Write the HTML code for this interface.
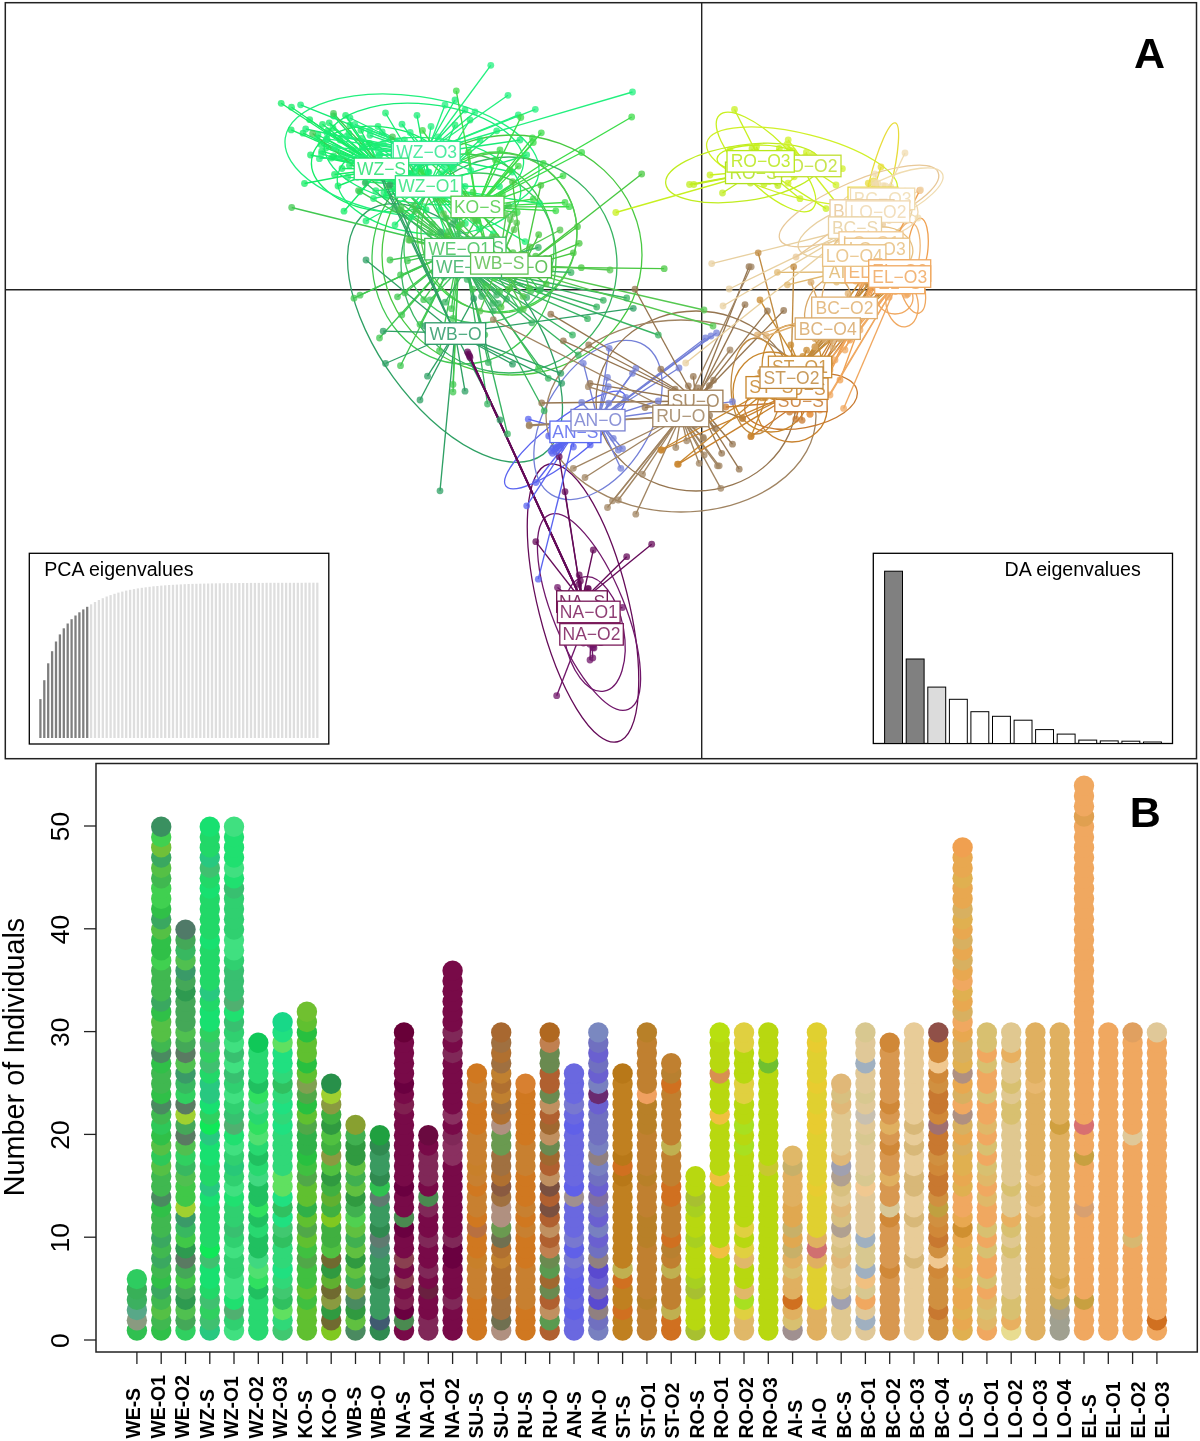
<!DOCTYPE html><html><head><meta charset="utf-8"><style>html,body{margin:0;padding:0;background:#fff;}svg{display:block;will-change:transform}</style></head><body>
<svg width="1200" height="1441" viewBox="0 0 1200 1441" font-family='"Liberation Sans", sans-serif'>
<rect width="1200" height="1441" fill="#fff"/>
<g id="A">
<line x1="5" y1="289.8" x2="1197" y2="289.8" stroke="#222" stroke-width="1.4"/>
<line x1="701.7" y1="3" x2="701.7" y2="759" stroke="#222" stroke-width="1.4"/>
<g fill="none" stroke-width="1.3"><ellipse cx="381.0" cy="169.0" rx="70" ry="42" transform="rotate(8 381.0 169.0)" stroke="#14ec66"/><ellipse cx="429.0" cy="186.0" rx="92" ry="48" transform="rotate(5 429.0 186.0)" stroke="#1cee72"/><ellipse cx="424.0" cy="154.0" rx="100" ry="50" transform="rotate(6 424.0 154.0)" stroke="#18ec76"/><ellipse cx="412.0" cy="156.0" rx="128" ry="60" transform="rotate(8 412.0 156.0)" stroke="#22f07e"/><ellipse cx="497.0" cy="232.0" rx="80" ry="80" transform="rotate(0 497.0 232.0)" stroke="#3cdc48"/><ellipse cx="512.0" cy="255.0" rx="130" ry="120" transform="rotate(0 512.0 255.0)" stroke="#48c840"/><ellipse cx="479.0" cy="248.0" rx="75" ry="75" transform="rotate(0 479.0 248.0)" stroke="#40c860"/><ellipse cx="464.0" cy="259.0" rx="92" ry="105" transform="rotate(0 464.0 259.0)" stroke="#40c850"/><ellipse cx="509.0" cy="265.0" rx="108" ry="108" transform="rotate(0 509.0 265.0)" stroke="#38b462"/><ellipse cx="499.0" cy="233.0" rx="78" ry="80" transform="rotate(0 499.0 233.0)" stroke="#55c850"/><ellipse cx="455.0" cy="333.0" rx="150" ry="76" transform="rotate(54 455.0 333.0)" stroke="#2ea064"/><ellipse cx="583.0" cy="603.0" rx="143" ry="45" transform="rotate(76 583.0 603.0)" stroke="#640a58"/><ellipse cx="589.0" cy="612.0" rx="105" ry="36" transform="rotate(68 589.0 612.0)" stroke="#70166a"/><ellipse cx="594.0" cy="634.0" rx="58" ry="30" transform="rotate(80 594.0 634.0)" stroke="#70166a"/><ellipse cx="565.0" cy="440.0" rx="75" ry="20" transform="rotate(-38 565.0 440.0)" stroke="#5a64f0"/><ellipse cx="598.0" cy="420.0" rx="88" ry="52" transform="rotate(-58 598.0 420.0)" stroke="#7480d8"/><ellipse cx="696.0" cy="401.0" rx="100" ry="90" transform="rotate(0 696.0 401.0)" stroke="#957550"/><ellipse cx="681.0" cy="416.0" rx="135" ry="96" transform="rotate(0 681.0 416.0)" stroke="#a08462"/><ellipse cx="801.0" cy="401.0" rx="57" ry="27" transform="rotate(-10 801.0 401.0)" stroke="#c87a30"/><ellipse cx="792.0" cy="409.0" rx="35" ry="33" transform="rotate(0 792.0 409.0)" stroke="#c8822e"/><ellipse cx="771.0" cy="392.0" rx="38" ry="40" transform="rotate(0 771.0 392.0)" stroke="#c8862c"/><ellipse cx="792.0" cy="367.0" rx="30" ry="42" transform="rotate(0 792.0 367.0)" stroke="#c88a30"/><ellipse cx="756.0" cy="386.0" rx="25" ry="48" transform="rotate(0 756.0 386.0)" stroke="#c08a40"/><ellipse cx="743.0" cy="173.0" rx="78" ry="28" transform="rotate(-8 743.0 173.0)" stroke="#c0ec20"/><ellipse cx="766.0" cy="162.0" rx="66" ry="24" transform="rotate(45 766.0 162.0)" stroke="#c8f020"/><ellipse cx="802.0" cy="166.0" rx="98" ry="32" transform="rotate(14 802.0 166.0)" stroke="#d0f028"/><ellipse cx="759.0" cy="159.0" rx="42" ry="14" transform="rotate(0 759.0 159.0)" stroke="#c4f018"/><ellipse cx="880.0" cy="184.0" rx="11" ry="63" transform="rotate(14 880.0 184.0)" stroke="#e8dc3c"/><ellipse cx="855.0" cy="228.0" rx="60" ry="22" transform="rotate(-20 855.0 228.0)" stroke="#e8d0a0"/><ellipse cx="859.0" cy="206.0" rx="86" ry="25" transform="rotate(-23 859.0 206.0)" stroke="#e8c898"/><ellipse cx="845.0" cy="293.0" rx="22" ry="36" transform="rotate(15 845.0 293.0)" stroke="#e0b070"/><ellipse cx="888.0" cy="199.0" rx="60" ry="20" transform="rotate(-25 888.0 199.0)" stroke="#f0dcb0"/><ellipse cx="828.0" cy="309.0" rx="22" ry="32" transform="rotate(20 828.0 309.0)" stroke="#d8a868"/><ellipse cx="918.0" cy="248.0" rx="10" ry="30" transform="rotate(5 918.0 248.0)" stroke="#f0a050"/><ellipse cx="905.0" cy="258.0" rx="14" ry="36" transform="rotate(10 905.0 258.0)" stroke="#f0b878"/><ellipse cx="878.0" cy="212.0" rx="40" ry="24" transform="rotate(0 878.0 212.0)" stroke="#f0d8b0"/><ellipse cx="885.0" cy="249.0" rx="28" ry="22" transform="rotate(10 885.0 249.0)" stroke="#e8c080"/><ellipse cx="862.0" cy="256.0" rx="30" ry="20" transform="rotate(20 862.0 256.0)" stroke="#e8c080"/><ellipse cx="902.0" cy="303.0" rx="16" ry="24" transform="rotate(-10 902.0 303.0)" stroke="#f0a860"/><ellipse cx="895.0" cy="298.0" rx="18" ry="16" transform="rotate(0 895.0 298.0)" stroke="#f0a860"/><ellipse cx="912.0" cy="286.0" rx="12" ry="28" transform="rotate(-15 912.0 286.0)" stroke="#f0a860"/></g>
<g stroke-width="1.35"><line x1="381.0" y1="169.0" x2="281.2" y2="103.3" stroke="#14ec66"/><line x1="381.0" y1="169.0" x2="309.7" y2="119.7" stroke="#14ec66"/><line x1="381.0" y1="169.0" x2="333.7" y2="116.0" stroke="#14ec66"/><line x1="381.0" y1="169.0" x2="322.5" y2="124.3" stroke="#14ec66"/><line x1="381.0" y1="169.0" x2="329.2" y2="122.8" stroke="#14ec66"/><line x1="381.0" y1="169.0" x2="333.0" y2="128.0" stroke="#14ec66"/><line x1="381.0" y1="169.0" x2="327.8" y2="131.0" stroke="#14ec66"/><line x1="381.0" y1="169.0" x2="327.0" y2="139.2" stroke="#14ec66"/><line x1="381.0" y1="169.0" x2="321.0" y2="144.5" stroke="#14ec66"/><line x1="381.0" y1="169.0" x2="321.7" y2="151.2" stroke="#14ec66"/><line x1="381.0" y1="169.0" x2="310.5" y2="155.0" stroke="#14ec66"/><line x1="381.0" y1="169.0" x2="331.5" y2="158.0" stroke="#14ec66"/><line x1="381.0" y1="169.0" x2="342.0" y2="168.5" stroke="#14ec66"/><line x1="381.0" y1="169.0" x2="334.5" y2="174.5" stroke="#14ec66"/><line x1="381.0" y1="169.0" x2="304.5" y2="183.5" stroke="#14ec66"/><line x1="381.0" y1="169.0" x2="344.0" y2="211.2" stroke="#14ec66"/><line x1="381.0" y1="169.0" x2="318.0" y2="135.0" stroke="#14ec66"/><line x1="381.0" y1="169.0" x2="326.0" y2="148.0" stroke="#14ec66"/><line x1="381.0" y1="169.0" x2="340.0" y2="140.0" stroke="#14ec66"/><line x1="381.0" y1="169.0" x2="350.0" y2="125.0" stroke="#14ec66"/><line x1="381.0" y1="169.0" x2="352.0" y2="150.0" stroke="#14ec66"/><line x1="381.0" y1="169.0" x2="338.0" y2="186.0" stroke="#14ec66"/><line x1="381.0" y1="169.0" x2="359.9" y2="191.8" stroke="#14ec66"/><line x1="381.0" y1="169.0" x2="431.2" y2="179.7" stroke="#14ec66"/><line x1="381.0" y1="169.0" x2="362.4" y2="147.2" stroke="#14ec66"/><line x1="381.0" y1="169.0" x2="397.3" y2="174.9" stroke="#14ec66"/><line x1="381.0" y1="169.0" x2="422.0" y2="142.9" stroke="#14ec66"/><line x1="381.0" y1="169.0" x2="442.9" y2="195.2" stroke="#14ec66"/><line x1="381.0" y1="169.0" x2="403.1" y2="175.7" stroke="#14ec66"/><line x1="381.0" y1="169.0" x2="349.5" y2="165.2" stroke="#14ec66"/><line x1="381.0" y1="169.0" x2="410.2" y2="177.4" stroke="#14ec66"/><line x1="381.0" y1="169.0" x2="357.7" y2="174.4" stroke="#14ec66"/><line x1="381.0" y1="169.0" x2="345.6" y2="115.4" stroke="#14ec66"/><line x1="381.0" y1="169.0" x2="395.1" y2="159.0" stroke="#14ec66"/><line x1="381.0" y1="169.0" x2="291.5" y2="107.2" stroke="#14ec66"/><line x1="381.0" y1="169.0" x2="360.9" y2="130.3" stroke="#14ec66"/><line x1="381.0" y1="169.0" x2="303.0" y2="133.2" stroke="#14ec66"/><line x1="381.0" y1="169.0" x2="413.8" y2="178.3" stroke="#14ec66"/><line x1="381.0" y1="169.0" x2="333.7" y2="156.0" stroke="#14ec66"/><line x1="381.0" y1="169.0" x2="406.3" y2="173.2" stroke="#14ec66"/><line x1="381.0" y1="169.0" x2="386.0" y2="196.3" stroke="#14ec66"/><line x1="381.0" y1="169.0" x2="369.2" y2="143.4" stroke="#14ec66"/><line x1="381.0" y1="169.0" x2="384.5" y2="176.3" stroke="#14ec66"/><line x1="381.0" y1="169.0" x2="432.7" y2="161.6" stroke="#14ec66"/><line x1="381.0" y1="169.0" x2="348.8" y2="133.3" stroke="#14ec66"/><line x1="381.0" y1="169.0" x2="291.2" y2="129.9" stroke="#14ec66"/><line x1="381.0" y1="169.0" x2="401.8" y2="160.4" stroke="#14ec66"/><line x1="381.0" y1="169.0" x2="426.1" y2="209.7" stroke="#14ec66"/><line x1="381.0" y1="169.0" x2="395.7" y2="185.3" stroke="#14ec66"/><line x1="381.0" y1="169.0" x2="426.7" y2="157.6" stroke="#14ec66"/><line x1="429.0" y1="186.0" x2="366.0" y2="221.0" stroke="#1cee72"/><line x1="429.0" y1="186.0" x2="385.5" y2="113.0" stroke="#1cee72"/><line x1="429.0" y1="186.0" x2="378.0" y2="126.5" stroke="#1cee72"/><line x1="429.0" y1="186.0" x2="361.5" y2="138.5" stroke="#1cee72"/><line x1="429.0" y1="186.0" x2="366.0" y2="182.0" stroke="#1cee72"/><line x1="429.0" y1="186.0" x2="373.5" y2="198.5" stroke="#1cee72"/><line x1="429.0" y1="186.0" x2="384.0" y2="192.5" stroke="#1cee72"/><line x1="429.0" y1="186.0" x2="496.7" y2="130.8" stroke="#1cee72"/><line x1="429.0" y1="186.0" x2="526.7" y2="155.0" stroke="#1cee72"/><line x1="429.0" y1="186.0" x2="470.0" y2="120.0" stroke="#1cee72"/><line x1="429.0" y1="186.0" x2="480.0" y2="140.0" stroke="#1cee72"/><line x1="429.0" y1="186.0" x2="455.0" y2="125.0" stroke="#1cee72"/><line x1="429.0" y1="186.0" x2="360.0" y2="160.0" stroke="#1cee72"/><line x1="429.0" y1="186.0" x2="395.0" y2="225.0" stroke="#1cee72"/><line x1="429.0" y1="186.0" x2="460.0" y2="225.0" stroke="#1cee72"/><line x1="429.0" y1="186.0" x2="500.0" y2="200.0" stroke="#1cee72"/><line x1="429.0" y1="186.0" x2="440.3" y2="210.0" stroke="#1cee72"/><line x1="429.0" y1="186.0" x2="316.8" y2="137.9" stroke="#1cee72"/><line x1="429.0" y1="186.0" x2="392.7" y2="189.1" stroke="#1cee72"/><line x1="429.0" y1="186.0" x2="390.9" y2="168.3" stroke="#1cee72"/><line x1="429.0" y1="186.0" x2="441.2" y2="173.6" stroke="#1cee72"/><line x1="429.0" y1="186.0" x2="446.8" y2="195.8" stroke="#1cee72"/><line x1="429.0" y1="186.0" x2="445.5" y2="184.7" stroke="#1cee72"/><line x1="429.0" y1="186.0" x2="465.3" y2="223.4" stroke="#1cee72"/><line x1="429.0" y1="186.0" x2="398.0" y2="188.3" stroke="#1cee72"/><line x1="429.0" y1="186.0" x2="462.2" y2="251.3" stroke="#1cee72"/><line x1="429.0" y1="186.0" x2="321.5" y2="153.8" stroke="#1cee72"/><line x1="429.0" y1="186.0" x2="439.6" y2="192.3" stroke="#1cee72"/><line x1="429.0" y1="186.0" x2="347.7" y2="177.1" stroke="#1cee72"/><line x1="429.0" y1="186.0" x2="341.3" y2="156.5" stroke="#1cee72"/><line x1="429.0" y1="186.0" x2="499.5" y2="186.6" stroke="#1cee72"/><line x1="429.0" y1="186.0" x2="411.5" y2="147.0" stroke="#1cee72"/><line x1="429.0" y1="186.0" x2="411.3" y2="217.3" stroke="#1cee72"/><line x1="429.0" y1="186.0" x2="539.6" y2="203.5" stroke="#1cee72"/><line x1="429.0" y1="186.0" x2="376.3" y2="178.5" stroke="#1cee72"/><line x1="429.0" y1="186.0" x2="493.3" y2="233.7" stroke="#1cee72"/><line x1="429.0" y1="186.0" x2="371.4" y2="165.8" stroke="#1cee72"/><line x1="429.0" y1="186.0" x2="415.2" y2="176.6" stroke="#1cee72"/><line x1="429.0" y1="186.0" x2="371.1" y2="167.8" stroke="#1cee72"/><line x1="429.0" y1="186.0" x2="431.3" y2="187.9" stroke="#1cee72"/><line x1="429.0" y1="186.0" x2="415.5" y2="149.8" stroke="#1cee72"/><line x1="429.0" y1="186.0" x2="375.8" y2="190.7" stroke="#1cee72"/><line x1="429.0" y1="186.0" x2="418.8" y2="147.7" stroke="#1cee72"/><line x1="429.0" y1="186.0" x2="479.2" y2="228.9" stroke="#1cee72"/><line x1="429.0" y1="186.0" x2="525.0" y2="241.6" stroke="#1cee72"/><line x1="429.0" y1="186.0" x2="404.5" y2="139.9" stroke="#1cee72"/><line x1="429.0" y1="186.0" x2="457.6" y2="268.2" stroke="#1cee72"/><line x1="429.0" y1="186.0" x2="377.2" y2="145.3" stroke="#1cee72"/><line x1="429.0" y1="186.0" x2="454.2" y2="181.7" stroke="#1cee72"/><line x1="429.0" y1="186.0" x2="403.3" y2="166.6" stroke="#1cee72"/><line x1="424.0" y1="154.0" x2="417.0" y2="115.3" stroke="#18ec76"/><line x1="424.0" y1="154.0" x2="402.0" y2="124.2" stroke="#18ec76"/><line x1="424.0" y1="154.0" x2="465.0" y2="110.0" stroke="#18ec76"/><line x1="424.0" y1="154.0" x2="455.0" y2="100.0" stroke="#18ec76"/><line x1="424.0" y1="154.0" x2="520.0" y2="140.0" stroke="#18ec76"/><line x1="424.0" y1="154.0" x2="350.0" y2="118.0" stroke="#18ec76"/><line x1="424.0" y1="154.0" x2="407.1" y2="175.5" stroke="#18ec76"/><line x1="424.0" y1="154.0" x2="399.3" y2="170.5" stroke="#18ec76"/><line x1="424.0" y1="154.0" x2="379.6" y2="155.4" stroke="#18ec76"/><line x1="424.0" y1="154.0" x2="300.6" y2="104.8" stroke="#18ec76"/><line x1="424.0" y1="154.0" x2="444.4" y2="157.6" stroke="#18ec76"/><line x1="424.0" y1="154.0" x2="428.9" y2="172.2" stroke="#18ec76"/><line x1="424.0" y1="154.0" x2="465.1" y2="186.3" stroke="#18ec76"/><line x1="424.0" y1="154.0" x2="453.5" y2="168.0" stroke="#18ec76"/><line x1="424.0" y1="154.0" x2="370.0" y2="135.3" stroke="#18ec76"/><line x1="424.0" y1="154.0" x2="382.2" y2="132.0" stroke="#18ec76"/><line x1="424.0" y1="154.0" x2="374.9" y2="147.2" stroke="#18ec76"/><line x1="424.0" y1="154.0" x2="416.0" y2="154.1" stroke="#18ec76"/><line x1="424.0" y1="154.0" x2="305.7" y2="129.0" stroke="#18ec76"/><line x1="424.0" y1="154.0" x2="408.8" y2="175.8" stroke="#18ec76"/><line x1="424.0" y1="154.0" x2="433.7" y2="153.8" stroke="#18ec76"/><line x1="424.0" y1="154.0" x2="357.3" y2="177.3" stroke="#18ec76"/><line x1="424.0" y1="154.0" x2="432.4" y2="194.5" stroke="#18ec76"/><line x1="424.0" y1="154.0" x2="512.3" y2="172.0" stroke="#18ec76"/><line x1="424.0" y1="154.0" x2="419.5" y2="168.3" stroke="#18ec76"/><line x1="424.0" y1="154.0" x2="427.9" y2="171.9" stroke="#18ec76"/><line x1="424.0" y1="154.0" x2="411.4" y2="161.4" stroke="#18ec76"/><line x1="424.0" y1="154.0" x2="327.2" y2="133.2" stroke="#18ec76"/><line x1="424.0" y1="154.0" x2="363.9" y2="147.9" stroke="#18ec76"/><line x1="427.0" y1="152.0" x2="410.2" y2="132.5" stroke="#22f07e"/><line x1="427.0" y1="152.0" x2="431.0" y2="126.5" stroke="#22f07e"/><line x1="427.0" y1="152.0" x2="490.8" y2="65.3" stroke="#22f07e"/><line x1="427.0" y1="152.0" x2="508.0" y2="95.3" stroke="#22f07e"/><line x1="427.0" y1="152.0" x2="535.3" y2="109.3" stroke="#22f07e"/><line x1="427.0" y1="152.0" x2="518.3" y2="115.0" stroke="#22f07e"/><line x1="427.0" y1="152.0" x2="632.5" y2="92.0" stroke="#22f07e"/><line x1="427.0" y1="152.0" x2="445.0" y2="105.0" stroke="#22f07e"/><line x1="427.0" y1="152.0" x2="475.0" y2="112.0" stroke="#22f07e"/><line x1="427.0" y1="152.0" x2="379.0" y2="155.3" stroke="#22f07e"/><line x1="427.0" y1="152.0" x2="444.9" y2="167.8" stroke="#22f07e"/><line x1="427.0" y1="152.0" x2="420.5" y2="157.7" stroke="#22f07e"/><line x1="427.0" y1="152.0" x2="383.2" y2="143.4" stroke="#22f07e"/><line x1="427.0" y1="152.0" x2="378.5" y2="151.3" stroke="#22f07e"/><line x1="427.0" y1="152.0" x2="403.3" y2="161.2" stroke="#22f07e"/><line x1="427.0" y1="152.0" x2="334.6" y2="147.8" stroke="#22f07e"/><line x1="427.0" y1="152.0" x2="369.7" y2="130.4" stroke="#22f07e"/><line x1="427.0" y1="152.0" x2="397.4" y2="140.6" stroke="#22f07e"/><line x1="427.0" y1="152.0" x2="422.0" y2="147.0" stroke="#22f07e"/><line x1="427.0" y1="152.0" x2="354.8" y2="124.5" stroke="#22f07e"/><line x1="427.0" y1="152.0" x2="470.7" y2="170.3" stroke="#22f07e"/><line x1="427.0" y1="152.0" x2="346.3" y2="136.4" stroke="#22f07e"/><line x1="427.0" y1="152.0" x2="319.4" y2="158.7" stroke="#22f07e"/><line x1="427.0" y1="152.0" x2="326.4" y2="138.9" stroke="#22f07e"/><line x1="427.0" y1="152.0" x2="438.3" y2="136.9" stroke="#22f07e"/><line x1="427.0" y1="152.0" x2="416.0" y2="171.5" stroke="#22f07e"/><line x1="427.0" y1="152.0" x2="427.4" y2="162.3" stroke="#22f07e"/><line x1="427.0" y1="152.0" x2="452.0" y2="167.3" stroke="#22f07e"/><line x1="427.0" y1="152.0" x2="422.4" y2="154.6" stroke="#22f07e"/><line x1="427.0" y1="152.0" x2="440.6" y2="146.0" stroke="#22f07e"/><line x1="427.0" y1="152.0" x2="446.9" y2="154.8" stroke="#22f07e"/><line x1="477.0" y1="207.0" x2="456.3" y2="90.8" stroke="#3cdc48"/><line x1="477.0" y1="207.0" x2="631.7" y2="117.0" stroke="#3cdc48"/><line x1="477.0" y1="207.0" x2="541.3" y2="132.8" stroke="#3cdc48"/><line x1="477.0" y1="207.0" x2="532.5" y2="138.0" stroke="#3cdc48"/><line x1="477.0" y1="207.0" x2="533.3" y2="142.5" stroke="#3cdc48"/><line x1="477.0" y1="207.0" x2="581.7" y2="152.5" stroke="#3cdc48"/><line x1="477.0" y1="207.0" x2="543.3" y2="163.3" stroke="#3cdc48"/><line x1="477.0" y1="207.0" x2="563.0" y2="175.8" stroke="#3cdc48"/><line x1="477.0" y1="207.0" x2="533.3" y2="199.0" stroke="#3cdc48"/><line x1="477.0" y1="207.0" x2="565.0" y2="202.5" stroke="#3cdc48"/><line x1="477.0" y1="207.0" x2="569.2" y2="206.7" stroke="#3cdc48"/><line x1="477.0" y1="207.0" x2="555.8" y2="210.8" stroke="#3cdc48"/><line x1="477.0" y1="207.0" x2="520.8" y2="117.5" stroke="#3cdc48"/><line x1="477.0" y1="207.0" x2="500.0" y2="150.0" stroke="#3cdc48"/><line x1="477.0" y1="207.0" x2="510.0" y2="170.0" stroke="#3cdc48"/><line x1="477.0" y1="207.0" x2="421.0" y2="171.9" stroke="#3cdc48"/><line x1="477.0" y1="207.0" x2="539.4" y2="290.7" stroke="#3cdc48"/><line x1="477.0" y1="207.0" x2="442.1" y2="200.5" stroke="#3cdc48"/><line x1="477.0" y1="207.0" x2="458.1" y2="187.1" stroke="#3cdc48"/><line x1="477.0" y1="207.0" x2="518.4" y2="166.1" stroke="#3cdc48"/><line x1="477.0" y1="207.0" x2="502.4" y2="194.7" stroke="#3cdc48"/><line x1="477.0" y1="207.0" x2="468.6" y2="151.9" stroke="#3cdc48"/><line x1="477.0" y1="207.0" x2="422.5" y2="130.4" stroke="#3cdc48"/><line x1="477.0" y1="207.0" x2="488.2" y2="270.7" stroke="#3cdc48"/><line x1="477.0" y1="207.0" x2="458.3" y2="226.9" stroke="#3cdc48"/><line x1="477.0" y1="207.0" x2="495.6" y2="160.2" stroke="#3cdc48"/><line x1="477.0" y1="207.0" x2="476.7" y2="221.3" stroke="#3cdc48"/><line x1="477.0" y1="207.0" x2="452.4" y2="196.3" stroke="#3cdc48"/><line x1="477.0" y1="207.0" x2="517.2" y2="212.5" stroke="#3cdc48"/><line x1="477.0" y1="207.0" x2="412.7" y2="145.8" stroke="#3cdc48"/><line x1="477.0" y1="207.0" x2="473.0" y2="192.1" stroke="#3cdc48"/><line x1="477.0" y1="207.0" x2="494.6" y2="278.1" stroke="#3cdc48"/><line x1="523.0" y1="267.0" x2="641.7" y2="174.0" stroke="#48c840"/><line x1="523.0" y1="267.0" x2="664.2" y2="268.7" stroke="#48c840"/><line x1="523.0" y1="267.0" x2="579.2" y2="243.3" stroke="#48c840"/><line x1="523.0" y1="267.0" x2="573.3" y2="253.0" stroke="#48c840"/><line x1="523.0" y1="267.0" x2="577.5" y2="226.7" stroke="#48c840"/><line x1="523.0" y1="267.0" x2="512.5" y2="181.7" stroke="#48c840"/><line x1="523.0" y1="267.0" x2="540.8" y2="185.3" stroke="#48c840"/><line x1="523.0" y1="267.0" x2="482.4" y2="248.3" stroke="#48c840"/><line x1="523.0" y1="267.0" x2="529.0" y2="287.9" stroke="#48c840"/><line x1="523.0" y1="267.0" x2="550.4" y2="269.8" stroke="#48c840"/><line x1="523.0" y1="267.0" x2="501.0" y2="307.2" stroke="#48c840"/><line x1="523.0" y1="267.0" x2="545.7" y2="258.4" stroke="#48c840"/><line x1="523.0" y1="267.0" x2="508.7" y2="288.8" stroke="#48c840"/><line x1="523.0" y1="267.0" x2="529.8" y2="246.9" stroke="#48c840"/><line x1="523.0" y1="267.0" x2="581.3" y2="267.7" stroke="#48c840"/><line x1="523.0" y1="267.0" x2="525.6" y2="261.3" stroke="#48c840"/><line x1="523.0" y1="267.0" x2="447.3" y2="235.8" stroke="#48c840"/><line x1="523.0" y1="267.0" x2="538.7" y2="234.7" stroke="#48c840"/><line x1="523.0" y1="267.0" x2="535.7" y2="256.1" stroke="#48c840"/><line x1="523.0" y1="267.0" x2="453.5" y2="178.8" stroke="#48c840"/><line x1="523.0" y1="267.0" x2="506.9" y2="266.8" stroke="#48c840"/><line x1="523.0" y1="267.0" x2="513.0" y2="252.7" stroke="#48c840"/><line x1="523.0" y1="267.0" x2="527.6" y2="256.6" stroke="#48c840"/><line x1="523.0" y1="267.0" x2="546.2" y2="283.9" stroke="#48c840"/><line x1="523.0" y1="267.0" x2="509.4" y2="265.9" stroke="#48c840"/><line x1="479.0" y1="248.0" x2="430.0" y2="300.0" stroke="#40c860"/><line x1="479.0" y1="248.0" x2="520.0" y2="310.0" stroke="#40c860"/><line x1="479.0" y1="248.0" x2="457.9" y2="233.8" stroke="#40c860"/><line x1="479.0" y1="248.0" x2="509.6" y2="254.7" stroke="#40c860"/><line x1="479.0" y1="248.0" x2="473.3" y2="254.8" stroke="#40c860"/><line x1="479.0" y1="248.0" x2="469.4" y2="253.6" stroke="#40c860"/><line x1="459.0" y1="249.0" x2="291.7" y2="207.5" stroke="#40c850"/><line x1="459.0" y1="249.0" x2="400.5" y2="275.0" stroke="#40c850"/><line x1="459.0" y1="249.0" x2="354.0" y2="298.2" stroke="#40c850"/><line x1="459.0" y1="249.0" x2="360.0" y2="295.2" stroke="#40c850"/><line x1="459.0" y1="249.0" x2="397.5" y2="296.8" stroke="#40c850"/><line x1="459.0" y1="249.0" x2="423.7" y2="299.7" stroke="#40c850"/><line x1="459.0" y1="249.0" x2="420.0" y2="324.5" stroke="#40c850"/><line x1="459.0" y1="249.0" x2="379.5" y2="338.0" stroke="#40c850"/><line x1="459.0" y1="249.0" x2="400.5" y2="365.7" stroke="#40c850"/><line x1="459.0" y1="249.0" x2="439.5" y2="350.7" stroke="#40c850"/><line x1="459.0" y1="249.0" x2="453.0" y2="384.5" stroke="#40c850"/><line x1="459.0" y1="249.0" x2="453.0" y2="392.0" stroke="#40c850"/><line x1="459.0" y1="249.0" x2="451.5" y2="308.7" stroke="#40c850"/><line x1="459.0" y1="249.0" x2="453.0" y2="318.5" stroke="#40c850"/><line x1="459.0" y1="249.0" x2="410.0" y2="240.0" stroke="#40c850"/><line x1="459.0" y1="249.0" x2="400.0" y2="210.0" stroke="#40c850"/><line x1="459.0" y1="249.0" x2="390.0" y2="260.0" stroke="#40c850"/><line x1="459.0" y1="249.0" x2="415.9" y2="210.6" stroke="#40c850"/><line x1="459.0" y1="249.0" x2="358.5" y2="190.6" stroke="#40c850"/><line x1="459.0" y1="249.0" x2="455.2" y2="184.3" stroke="#40c850"/><line x1="459.0" y1="249.0" x2="446.1" y2="217.9" stroke="#40c850"/><line x1="459.0" y1="249.0" x2="475.7" y2="220.2" stroke="#40c850"/><line x1="459.0" y1="249.0" x2="401.8" y2="314.9" stroke="#40c850"/><line x1="459.0" y1="249.0" x2="388.8" y2="185.7" stroke="#40c850"/><line x1="459.0" y1="249.0" x2="432.4" y2="224.2" stroke="#40c850"/><line x1="459.0" y1="249.0" x2="392.5" y2="136.8" stroke="#40c850"/><line x1="459.0" y1="249.0" x2="469.2" y2="252.8" stroke="#40c850"/><line x1="459.0" y1="249.0" x2="530.8" y2="290.9" stroke="#40c850"/><line x1="459.0" y1="249.0" x2="404.9" y2="292.9" stroke="#40c850"/><line x1="459.0" y1="249.0" x2="432.5" y2="185.5" stroke="#40c850"/><line x1="459.0" y1="249.0" x2="448.3" y2="231.7" stroke="#40c850"/><line x1="459.0" y1="249.0" x2="482.5" y2="272.1" stroke="#40c850"/><line x1="459.0" y1="249.0" x2="413.2" y2="205.6" stroke="#40c850"/><line x1="459.0" y1="249.0" x2="538.5" y2="368.4" stroke="#40c850"/><line x1="459.0" y1="249.0" x2="333.5" y2="113.5" stroke="#40c850"/><line x1="459.0" y1="249.0" x2="400.9" y2="207.9" stroke="#40c850"/><line x1="459.0" y1="249.0" x2="407.5" y2="260.8" stroke="#40c850"/><line x1="459.0" y1="249.0" x2="472.8" y2="289.2" stroke="#40c850"/><line x1="459.0" y1="249.0" x2="457.6" y2="241.2" stroke="#40c850"/><line x1="459.0" y1="249.0" x2="440.5" y2="271.3" stroke="#40c850"/><line x1="459.0" y1="249.0" x2="477.9" y2="250.5" stroke="#40c850"/><line x1="459.0" y1="249.0" x2="499.7" y2="291.5" stroke="#40c850"/><line x1="459.0" y1="249.0" x2="459.7" y2="216.7" stroke="#40c850"/><line x1="459.0" y1="249.0" x2="436.2" y2="198.7" stroke="#40c850"/><line x1="459.0" y1="249.0" x2="312.6" y2="133.5" stroke="#40c850"/><line x1="459.0" y1="249.0" x2="476.8" y2="254.2" stroke="#40c850"/><line x1="459.0" y1="249.0" x2="485.6" y2="286.1" stroke="#40c850"/><line x1="459.0" y1="249.0" x2="508.5" y2="206.0" stroke="#40c850"/><line x1="459.0" y1="249.0" x2="429.7" y2="233.5" stroke="#40c850"/><line x1="459.0" y1="249.0" x2="484.8" y2="334.8" stroke="#40c850"/><line x1="467.0" y1="267.0" x2="626.7" y2="298.0" stroke="#38b462"/><line x1="467.0" y1="267.0" x2="603.3" y2="300.3" stroke="#38b462"/><line x1="467.0" y1="267.0" x2="596.7" y2="307.0" stroke="#38b462"/><line x1="467.0" y1="267.0" x2="587.5" y2="318.7" stroke="#38b462"/><line x1="467.0" y1="267.0" x2="658.3" y2="335.0" stroke="#38b462"/><line x1="467.0" y1="267.0" x2="572.5" y2="335.0" stroke="#38b462"/><line x1="467.0" y1="267.0" x2="578.3" y2="355.0" stroke="#38b462"/><line x1="467.0" y1="267.0" x2="548.3" y2="378.3" stroke="#38b462"/><line x1="467.0" y1="267.0" x2="488.3" y2="362.5" stroke="#38b462"/><line x1="467.0" y1="267.0" x2="487.5" y2="404.0" stroke="#38b462"/><line x1="467.0" y1="267.0" x2="544.2" y2="410.8" stroke="#38b462"/><line x1="467.0" y1="267.0" x2="507.5" y2="434.0" stroke="#38b462"/><line x1="467.0" y1="267.0" x2="526.7" y2="297.5" stroke="#38b462"/><line x1="467.0" y1="267.0" x2="506.7" y2="299.0" stroke="#38b462"/><line x1="467.0" y1="267.0" x2="498.3" y2="303.3" stroke="#38b462"/><line x1="467.0" y1="267.0" x2="493.3" y2="310.8" stroke="#38b462"/><line x1="467.0" y1="267.0" x2="496.7" y2="295.0" stroke="#38b462"/><line x1="467.0" y1="267.0" x2="538.3" y2="247.5" stroke="#38b462"/><line x1="467.0" y1="267.0" x2="540.5" y2="289.5" stroke="#38b462"/><line x1="467.0" y1="267.0" x2="365.2" y2="182.8" stroke="#38b462"/><line x1="467.0" y1="267.0" x2="444.0" y2="277.1" stroke="#38b462"/><line x1="467.0" y1="267.0" x2="452.8" y2="256.5" stroke="#38b462"/><line x1="467.0" y1="267.0" x2="394.8" y2="207.5" stroke="#38b462"/><line x1="467.0" y1="267.0" x2="437.8" y2="246.6" stroke="#38b462"/><line x1="467.0" y1="267.0" x2="482.2" y2="272.5" stroke="#38b462"/><line x1="467.0" y1="267.0" x2="474.6" y2="269.1" stroke="#38b462"/><line x1="467.0" y1="267.0" x2="481.6" y2="296.5" stroke="#38b462"/><line x1="467.0" y1="267.0" x2="452.4" y2="224.1" stroke="#38b462"/><line x1="467.0" y1="267.0" x2="531.8" y2="322.8" stroke="#38b462"/><line x1="467.0" y1="267.0" x2="492.8" y2="303.4" stroke="#38b462"/><line x1="467.0" y1="267.0" x2="454.9" y2="220.2" stroke="#38b462"/><line x1="467.0" y1="267.0" x2="461.6" y2="266.8" stroke="#38b462"/><line x1="467.0" y1="267.0" x2="511.0" y2="255.8" stroke="#38b462"/><line x1="467.0" y1="267.0" x2="440.8" y2="232.0" stroke="#38b462"/><line x1="467.0" y1="267.0" x2="571.0" y2="272.5" stroke="#38b462"/><line x1="467.0" y1="267.0" x2="489.8" y2="263.4" stroke="#38b462"/><line x1="467.0" y1="267.0" x2="488.5" y2="264.0" stroke="#38b462"/><line x1="467.0" y1="267.0" x2="445.2" y2="302.2" stroke="#38b462"/><line x1="467.0" y1="267.0" x2="467.2" y2="279.4" stroke="#38b462"/><line x1="467.0" y1="267.0" x2="491.4" y2="256.6" stroke="#38b462"/><line x1="499.0" y1="263.0" x2="713.0" y2="326.0" stroke="#55c850"/><line x1="499.0" y1="263.0" x2="704.0" y2="310.0" stroke="#55c850"/><line x1="499.0" y1="263.0" x2="610.0" y2="270.0" stroke="#55c850"/><line x1="499.0" y1="263.0" x2="560.0" y2="230.0" stroke="#55c850"/><line x1="499.0" y1="263.0" x2="511.1" y2="259.7" stroke="#55c850"/><line x1="499.0" y1="263.0" x2="461.6" y2="223.8" stroke="#55c850"/><line x1="499.0" y1="263.0" x2="469.1" y2="255.9" stroke="#55c850"/><line x1="499.0" y1="263.0" x2="496.0" y2="236.6" stroke="#55c850"/><line x1="499.0" y1="263.0" x2="523.3" y2="309.0" stroke="#55c850"/><line x1="499.0" y1="263.0" x2="523.0" y2="296.4" stroke="#55c850"/><line x1="499.0" y1="263.0" x2="492.0" y2="236.8" stroke="#55c850"/><line x1="499.0" y1="263.0" x2="464.1" y2="258.1" stroke="#55c850"/><line x1="499.0" y1="263.0" x2="516.7" y2="222.8" stroke="#55c850"/><line x1="499.0" y1="263.0" x2="510.4" y2="219.7" stroke="#55c850"/><line x1="499.0" y1="263.0" x2="514.1" y2="229.7" stroke="#55c850"/><line x1="499.0" y1="263.0" x2="443.5" y2="213.7" stroke="#55c850"/><line x1="499.0" y1="263.0" x2="513.0" y2="213.9" stroke="#55c850"/><line x1="499.0" y1="263.0" x2="480.0" y2="311.1" stroke="#55c850"/><line x1="499.0" y1="263.0" x2="408.7" y2="240.0" stroke="#55c850"/><line x1="499.0" y1="263.0" x2="473.2" y2="218.6" stroke="#55c850"/><line x1="499.0" y1="263.0" x2="506.1" y2="215.1" stroke="#55c850"/><line x1="455.0" y1="333.0" x2="383.0" y2="178.0" stroke="#2ea064"/><line x1="455.0" y1="333.0" x2="390.0" y2="185.0" stroke="#2ea064"/><line x1="455.0" y1="333.0" x2="378.0" y2="172.0" stroke="#2ea064"/><line x1="455.0" y1="333.0" x2="366.0" y2="260.0" stroke="#2ea064"/><line x1="455.0" y1="333.0" x2="383.2" y2="331.2" stroke="#2ea064"/><line x1="455.0" y1="333.0" x2="385.5" y2="363.5" stroke="#2ea064"/><line x1="455.0" y1="333.0" x2="427.5" y2="376.2" stroke="#2ea064"/><line x1="455.0" y1="333.0" x2="465.0" y2="391.2" stroke="#2ea064"/><line x1="455.0" y1="333.0" x2="633.3" y2="308.3" stroke="#2ea064"/><line x1="455.0" y1="333.0" x2="560.8" y2="373.3" stroke="#2ea064"/><line x1="455.0" y1="333.0" x2="561.7" y2="383.3" stroke="#2ea064"/><line x1="455.0" y1="333.0" x2="512.5" y2="364.2" stroke="#2ea064"/><line x1="455.0" y1="333.0" x2="440.0" y2="490.8" stroke="#2ea064"/><line x1="455.0" y1="333.0" x2="420.0" y2="400.0" stroke="#2ea064"/><line x1="455.0" y1="333.0" x2="500.0" y2="420.0" stroke="#2ea064"/><line x1="455.0" y1="333.0" x2="481.0" y2="342.9" stroke="#2ea064"/><line x1="455.0" y1="333.0" x2="440.0" y2="327.5" stroke="#2ea064"/><line x1="455.0" y1="333.0" x2="424.7" y2="326.0" stroke="#2ea064"/><line x1="455.0" y1="333.0" x2="473.7" y2="298.7" stroke="#2ea064"/><line x1="455.0" y1="333.0" x2="446.3" y2="335.9" stroke="#2ea064"/><line x1="582.0" y1="601.0" x2="469.5" y2="356.0" stroke="#640a58" stroke-width="1.8"/><line x1="582.0" y1="601.0" x2="467.5" y2="352.0" stroke="#640a58" stroke-width="1.8"/><line x1="582.0" y1="601.0" x2="468.5" y2="354.0" stroke="#640a58" stroke-width="1.8"/><line x1="582.0" y1="601.0" x2="470.0" y2="357.5" stroke="#640a58" stroke-width="1.8"/><line x1="582.0" y1="601.0" x2="559.2" y2="456.7" stroke="#640a58"/><line x1="582.0" y1="601.0" x2="565.0" y2="491.7" stroke="#640a58"/><line x1="582.0" y1="601.0" x2="535.8" y2="541.7" stroke="#640a58"/><line x1="582.0" y1="601.0" x2="593.3" y2="550.0" stroke="#640a58"/><line x1="582.0" y1="601.0" x2="626.7" y2="556.7" stroke="#640a58"/><line x1="582.0" y1="601.0" x2="651.7" y2="544.2" stroke="#640a58"/><line x1="582.0" y1="601.0" x2="579.2" y2="575.0" stroke="#640a58"/><line x1="582.0" y1="601.0" x2="590.4" y2="611.8" stroke="#640a58"/><line x1="582.0" y1="601.0" x2="578.3" y2="595.1" stroke="#640a58"/><line x1="582.0" y1="601.0" x2="585.6" y2="598.1" stroke="#640a58"/><line x1="582.0" y1="601.0" x2="579.5" y2="609.6" stroke="#640a58"/><line x1="582.0" y1="601.0" x2="595.5" y2="603.1" stroke="#640a58"/><line x1="582.0" y1="601.0" x2="580.5" y2="605.6" stroke="#640a58"/><line x1="582.0" y1="601.0" x2="566.9" y2="600.9" stroke="#640a58"/><line x1="582.0" y1="601.0" x2="573.5" y2="620.1" stroke="#640a58"/><line x1="582.0" y1="601.0" x2="587.8" y2="602.1" stroke="#640a58"/><line x1="582.0" y1="601.0" x2="580.4" y2="580.9" stroke="#640a58"/><line x1="582.0" y1="601.0" x2="587.7" y2="614.0" stroke="#640a58"/><line x1="582.0" y1="601.0" x2="576.2" y2="606.5" stroke="#640a58"/><line x1="582.0" y1="601.0" x2="587.8" y2="588.6" stroke="#640a58"/><line x1="582.0" y1="601.0" x2="589.5" y2="611.8" stroke="#640a58"/><line x1="582.0" y1="601.0" x2="583.8" y2="600.5" stroke="#640a58"/><line x1="582.0" y1="601.0" x2="588.3" y2="588.7" stroke="#640a58"/><line x1="582.0" y1="601.0" x2="582.7" y2="609.4" stroke="#640a58"/><line x1="582.0" y1="601.0" x2="572.1" y2="608.9" stroke="#640a58"/><line x1="582.0" y1="601.0" x2="578.7" y2="584.4" stroke="#640a58"/><line x1="589.0" y1="612.0" x2="557.5" y2="587.5" stroke="#70166a"/><line x1="589.0" y1="612.0" x2="622.5" y2="607.5" stroke="#70166a"/><line x1="589.0" y1="612.0" x2="556.7" y2="695.7" stroke="#70166a"/><line x1="589.0" y1="612.0" x2="588.2" y2="604.2" stroke="#70166a"/><line x1="589.0" y1="612.0" x2="591.6" y2="602.6" stroke="#70166a"/><line x1="589.0" y1="612.0" x2="597.4" y2="606.1" stroke="#70166a"/><line x1="589.0" y1="612.0" x2="591.9" y2="607.2" stroke="#70166a"/><line x1="589.0" y1="612.0" x2="586.4" y2="621.5" stroke="#70166a"/><line x1="589.0" y1="612.0" x2="590.7" y2="608.8" stroke="#70166a"/><line x1="589.0" y1="612.0" x2="579.0" y2="621.3" stroke="#70166a"/><line x1="589.0" y1="612.0" x2="594.9" y2="609.4" stroke="#70166a"/><line x1="589.0" y1="612.0" x2="590.9" y2="603.8" stroke="#70166a"/><line x1="589.0" y1="612.0" x2="580.9" y2="605.4" stroke="#70166a"/><line x1="589.0" y1="612.0" x2="591.8" y2="614.4" stroke="#70166a"/><line x1="589.0" y1="612.0" x2="583.0" y2="617.9" stroke="#70166a"/><line x1="589.0" y1="612.0" x2="595.3" y2="613.4" stroke="#70166a"/><line x1="589.0" y1="612.0" x2="597.3" y2="609.7" stroke="#70166a"/><line x1="589.0" y1="612.0" x2="588.1" y2="615.8" stroke="#70166a"/><line x1="589.0" y1="612.0" x2="588.7" y2="618.4" stroke="#70166a"/><line x1="589.0" y1="612.0" x2="579.0" y2="623.4" stroke="#70166a"/><line x1="591.0" y1="634.0" x2="592.8" y2="657.9" stroke="#70166a"/><line x1="591.0" y1="634.0" x2="594.0" y2="648.0" stroke="#70166a"/><line x1="591.0" y1="634.0" x2="590.0" y2="660.0" stroke="#70166a"/><line x1="591.0" y1="634.0" x2="584.7" y2="632.7" stroke="#70166a"/><line x1="591.0" y1="634.0" x2="580.0" y2="638.8" stroke="#70166a"/><line x1="591.0" y1="634.0" x2="601.2" y2="642.6" stroke="#70166a"/><line x1="591.0" y1="634.0" x2="597.7" y2="621.5" stroke="#70166a"/><line x1="591.0" y1="634.0" x2="584.7" y2="630.3" stroke="#70166a"/><line x1="591.0" y1="634.0" x2="583.5" y2="643.0" stroke="#70166a"/><line x1="591.0" y1="634.0" x2="592.5" y2="633.8" stroke="#70166a"/><line x1="591.0" y1="634.0" x2="594.9" y2="626.4" stroke="#70166a"/><line x1="591.0" y1="634.0" x2="583.7" y2="626.9" stroke="#70166a"/><line x1="591.0" y1="634.0" x2="595.0" y2="636.7" stroke="#70166a"/><line x1="591.0" y1="634.0" x2="595.6" y2="642.6" stroke="#70166a"/><line x1="591.0" y1="634.0" x2="580.1" y2="629.5" stroke="#70166a"/><line x1="591.0" y1="634.0" x2="592.2" y2="623.2" stroke="#70166a"/><line x1="591.0" y1="634.0" x2="586.7" y2="642.1" stroke="#70166a"/><line x1="591.0" y1="634.0" x2="599.8" y2="642.6" stroke="#70166a"/><line x1="591.0" y1="634.0" x2="591.3" y2="632.3" stroke="#70166a"/><line x1="591.0" y1="634.0" x2="599.6" y2="631.0" stroke="#70166a"/><line x1="591.0" y1="634.0" x2="593.7" y2="644.6" stroke="#70166a"/><line x1="591.0" y1="634.0" x2="588.1" y2="629.1" stroke="#70166a"/><line x1="591.0" y1="634.0" x2="590.9" y2="638.8" stroke="#70166a"/><line x1="591.0" y1="634.0" x2="594.9" y2="635.2" stroke="#70166a"/><line x1="591.0" y1="634.0" x2="595.5" y2="621.2" stroke="#70166a"/><line x1="591.0" y1="634.0" x2="584.1" y2="635.3" stroke="#70166a"/><line x1="591.0" y1="634.0" x2="583.6" y2="623.3" stroke="#70166a"/><line x1="591.0" y1="634.0" x2="581.3" y2="626.7" stroke="#70166a"/><line x1="591.0" y1="634.0" x2="589.6" y2="625.8" stroke="#70166a"/><line x1="591.0" y1="634.0" x2="592.9" y2="647.6" stroke="#70166a"/><line x1="591.0" y1="634.0" x2="589.8" y2="644.2" stroke="#70166a"/><line x1="591.0" y1="634.0" x2="593.3" y2="625.0" stroke="#70166a"/><line x1="591.0" y1="634.0" x2="588.9" y2="626.1" stroke="#70166a"/><line x1="591.0" y1="634.0" x2="597.1" y2="624.8" stroke="#70166a"/><line x1="591.0" y1="634.0" x2="601.6" y2="638.6" stroke="#70166a"/><line x1="591.0" y1="634.0" x2="574.8" y2="640.3" stroke="#70166a"/><line x1="575.0" y1="432.0" x2="528.3" y2="419.2" stroke="#5a64f0"/><line x1="575.0" y1="432.0" x2="552.5" y2="453.3" stroke="#5a64f0"/><line x1="575.0" y1="432.0" x2="555.8" y2="447.5" stroke="#5a64f0"/><line x1="575.0" y1="432.0" x2="558.3" y2="445.8" stroke="#5a64f0"/><line x1="575.0" y1="432.0" x2="535.8" y2="482.5" stroke="#5a64f0"/><line x1="575.0" y1="432.0" x2="526.7" y2="505.8" stroke="#5a64f0"/><line x1="575.0" y1="432.0" x2="538.3" y2="579.2" stroke="#5a64f0"/><line x1="575.0" y1="432.0" x2="553.0" y2="448.0" stroke="#5a64f0"/><line x1="575.0" y1="432.0" x2="551.0" y2="451.0" stroke="#5a64f0"/><line x1="575.0" y1="432.0" x2="556.0" y2="452.0" stroke="#5a64f0"/><line x1="575.0" y1="432.0" x2="590.5" y2="424.1" stroke="#5a64f0"/><line x1="575.0" y1="432.0" x2="584.9" y2="414.0" stroke="#5a64f0"/><line x1="575.0" y1="432.0" x2="577.5" y2="415.4" stroke="#5a64f0"/><line x1="575.0" y1="432.0" x2="579.8" y2="414.1" stroke="#5a64f0"/><line x1="575.0" y1="432.0" x2="548.7" y2="436.0" stroke="#5a64f0"/><line x1="575.0" y1="432.0" x2="597.9" y2="426.0" stroke="#5a64f0"/><line x1="575.0" y1="432.0" x2="583.3" y2="433.1" stroke="#5a64f0"/><line x1="575.0" y1="432.0" x2="571.8" y2="438.2" stroke="#5a64f0"/><line x1="575.0" y1="432.0" x2="591.4" y2="419.6" stroke="#5a64f0"/><line x1="575.0" y1="432.0" x2="580.6" y2="435.5" stroke="#5a64f0"/><line x1="575.0" y1="432.0" x2="560.8" y2="448.1" stroke="#5a64f0"/><line x1="575.0" y1="432.0" x2="594.5" y2="422.5" stroke="#5a64f0"/><line x1="575.0" y1="432.0" x2="592.4" y2="432.6" stroke="#5a64f0"/><line x1="575.0" y1="432.0" x2="573.4" y2="447.0" stroke="#5a64f0"/><line x1="575.0" y1="432.0" x2="577.3" y2="435.2" stroke="#5a64f0"/><line x1="575.0" y1="432.0" x2="590.2" y2="444.9" stroke="#5a64f0"/><line x1="598.0" y1="420.0" x2="609.2" y2="348.3" stroke="#7480d8"/><line x1="598.0" y1="420.0" x2="583.3" y2="363.3" stroke="#7480d8"/><line x1="598.0" y1="420.0" x2="635.8" y2="368.3" stroke="#7480d8"/><line x1="598.0" y1="420.0" x2="632.5" y2="373.3" stroke="#7480d8"/><line x1="598.0" y1="420.0" x2="607.5" y2="377.5" stroke="#7480d8"/><line x1="598.0" y1="420.0" x2="608.3" y2="386.7" stroke="#7480d8"/><line x1="598.0" y1="420.0" x2="625.8" y2="397.5" stroke="#7480d8"/><line x1="598.0" y1="420.0" x2="581.7" y2="402.5" stroke="#7480d8"/><line x1="598.0" y1="420.0" x2="658.3" y2="400.8" stroke="#7480d8"/><line x1="598.0" y1="420.0" x2="613.3" y2="438.3" stroke="#7480d8"/><line x1="598.0" y1="420.0" x2="618.3" y2="450.0" stroke="#7480d8"/><line x1="598.0" y1="420.0" x2="622.5" y2="448.7" stroke="#7480d8"/><line x1="598.0" y1="420.0" x2="620.8" y2="468.3" stroke="#7480d8"/><line x1="598.0" y1="420.0" x2="716.5" y2="333.0" stroke="#7480d8"/><line x1="598.0" y1="420.0" x2="705.5" y2="338.0" stroke="#7480d8"/><line x1="598.0" y1="420.0" x2="679.0" y2="368.0" stroke="#7480d8"/><line x1="598.0" y1="420.0" x2="732.5" y2="401.7" stroke="#7480d8"/><line x1="598.0" y1="420.0" x2="711.0" y2="336.0" stroke="#7480d8"/><line x1="598.0" y1="420.0" x2="608.7" y2="403.2" stroke="#7480d8"/><line x1="598.0" y1="420.0" x2="579.1" y2="433.5" stroke="#7480d8"/><line x1="598.0" y1="420.0" x2="586.9" y2="421.8" stroke="#7480d8"/><line x1="598.0" y1="420.0" x2="585.1" y2="417.8" stroke="#7480d8"/><line x1="598.0" y1="420.0" x2="582.7" y2="439.6" stroke="#7480d8"/><line x1="598.0" y1="420.0" x2="585.8" y2="418.5" stroke="#7480d8"/><line x1="598.0" y1="420.0" x2="595.7" y2="434.5" stroke="#7480d8"/><line x1="598.0" y1="420.0" x2="581.0" y2="419.6" stroke="#7480d8"/><line x1="598.0" y1="420.0" x2="595.5" y2="426.4" stroke="#7480d8"/><line x1="598.0" y1="420.0" x2="603.7" y2="414.4" stroke="#7480d8"/><line x1="598.0" y1="420.0" x2="600.9" y2="415.5" stroke="#7480d8"/><line x1="598.0" y1="420.0" x2="603.6" y2="418.8" stroke="#7480d8"/><line x1="696.0" y1="401.0" x2="635.0" y2="289.2" stroke="#957550"/><line x1="696.0" y1="401.0" x2="550.8" y2="314.2" stroke="#957550"/><line x1="696.0" y1="401.0" x2="563.3" y2="340.8" stroke="#957550"/><line x1="696.0" y1="401.0" x2="588.7" y2="345.0" stroke="#957550"/><line x1="696.0" y1="401.0" x2="590.0" y2="383.3" stroke="#957550"/><line x1="696.0" y1="401.0" x2="541.7" y2="403.0" stroke="#957550"/><line x1="696.0" y1="401.0" x2="645.0" y2="407.5" stroke="#957550"/><line x1="696.0" y1="401.0" x2="660.8" y2="369.2" stroke="#957550"/><line x1="696.0" y1="401.0" x2="688.3" y2="385.8" stroke="#957550"/><line x1="696.0" y1="401.0" x2="742.5" y2="418.3" stroke="#957550"/><line x1="696.0" y1="401.0" x2="715.0" y2="428.3" stroke="#957550"/><line x1="696.0" y1="401.0" x2="732.5" y2="444.2" stroke="#957550"/><line x1="696.0" y1="401.0" x2="721.7" y2="453.3" stroke="#957550"/><line x1="696.0" y1="401.0" x2="739.2" y2="469.2" stroke="#957550"/><line x1="696.0" y1="401.0" x2="749.0" y2="266.7" stroke="#957550"/><line x1="696.0" y1="401.0" x2="745.0" y2="304.6" stroke="#957550"/><line x1="696.0" y1="401.0" x2="783.7" y2="310.5" stroke="#957550"/><line x1="696.0" y1="401.0" x2="767.4" y2="311.0" stroke="#957550"/><line x1="696.0" y1="401.0" x2="688.1" y2="400.7" stroke="#957550"/><line x1="696.0" y1="401.0" x2="700.4" y2="423.7" stroke="#957550"/><line x1="696.0" y1="401.0" x2="690.1" y2="404.1" stroke="#957550"/><line x1="696.0" y1="401.0" x2="713.6" y2="380.2" stroke="#957550"/><line x1="696.0" y1="401.0" x2="675.1" y2="389.1" stroke="#957550"/><line x1="696.0" y1="401.0" x2="694.6" y2="425.4" stroke="#957550"/><line x1="696.0" y1="401.0" x2="700.7" y2="413.1" stroke="#957550"/><line x1="696.0" y1="401.0" x2="693.3" y2="376.4" stroke="#957550"/><line x1="696.0" y1="401.0" x2="668.2" y2="411.2" stroke="#957550"/><line x1="696.0" y1="401.0" x2="698.2" y2="388.0" stroke="#957550"/><line x1="696.0" y1="401.0" x2="709.4" y2="385.6" stroke="#957550"/><line x1="696.0" y1="401.0" x2="709.6" y2="415.5" stroke="#957550"/><line x1="681.0" y1="416.0" x2="493.3" y2="319.7" stroke="#a08462"/><line x1="681.0" y1="416.0" x2="588.3" y2="386.7" stroke="#a08462"/><line x1="681.0" y1="416.0" x2="529.2" y2="425.0" stroke="#a08462"/><line x1="681.0" y1="416.0" x2="529.2" y2="425.8" stroke="#a08462"/><line x1="681.0" y1="416.0" x2="573.3" y2="468.3" stroke="#a08462"/><line x1="681.0" y1="416.0" x2="585.0" y2="477.5" stroke="#a08462"/><line x1="681.0" y1="416.0" x2="642.5" y2="474.2" stroke="#a08462"/><line x1="681.0" y1="416.0" x2="675.8" y2="447.5" stroke="#a08462"/><line x1="681.0" y1="416.0" x2="686.7" y2="440.8" stroke="#a08462"/><line x1="681.0" y1="416.0" x2="704.2" y2="455.0" stroke="#a08462"/><line x1="681.0" y1="416.0" x2="699.2" y2="463.3" stroke="#a08462"/><line x1="681.0" y1="416.0" x2="717.5" y2="465.8" stroke="#a08462"/><line x1="681.0" y1="416.0" x2="612.5" y2="500.8" stroke="#a08462"/><line x1="681.0" y1="416.0" x2="618.3" y2="500.0" stroke="#a08462"/><line x1="681.0" y1="416.0" x2="607.5" y2="507.5" stroke="#a08462"/><line x1="681.0" y1="416.0" x2="635.8" y2="514.2" stroke="#a08462"/><line x1="681.0" y1="416.0" x2="703.3" y2="438.3" stroke="#a08462"/><line x1="681.0" y1="416.0" x2="703.3" y2="437.5" stroke="#a08462"/><line x1="681.0" y1="416.0" x2="719.2" y2="465.8" stroke="#a08462"/><line x1="681.0" y1="416.0" x2="720.8" y2="488.3" stroke="#a08462"/><line x1="681.0" y1="416.0" x2="751.2" y2="266.8" stroke="#a08462"/><line x1="681.0" y1="416.0" x2="730.0" y2="350.0" stroke="#a08462"/><line x1="681.0" y1="416.0" x2="671.8" y2="404.9" stroke="#a08462"/><line x1="681.0" y1="416.0" x2="691.1" y2="405.0" stroke="#a08462"/><line x1="681.0" y1="416.0" x2="691.3" y2="404.0" stroke="#a08462"/><line x1="681.0" y1="416.0" x2="690.7" y2="416.9" stroke="#a08462"/><line x1="681.0" y1="416.0" x2="675.8" y2="407.0" stroke="#a08462"/><line x1="681.0" y1="416.0" x2="683.9" y2="397.1" stroke="#a08462"/><line x1="681.0" y1="416.0" x2="677.7" y2="412.0" stroke="#a08462"/><line x1="681.0" y1="416.0" x2="689.1" y2="403.5" stroke="#a08462"/><line x1="801.0" y1="401.0" x2="725.8" y2="407.0" stroke="#c87a30"/><line x1="801.0" y1="401.0" x2="750.8" y2="436.7" stroke="#c87a30"/><line x1="801.0" y1="401.0" x2="795.8" y2="419.2" stroke="#c87a30"/><line x1="801.0" y1="401.0" x2="810.0" y2="414.2" stroke="#c87a30"/><line x1="801.0" y1="401.0" x2="872.0" y2="282.0" stroke="#c87a30"/><line x1="801.0" y1="401.0" x2="884.0" y2="284.0" stroke="#c87a30"/><line x1="801.0" y1="401.0" x2="864.0" y2="280.0" stroke="#c87a30"/><line x1="801.0" y1="401.0" x2="818.1" y2="398.5" stroke="#c87a30"/><line x1="801.0" y1="401.0" x2="789.6" y2="412.1" stroke="#c87a30"/><line x1="801.0" y1="401.0" x2="817.6" y2="399.5" stroke="#c87a30"/><line x1="801.0" y1="401.0" x2="792.1" y2="401.1" stroke="#c87a30"/><line x1="801.0" y1="401.0" x2="794.1" y2="398.5" stroke="#c87a30"/><line x1="801.0" y1="401.0" x2="816.6" y2="404.1" stroke="#c87a30"/><line x1="801.0" y1="401.0" x2="802.5" y2="403.8" stroke="#c87a30"/><line x1="801.0" y1="401.0" x2="800.4" y2="407.7" stroke="#c87a30"/><line x1="801.0" y1="401.0" x2="809.8" y2="398.0" stroke="#c87a30"/><line x1="801.0" y1="401.0" x2="802.1" y2="420.3" stroke="#c87a30"/><line x1="801.0" y1="401.0" x2="805.2" y2="399.5" stroke="#c87a30"/><line x1="801.0" y1="401.0" x2="821.5" y2="401.1" stroke="#c87a30"/><line x1="801.0" y1="401.0" x2="790.0" y2="406.4" stroke="#c87a30"/><line x1="801.0" y1="401.0" x2="792.0" y2="397.0" stroke="#c87a30"/><line x1="801.0" y1="401.0" x2="804.3" y2="400.0" stroke="#c87a30"/><line x1="801.0" y1="401.0" x2="793.4" y2="396.6" stroke="#c87a30"/><line x1="801.0" y1="401.0" x2="795.1" y2="410.3" stroke="#c87a30"/><line x1="801.0" y1="401.0" x2="793.8" y2="396.4" stroke="#c87a30"/><line x1="801.0" y1="401.0" x2="821.4" y2="396.6" stroke="#c87a30"/><line x1="802.0" y1="389.0" x2="678.3" y2="464.2" stroke="#c8822e"/><line x1="802.0" y1="389.0" x2="661.7" y2="450.0" stroke="#c8822e"/><line x1="802.0" y1="389.0" x2="742.5" y2="418.4" stroke="#c8822e"/><line x1="802.0" y1="389.0" x2="866.0" y2="281.0" stroke="#c8822e"/><line x1="802.0" y1="389.0" x2="888.0" y2="283.0" stroke="#c8822e"/><line x1="802.0" y1="389.0" x2="816.9" y2="399.5" stroke="#c8822e"/><line x1="802.0" y1="389.0" x2="800.5" y2="377.6" stroke="#c8822e"/><line x1="802.0" y1="389.0" x2="806.5" y2="394.4" stroke="#c8822e"/><line x1="802.0" y1="389.0" x2="811.7" y2="389.6" stroke="#c8822e"/><line x1="802.0" y1="389.0" x2="814.0" y2="400.1" stroke="#c8822e"/><line x1="802.0" y1="389.0" x2="791.5" y2="400.4" stroke="#c8822e"/><line x1="802.0" y1="389.0" x2="803.7" y2="384.5" stroke="#c8822e"/><line x1="802.0" y1="389.0" x2="798.8" y2="404.0" stroke="#c8822e"/><line x1="802.0" y1="389.0" x2="811.8" y2="374.7" stroke="#c8822e"/><line x1="802.0" y1="389.0" x2="802.8" y2="387.9" stroke="#c8822e"/><line x1="802.0" y1="389.0" x2="800.2" y2="384.9" stroke="#c8822e"/><line x1="802.0" y1="389.0" x2="787.4" y2="395.9" stroke="#c8822e"/><line x1="802.0" y1="389.0" x2="792.6" y2="386.0" stroke="#c8822e"/><line x1="802.0" y1="389.0" x2="796.0" y2="383.2" stroke="#c8822e"/><line x1="802.0" y1="389.0" x2="809.4" y2="392.1" stroke="#c8822e"/><line x1="802.0" y1="389.0" x2="795.3" y2="381.4" stroke="#c8822e"/><line x1="802.0" y1="389.0" x2="797.3" y2="396.7" stroke="#c8822e"/><line x1="802.0" y1="389.0" x2="803.3" y2="390.9" stroke="#c8822e"/><line x1="802.0" y1="389.0" x2="798.7" y2="386.9" stroke="#c8822e"/><line x1="802.0" y1="389.0" x2="804.2" y2="374.3" stroke="#c8822e"/><line x1="771.0" y1="387.0" x2="751.2" y2="436.0" stroke="#c8862c"/><line x1="771.0" y1="387.0" x2="660.8" y2="450.0" stroke="#c8862c"/><line x1="771.0" y1="387.0" x2="677.5" y2="464.2" stroke="#c8862c"/><line x1="771.0" y1="387.0" x2="787.1" y2="380.7" stroke="#c8862c"/><line x1="771.0" y1="387.0" x2="765.3" y2="397.7" stroke="#c8862c"/><line x1="771.0" y1="387.0" x2="773.2" y2="387.3" stroke="#c8862c"/><line x1="771.0" y1="387.0" x2="765.2" y2="374.5" stroke="#c8862c"/><line x1="771.0" y1="387.0" x2="772.8" y2="396.6" stroke="#c8862c"/><line x1="771.0" y1="387.0" x2="762.0" y2="397.9" stroke="#c8862c"/><line x1="771.0" y1="387.0" x2="759.7" y2="381.1" stroke="#c8862c"/><line x1="771.0" y1="387.0" x2="776.1" y2="387.0" stroke="#c8862c"/><line x1="771.0" y1="387.0" x2="777.9" y2="381.1" stroke="#c8862c"/><line x1="771.0" y1="387.0" x2="760.7" y2="372.1" stroke="#c8862c"/><line x1="771.0" y1="387.0" x2="759.0" y2="378.4" stroke="#c8862c"/><line x1="771.0" y1="387.0" x2="756.7" y2="389.5" stroke="#c8862c"/><line x1="771.0" y1="387.0" x2="764.4" y2="371.1" stroke="#c8862c"/><line x1="771.0" y1="387.0" x2="795.8" y2="380.3" stroke="#c8862c"/><line x1="771.0" y1="387.0" x2="758.4" y2="396.9" stroke="#c8862c"/><line x1="771.0" y1="387.0" x2="782.7" y2="377.8" stroke="#c8862c"/><line x1="771.0" y1="387.0" x2="756.3" y2="379.0" stroke="#c8862c"/><line x1="771.0" y1="387.0" x2="782.3" y2="384.5" stroke="#c8862c"/><line x1="771.0" y1="387.0" x2="762.9" y2="386.8" stroke="#c8862c"/><line x1="771.0" y1="387.0" x2="783.0" y2="375.9" stroke="#c8862c"/><line x1="771.0" y1="387.0" x2="767.2" y2="375.9" stroke="#c8862c"/><line x1="771.0" y1="387.0" x2="792.7" y2="401.5" stroke="#c8862c"/><line x1="771.0" y1="387.0" x2="780.5" y2="385.9" stroke="#c8862c"/><line x1="800.0" y1="367.0" x2="760.0" y2="300.0" stroke="#c88a30"/><line x1="800.0" y1="367.0" x2="830.0" y2="362.0" stroke="#c88a30"/><line x1="800.0" y1="367.0" x2="815.0" y2="347.0" stroke="#c88a30"/><line x1="800.0" y1="367.0" x2="880.0" y2="280.0" stroke="#c88a30"/><line x1="800.0" y1="367.0" x2="870.0" y2="283.0" stroke="#c88a30"/><line x1="800.0" y1="367.0" x2="892.0" y2="284.0" stroke="#c88a30"/><line x1="800.0" y1="367.0" x2="862.0" y2="279.0" stroke="#c88a30"/><line x1="800.0" y1="367.0" x2="898.0" y2="281.0" stroke="#c88a30"/><line x1="800.0" y1="367.0" x2="806.6" y2="350.2" stroke="#c88a30"/><line x1="800.0" y1="367.0" x2="802.8" y2="356.3" stroke="#c88a30"/><line x1="800.0" y1="367.0" x2="786.8" y2="361.4" stroke="#c88a30"/><line x1="800.0" y1="367.0" x2="796.5" y2="371.6" stroke="#c88a30"/><line x1="800.0" y1="367.0" x2="807.0" y2="369.1" stroke="#c88a30"/><line x1="800.0" y1="367.0" x2="790.6" y2="372.4" stroke="#c88a30"/><line x1="800.0" y1="367.0" x2="798.8" y2="376.4" stroke="#c88a30"/><line x1="800.0" y1="367.0" x2="790.8" y2="344.9" stroke="#c88a30"/><line x1="800.0" y1="367.0" x2="795.2" y2="384.2" stroke="#c88a30"/><line x1="800.0" y1="367.0" x2="804.7" y2="365.4" stroke="#c88a30"/><line x1="800.0" y1="367.0" x2="808.8" y2="371.0" stroke="#c88a30"/><line x1="800.0" y1="367.0" x2="804.6" y2="362.9" stroke="#c88a30"/><line x1="800.0" y1="367.0" x2="800.8" y2="368.6" stroke="#c88a30"/><line x1="800.0" y1="367.0" x2="793.6" y2="358.1" stroke="#c88a30"/><line x1="800.0" y1="367.0" x2="801.4" y2="374.7" stroke="#c88a30"/><line x1="800.0" y1="367.0" x2="806.5" y2="371.0" stroke="#c88a30"/><line x1="800.0" y1="367.0" x2="805.0" y2="387.7" stroke="#c88a30"/><line x1="800.0" y1="367.0" x2="802.6" y2="375.3" stroke="#c88a30"/><line x1="800.0" y1="367.0" x2="819.6" y2="367.4" stroke="#c88a30"/><line x1="800.0" y1="367.0" x2="802.6" y2="375.4" stroke="#c88a30"/><line x1="800.0" y1="367.0" x2="816.9" y2="369.5" stroke="#c88a30"/><line x1="800.0" y1="367.0" x2="803.6" y2="367.7" stroke="#c88a30"/><line x1="791.0" y1="378.0" x2="758.2" y2="252.8" stroke="#c08a40"/><line x1="791.0" y1="378.0" x2="793.7" y2="266.8" stroke="#c08a40"/><line x1="791.0" y1="378.0" x2="876.0" y2="283.0" stroke="#c08a40"/><line x1="791.0" y1="378.0" x2="886.0" y2="281.0" stroke="#c08a40"/><line x1="791.0" y1="378.0" x2="868.0" y2="284.0" stroke="#c08a40"/><line x1="791.0" y1="378.0" x2="778.9" y2="386.9" stroke="#c08a40"/><line x1="791.0" y1="378.0" x2="788.5" y2="364.2" stroke="#c08a40"/><line x1="791.0" y1="378.0" x2="789.6" y2="364.2" stroke="#c08a40"/><line x1="791.0" y1="378.0" x2="781.0" y2="378.2" stroke="#c08a40"/><line x1="791.0" y1="378.0" x2="781.8" y2="386.6" stroke="#c08a40"/><line x1="791.0" y1="378.0" x2="776.4" y2="380.2" stroke="#c08a40"/><line x1="791.0" y1="378.0" x2="796.6" y2="389.7" stroke="#c08a40"/><line x1="791.0" y1="378.0" x2="800.3" y2="379.9" stroke="#c08a40"/><line x1="791.0" y1="378.0" x2="791.9" y2="377.6" stroke="#c08a40"/><line x1="791.0" y1="378.0" x2="802.5" y2="372.8" stroke="#c08a40"/><line x1="791.0" y1="378.0" x2="796.3" y2="377.3" stroke="#c08a40"/><line x1="791.0" y1="378.0" x2="793.5" y2="376.0" stroke="#c08a40"/><line x1="791.0" y1="378.0" x2="812.5" y2="372.8" stroke="#c08a40"/><line x1="791.0" y1="378.0" x2="793.6" y2="380.3" stroke="#c08a40"/><line x1="791.0" y1="378.0" x2="797.2" y2="381.7" stroke="#c08a40"/><line x1="791.0" y1="378.0" x2="795.4" y2="385.9" stroke="#c08a40"/><line x1="791.0" y1="378.0" x2="776.1" y2="378.2" stroke="#c08a40"/><line x1="791.0" y1="378.0" x2="778.8" y2="380.0" stroke="#c08a40"/><line x1="791.0" y1="378.0" x2="779.3" y2="370.4" stroke="#c08a40"/><line x1="791.0" y1="378.0" x2="790.5" y2="389.3" stroke="#c08a40"/><line x1="791.0" y1="378.0" x2="796.9" y2="380.5" stroke="#c08a40"/><line x1="791.0" y1="378.0" x2="805.2" y2="370.5" stroke="#c08a40"/><line x1="753.0" y1="173.0" x2="722.5" y2="193.0" stroke="#c0ec20"/><line x1="753.0" y1="173.0" x2="752.0" y2="148.7" stroke="#c0ec20"/><line x1="753.0" y1="173.0" x2="689.5" y2="184.5" stroke="#c0ec20"/><line x1="753.0" y1="173.0" x2="693.8" y2="184.5" stroke="#c0ec20"/><line x1="753.0" y1="173.0" x2="732.2" y2="169.7" stroke="#c0ec20"/><line x1="753.0" y1="173.0" x2="750.4" y2="183.0" stroke="#c0ec20"/><line x1="753.0" y1="173.0" x2="774.5" y2="162.5" stroke="#c0ec20"/><line x1="753.0" y1="173.0" x2="777.9" y2="185.6" stroke="#c0ec20"/><line x1="753.0" y1="173.0" x2="761.5" y2="176.1" stroke="#c0ec20"/><line x1="753.0" y1="173.0" x2="777.4" y2="173.8" stroke="#c0ec20"/><line x1="753.0" y1="173.0" x2="748.4" y2="174.2" stroke="#c0ec20"/><line x1="753.0" y1="173.0" x2="739.4" y2="176.9" stroke="#c0ec20"/><line x1="753.0" y1="173.0" x2="752.0" y2="175.8" stroke="#c0ec20"/><line x1="753.0" y1="173.0" x2="756.7" y2="164.6" stroke="#c0ec20"/><line x1="753.0" y1="173.0" x2="766.3" y2="165.0" stroke="#c0ec20"/><line x1="753.0" y1="173.0" x2="762.0" y2="160.4" stroke="#c0ec20"/><line x1="765.0" y1="170.0" x2="734.5" y2="109.5" stroke="#c8f020"/><line x1="765.0" y1="170.0" x2="800.0" y2="198.7" stroke="#c8f020"/><line x1="765.0" y1="170.0" x2="826.0" y2="208.6" stroke="#c8f020"/><line x1="765.0" y1="170.0" x2="615.8" y2="212.5" stroke="#c8f020"/><line x1="765.0" y1="170.0" x2="710.0" y2="175.0" stroke="#c8f020"/><line x1="765.0" y1="170.0" x2="768.9" y2="163.6" stroke="#c8f020"/><line x1="765.0" y1="170.0" x2="765.6" y2="164.9" stroke="#c8f020"/><line x1="765.0" y1="170.0" x2="743.3" y2="161.2" stroke="#c8f020"/><line x1="765.0" y1="170.0" x2="765.8" y2="175.1" stroke="#c8f020"/><line x1="765.0" y1="170.0" x2="750.5" y2="153.1" stroke="#c8f020"/><line x1="765.0" y1="170.0" x2="756.4" y2="168.4" stroke="#c8f020"/><line x1="765.0" y1="170.0" x2="758.8" y2="163.6" stroke="#c8f020"/><line x1="765.0" y1="170.0" x2="773.7" y2="177.9" stroke="#c8f020"/><line x1="765.0" y1="170.0" x2="772.6" y2="162.6" stroke="#c8f020"/><line x1="765.0" y1="170.0" x2="765.9" y2="168.6" stroke="#c8f020"/><line x1="765.0" y1="170.0" x2="750.9" y2="177.2" stroke="#c8f020"/><line x1="765.0" y1="170.0" x2="766.0" y2="166.2" stroke="#c8f020"/><line x1="765.0" y1="170.0" x2="779.3" y2="176.2" stroke="#c8f020"/><line x1="765.0" y1="170.0" x2="773.7" y2="179.7" stroke="#c8f020"/><line x1="765.0" y1="170.0" x2="772.3" y2="160.0" stroke="#c8f020"/><line x1="765.0" y1="170.0" x2="761.3" y2="178.1" stroke="#c8f020"/><line x1="765.0" y1="170.0" x2="757.5" y2="170.4" stroke="#c8f020"/><line x1="765.0" y1="170.0" x2="769.1" y2="181.6" stroke="#c8f020"/><line x1="765.0" y1="170.0" x2="778.1" y2="177.3" stroke="#c8f020"/><line x1="765.0" y1="170.0" x2="763.3" y2="177.4" stroke="#c8f020"/><line x1="765.0" y1="170.0" x2="770.4" y2="168.8" stroke="#c8f020"/><line x1="765.0" y1="170.0" x2="778.7" y2="174.1" stroke="#c8f020"/><line x1="765.0" y1="170.0" x2="757.6" y2="180.2" stroke="#c8f020"/><line x1="765.0" y1="170.0" x2="762.6" y2="174.9" stroke="#c8f020"/><line x1="765.0" y1="170.0" x2="749.9" y2="169.9" stroke="#c8f020"/><line x1="807.0" y1="166.0" x2="836.0" y2="185.0" stroke="#d0f028"/><line x1="807.0" y1="166.0" x2="842.4" y2="168.7" stroke="#d0f028"/><line x1="807.0" y1="166.0" x2="850.0" y2="220.0" stroke="#d0f028"/><line x1="807.0" y1="166.0" x2="797.7" y2="158.3" stroke="#d0f028"/><line x1="807.0" y1="166.0" x2="788.0" y2="183.2" stroke="#d0f028"/><line x1="807.0" y1="166.0" x2="805.6" y2="168.0" stroke="#d0f028"/><line x1="807.0" y1="166.0" x2="818.2" y2="165.1" stroke="#d0f028"/><line x1="807.0" y1="166.0" x2="812.2" y2="155.2" stroke="#d0f028"/><line x1="807.0" y1="166.0" x2="809.1" y2="162.8" stroke="#d0f028"/><line x1="807.0" y1="166.0" x2="812.1" y2="167.5" stroke="#d0f028"/><line x1="807.0" y1="166.0" x2="793.2" y2="151.3" stroke="#d0f028"/><line x1="807.0" y1="166.0" x2="796.9" y2="172.0" stroke="#d0f028"/><line x1="807.0" y1="166.0" x2="811.3" y2="169.3" stroke="#d0f028"/><line x1="807.0" y1="166.0" x2="786.9" y2="144.5" stroke="#d0f028"/><line x1="807.0" y1="166.0" x2="800.8" y2="163.4" stroke="#d0f028"/><line x1="807.0" y1="166.0" x2="801.0" y2="168.9" stroke="#d0f028"/><line x1="807.0" y1="166.0" x2="805.3" y2="156.6" stroke="#d0f028"/><line x1="807.0" y1="166.0" x2="798.3" y2="167.2" stroke="#d0f028"/><line x1="807.0" y1="166.0" x2="807.8" y2="165.4" stroke="#d0f028"/><line x1="807.0" y1="166.0" x2="829.7" y2="163.9" stroke="#d0f028"/><line x1="807.0" y1="166.0" x2="808.2" y2="158.1" stroke="#d0f028"/><line x1="807.0" y1="166.0" x2="803.4" y2="170.2" stroke="#d0f028"/><line x1="807.0" y1="166.0" x2="812.7" y2="164.8" stroke="#d0f028"/><line x1="807.0" y1="166.0" x2="811.0" y2="166.5" stroke="#d0f028"/><line x1="807.0" y1="166.0" x2="788.2" y2="139.8" stroke="#d0f028"/><line x1="807.0" y1="166.0" x2="830.1" y2="172.6" stroke="#d0f028"/><line x1="807.0" y1="166.0" x2="806.4" y2="152.1" stroke="#d0f028"/><line x1="807.0" y1="166.0" x2="794.2" y2="176.8" stroke="#d0f028"/><line x1="807.0" y1="166.0" x2="779.1" y2="163.4" stroke="#d0f028"/><line x1="807.0" y1="166.0" x2="815.7" y2="167.1" stroke="#d0f028"/><line x1="761.0" y1="161.0" x2="730.0" y2="150.0" stroke="#c4f018"/><line x1="761.0" y1="161.0" x2="790.0" y2="150.0" stroke="#c4f018"/><line x1="761.0" y1="161.0" x2="768.5" y2="160.0" stroke="#c4f018"/><line x1="761.0" y1="161.0" x2="784.9" y2="152.8" stroke="#c4f018"/><line x1="761.0" y1="161.0" x2="747.4" y2="163.2" stroke="#c4f018"/><line x1="761.0" y1="161.0" x2="775.3" y2="160.6" stroke="#c4f018"/><line x1="761.0" y1="161.0" x2="771.5" y2="156.8" stroke="#c4f018"/><line x1="761.0" y1="161.0" x2="749.1" y2="172.2" stroke="#c4f018"/><line x1="761.0" y1="161.0" x2="776.7" y2="173.3" stroke="#c4f018"/><line x1="761.0" y1="161.0" x2="756.6" y2="151.8" stroke="#c4f018"/><line x1="761.0" y1="161.0" x2="749.3" y2="159.2" stroke="#c4f018"/><line x1="761.0" y1="161.0" x2="766.8" y2="165.1" stroke="#c4f018"/><line x1="761.0" y1="161.0" x2="746.7" y2="162.6" stroke="#c4f018"/><line x1="761.0" y1="161.0" x2="761.2" y2="161.7" stroke="#c4f018"/><line x1="761.0" y1="161.0" x2="760.8" y2="159.4" stroke="#c4f018"/><line x1="761.0" y1="161.0" x2="766.9" y2="162.0" stroke="#c4f018"/><line x1="761.0" y1="161.0" x2="763.3" y2="155.5" stroke="#c4f018"/><line x1="761.0" y1="161.0" x2="765.0" y2="160.0" stroke="#c4f018"/><line x1="761.0" y1="161.0" x2="739.8" y2="164.9" stroke="#c4f018"/><line x1="761.0" y1="161.0" x2="758.4" y2="168.4" stroke="#c4f018"/><line x1="761.0" y1="161.0" x2="759.4" y2="160.2" stroke="#c4f018"/><line x1="761.0" y1="161.0" x2="763.1" y2="160.9" stroke="#c4f018"/><line x1="761.0" y1="161.0" x2="756.5" y2="146.7" stroke="#c4f018"/><line x1="761.0" y1="161.0" x2="779.4" y2="148.4" stroke="#c4f018"/><line x1="761.0" y1="161.0" x2="757.6" y2="166.2" stroke="#c4f018"/><line x1="761.0" y1="161.0" x2="764.8" y2="165.5" stroke="#c4f018"/><line x1="761.0" y1="161.0" x2="768.7" y2="171.1" stroke="#c4f018"/><line x1="761.0" y1="161.0" x2="764.0" y2="184.3" stroke="#c4f018"/><line x1="761.0" y1="161.0" x2="750.9" y2="162.8" stroke="#c4f018"/><line x1="761.0" y1="161.0" x2="757.4" y2="156.6" stroke="#c4f018"/><line x1="840.0" y1="272.0" x2="787.4" y2="284.8" stroke="#e0b870"/><line x1="840.0" y1="272.0" x2="777.4" y2="272.3" stroke="#e0b870"/><line x1="840.0" y1="272.0" x2="842.3" y2="280.7" stroke="#e0b870"/><line x1="840.0" y1="272.0" x2="834.3" y2="267.7" stroke="#e0b870"/><line x1="840.0" y1="272.0" x2="845.8" y2="275.3" stroke="#e0b870"/><line x1="840.0" y1="272.0" x2="855.7" y2="278.2" stroke="#e0b870"/><line x1="840.0" y1="272.0" x2="841.8" y2="270.0" stroke="#e0b870"/><line x1="840.0" y1="272.0" x2="841.7" y2="270.9" stroke="#e0b870"/><line x1="840.0" y1="272.0" x2="829.1" y2="272.0" stroke="#e0b870"/><line x1="840.0" y1="272.0" x2="838.6" y2="270.6" stroke="#e0b870"/><line x1="840.0" y1="272.0" x2="836.6" y2="282.1" stroke="#e0b870"/><line x1="840.0" y1="272.0" x2="845.6" y2="277.6" stroke="#e0b870"/><line x1="840.0" y1="272.0" x2="835.1" y2="265.9" stroke="#e0b870"/><line x1="840.0" y1="272.0" x2="837.7" y2="273.5" stroke="#e0b870"/><line x1="840.0" y1="272.0" x2="837.2" y2="270.9" stroke="#e0b870"/><line x1="840.0" y1="272.0" x2="847.7" y2="273.8" stroke="#e0b870"/><line x1="840.0" y1="272.0" x2="832.1" y2="269.4" stroke="#e0b870"/><line x1="840.0" y1="272.0" x2="834.7" y2="273.1" stroke="#e0b870"/><line x1="870.0" y1="200.0" x2="881.0" y2="167.0" stroke="#e8dc3c"/><line x1="870.0" y1="200.0" x2="875.0" y2="183.7" stroke="#e8dc3c"/><line x1="870.0" y1="200.0" x2="863.0" y2="198.2" stroke="#e8dc3c"/><line x1="870.0" y1="200.0" x2="874.2" y2="200.3" stroke="#e8dc3c"/><line x1="870.0" y1="200.0" x2="864.5" y2="193.8" stroke="#e8dc3c"/><line x1="870.0" y1="200.0" x2="870.7" y2="204.8" stroke="#e8dc3c"/><line x1="870.0" y1="200.0" x2="875.0" y2="198.5" stroke="#e8dc3c"/><line x1="870.0" y1="200.0" x2="862.1" y2="214.2" stroke="#e8dc3c"/><line x1="870.0" y1="200.0" x2="871.8" y2="204.1" stroke="#e8dc3c"/><line x1="870.0" y1="200.0" x2="871.8" y2="189.6" stroke="#e8dc3c"/><line x1="870.0" y1="200.0" x2="868.1" y2="202.6" stroke="#e8dc3c"/><line x1="870.0" y1="200.0" x2="876.2" y2="200.6" stroke="#e8dc3c"/><line x1="870.0" y1="200.0" x2="851.3" y2="197.6" stroke="#e8dc3c"/><line x1="870.0" y1="200.0" x2="872.1" y2="212.9" stroke="#e8dc3c"/><line x1="870.0" y1="200.0" x2="874.3" y2="224.9" stroke="#e8dc3c"/><line x1="870.0" y1="200.0" x2="878.5" y2="213.5" stroke="#e8dc3c"/><line x1="870.0" y1="200.0" x2="875.7" y2="186.2" stroke="#e8dc3c"/><line x1="870.0" y1="200.0" x2="875.1" y2="206.0" stroke="#e8dc3c"/><line x1="870.0" y1="200.0" x2="866.8" y2="205.9" stroke="#e8dc3c"/><line x1="870.0" y1="200.0" x2="872.5" y2="195.3" stroke="#e8dc3c"/><line x1="870.0" y1="200.0" x2="869.3" y2="197.4" stroke="#e8dc3c"/><line x1="870.0" y1="200.0" x2="871.4" y2="195.8" stroke="#e8dc3c"/><line x1="870.0" y1="200.0" x2="873.3" y2="180.8" stroke="#e8dc3c"/><line x1="870.0" y1="200.0" x2="868.3" y2="183.2" stroke="#e8dc3c"/><line x1="870.0" y1="200.0" x2="867.1" y2="205.2" stroke="#e8dc3c"/><line x1="870.0" y1="200.0" x2="870.1" y2="198.9" stroke="#e8dc3c"/><line x1="870.0" y1="200.0" x2="870.4" y2="215.7" stroke="#e8dc3c"/><line x1="870.0" y1="200.0" x2="863.4" y2="208.9" stroke="#e8dc3c"/><line x1="870.0" y1="200.0" x2="860.9" y2="195.3" stroke="#e8dc3c"/><line x1="870.0" y1="200.0" x2="871.0" y2="191.5" stroke="#e8dc3c"/><line x1="855.0" y1="228.0" x2="711.7" y2="263.6" stroke="#e8d0a0"/><line x1="855.0" y1="228.0" x2="729.2" y2="289.0" stroke="#e8d0a0"/><line x1="855.0" y1="228.0" x2="723.0" y2="306.0" stroke="#e8d0a0"/><line x1="855.0" y1="228.0" x2="685.7" y2="363.0" stroke="#e8d0a0"/><line x1="855.0" y1="228.0" x2="857.1" y2="233.8" stroke="#e8d0a0"/><line x1="855.0" y1="228.0" x2="843.1" y2="227.4" stroke="#e8d0a0"/><line x1="855.0" y1="228.0" x2="851.2" y2="212.5" stroke="#e8d0a0"/><line x1="855.0" y1="228.0" x2="853.1" y2="221.6" stroke="#e8d0a0"/><line x1="855.0" y1="228.0" x2="868.4" y2="221.0" stroke="#e8d0a0"/><line x1="855.0" y1="228.0" x2="872.0" y2="223.7" stroke="#e8d0a0"/><line x1="855.0" y1="228.0" x2="874.4" y2="232.3" stroke="#e8d0a0"/><line x1="855.0" y1="228.0" x2="859.5" y2="234.4" stroke="#e8d0a0"/><line x1="855.0" y1="228.0" x2="864.0" y2="239.2" stroke="#e8d0a0"/><line x1="855.0" y1="228.0" x2="872.3" y2="225.2" stroke="#e8d0a0"/><line x1="855.0" y1="228.0" x2="842.5" y2="206.6" stroke="#e8d0a0"/><line x1="855.0" y1="228.0" x2="851.1" y2="234.1" stroke="#e8d0a0"/><line x1="855.0" y1="228.0" x2="858.8" y2="228.9" stroke="#e8d0a0"/><line x1="855.0" y1="228.0" x2="851.5" y2="222.9" stroke="#e8d0a0"/><line x1="855.0" y1="228.0" x2="852.2" y2="231.1" stroke="#e8d0a0"/><line x1="855.0" y1="228.0" x2="837.4" y2="233.8" stroke="#e8d0a0"/><line x1="855.0" y1="228.0" x2="840.4" y2="226.7" stroke="#e8d0a0"/><line x1="855.0" y1="228.0" x2="848.7" y2="225.0" stroke="#e8d0a0"/><line x1="855.0" y1="228.0" x2="844.5" y2="218.8" stroke="#e8d0a0"/><line x1="855.0" y1="228.0" x2="852.7" y2="219.3" stroke="#e8d0a0"/><line x1="855.0" y1="228.0" x2="879.6" y2="224.6" stroke="#e8d0a0"/><line x1="862.0" y1="210.0" x2="796.0" y2="257.0" stroke="#e8c898"/><line x1="862.0" y1="210.0" x2="855.4" y2="205.6" stroke="#e8c898"/><line x1="862.0" y1="210.0" x2="851.2" y2="190.3" stroke="#e8c898"/><line x1="862.0" y1="210.0" x2="859.4" y2="212.4" stroke="#e8c898"/><line x1="862.0" y1="210.0" x2="846.9" y2="210.0" stroke="#e8c898"/><line x1="862.0" y1="210.0" x2="849.8" y2="209.7" stroke="#e8c898"/><line x1="862.0" y1="210.0" x2="865.5" y2="213.8" stroke="#e8c898"/><line x1="862.0" y1="210.0" x2="866.3" y2="204.3" stroke="#e8c898"/><line x1="862.0" y1="210.0" x2="870.7" y2="206.4" stroke="#e8c898"/><line x1="862.0" y1="210.0" x2="865.4" y2="215.6" stroke="#e8c898"/><line x1="862.0" y1="210.0" x2="858.9" y2="199.7" stroke="#e8c898"/><line x1="862.0" y1="210.0" x2="868.1" y2="201.0" stroke="#e8c898"/><line x1="862.0" y1="210.0" x2="853.0" y2="201.1" stroke="#e8c898"/><line x1="862.0" y1="210.0" x2="870.3" y2="208.6" stroke="#e8c898"/><line x1="862.0" y1="210.0" x2="839.4" y2="215.8" stroke="#e8c898"/><line x1="862.0" y1="210.0" x2="882.6" y2="224.3" stroke="#e8c898"/><line x1="862.0" y1="210.0" x2="856.2" y2="210.5" stroke="#e8c898"/><line x1="862.0" y1="210.0" x2="867.0" y2="217.1" stroke="#e8c898"/><line x1="862.0" y1="210.0" x2="862.3" y2="201.2" stroke="#e8c898"/><line x1="862.0" y1="210.0" x2="869.4" y2="214.8" stroke="#e8c898"/><line x1="862.0" y1="210.0" x2="848.6" y2="207.0" stroke="#e8c898"/><line x1="862.0" y1="210.0" x2="864.6" y2="209.9" stroke="#e8c898"/><line x1="862.0" y1="210.0" x2="867.1" y2="216.3" stroke="#e8c898"/><line x1="862.0" y1="210.0" x2="867.3" y2="209.0" stroke="#e8c898"/><line x1="862.0" y1="210.0" x2="848.4" y2="214.8" stroke="#e8c898"/><line x1="862.0" y1="210.0" x2="875.9" y2="225.7" stroke="#e8c898"/><line x1="862.0" y1="210.0" x2="861.5" y2="209.6" stroke="#e8c898"/><line x1="862.0" y1="210.0" x2="876.3" y2="221.4" stroke="#e8c898"/><line x1="862.0" y1="210.0" x2="865.3" y2="215.6" stroke="#e8c898"/><line x1="862.0" y1="210.0" x2="854.3" y2="214.6" stroke="#e8c898"/><line x1="845.0" y1="308.0" x2="757.4" y2="334.8" stroke="#e0b070"/><line x1="845.0" y1="308.0" x2="766.2" y2="336.0" stroke="#e0b070"/><line x1="845.0" y1="308.0" x2="838.3" y2="306.7" stroke="#e0b070"/><line x1="845.0" y1="308.0" x2="843.9" y2="304.1" stroke="#e0b070"/><line x1="845.0" y1="308.0" x2="828.0" y2="301.3" stroke="#e0b070"/><line x1="845.0" y1="308.0" x2="847.6" y2="307.4" stroke="#e0b070"/><line x1="845.0" y1="308.0" x2="841.7" y2="311.3" stroke="#e0b070"/><line x1="845.0" y1="308.0" x2="850.4" y2="314.7" stroke="#e0b070"/><line x1="845.0" y1="308.0" x2="838.4" y2="308.0" stroke="#e0b070"/><line x1="845.0" y1="308.0" x2="842.2" y2="300.8" stroke="#e0b070"/><line x1="845.0" y1="308.0" x2="832.9" y2="307.1" stroke="#e0b070"/><line x1="845.0" y1="308.0" x2="837.9" y2="325.1" stroke="#e0b070"/><line x1="845.0" y1="308.0" x2="844.1" y2="306.1" stroke="#e0b070"/><line x1="845.0" y1="308.0" x2="841.7" y2="322.9" stroke="#e0b070"/><line x1="845.0" y1="308.0" x2="837.3" y2="306.6" stroke="#e0b070"/><line x1="845.0" y1="308.0" x2="838.7" y2="306.9" stroke="#e0b070"/><line x1="845.0" y1="308.0" x2="844.6" y2="316.7" stroke="#e0b070"/><line x1="845.0" y1="308.0" x2="833.5" y2="307.7" stroke="#e0b070"/><line x1="845.0" y1="308.0" x2="857.8" y2="303.8" stroke="#e0b070"/><line x1="845.0" y1="308.0" x2="843.4" y2="300.8" stroke="#e0b070"/><line x1="845.0" y1="308.0" x2="823.9" y2="307.0" stroke="#e0b070"/><line x1="845.0" y1="308.0" x2="854.3" y2="304.1" stroke="#e0b070"/><line x1="845.0" y1="308.0" x2="830.1" y2="310.0" stroke="#e0b070"/><line x1="845.0" y1="308.0" x2="845.5" y2="315.9" stroke="#e0b070"/><line x1="845.0" y1="308.0" x2="852.1" y2="305.7" stroke="#e0b070"/><line x1="845.0" y1="308.0" x2="848.1" y2="293.5" stroke="#e0b070"/><line x1="845.0" y1="308.0" x2="853.8" y2="309.4" stroke="#e0b070"/><line x1="845.0" y1="308.0" x2="853.5" y2="316.4" stroke="#e0b070"/><line x1="845.0" y1="308.0" x2="842.6" y2="306.7" stroke="#e0b070"/><line x1="883.0" y1="199.0" x2="905.0" y2="153.0" stroke="#f0dcb0"/><line x1="883.0" y1="199.0" x2="918.0" y2="218.0" stroke="#f0dcb0"/><line x1="883.0" y1="199.0" x2="874.1" y2="182.3" stroke="#f0dcb0"/><line x1="883.0" y1="199.0" x2="881.5" y2="200.1" stroke="#f0dcb0"/><line x1="883.0" y1="199.0" x2="872.0" y2="204.6" stroke="#f0dcb0"/><line x1="883.0" y1="199.0" x2="883.8" y2="202.5" stroke="#f0dcb0"/><line x1="883.0" y1="199.0" x2="875.1" y2="184.7" stroke="#f0dcb0"/><line x1="883.0" y1="199.0" x2="890.6" y2="203.8" stroke="#f0dcb0"/><line x1="883.0" y1="199.0" x2="881.7" y2="195.5" stroke="#f0dcb0"/><line x1="883.0" y1="199.0" x2="880.1" y2="197.8" stroke="#f0dcb0"/><line x1="883.0" y1="199.0" x2="877.7" y2="182.8" stroke="#f0dcb0"/><line x1="883.0" y1="199.0" x2="890.7" y2="186.9" stroke="#f0dcb0"/><line x1="883.0" y1="199.0" x2="879.5" y2="196.4" stroke="#f0dcb0"/><line x1="883.0" y1="199.0" x2="885.4" y2="186.0" stroke="#f0dcb0"/><line x1="883.0" y1="199.0" x2="894.9" y2="204.1" stroke="#f0dcb0"/><line x1="883.0" y1="199.0" x2="890.5" y2="209.0" stroke="#f0dcb0"/><line x1="883.0" y1="199.0" x2="874.9" y2="173.8" stroke="#f0dcb0"/><line x1="883.0" y1="199.0" x2="886.2" y2="209.4" stroke="#f0dcb0"/><line x1="883.0" y1="199.0" x2="894.5" y2="194.6" stroke="#f0dcb0"/><line x1="883.0" y1="199.0" x2="882.0" y2="201.2" stroke="#f0dcb0"/><line x1="883.0" y1="199.0" x2="864.8" y2="193.6" stroke="#f0dcb0"/><line x1="883.0" y1="199.0" x2="876.6" y2="211.6" stroke="#f0dcb0"/><line x1="883.0" y1="199.0" x2="876.4" y2="211.5" stroke="#f0dcb0"/><line x1="883.0" y1="199.0" x2="883.1" y2="185.6" stroke="#f0dcb0"/><line x1="883.0" y1="199.0" x2="905.1" y2="191.2" stroke="#f0dcb0"/><line x1="883.0" y1="199.0" x2="889.2" y2="212.6" stroke="#f0dcb0"/><line x1="883.0" y1="199.0" x2="877.6" y2="189.2" stroke="#f0dcb0"/><line x1="883.0" y1="199.0" x2="893.4" y2="199.5" stroke="#f0dcb0"/><line x1="883.0" y1="199.0" x2="870.7" y2="190.4" stroke="#f0dcb0"/><line x1="883.0" y1="199.0" x2="879.1" y2="206.7" stroke="#f0dcb0"/><line x1="828.0" y1="329.0" x2="811.0" y2="282.3" stroke="#d8a868"/><line x1="828.0" y1="329.0" x2="815.0" y2="347.0" stroke="#d8a868"/><line x1="828.0" y1="329.0" x2="825.7" y2="334.2" stroke="#d8a868"/><line x1="828.0" y1="329.0" x2="841.2" y2="339.2" stroke="#d8a868"/><line x1="828.0" y1="329.0" x2="839.5" y2="338.9" stroke="#d8a868"/><line x1="828.0" y1="329.0" x2="815.1" y2="338.8" stroke="#d8a868"/><line x1="828.0" y1="329.0" x2="830.6" y2="328.0" stroke="#d8a868"/><line x1="828.0" y1="329.0" x2="819.3" y2="316.3" stroke="#d8a868"/><line x1="828.0" y1="329.0" x2="819.1" y2="328.8" stroke="#d8a868"/><line x1="828.0" y1="329.0" x2="818.6" y2="322.5" stroke="#d8a868"/><line x1="828.0" y1="329.0" x2="823.1" y2="334.3" stroke="#d8a868"/><line x1="828.0" y1="329.0" x2="825.6" y2="327.8" stroke="#d8a868"/><line x1="828.0" y1="329.0" x2="838.6" y2="326.4" stroke="#d8a868"/><line x1="828.0" y1="329.0" x2="832.8" y2="320.5" stroke="#d8a868"/><line x1="828.0" y1="329.0" x2="830.6" y2="330.0" stroke="#d8a868"/><line x1="828.0" y1="329.0" x2="829.4" y2="325.3" stroke="#d8a868"/><line x1="828.0" y1="329.0" x2="819.8" y2="326.6" stroke="#d8a868"/><line x1="828.0" y1="329.0" x2="824.3" y2="337.3" stroke="#d8a868"/><line x1="828.0" y1="329.0" x2="835.3" y2="319.4" stroke="#d8a868"/><line x1="828.0" y1="329.0" x2="833.0" y2="325.2" stroke="#d8a868"/><line x1="828.0" y1="329.0" x2="831.7" y2="325.1" stroke="#d8a868"/><line x1="828.0" y1="329.0" x2="816.2" y2="337.1" stroke="#d8a868"/><line x1="828.0" y1="329.0" x2="831.6" y2="319.2" stroke="#d8a868"/><line x1="828.0" y1="329.0" x2="812.9" y2="324.7" stroke="#d8a868"/><line x1="828.0" y1="329.0" x2="818.5" y2="326.1" stroke="#d8a868"/><line x1="828.0" y1="329.0" x2="833.0" y2="340.8" stroke="#d8a868"/><line x1="828.0" y1="329.0" x2="825.1" y2="340.0" stroke="#d8a868"/><line x1="828.0" y1="329.0" x2="837.3" y2="325.5" stroke="#d8a868"/><line x1="828.0" y1="329.0" x2="814.7" y2="335.8" stroke="#d8a868"/><line x1="828.0" y1="329.0" x2="832.9" y2="347.8" stroke="#d8a868"/><line x1="880.0" y1="270.0" x2="919.8" y2="190.4" stroke="#f0a050"/><line x1="880.0" y1="270.0" x2="810.0" y2="414.0" stroke="#f0a050"/><line x1="880.0" y1="270.0" x2="830.0" y2="370.0" stroke="#f0a050"/><line x1="880.0" y1="270.0" x2="850.0" y2="340.0" stroke="#f0a050"/><line x1="880.0" y1="270.0" x2="840.0" y2="380.0" stroke="#f0a050"/><line x1="880.0" y1="270.0" x2="891.5" y2="276.3" stroke="#f0a050"/><line x1="880.0" y1="270.0" x2="893.5" y2="261.6" stroke="#f0a050"/><line x1="880.0" y1="270.0" x2="881.6" y2="267.8" stroke="#f0a050"/><line x1="880.0" y1="270.0" x2="894.0" y2="274.6" stroke="#f0a050"/><line x1="880.0" y1="270.0" x2="855.6" y2="281.0" stroke="#f0a050"/><line x1="880.0" y1="270.0" x2="872.8" y2="276.3" stroke="#f0a050"/><line x1="880.0" y1="270.0" x2="876.2" y2="272.0" stroke="#f0a050"/><line x1="880.0" y1="270.0" x2="885.2" y2="271.6" stroke="#f0a050"/><line x1="880.0" y1="270.0" x2="872.5" y2="281.3" stroke="#f0a050"/><line x1="880.0" y1="270.0" x2="883.3" y2="270.0" stroke="#f0a050"/><line x1="880.0" y1="270.0" x2="885.8" y2="265.8" stroke="#f0a050"/><line x1="880.0" y1="270.0" x2="895.2" y2="271.9" stroke="#f0a050"/><line x1="880.0" y1="270.0" x2="883.1" y2="272.9" stroke="#f0a050"/><line x1="880.0" y1="270.0" x2="872.8" y2="260.7" stroke="#f0a050"/><line x1="880.0" y1="270.0" x2="881.9" y2="273.0" stroke="#f0a050"/><line x1="880.0" y1="270.0" x2="890.9" y2="273.8" stroke="#f0a050"/><line x1="880.0" y1="270.0" x2="871.4" y2="274.4" stroke="#f0a050"/><line x1="880.0" y1="270.0" x2="886.8" y2="278.2" stroke="#f0a050"/><line x1="880.0" y1="270.0" x2="882.8" y2="260.4" stroke="#f0a050"/><line x1="880.0" y1="270.0" x2="889.4" y2="264.3" stroke="#f0a050"/><line x1="880.0" y1="270.0" x2="884.7" y2="257.6" stroke="#f0a050"/><line x1="880.0" y1="270.0" x2="886.3" y2="263.9" stroke="#f0a050"/><line x1="880.0" y1="270.0" x2="888.8" y2="284.3" stroke="#f0a050"/><line x1="880.0" y1="270.0" x2="889.5" y2="260.8" stroke="#f0a050"/><line x1="880.0" y1="270.0" x2="872.6" y2="263.2" stroke="#f0a050"/><line x1="880.0" y1="270.0" x2="885.4" y2="272.9" stroke="#f0a050"/><line x1="880.0" y1="270.0" x2="881.4" y2="272.6" stroke="#f0a050"/><line x1="880.0" y1="270.0" x2="884.8" y2="275.3" stroke="#f0a050"/><line x1="880.0" y1="270.0" x2="893.6" y2="269.7" stroke="#f0a050"/><line x1="880.0" y1="270.0" x2="881.8" y2="255.3" stroke="#f0a050"/><line x1="880.0" y1="270.0" x2="869.5" y2="264.6" stroke="#f0a050"/><line x1="880.0" y1="270.0" x2="870.6" y2="271.9" stroke="#f0a050"/><line x1="880.0" y1="270.0" x2="888.4" y2="266.6" stroke="#f0a050"/><line x1="880.0" y1="270.0" x2="876.2" y2="266.0" stroke="#f0a050"/><line x1="880.0" y1="270.0" x2="881.1" y2="265.7" stroke="#f0a050"/><line x1="880.0" y1="270.0" x2="883.5" y2="272.5" stroke="#f0a050"/><line x1="880.0" y1="270.0" x2="882.8" y2="276.2" stroke="#f0a050"/><line x1="880.0" y1="270.0" x2="880.3" y2="271.2" stroke="#f0a050"/><line x1="880.0" y1="270.0" x2="894.1" y2="269.7" stroke="#f0a050"/><line x1="880.0" y1="270.0" x2="886.4" y2="270.4" stroke="#f0a050"/><line x1="880.0" y1="270.0" x2="876.3" y2="266.3" stroke="#f0a050"/><line x1="880.0" y1="270.0" x2="873.4" y2="270.1" stroke="#f0a050"/><line x1="880.0" y1="270.0" x2="875.2" y2="266.6" stroke="#f0a050"/><line x1="871.0" y1="240.0" x2="880.7" y2="238.9" stroke="#f0b878"/><line x1="871.0" y1="240.0" x2="880.1" y2="242.1" stroke="#f0b878"/><line x1="871.0" y1="240.0" x2="877.9" y2="235.1" stroke="#f0b878"/><line x1="871.0" y1="240.0" x2="872.2" y2="261.1" stroke="#f0b878"/><line x1="871.0" y1="240.0" x2="877.6" y2="248.0" stroke="#f0b878"/><line x1="871.0" y1="240.0" x2="872.8" y2="246.8" stroke="#f0b878"/><line x1="871.0" y1="240.0" x2="861.7" y2="233.2" stroke="#f0b878"/><line x1="871.0" y1="240.0" x2="874.4" y2="246.5" stroke="#f0b878"/><line x1="871.0" y1="240.0" x2="867.7" y2="238.5" stroke="#f0b878"/><line x1="871.0" y1="240.0" x2="868.1" y2="238.4" stroke="#f0b878"/><line x1="871.0" y1="240.0" x2="861.3" y2="228.5" stroke="#f0b878"/><line x1="871.0" y1="240.0" x2="870.3" y2="226.0" stroke="#f0b878"/><line x1="871.0" y1="240.0" x2="863.1" y2="234.6" stroke="#f0b878"/><line x1="871.0" y1="240.0" x2="862.5" y2="241.8" stroke="#f0b878"/><line x1="871.0" y1="240.0" x2="867.3" y2="239.2" stroke="#f0b878"/><line x1="871.0" y1="240.0" x2="862.8" y2="233.9" stroke="#f0b878"/><line x1="871.0" y1="240.0" x2="874.9" y2="242.7" stroke="#f0b878"/><line x1="871.0" y1="240.0" x2="867.1" y2="242.7" stroke="#f0b878"/><line x1="871.0" y1="240.0" x2="872.3" y2="241.1" stroke="#f0b878"/><line x1="871.0" y1="240.0" x2="883.6" y2="236.6" stroke="#f0b878"/><line x1="871.0" y1="240.0" x2="874.1" y2="243.1" stroke="#f0b878"/><line x1="871.0" y1="240.0" x2="868.9" y2="230.4" stroke="#f0b878"/><line x1="871.0" y1="240.0" x2="876.3" y2="241.8" stroke="#f0b878"/><line x1="871.0" y1="240.0" x2="871.1" y2="239.9" stroke="#f0b878"/><line x1="871.0" y1="240.0" x2="870.9" y2="232.6" stroke="#f0b878"/><line x1="871.0" y1="240.0" x2="873.0" y2="225.3" stroke="#f0b878"/><line x1="871.0" y1="240.0" x2="870.5" y2="227.7" stroke="#f0b878"/><line x1="871.0" y1="240.0" x2="867.8" y2="245.4" stroke="#f0b878"/><line x1="871.0" y1="240.0" x2="868.6" y2="235.8" stroke="#f0b878"/><line x1="871.0" y1="240.0" x2="874.7" y2="237.5" stroke="#f0b878"/><line x1="878.0" y1="212.0" x2="920.6" y2="190.0" stroke="#f0d8b0"/><line x1="878.0" y1="212.0" x2="874.3" y2="208.5" stroke="#f0d8b0"/><line x1="878.0" y1="212.0" x2="889.7" y2="216.9" stroke="#f0d8b0"/><line x1="878.0" y1="212.0" x2="881.4" y2="202.1" stroke="#f0d8b0"/><line x1="878.0" y1="212.0" x2="882.5" y2="201.2" stroke="#f0d8b0"/><line x1="878.0" y1="212.0" x2="881.4" y2="202.6" stroke="#f0d8b0"/><line x1="878.0" y1="212.0" x2="893.2" y2="198.1" stroke="#f0d8b0"/><line x1="878.0" y1="212.0" x2="887.3" y2="217.9" stroke="#f0d8b0"/><line x1="878.0" y1="212.0" x2="863.3" y2="209.6" stroke="#f0d8b0"/><line x1="878.0" y1="212.0" x2="889.1" y2="220.6" stroke="#f0d8b0"/><line x1="878.0" y1="212.0" x2="864.2" y2="207.4" stroke="#f0d8b0"/><line x1="878.0" y1="212.0" x2="868.1" y2="203.3" stroke="#f0d8b0"/><line x1="878.0" y1="212.0" x2="872.4" y2="226.2" stroke="#f0d8b0"/><line x1="878.0" y1="212.0" x2="878.6" y2="209.7" stroke="#f0d8b0"/><line x1="878.0" y1="212.0" x2="874.8" y2="216.8" stroke="#f0d8b0"/><line x1="878.0" y1="212.0" x2="883.0" y2="204.1" stroke="#f0d8b0"/><line x1="878.0" y1="212.0" x2="889.2" y2="202.8" stroke="#f0d8b0"/><line x1="878.0" y1="212.0" x2="875.3" y2="215.1" stroke="#f0d8b0"/><line x1="878.0" y1="212.0" x2="891.2" y2="208.7" stroke="#f0d8b0"/><line x1="878.0" y1="212.0" x2="879.8" y2="221.9" stroke="#f0d8b0"/><line x1="878.0" y1="212.0" x2="882.5" y2="220.5" stroke="#f0d8b0"/><line x1="878.0" y1="212.0" x2="885.8" y2="213.6" stroke="#f0d8b0"/><line x1="878.0" y1="212.0" x2="882.5" y2="218.8" stroke="#f0d8b0"/><line x1="878.0" y1="212.0" x2="877.3" y2="224.3" stroke="#f0d8b0"/><line x1="878.0" y1="212.0" x2="861.6" y2="204.1" stroke="#f0d8b0"/><line x1="878.0" y1="212.0" x2="889.0" y2="214.9" stroke="#f0d8b0"/><line x1="878.0" y1="212.0" x2="872.3" y2="214.5" stroke="#f0d8b0"/><line x1="878.0" y1="212.0" x2="886.2" y2="207.0" stroke="#f0d8b0"/><line x1="878.0" y1="212.0" x2="883.6" y2="210.5" stroke="#f0d8b0"/><line x1="878.0" y1="212.0" x2="876.6" y2="210.9" stroke="#f0d8b0"/><line x1="877.0" y1="249.0" x2="885.4" y2="239.5" stroke="#e8c080"/><line x1="877.0" y1="249.0" x2="873.5" y2="253.8" stroke="#e8c080"/><line x1="877.0" y1="249.0" x2="866.7" y2="235.8" stroke="#e8c080"/><line x1="877.0" y1="249.0" x2="881.0" y2="248.5" stroke="#e8c080"/><line x1="877.0" y1="249.0" x2="875.3" y2="249.6" stroke="#e8c080"/><line x1="877.0" y1="249.0" x2="868.7" y2="271.8" stroke="#e8c080"/><line x1="877.0" y1="249.0" x2="868.6" y2="245.0" stroke="#e8c080"/><line x1="877.0" y1="249.0" x2="865.1" y2="245.2" stroke="#e8c080"/><line x1="877.0" y1="249.0" x2="888.7" y2="248.6" stroke="#e8c080"/><line x1="877.0" y1="249.0" x2="881.3" y2="244.6" stroke="#e8c080"/><line x1="877.0" y1="249.0" x2="891.0" y2="249.8" stroke="#e8c080"/><line x1="877.0" y1="249.0" x2="866.5" y2="254.7" stroke="#e8c080"/><line x1="877.0" y1="249.0" x2="873.5" y2="253.3" stroke="#e8c080"/><line x1="877.0" y1="249.0" x2="877.6" y2="250.6" stroke="#e8c080"/><line x1="877.0" y1="249.0" x2="877.6" y2="241.2" stroke="#e8c080"/><line x1="877.0" y1="249.0" x2="864.5" y2="256.3" stroke="#e8c080"/><line x1="877.0" y1="249.0" x2="875.4" y2="250.8" stroke="#e8c080"/><line x1="877.0" y1="249.0" x2="872.8" y2="232.3" stroke="#e8c080"/><line x1="877.0" y1="249.0" x2="866.3" y2="259.7" stroke="#e8c080"/><line x1="877.0" y1="249.0" x2="870.2" y2="245.4" stroke="#e8c080"/><line x1="877.0" y1="249.0" x2="864.7" y2="244.3" stroke="#e8c080"/><line x1="877.0" y1="249.0" x2="873.5" y2="246.7" stroke="#e8c080"/><line x1="877.0" y1="249.0" x2="875.9" y2="243.4" stroke="#e8c080"/><line x1="877.0" y1="249.0" x2="871.9" y2="248.4" stroke="#e8c080"/><line x1="877.0" y1="249.0" x2="879.0" y2="247.3" stroke="#e8c080"/><line x1="877.0" y1="249.0" x2="890.4" y2="250.1" stroke="#e8c080"/><line x1="877.0" y1="249.0" x2="877.7" y2="243.2" stroke="#e8c080"/><line x1="877.0" y1="249.0" x2="884.7" y2="240.3" stroke="#e8c080"/><line x1="877.0" y1="249.0" x2="863.5" y2="240.6" stroke="#e8c080"/><line x1="877.0" y1="249.0" x2="881.4" y2="239.3" stroke="#e8c080"/><line x1="854.0" y1="256.0" x2="863.8" y2="255.3" stroke="#e8c080"/><line x1="854.0" y1="256.0" x2="841.3" y2="253.6" stroke="#e8c080"/><line x1="854.0" y1="256.0" x2="867.7" y2="248.6" stroke="#e8c080"/><line x1="854.0" y1="256.0" x2="843.0" y2="259.5" stroke="#e8c080"/><line x1="854.0" y1="256.0" x2="863.9" y2="263.6" stroke="#e8c080"/><line x1="854.0" y1="256.0" x2="850.8" y2="256.9" stroke="#e8c080"/><line x1="854.0" y1="256.0" x2="856.0" y2="264.8" stroke="#e8c080"/><line x1="854.0" y1="256.0" x2="870.6" y2="254.6" stroke="#e8c080"/><line x1="854.0" y1="256.0" x2="863.8" y2="252.7" stroke="#e8c080"/><line x1="854.0" y1="256.0" x2="858.1" y2="248.0" stroke="#e8c080"/><line x1="854.0" y1="256.0" x2="847.3" y2="258.7" stroke="#e8c080"/><line x1="854.0" y1="256.0" x2="846.3" y2="262.5" stroke="#e8c080"/><line x1="854.0" y1="256.0" x2="849.0" y2="256.0" stroke="#e8c080"/><line x1="854.0" y1="256.0" x2="852.8" y2="252.8" stroke="#e8c080"/><line x1="854.0" y1="256.0" x2="854.5" y2="264.1" stroke="#e8c080"/><line x1="854.0" y1="256.0" x2="878.3" y2="245.9" stroke="#e8c080"/><line x1="854.0" y1="256.0" x2="855.8" y2="254.0" stroke="#e8c080"/><line x1="854.0" y1="256.0" x2="846.1" y2="257.7" stroke="#e8c080"/><line x1="854.0" y1="256.0" x2="846.4" y2="254.8" stroke="#e8c080"/><line x1="854.0" y1="256.0" x2="863.3" y2="239.3" stroke="#e8c080"/><line x1="854.0" y1="256.0" x2="855.4" y2="259.0" stroke="#e8c080"/><line x1="854.0" y1="256.0" x2="845.8" y2="259.6" stroke="#e8c080"/><line x1="854.0" y1="256.0" x2="856.2" y2="252.6" stroke="#e8c080"/><line x1="854.0" y1="256.0" x2="863.1" y2="245.0" stroke="#e8c080"/><line x1="854.0" y1="256.0" x2="858.6" y2="253.6" stroke="#e8c080"/><line x1="854.0" y1="256.0" x2="845.0" y2="254.0" stroke="#e8c080"/><line x1="854.0" y1="256.0" x2="850.6" y2="262.0" stroke="#e8c080"/><line x1="854.0" y1="256.0" x2="841.5" y2="253.9" stroke="#e8c080"/><line x1="854.0" y1="256.0" x2="849.8" y2="268.0" stroke="#e8c080"/><line x1="854.0" y1="256.0" x2="844.5" y2="263.9" stroke="#e8c080"/><line x1="899.0" y1="279.0" x2="843.6" y2="408.4" stroke="#f0a860"/><line x1="899.0" y1="279.0" x2="830.0" y2="395.0" stroke="#f0a860"/><line x1="899.0" y1="279.0" x2="820.0" y2="410.0" stroke="#f0a860"/><line x1="899.0" y1="279.0" x2="812.0" y2="380.0" stroke="#f0a860"/><line x1="899.0" y1="279.0" x2="835.0" y2="360.0" stroke="#f0a860"/><line x1="899.0" y1="279.0" x2="884.4" y2="281.2" stroke="#f0a860"/><line x1="899.0" y1="279.0" x2="897.3" y2="281.4" stroke="#f0a860"/><line x1="899.0" y1="279.0" x2="892.8" y2="262.8" stroke="#f0a860"/><line x1="899.0" y1="279.0" x2="886.0" y2="288.9" stroke="#f0a860"/><line x1="899.0" y1="279.0" x2="900.1" y2="271.4" stroke="#f0a860"/><line x1="899.0" y1="279.0" x2="905.6" y2="272.4" stroke="#f0a860"/><line x1="899.0" y1="279.0" x2="892.4" y2="268.6" stroke="#f0a860"/><line x1="899.0" y1="279.0" x2="907.7" y2="294.0" stroke="#f0a860"/><line x1="899.0" y1="279.0" x2="890.6" y2="280.6" stroke="#f0a860"/><line x1="899.0" y1="279.0" x2="906.1" y2="295.2" stroke="#f0a860"/><line x1="899.0" y1="279.0" x2="879.1" y2="279.4" stroke="#f0a860"/><line x1="899.0" y1="279.0" x2="903.4" y2="266.4" stroke="#f0a860"/><line x1="899.0" y1="279.0" x2="901.5" y2="279.8" stroke="#f0a860"/><line x1="899.0" y1="279.0" x2="904.0" y2="273.6" stroke="#f0a860"/><line x1="899.0" y1="279.0" x2="901.6" y2="273.4" stroke="#f0a860"/><line x1="899.0" y1="279.0" x2="903.1" y2="279.5" stroke="#f0a860"/><line x1="899.0" y1="279.0" x2="895.2" y2="266.9" stroke="#f0a860"/><line x1="899.0" y1="279.0" x2="911.4" y2="287.1" stroke="#f0a860"/><line x1="899.0" y1="279.0" x2="905.3" y2="272.9" stroke="#f0a860"/><line x1="899.0" y1="279.0" x2="895.4" y2="291.6" stroke="#f0a860"/><line x1="899.0" y1="279.0" x2="904.2" y2="271.4" stroke="#f0a860"/><line x1="899.0" y1="279.0" x2="898.6" y2="279.4" stroke="#f0a860"/><line x1="899.0" y1="279.0" x2="896.7" y2="270.7" stroke="#f0a860"/><line x1="899.0" y1="279.0" x2="908.3" y2="283.0" stroke="#f0a860"/><line x1="899.0" y1="279.0" x2="896.7" y2="265.7" stroke="#f0a860"/><line x1="899.0" y1="279.0" x2="893.6" y2="278.2" stroke="#f0a860"/><line x1="899.0" y1="279.0" x2="905.2" y2="275.3" stroke="#f0a860"/><line x1="899.0" y1="279.0" x2="907.2" y2="279.4" stroke="#f0a860"/><line x1="899.0" y1="279.0" x2="892.4" y2="256.0" stroke="#f0a860"/><line x1="899.0" y1="279.0" x2="888.9" y2="266.4" stroke="#f0a860"/><line x1="899.0" y1="279.0" x2="897.1" y2="281.0" stroke="#f0a860"/><line x1="899.0" y1="279.0" x2="909.5" y2="278.3" stroke="#f0a860"/><line x1="899.0" y1="279.0" x2="889.1" y2="297.2" stroke="#f0a860"/><line x1="899.0" y1="279.0" x2="900.9" y2="276.3" stroke="#f0a860"/><line x1="899.0" y1="279.0" x2="896.3" y2="267.6" stroke="#f0a860"/><line x1="899.0" y1="279.0" x2="903.5" y2="281.4" stroke="#f0a860"/><line x1="899.0" y1="279.0" x2="911.1" y2="287.2" stroke="#f0a860"/><line x1="899.0" y1="279.0" x2="905.4" y2="288.5" stroke="#f0a860"/><line x1="899.0" y1="279.0" x2="896.2" y2="274.9" stroke="#f0a860"/><line x1="899.0" y1="279.0" x2="898.1" y2="268.5" stroke="#f0a860"/><line x1="899.0" y1="279.0" x2="897.3" y2="275.8" stroke="#f0a860"/><line x1="899.0" y1="279.0" x2="903.8" y2="278.4" stroke="#f0a860"/><line x1="899.0" y1="279.0" x2="883.2" y2="278.8" stroke="#f0a860"/><line x1="899.0" y1="279.0" x2="909.8" y2="263.8" stroke="#f0a860"/><line x1="899.0" y1="279.0" x2="892.5" y2="278.7" stroke="#f0a860"/><line x1="899.0" y1="279.0" x2="887.9" y2="274.2" stroke="#f0a860"/><line x1="899.0" y1="279.0" x2="899.0" y2="268.0" stroke="#f0a860"/><line x1="899.0" y1="279.0" x2="900.9" y2="281.9" stroke="#f0a860"/><line x1="899.0" y1="279.0" x2="888.4" y2="278.8" stroke="#f0a860"/><line x1="876.0" y1="272.0" x2="845.0" y2="350.0" stroke="#f0a860"/><line x1="876.0" y1="272.0" x2="884.2" y2="270.2" stroke="#f0a860"/><line x1="876.0" y1="272.0" x2="879.1" y2="276.8" stroke="#f0a860"/><line x1="876.0" y1="272.0" x2="873.8" y2="279.5" stroke="#f0a860"/><line x1="876.0" y1="272.0" x2="878.7" y2="263.7" stroke="#f0a860"/><line x1="876.0" y1="272.0" x2="879.8" y2="278.6" stroke="#f0a860"/><line x1="876.0" y1="272.0" x2="882.1" y2="266.5" stroke="#f0a860"/><line x1="876.0" y1="272.0" x2="879.4" y2="282.7" stroke="#f0a860"/><line x1="876.0" y1="272.0" x2="877.6" y2="281.2" stroke="#f0a860"/><line x1="876.0" y1="272.0" x2="886.1" y2="271.4" stroke="#f0a860"/><line x1="876.0" y1="272.0" x2="881.0" y2="269.4" stroke="#f0a860"/><line x1="876.0" y1="272.0" x2="884.3" y2="271.0" stroke="#f0a860"/><line x1="876.0" y1="272.0" x2="871.4" y2="271.6" stroke="#f0a860"/><line x1="876.0" y1="272.0" x2="875.2" y2="274.8" stroke="#f0a860"/><line x1="876.0" y1="272.0" x2="879.5" y2="262.5" stroke="#f0a860"/><line x1="876.0" y1="272.0" x2="870.6" y2="274.7" stroke="#f0a860"/><line x1="876.0" y1="272.0" x2="879.7" y2="272.5" stroke="#f0a860"/><line x1="876.0" y1="272.0" x2="896.9" y2="280.8" stroke="#f0a860"/><line x1="876.0" y1="272.0" x2="875.2" y2="277.7" stroke="#f0a860"/><line x1="876.0" y1="272.0" x2="886.6" y2="274.8" stroke="#f0a860"/><line x1="876.0" y1="272.0" x2="861.9" y2="272.7" stroke="#f0a860"/><line x1="876.0" y1="272.0" x2="876.3" y2="289.0" stroke="#f0a860"/><line x1="876.0" y1="272.0" x2="861.2" y2="284.3" stroke="#f0a860"/><line x1="876.0" y1="272.0" x2="874.7" y2="279.4" stroke="#f0a860"/><line x1="876.0" y1="272.0" x2="873.7" y2="273.4" stroke="#f0a860"/><line x1="876.0" y1="272.0" x2="885.1" y2="272.7" stroke="#f0a860"/><line x1="876.0" y1="272.0" x2="884.5" y2="271.4" stroke="#f0a860"/><line x1="876.0" y1="272.0" x2="872.8" y2="270.3" stroke="#f0a860"/><line x1="876.0" y1="272.0" x2="872.0" y2="271.1" stroke="#f0a860"/><line x1="876.0" y1="272.0" x2="887.0" y2="262.7" stroke="#f0a860"/><line x1="900.0" y1="270.0" x2="886.8" y2="269.9" stroke="#f0a860"/><line x1="900.0" y1="270.0" x2="913.6" y2="278.5" stroke="#f0a860"/><line x1="900.0" y1="270.0" x2="910.7" y2="280.1" stroke="#f0a860"/><line x1="900.0" y1="270.0" x2="894.3" y2="271.1" stroke="#f0a860"/><line x1="900.0" y1="270.0" x2="878.9" y2="265.3" stroke="#f0a860"/><line x1="900.0" y1="270.0" x2="905.0" y2="257.7" stroke="#f0a860"/><line x1="900.0" y1="270.0" x2="883.7" y2="259.8" stroke="#f0a860"/><line x1="900.0" y1="270.0" x2="901.9" y2="279.5" stroke="#f0a860"/><line x1="900.0" y1="270.0" x2="920.9" y2="281.7" stroke="#f0a860"/><line x1="900.0" y1="270.0" x2="888.1" y2="251.7" stroke="#f0a860"/><line x1="900.0" y1="270.0" x2="901.5" y2="278.7" stroke="#f0a860"/><line x1="900.0" y1="270.0" x2="887.3" y2="266.1" stroke="#f0a860"/><line x1="900.0" y1="270.0" x2="896.7" y2="270.6" stroke="#f0a860"/><line x1="900.0" y1="270.0" x2="898.9" y2="274.5" stroke="#f0a860"/><line x1="900.0" y1="270.0" x2="908.9" y2="271.0" stroke="#f0a860"/><line x1="900.0" y1="270.0" x2="906.4" y2="286.4" stroke="#f0a860"/><line x1="900.0" y1="270.0" x2="892.3" y2="262.1" stroke="#f0a860"/><line x1="900.0" y1="270.0" x2="904.6" y2="285.3" stroke="#f0a860"/><line x1="900.0" y1="270.0" x2="901.8" y2="279.3" stroke="#f0a860"/><line x1="900.0" y1="270.0" x2="898.1" y2="277.9" stroke="#f0a860"/><line x1="900.0" y1="270.0" x2="895.5" y2="276.0" stroke="#f0a860"/><line x1="900.0" y1="270.0" x2="903.8" y2="273.8" stroke="#f0a860"/><line x1="900.0" y1="270.0" x2="911.6" y2="279.2" stroke="#f0a860"/><line x1="900.0" y1="270.0" x2="895.9" y2="277.8" stroke="#f0a860"/><line x1="900.0" y1="270.0" x2="887.1" y2="278.6" stroke="#f0a860"/><line x1="900.0" y1="270.0" x2="922.7" y2="275.0" stroke="#f0a860"/><line x1="900.0" y1="270.0" x2="904.8" y2="271.3" stroke="#f0a860"/><line x1="900.0" y1="270.0" x2="907.5" y2="267.2" stroke="#f0a860"/><line x1="900.0" y1="270.0" x2="906.2" y2="268.7" stroke="#f0a860"/><line x1="900.0" y1="270.0" x2="897.5" y2="271.9" stroke="#f0a860"/><line x1="900.0" y1="276.0" x2="860.0" y2="330.0" stroke="#f0a860"/><line x1="900.0" y1="276.0" x2="900.5" y2="263.1" stroke="#f0a860"/><line x1="900.0" y1="276.0" x2="917.6" y2="278.1" stroke="#f0a860"/><line x1="900.0" y1="276.0" x2="887.4" y2="285.6" stroke="#f0a860"/><line x1="900.0" y1="276.0" x2="900.8" y2="278.6" stroke="#f0a860"/><line x1="900.0" y1="276.0" x2="906.7" y2="269.8" stroke="#f0a860"/><line x1="900.0" y1="276.0" x2="877.4" y2="276.2" stroke="#f0a860"/><line x1="900.0" y1="276.0" x2="902.9" y2="285.0" stroke="#f0a860"/><line x1="900.0" y1="276.0" x2="894.9" y2="274.9" stroke="#f0a860"/><line x1="900.0" y1="276.0" x2="904.2" y2="274.5" stroke="#f0a860"/><line x1="900.0" y1="276.0" x2="899.0" y2="279.0" stroke="#f0a860"/><line x1="900.0" y1="276.0" x2="893.0" y2="289.7" stroke="#f0a860"/><line x1="900.0" y1="276.0" x2="893.6" y2="277.3" stroke="#f0a860"/><line x1="900.0" y1="276.0" x2="898.4" y2="271.3" stroke="#f0a860"/><line x1="900.0" y1="276.0" x2="905.3" y2="285.1" stroke="#f0a860"/><line x1="900.0" y1="276.0" x2="912.6" y2="281.6" stroke="#f0a860"/><line x1="900.0" y1="276.0" x2="897.4" y2="283.9" stroke="#f0a860"/><line x1="900.0" y1="276.0" x2="889.4" y2="277.4" stroke="#f0a860"/><line x1="900.0" y1="276.0" x2="905.1" y2="281.5" stroke="#f0a860"/><line x1="900.0" y1="276.0" x2="891.7" y2="265.0" stroke="#f0a860"/><line x1="900.0" y1="276.0" x2="914.2" y2="272.8" stroke="#f0a860"/><line x1="900.0" y1="276.0" x2="887.7" y2="267.0" stroke="#f0a860"/><line x1="900.0" y1="276.0" x2="901.0" y2="286.3" stroke="#f0a860"/><line x1="900.0" y1="276.0" x2="900.8" y2="286.4" stroke="#f0a860"/><line x1="900.0" y1="276.0" x2="902.6" y2="280.6" stroke="#f0a860"/><line x1="900.0" y1="276.0" x2="908.7" y2="273.8" stroke="#f0a860"/><line x1="900.0" y1="276.0" x2="903.1" y2="273.6" stroke="#f0a860"/><line x1="900.0" y1="276.0" x2="895.6" y2="282.0" stroke="#f0a860"/><line x1="900.0" y1="276.0" x2="894.1" y2="277.3" stroke="#f0a860"/><line x1="900.0" y1="276.0" x2="894.4" y2="276.0" stroke="#f0a860"/></g>
<g><circle cx="281.2" cy="103.3" r="3.4" fill="#14ec66" fill-opacity="0.75"/><circle cx="309.7" cy="119.7" r="3.4" fill="#14ec66" fill-opacity="0.75"/><circle cx="333.7" cy="116.0" r="3.4" fill="#14ec66" fill-opacity="0.75"/><circle cx="322.5" cy="124.3" r="3.4" fill="#14ec66" fill-opacity="0.75"/><circle cx="329.2" cy="122.8" r="3.4" fill="#14ec66" fill-opacity="0.75"/><circle cx="333.0" cy="128.0" r="3.4" fill="#14ec66" fill-opacity="0.75"/><circle cx="327.8" cy="131.0" r="3.4" fill="#14ec66" fill-opacity="0.75"/><circle cx="327.0" cy="139.2" r="3.4" fill="#14ec66" fill-opacity="0.75"/><circle cx="321.0" cy="144.5" r="3.4" fill="#14ec66" fill-opacity="0.75"/><circle cx="321.7" cy="151.2" r="3.4" fill="#14ec66" fill-opacity="0.75"/><circle cx="310.5" cy="155.0" r="3.4" fill="#14ec66" fill-opacity="0.75"/><circle cx="331.5" cy="158.0" r="3.4" fill="#14ec66" fill-opacity="0.75"/><circle cx="342.0" cy="168.5" r="3.4" fill="#14ec66" fill-opacity="0.75"/><circle cx="334.5" cy="174.5" r="3.4" fill="#14ec66" fill-opacity="0.75"/><circle cx="304.5" cy="183.5" r="3.4" fill="#14ec66" fill-opacity="0.75"/><circle cx="344.0" cy="211.2" r="3.4" fill="#14ec66" fill-opacity="0.75"/><circle cx="318.0" cy="135.0" r="3.4" fill="#14ec66" fill-opacity="0.75"/><circle cx="326.0" cy="148.0" r="3.4" fill="#14ec66" fill-opacity="0.75"/><circle cx="340.0" cy="140.0" r="3.4" fill="#14ec66" fill-opacity="0.75"/><circle cx="350.0" cy="125.0" r="3.4" fill="#14ec66" fill-opacity="0.75"/><circle cx="352.0" cy="150.0" r="3.4" fill="#14ec66" fill-opacity="0.75"/><circle cx="338.0" cy="186.0" r="3.4" fill="#14ec66" fill-opacity="0.75"/><circle cx="359.9" cy="191.8" r="3.4" fill="#14ec66" fill-opacity="0.75"/><circle cx="431.2" cy="179.7" r="3.4" fill="#14ec66" fill-opacity="0.75"/><circle cx="362.4" cy="147.2" r="3.4" fill="#14ec66" fill-opacity="0.75"/><circle cx="397.3" cy="174.9" r="3.4" fill="#14ec66" fill-opacity="0.75"/><circle cx="422.0" cy="142.9" r="3.4" fill="#14ec66" fill-opacity="0.75"/><circle cx="442.9" cy="195.2" r="3.4" fill="#14ec66" fill-opacity="0.75"/><circle cx="403.1" cy="175.7" r="3.4" fill="#14ec66" fill-opacity="0.75"/><circle cx="349.5" cy="165.2" r="3.4" fill="#14ec66" fill-opacity="0.75"/><circle cx="410.2" cy="177.4" r="3.4" fill="#14ec66" fill-opacity="0.75"/><circle cx="357.7" cy="174.4" r="3.4" fill="#14ec66" fill-opacity="0.75"/><circle cx="345.6" cy="115.4" r="3.4" fill="#14ec66" fill-opacity="0.75"/><circle cx="395.1" cy="159.0" r="3.4" fill="#14ec66" fill-opacity="0.75"/><circle cx="291.5" cy="107.2" r="3.4" fill="#14ec66" fill-opacity="0.75"/><circle cx="360.9" cy="130.3" r="3.4" fill="#14ec66" fill-opacity="0.75"/><circle cx="303.0" cy="133.2" r="3.4" fill="#14ec66" fill-opacity="0.75"/><circle cx="413.8" cy="178.3" r="3.4" fill="#14ec66" fill-opacity="0.75"/><circle cx="333.7" cy="156.0" r="3.4" fill="#14ec66" fill-opacity="0.75"/><circle cx="406.3" cy="173.2" r="3.4" fill="#14ec66" fill-opacity="0.75"/><circle cx="386.0" cy="196.3" r="3.4" fill="#14ec66" fill-opacity="0.75"/><circle cx="369.2" cy="143.4" r="3.4" fill="#14ec66" fill-opacity="0.75"/><circle cx="384.5" cy="176.3" r="3.4" fill="#14ec66" fill-opacity="0.75"/><circle cx="432.7" cy="161.6" r="3.4" fill="#14ec66" fill-opacity="0.75"/><circle cx="348.8" cy="133.3" r="3.4" fill="#14ec66" fill-opacity="0.75"/><circle cx="291.2" cy="129.9" r="3.4" fill="#14ec66" fill-opacity="0.75"/><circle cx="401.8" cy="160.4" r="3.4" fill="#14ec66" fill-opacity="0.75"/><circle cx="426.1" cy="209.7" r="3.4" fill="#14ec66" fill-opacity="0.75"/><circle cx="395.7" cy="185.3" r="3.4" fill="#14ec66" fill-opacity="0.75"/><circle cx="426.7" cy="157.6" r="3.4" fill="#14ec66" fill-opacity="0.75"/><circle cx="366.0" cy="221.0" r="3.4" fill="#1cee72" fill-opacity="0.75"/><circle cx="385.5" cy="113.0" r="3.4" fill="#1cee72" fill-opacity="0.75"/><circle cx="378.0" cy="126.5" r="3.4" fill="#1cee72" fill-opacity="0.75"/><circle cx="361.5" cy="138.5" r="3.4" fill="#1cee72" fill-opacity="0.75"/><circle cx="366.0" cy="182.0" r="3.4" fill="#1cee72" fill-opacity="0.75"/><circle cx="373.5" cy="198.5" r="3.4" fill="#1cee72" fill-opacity="0.75"/><circle cx="384.0" cy="192.5" r="3.4" fill="#1cee72" fill-opacity="0.75"/><circle cx="496.7" cy="130.8" r="3.4" fill="#1cee72" fill-opacity="0.75"/><circle cx="526.7" cy="155.0" r="3.4" fill="#1cee72" fill-opacity="0.75"/><circle cx="470.0" cy="120.0" r="3.4" fill="#1cee72" fill-opacity="0.75"/><circle cx="480.0" cy="140.0" r="3.4" fill="#1cee72" fill-opacity="0.75"/><circle cx="455.0" cy="125.0" r="3.4" fill="#1cee72" fill-opacity="0.75"/><circle cx="360.0" cy="160.0" r="3.4" fill="#1cee72" fill-opacity="0.75"/><circle cx="395.0" cy="225.0" r="3.4" fill="#1cee72" fill-opacity="0.75"/><circle cx="460.0" cy="225.0" r="3.4" fill="#1cee72" fill-opacity="0.75"/><circle cx="500.0" cy="200.0" r="3.4" fill="#1cee72" fill-opacity="0.75"/><circle cx="440.3" cy="210.0" r="3.4" fill="#1cee72" fill-opacity="0.75"/><circle cx="316.8" cy="137.9" r="3.4" fill="#1cee72" fill-opacity="0.75"/><circle cx="392.7" cy="189.1" r="3.4" fill="#1cee72" fill-opacity="0.75"/><circle cx="390.9" cy="168.3" r="3.4" fill="#1cee72" fill-opacity="0.75"/><circle cx="441.2" cy="173.6" r="3.4" fill="#1cee72" fill-opacity="0.75"/><circle cx="446.8" cy="195.8" r="3.4" fill="#1cee72" fill-opacity="0.75"/><circle cx="445.5" cy="184.7" r="3.4" fill="#1cee72" fill-opacity="0.75"/><circle cx="465.3" cy="223.4" r="3.4" fill="#1cee72" fill-opacity="0.75"/><circle cx="398.0" cy="188.3" r="3.4" fill="#1cee72" fill-opacity="0.75"/><circle cx="462.2" cy="251.3" r="3.4" fill="#1cee72" fill-opacity="0.75"/><circle cx="321.5" cy="153.8" r="3.4" fill="#1cee72" fill-opacity="0.75"/><circle cx="439.6" cy="192.3" r="3.4" fill="#1cee72" fill-opacity="0.75"/><circle cx="347.7" cy="177.1" r="3.4" fill="#1cee72" fill-opacity="0.75"/><circle cx="341.3" cy="156.5" r="3.4" fill="#1cee72" fill-opacity="0.75"/><circle cx="499.5" cy="186.6" r="3.4" fill="#1cee72" fill-opacity="0.75"/><circle cx="411.5" cy="147.0" r="3.4" fill="#1cee72" fill-opacity="0.75"/><circle cx="411.3" cy="217.3" r="3.4" fill="#1cee72" fill-opacity="0.75"/><circle cx="539.6" cy="203.5" r="3.4" fill="#1cee72" fill-opacity="0.75"/><circle cx="376.3" cy="178.5" r="3.4" fill="#1cee72" fill-opacity="0.75"/><circle cx="493.3" cy="233.7" r="3.4" fill="#1cee72" fill-opacity="0.75"/><circle cx="371.4" cy="165.8" r="3.4" fill="#1cee72" fill-opacity="0.75"/><circle cx="415.2" cy="176.6" r="3.4" fill="#1cee72" fill-opacity="0.75"/><circle cx="371.1" cy="167.8" r="3.4" fill="#1cee72" fill-opacity="0.75"/><circle cx="431.3" cy="187.9" r="3.4" fill="#1cee72" fill-opacity="0.75"/><circle cx="415.5" cy="149.8" r="3.4" fill="#1cee72" fill-opacity="0.75"/><circle cx="375.8" cy="190.7" r="3.4" fill="#1cee72" fill-opacity="0.75"/><circle cx="418.8" cy="147.7" r="3.4" fill="#1cee72" fill-opacity="0.75"/><circle cx="479.2" cy="228.9" r="3.4" fill="#1cee72" fill-opacity="0.75"/><circle cx="525.0" cy="241.6" r="3.4" fill="#1cee72" fill-opacity="0.75"/><circle cx="404.5" cy="139.9" r="3.4" fill="#1cee72" fill-opacity="0.75"/><circle cx="457.6" cy="268.2" r="3.4" fill="#1cee72" fill-opacity="0.75"/><circle cx="377.2" cy="145.3" r="3.4" fill="#1cee72" fill-opacity="0.75"/><circle cx="454.2" cy="181.7" r="3.4" fill="#1cee72" fill-opacity="0.75"/><circle cx="403.3" cy="166.6" r="3.4" fill="#1cee72" fill-opacity="0.75"/><circle cx="417.0" cy="115.3" r="3.4" fill="#18ec76" fill-opacity="0.75"/><circle cx="402.0" cy="124.2" r="3.4" fill="#18ec76" fill-opacity="0.75"/><circle cx="465.0" cy="110.0" r="3.4" fill="#18ec76" fill-opacity="0.75"/><circle cx="455.0" cy="100.0" r="3.4" fill="#18ec76" fill-opacity="0.75"/><circle cx="520.0" cy="140.0" r="3.4" fill="#18ec76" fill-opacity="0.75"/><circle cx="350.0" cy="118.0" r="3.4" fill="#18ec76" fill-opacity="0.75"/><circle cx="407.1" cy="175.5" r="3.4" fill="#18ec76" fill-opacity="0.75"/><circle cx="399.3" cy="170.5" r="3.4" fill="#18ec76" fill-opacity="0.75"/><circle cx="379.6" cy="155.4" r="3.4" fill="#18ec76" fill-opacity="0.75"/><circle cx="300.6" cy="104.8" r="3.4" fill="#18ec76" fill-opacity="0.75"/><circle cx="444.4" cy="157.6" r="3.4" fill="#18ec76" fill-opacity="0.75"/><circle cx="428.9" cy="172.2" r="3.4" fill="#18ec76" fill-opacity="0.75"/><circle cx="465.1" cy="186.3" r="3.4" fill="#18ec76" fill-opacity="0.75"/><circle cx="453.5" cy="168.0" r="3.4" fill="#18ec76" fill-opacity="0.75"/><circle cx="370.0" cy="135.3" r="3.4" fill="#18ec76" fill-opacity="0.75"/><circle cx="382.2" cy="132.0" r="3.4" fill="#18ec76" fill-opacity="0.75"/><circle cx="374.9" cy="147.2" r="3.4" fill="#18ec76" fill-opacity="0.75"/><circle cx="416.0" cy="154.1" r="3.4" fill="#18ec76" fill-opacity="0.75"/><circle cx="305.7" cy="129.0" r="3.4" fill="#18ec76" fill-opacity="0.75"/><circle cx="408.8" cy="175.8" r="3.4" fill="#18ec76" fill-opacity="0.75"/><circle cx="433.7" cy="153.8" r="3.4" fill="#18ec76" fill-opacity="0.75"/><circle cx="357.3" cy="177.3" r="3.4" fill="#18ec76" fill-opacity="0.75"/><circle cx="432.4" cy="194.5" r="3.4" fill="#18ec76" fill-opacity="0.75"/><circle cx="512.3" cy="172.0" r="3.4" fill="#18ec76" fill-opacity="0.75"/><circle cx="419.5" cy="168.3" r="3.4" fill="#18ec76" fill-opacity="0.75"/><circle cx="427.9" cy="171.9" r="3.4" fill="#18ec76" fill-opacity="0.75"/><circle cx="411.4" cy="161.4" r="3.4" fill="#18ec76" fill-opacity="0.75"/><circle cx="327.2" cy="133.2" r="3.4" fill="#18ec76" fill-opacity="0.75"/><circle cx="363.9" cy="147.9" r="3.4" fill="#18ec76" fill-opacity="0.75"/><circle cx="410.2" cy="132.5" r="3.4" fill="#22f07e" fill-opacity="0.75"/><circle cx="431.0" cy="126.5" r="3.4" fill="#22f07e" fill-opacity="0.75"/><circle cx="490.8" cy="65.3" r="3.4" fill="#22f07e" fill-opacity="0.75"/><circle cx="508.0" cy="95.3" r="3.4" fill="#22f07e" fill-opacity="0.75"/><circle cx="535.3" cy="109.3" r="3.4" fill="#22f07e" fill-opacity="0.75"/><circle cx="518.3" cy="115.0" r="3.4" fill="#22f07e" fill-opacity="0.75"/><circle cx="632.5" cy="92.0" r="3.4" fill="#22f07e" fill-opacity="0.75"/><circle cx="445.0" cy="105.0" r="3.4" fill="#22f07e" fill-opacity="0.75"/><circle cx="475.0" cy="112.0" r="3.4" fill="#22f07e" fill-opacity="0.75"/><circle cx="379.0" cy="155.3" r="3.4" fill="#22f07e" fill-opacity="0.75"/><circle cx="444.9" cy="167.8" r="3.4" fill="#22f07e" fill-opacity="0.75"/><circle cx="420.5" cy="157.7" r="3.4" fill="#22f07e" fill-opacity="0.75"/><circle cx="383.2" cy="143.4" r="3.4" fill="#22f07e" fill-opacity="0.75"/><circle cx="378.5" cy="151.3" r="3.4" fill="#22f07e" fill-opacity="0.75"/><circle cx="403.3" cy="161.2" r="3.4" fill="#22f07e" fill-opacity="0.75"/><circle cx="334.6" cy="147.8" r="3.4" fill="#22f07e" fill-opacity="0.75"/><circle cx="369.7" cy="130.4" r="3.4" fill="#22f07e" fill-opacity="0.75"/><circle cx="397.4" cy="140.6" r="3.4" fill="#22f07e" fill-opacity="0.75"/><circle cx="422.0" cy="147.0" r="3.4" fill="#22f07e" fill-opacity="0.75"/><circle cx="354.8" cy="124.5" r="3.4" fill="#22f07e" fill-opacity="0.75"/><circle cx="470.7" cy="170.3" r="3.4" fill="#22f07e" fill-opacity="0.75"/><circle cx="346.3" cy="136.4" r="3.4" fill="#22f07e" fill-opacity="0.75"/><circle cx="319.4" cy="158.7" r="3.4" fill="#22f07e" fill-opacity="0.75"/><circle cx="326.4" cy="138.9" r="3.4" fill="#22f07e" fill-opacity="0.75"/><circle cx="438.3" cy="136.9" r="3.4" fill="#22f07e" fill-opacity="0.75"/><circle cx="416.0" cy="171.5" r="3.4" fill="#22f07e" fill-opacity="0.75"/><circle cx="427.4" cy="162.3" r="3.4" fill="#22f07e" fill-opacity="0.75"/><circle cx="452.0" cy="167.3" r="3.4" fill="#22f07e" fill-opacity="0.75"/><circle cx="422.4" cy="154.6" r="3.4" fill="#22f07e" fill-opacity="0.75"/><circle cx="440.6" cy="146.0" r="3.4" fill="#22f07e" fill-opacity="0.75"/><circle cx="446.9" cy="154.8" r="3.4" fill="#22f07e" fill-opacity="0.75"/><circle cx="456.3" cy="90.8" r="3.4" fill="#3cdc48" fill-opacity="0.75"/><circle cx="631.7" cy="117.0" r="3.4" fill="#3cdc48" fill-opacity="0.75"/><circle cx="541.3" cy="132.8" r="3.4" fill="#3cdc48" fill-opacity="0.75"/><circle cx="532.5" cy="138.0" r="3.4" fill="#3cdc48" fill-opacity="0.75"/><circle cx="533.3" cy="142.5" r="3.4" fill="#3cdc48" fill-opacity="0.75"/><circle cx="581.7" cy="152.5" r="3.4" fill="#3cdc48" fill-opacity="0.75"/><circle cx="543.3" cy="163.3" r="3.4" fill="#3cdc48" fill-opacity="0.75"/><circle cx="563.0" cy="175.8" r="3.4" fill="#3cdc48" fill-opacity="0.75"/><circle cx="533.3" cy="199.0" r="3.4" fill="#3cdc48" fill-opacity="0.75"/><circle cx="565.0" cy="202.5" r="3.4" fill="#3cdc48" fill-opacity="0.75"/><circle cx="569.2" cy="206.7" r="3.4" fill="#3cdc48" fill-opacity="0.75"/><circle cx="555.8" cy="210.8" r="3.4" fill="#3cdc48" fill-opacity="0.75"/><circle cx="520.8" cy="117.5" r="3.4" fill="#3cdc48" fill-opacity="0.75"/><circle cx="500.0" cy="150.0" r="3.4" fill="#3cdc48" fill-opacity="0.75"/><circle cx="510.0" cy="170.0" r="3.4" fill="#3cdc48" fill-opacity="0.75"/><circle cx="421.0" cy="171.9" r="3.4" fill="#3cdc48" fill-opacity="0.75"/><circle cx="539.4" cy="290.7" r="3.4" fill="#3cdc48" fill-opacity="0.75"/><circle cx="442.1" cy="200.5" r="3.4" fill="#3cdc48" fill-opacity="0.75"/><circle cx="458.1" cy="187.1" r="3.4" fill="#3cdc48" fill-opacity="0.75"/><circle cx="518.4" cy="166.1" r="3.4" fill="#3cdc48" fill-opacity="0.75"/><circle cx="502.4" cy="194.7" r="3.4" fill="#3cdc48" fill-opacity="0.75"/><circle cx="468.6" cy="151.9" r="3.4" fill="#3cdc48" fill-opacity="0.75"/><circle cx="422.5" cy="130.4" r="3.4" fill="#3cdc48" fill-opacity="0.75"/><circle cx="488.2" cy="270.7" r="3.4" fill="#3cdc48" fill-opacity="0.75"/><circle cx="458.3" cy="226.9" r="3.4" fill="#3cdc48" fill-opacity="0.75"/><circle cx="495.6" cy="160.2" r="3.4" fill="#3cdc48" fill-opacity="0.75"/><circle cx="476.7" cy="221.3" r="3.4" fill="#3cdc48" fill-opacity="0.75"/><circle cx="452.4" cy="196.3" r="3.4" fill="#3cdc48" fill-opacity="0.75"/><circle cx="517.2" cy="212.5" r="3.4" fill="#3cdc48" fill-opacity="0.75"/><circle cx="412.7" cy="145.8" r="3.4" fill="#3cdc48" fill-opacity="0.75"/><circle cx="473.0" cy="192.1" r="3.4" fill="#3cdc48" fill-opacity="0.75"/><circle cx="494.6" cy="278.1" r="3.4" fill="#3cdc48" fill-opacity="0.75"/><circle cx="641.7" cy="174.0" r="3.4" fill="#48c840" fill-opacity="0.75"/><circle cx="664.2" cy="268.7" r="3.4" fill="#48c840" fill-opacity="0.75"/><circle cx="579.2" cy="243.3" r="3.4" fill="#48c840" fill-opacity="0.75"/><circle cx="573.3" cy="253.0" r="3.4" fill="#48c840" fill-opacity="0.75"/><circle cx="577.5" cy="226.7" r="3.4" fill="#48c840" fill-opacity="0.75"/><circle cx="512.5" cy="181.7" r="3.4" fill="#48c840" fill-opacity="0.75"/><circle cx="540.8" cy="185.3" r="3.4" fill="#48c840" fill-opacity="0.75"/><circle cx="482.4" cy="248.3" r="3.4" fill="#48c840" fill-opacity="0.75"/><circle cx="529.0" cy="287.9" r="3.4" fill="#48c840" fill-opacity="0.75"/><circle cx="550.4" cy="269.8" r="3.4" fill="#48c840" fill-opacity="0.75"/><circle cx="501.0" cy="307.2" r="3.4" fill="#48c840" fill-opacity="0.75"/><circle cx="545.7" cy="258.4" r="3.4" fill="#48c840" fill-opacity="0.75"/><circle cx="508.7" cy="288.8" r="3.4" fill="#48c840" fill-opacity="0.75"/><circle cx="529.8" cy="246.9" r="3.4" fill="#48c840" fill-opacity="0.75"/><circle cx="581.3" cy="267.7" r="3.4" fill="#48c840" fill-opacity="0.75"/><circle cx="525.6" cy="261.3" r="3.4" fill="#48c840" fill-opacity="0.75"/><circle cx="447.3" cy="235.8" r="3.4" fill="#48c840" fill-opacity="0.75"/><circle cx="538.7" cy="234.7" r="3.4" fill="#48c840" fill-opacity="0.75"/><circle cx="535.7" cy="256.1" r="3.4" fill="#48c840" fill-opacity="0.75"/><circle cx="453.5" cy="178.8" r="3.4" fill="#48c840" fill-opacity="0.75"/><circle cx="506.9" cy="266.8" r="3.4" fill="#48c840" fill-opacity="0.75"/><circle cx="513.0" cy="252.7" r="3.4" fill="#48c840" fill-opacity="0.75"/><circle cx="527.6" cy="256.6" r="3.4" fill="#48c840" fill-opacity="0.75"/><circle cx="546.2" cy="283.9" r="3.4" fill="#48c840" fill-opacity="0.75"/><circle cx="509.4" cy="265.9" r="3.4" fill="#48c840" fill-opacity="0.75"/><circle cx="430.0" cy="300.0" r="3.4" fill="#40c860" fill-opacity="0.75"/><circle cx="520.0" cy="310.0" r="3.4" fill="#40c860" fill-opacity="0.75"/><circle cx="457.9" cy="233.8" r="3.4" fill="#40c860" fill-opacity="0.75"/><circle cx="509.6" cy="254.7" r="3.4" fill="#40c860" fill-opacity="0.75"/><circle cx="473.3" cy="254.8" r="3.4" fill="#40c860" fill-opacity="0.75"/><circle cx="469.4" cy="253.6" r="3.4" fill="#40c860" fill-opacity="0.75"/><circle cx="291.7" cy="207.5" r="3.4" fill="#40c850" fill-opacity="0.75"/><circle cx="400.5" cy="275.0" r="3.4" fill="#40c850" fill-opacity="0.75"/><circle cx="354.0" cy="298.2" r="3.4" fill="#40c850" fill-opacity="0.75"/><circle cx="360.0" cy="295.2" r="3.4" fill="#40c850" fill-opacity="0.75"/><circle cx="397.5" cy="296.8" r="3.4" fill="#40c850" fill-opacity="0.75"/><circle cx="423.7" cy="299.7" r="3.4" fill="#40c850" fill-opacity="0.75"/><circle cx="420.0" cy="324.5" r="3.4" fill="#40c850" fill-opacity="0.75"/><circle cx="379.5" cy="338.0" r="3.4" fill="#40c850" fill-opacity="0.75"/><circle cx="400.5" cy="365.7" r="3.4" fill="#40c850" fill-opacity="0.75"/><circle cx="439.5" cy="350.7" r="3.4" fill="#40c850" fill-opacity="0.75"/><circle cx="453.0" cy="384.5" r="3.4" fill="#40c850" fill-opacity="0.75"/><circle cx="453.0" cy="392.0" r="3.4" fill="#40c850" fill-opacity="0.75"/><circle cx="451.5" cy="308.7" r="3.4" fill="#40c850" fill-opacity="0.75"/><circle cx="453.0" cy="318.5" r="3.4" fill="#40c850" fill-opacity="0.75"/><circle cx="410.0" cy="240.0" r="3.4" fill="#40c850" fill-opacity="0.75"/><circle cx="400.0" cy="210.0" r="3.4" fill="#40c850" fill-opacity="0.75"/><circle cx="390.0" cy="260.0" r="3.4" fill="#40c850" fill-opacity="0.75"/><circle cx="415.9" cy="210.6" r="3.4" fill="#40c850" fill-opacity="0.75"/><circle cx="358.5" cy="190.6" r="3.4" fill="#40c850" fill-opacity="0.75"/><circle cx="455.2" cy="184.3" r="3.4" fill="#40c850" fill-opacity="0.75"/><circle cx="446.1" cy="217.9" r="3.4" fill="#40c850" fill-opacity="0.75"/><circle cx="475.7" cy="220.2" r="3.4" fill="#40c850" fill-opacity="0.75"/><circle cx="401.8" cy="314.9" r="3.4" fill="#40c850" fill-opacity="0.75"/><circle cx="388.8" cy="185.7" r="3.4" fill="#40c850" fill-opacity="0.75"/><circle cx="432.4" cy="224.2" r="3.4" fill="#40c850" fill-opacity="0.75"/><circle cx="392.5" cy="136.8" r="3.4" fill="#40c850" fill-opacity="0.75"/><circle cx="469.2" cy="252.8" r="3.4" fill="#40c850" fill-opacity="0.75"/><circle cx="530.8" cy="290.9" r="3.4" fill="#40c850" fill-opacity="0.75"/><circle cx="404.9" cy="292.9" r="3.4" fill="#40c850" fill-opacity="0.75"/><circle cx="432.5" cy="185.5" r="3.4" fill="#40c850" fill-opacity="0.75"/><circle cx="448.3" cy="231.7" r="3.4" fill="#40c850" fill-opacity="0.75"/><circle cx="482.5" cy="272.1" r="3.4" fill="#40c850" fill-opacity="0.75"/><circle cx="413.2" cy="205.6" r="3.4" fill="#40c850" fill-opacity="0.75"/><circle cx="538.5" cy="368.4" r="3.4" fill="#40c850" fill-opacity="0.75"/><circle cx="333.5" cy="113.5" r="3.4" fill="#40c850" fill-opacity="0.75"/><circle cx="400.9" cy="207.9" r="3.4" fill="#40c850" fill-opacity="0.75"/><circle cx="407.5" cy="260.8" r="3.4" fill="#40c850" fill-opacity="0.75"/><circle cx="472.8" cy="289.2" r="3.4" fill="#40c850" fill-opacity="0.75"/><circle cx="457.6" cy="241.2" r="3.4" fill="#40c850" fill-opacity="0.75"/><circle cx="440.5" cy="271.3" r="3.4" fill="#40c850" fill-opacity="0.75"/><circle cx="477.9" cy="250.5" r="3.4" fill="#40c850" fill-opacity="0.75"/><circle cx="499.7" cy="291.5" r="3.4" fill="#40c850" fill-opacity="0.75"/><circle cx="459.7" cy="216.7" r="3.4" fill="#40c850" fill-opacity="0.75"/><circle cx="436.2" cy="198.7" r="3.4" fill="#40c850" fill-opacity="0.75"/><circle cx="312.6" cy="133.5" r="3.4" fill="#40c850" fill-opacity="0.75"/><circle cx="476.8" cy="254.2" r="3.4" fill="#40c850" fill-opacity="0.75"/><circle cx="485.6" cy="286.1" r="3.4" fill="#40c850" fill-opacity="0.75"/><circle cx="508.5" cy="206.0" r="3.4" fill="#40c850" fill-opacity="0.75"/><circle cx="429.7" cy="233.5" r="3.4" fill="#40c850" fill-opacity="0.75"/><circle cx="484.8" cy="334.8" r="3.4" fill="#40c850" fill-opacity="0.75"/><circle cx="626.7" cy="298.0" r="3.4" fill="#38b462" fill-opacity="0.75"/><circle cx="603.3" cy="300.3" r="3.4" fill="#38b462" fill-opacity="0.75"/><circle cx="596.7" cy="307.0" r="3.4" fill="#38b462" fill-opacity="0.75"/><circle cx="587.5" cy="318.7" r="3.4" fill="#38b462" fill-opacity="0.75"/><circle cx="658.3" cy="335.0" r="3.4" fill="#38b462" fill-opacity="0.75"/><circle cx="572.5" cy="335.0" r="3.4" fill="#38b462" fill-opacity="0.75"/><circle cx="578.3" cy="355.0" r="3.4" fill="#38b462" fill-opacity="0.75"/><circle cx="548.3" cy="378.3" r="3.4" fill="#38b462" fill-opacity="0.75"/><circle cx="488.3" cy="362.5" r="3.4" fill="#38b462" fill-opacity="0.75"/><circle cx="487.5" cy="404.0" r="3.4" fill="#38b462" fill-opacity="0.75"/><circle cx="544.2" cy="410.8" r="3.4" fill="#38b462" fill-opacity="0.75"/><circle cx="507.5" cy="434.0" r="3.4" fill="#38b462" fill-opacity="0.75"/><circle cx="526.7" cy="297.5" r="3.4" fill="#38b462" fill-opacity="0.75"/><circle cx="506.7" cy="299.0" r="3.4" fill="#38b462" fill-opacity="0.75"/><circle cx="498.3" cy="303.3" r="3.4" fill="#38b462" fill-opacity="0.75"/><circle cx="493.3" cy="310.8" r="3.4" fill="#38b462" fill-opacity="0.75"/><circle cx="496.7" cy="295.0" r="3.4" fill="#38b462" fill-opacity="0.75"/><circle cx="538.3" cy="247.5" r="3.4" fill="#38b462" fill-opacity="0.75"/><circle cx="540.5" cy="289.5" r="3.4" fill="#38b462" fill-opacity="0.75"/><circle cx="365.2" cy="182.8" r="3.4" fill="#38b462" fill-opacity="0.75"/><circle cx="444.0" cy="277.1" r="3.4" fill="#38b462" fill-opacity="0.75"/><circle cx="452.8" cy="256.5" r="3.4" fill="#38b462" fill-opacity="0.75"/><circle cx="394.8" cy="207.5" r="3.4" fill="#38b462" fill-opacity="0.75"/><circle cx="437.8" cy="246.6" r="3.4" fill="#38b462" fill-opacity="0.75"/><circle cx="482.2" cy="272.5" r="3.4" fill="#38b462" fill-opacity="0.75"/><circle cx="474.6" cy="269.1" r="3.4" fill="#38b462" fill-opacity="0.75"/><circle cx="481.6" cy="296.5" r="3.4" fill="#38b462" fill-opacity="0.75"/><circle cx="452.4" cy="224.1" r="3.4" fill="#38b462" fill-opacity="0.75"/><circle cx="531.8" cy="322.8" r="3.4" fill="#38b462" fill-opacity="0.75"/><circle cx="492.8" cy="303.4" r="3.4" fill="#38b462" fill-opacity="0.75"/><circle cx="454.9" cy="220.2" r="3.4" fill="#38b462" fill-opacity="0.75"/><circle cx="461.6" cy="266.8" r="3.4" fill="#38b462" fill-opacity="0.75"/><circle cx="511.0" cy="255.8" r="3.4" fill="#38b462" fill-opacity="0.75"/><circle cx="440.8" cy="232.0" r="3.4" fill="#38b462" fill-opacity="0.75"/><circle cx="571.0" cy="272.5" r="3.4" fill="#38b462" fill-opacity="0.75"/><circle cx="489.8" cy="263.4" r="3.4" fill="#38b462" fill-opacity="0.75"/><circle cx="488.5" cy="264.0" r="3.4" fill="#38b462" fill-opacity="0.75"/><circle cx="445.2" cy="302.2" r="3.4" fill="#38b462" fill-opacity="0.75"/><circle cx="467.2" cy="279.4" r="3.4" fill="#38b462" fill-opacity="0.75"/><circle cx="491.4" cy="256.6" r="3.4" fill="#38b462" fill-opacity="0.75"/><circle cx="713.0" cy="326.0" r="3.4" fill="#55c850" fill-opacity="0.75"/><circle cx="704.0" cy="310.0" r="3.4" fill="#55c850" fill-opacity="0.75"/><circle cx="610.0" cy="270.0" r="3.4" fill="#55c850" fill-opacity="0.75"/><circle cx="560.0" cy="230.0" r="3.4" fill="#55c850" fill-opacity="0.75"/><circle cx="511.1" cy="259.7" r="3.4" fill="#55c850" fill-opacity="0.75"/><circle cx="461.6" cy="223.8" r="3.4" fill="#55c850" fill-opacity="0.75"/><circle cx="469.1" cy="255.9" r="3.4" fill="#55c850" fill-opacity="0.75"/><circle cx="496.0" cy="236.6" r="3.4" fill="#55c850" fill-opacity="0.75"/><circle cx="523.3" cy="309.0" r="3.4" fill="#55c850" fill-opacity="0.75"/><circle cx="523.0" cy="296.4" r="3.4" fill="#55c850" fill-opacity="0.75"/><circle cx="492.0" cy="236.8" r="3.4" fill="#55c850" fill-opacity="0.75"/><circle cx="464.1" cy="258.1" r="3.4" fill="#55c850" fill-opacity="0.75"/><circle cx="516.7" cy="222.8" r="3.4" fill="#55c850" fill-opacity="0.75"/><circle cx="510.4" cy="219.7" r="3.4" fill="#55c850" fill-opacity="0.75"/><circle cx="514.1" cy="229.7" r="3.4" fill="#55c850" fill-opacity="0.75"/><circle cx="443.5" cy="213.7" r="3.4" fill="#55c850" fill-opacity="0.75"/><circle cx="513.0" cy="213.9" r="3.4" fill="#55c850" fill-opacity="0.75"/><circle cx="480.0" cy="311.1" r="3.4" fill="#55c850" fill-opacity="0.75"/><circle cx="408.7" cy="240.0" r="3.4" fill="#55c850" fill-opacity="0.75"/><circle cx="473.2" cy="218.6" r="3.4" fill="#55c850" fill-opacity="0.75"/><circle cx="506.1" cy="215.1" r="3.4" fill="#55c850" fill-opacity="0.75"/><circle cx="383.0" cy="178.0" r="3.4" fill="#2ea064" fill-opacity="0.75"/><circle cx="390.0" cy="185.0" r="3.4" fill="#2ea064" fill-opacity="0.75"/><circle cx="378.0" cy="172.0" r="3.4" fill="#2ea064" fill-opacity="0.75"/><circle cx="366.0" cy="260.0" r="3.4" fill="#2ea064" fill-opacity="0.75"/><circle cx="383.2" cy="331.2" r="3.4" fill="#2ea064" fill-opacity="0.75"/><circle cx="385.5" cy="363.5" r="3.4" fill="#2ea064" fill-opacity="0.75"/><circle cx="427.5" cy="376.2" r="3.4" fill="#2ea064" fill-opacity="0.75"/><circle cx="465.0" cy="391.2" r="3.4" fill="#2ea064" fill-opacity="0.75"/><circle cx="633.3" cy="308.3" r="3.4" fill="#2ea064" fill-opacity="0.75"/><circle cx="560.8" cy="373.3" r="3.4" fill="#2ea064" fill-opacity="0.75"/><circle cx="561.7" cy="383.3" r="3.4" fill="#2ea064" fill-opacity="0.75"/><circle cx="512.5" cy="364.2" r="3.4" fill="#2ea064" fill-opacity="0.75"/><circle cx="440.0" cy="490.8" r="3.4" fill="#2ea064" fill-opacity="0.75"/><circle cx="420.0" cy="400.0" r="3.4" fill="#2ea064" fill-opacity="0.75"/><circle cx="500.0" cy="420.0" r="3.4" fill="#2ea064" fill-opacity="0.75"/><circle cx="481.0" cy="342.9" r="3.4" fill="#2ea064" fill-opacity="0.75"/><circle cx="440.0" cy="327.5" r="3.4" fill="#2ea064" fill-opacity="0.75"/><circle cx="424.7" cy="326.0" r="3.4" fill="#2ea064" fill-opacity="0.75"/><circle cx="473.7" cy="298.7" r="3.4" fill="#2ea064" fill-opacity="0.75"/><circle cx="446.3" cy="335.9" r="3.4" fill="#2ea064" fill-opacity="0.75"/><circle cx="469.5" cy="356.0" r="3.4" fill="#640a58" fill-opacity="0.75"/><circle cx="467.5" cy="352.0" r="3.4" fill="#640a58" fill-opacity="0.75"/><circle cx="468.5" cy="354.0" r="3.4" fill="#640a58" fill-opacity="0.75"/><circle cx="470.0" cy="357.5" r="3.4" fill="#640a58" fill-opacity="0.75"/><circle cx="559.2" cy="456.7" r="3.4" fill="#640a58" fill-opacity="0.75"/><circle cx="565.0" cy="491.7" r="3.4" fill="#640a58" fill-opacity="0.75"/><circle cx="535.8" cy="541.7" r="3.4" fill="#640a58" fill-opacity="0.75"/><circle cx="593.3" cy="550.0" r="3.4" fill="#640a58" fill-opacity="0.75"/><circle cx="626.7" cy="556.7" r="3.4" fill="#640a58" fill-opacity="0.75"/><circle cx="651.7" cy="544.2" r="3.4" fill="#640a58" fill-opacity="0.75"/><circle cx="579.2" cy="575.0" r="3.4" fill="#640a58" fill-opacity="0.75"/><circle cx="590.4" cy="611.8" r="3.4" fill="#640a58" fill-opacity="0.75"/><circle cx="578.3" cy="595.1" r="3.4" fill="#640a58" fill-opacity="0.75"/><circle cx="585.6" cy="598.1" r="3.4" fill="#640a58" fill-opacity="0.75"/><circle cx="579.5" cy="609.6" r="3.4" fill="#640a58" fill-opacity="0.75"/><circle cx="595.5" cy="603.1" r="3.4" fill="#640a58" fill-opacity="0.75"/><circle cx="580.5" cy="605.6" r="3.4" fill="#640a58" fill-opacity="0.75"/><circle cx="566.9" cy="600.9" r="3.4" fill="#640a58" fill-opacity="0.75"/><circle cx="573.5" cy="620.1" r="3.4" fill="#640a58" fill-opacity="0.75"/><circle cx="587.8" cy="602.1" r="3.4" fill="#640a58" fill-opacity="0.75"/><circle cx="580.4" cy="580.9" r="3.4" fill="#640a58" fill-opacity="0.75"/><circle cx="587.7" cy="614.0" r="3.4" fill="#640a58" fill-opacity="0.75"/><circle cx="576.2" cy="606.5" r="3.4" fill="#640a58" fill-opacity="0.75"/><circle cx="587.8" cy="588.6" r="3.4" fill="#640a58" fill-opacity="0.75"/><circle cx="589.5" cy="611.8" r="3.4" fill="#640a58" fill-opacity="0.75"/><circle cx="583.8" cy="600.5" r="3.4" fill="#640a58" fill-opacity="0.75"/><circle cx="588.3" cy="588.7" r="3.4" fill="#640a58" fill-opacity="0.75"/><circle cx="582.7" cy="609.4" r="3.4" fill="#640a58" fill-opacity="0.75"/><circle cx="572.1" cy="608.9" r="3.4" fill="#640a58" fill-opacity="0.75"/><circle cx="578.7" cy="584.4" r="3.4" fill="#640a58" fill-opacity="0.75"/><circle cx="557.5" cy="587.5" r="3.4" fill="#70166a" fill-opacity="0.75"/><circle cx="622.5" cy="607.5" r="3.4" fill="#70166a" fill-opacity="0.75"/><circle cx="556.7" cy="695.7" r="3.4" fill="#70166a" fill-opacity="0.75"/><circle cx="588.2" cy="604.2" r="3.4" fill="#70166a" fill-opacity="0.75"/><circle cx="591.6" cy="602.6" r="3.4" fill="#70166a" fill-opacity="0.75"/><circle cx="597.4" cy="606.1" r="3.4" fill="#70166a" fill-opacity="0.75"/><circle cx="591.9" cy="607.2" r="3.4" fill="#70166a" fill-opacity="0.75"/><circle cx="586.4" cy="621.5" r="3.4" fill="#70166a" fill-opacity="0.75"/><circle cx="590.7" cy="608.8" r="3.4" fill="#70166a" fill-opacity="0.75"/><circle cx="579.0" cy="621.3" r="3.4" fill="#70166a" fill-opacity="0.75"/><circle cx="594.9" cy="609.4" r="3.4" fill="#70166a" fill-opacity="0.75"/><circle cx="590.9" cy="603.8" r="3.4" fill="#70166a" fill-opacity="0.75"/><circle cx="580.9" cy="605.4" r="3.4" fill="#70166a" fill-opacity="0.75"/><circle cx="591.8" cy="614.4" r="3.4" fill="#70166a" fill-opacity="0.75"/><circle cx="583.0" cy="617.9" r="3.4" fill="#70166a" fill-opacity="0.75"/><circle cx="595.3" cy="613.4" r="3.4" fill="#70166a" fill-opacity="0.75"/><circle cx="597.3" cy="609.7" r="3.4" fill="#70166a" fill-opacity="0.75"/><circle cx="588.1" cy="615.8" r="3.4" fill="#70166a" fill-opacity="0.75"/><circle cx="588.7" cy="618.4" r="3.4" fill="#70166a" fill-opacity="0.75"/><circle cx="579.0" cy="623.4" r="3.4" fill="#70166a" fill-opacity="0.75"/><circle cx="592.8" cy="657.9" r="3.4" fill="#70166a" fill-opacity="0.75"/><circle cx="594.0" cy="648.0" r="3.4" fill="#70166a" fill-opacity="0.75"/><circle cx="590.0" cy="660.0" r="3.4" fill="#70166a" fill-opacity="0.75"/><circle cx="584.7" cy="632.7" r="3.4" fill="#70166a" fill-opacity="0.75"/><circle cx="580.0" cy="638.8" r="3.4" fill="#70166a" fill-opacity="0.75"/><circle cx="601.2" cy="642.6" r="3.4" fill="#70166a" fill-opacity="0.75"/><circle cx="597.7" cy="621.5" r="3.4" fill="#70166a" fill-opacity="0.75"/><circle cx="584.7" cy="630.3" r="3.4" fill="#70166a" fill-opacity="0.75"/><circle cx="583.5" cy="643.0" r="3.4" fill="#70166a" fill-opacity="0.75"/><circle cx="592.5" cy="633.8" r="3.4" fill="#70166a" fill-opacity="0.75"/><circle cx="594.9" cy="626.4" r="3.4" fill="#70166a" fill-opacity="0.75"/><circle cx="583.7" cy="626.9" r="3.4" fill="#70166a" fill-opacity="0.75"/><circle cx="595.0" cy="636.7" r="3.4" fill="#70166a" fill-opacity="0.75"/><circle cx="595.6" cy="642.6" r="3.4" fill="#70166a" fill-opacity="0.75"/><circle cx="580.1" cy="629.5" r="3.4" fill="#70166a" fill-opacity="0.75"/><circle cx="592.2" cy="623.2" r="3.4" fill="#70166a" fill-opacity="0.75"/><circle cx="586.7" cy="642.1" r="3.4" fill="#70166a" fill-opacity="0.75"/><circle cx="599.8" cy="642.6" r="3.4" fill="#70166a" fill-opacity="0.75"/><circle cx="591.3" cy="632.3" r="3.4" fill="#70166a" fill-opacity="0.75"/><circle cx="599.6" cy="631.0" r="3.4" fill="#70166a" fill-opacity="0.75"/><circle cx="593.7" cy="644.6" r="3.4" fill="#70166a" fill-opacity="0.75"/><circle cx="588.1" cy="629.1" r="3.4" fill="#70166a" fill-opacity="0.75"/><circle cx="590.9" cy="638.8" r="3.4" fill="#70166a" fill-opacity="0.75"/><circle cx="594.9" cy="635.2" r="3.4" fill="#70166a" fill-opacity="0.75"/><circle cx="595.5" cy="621.2" r="3.4" fill="#70166a" fill-opacity="0.75"/><circle cx="584.1" cy="635.3" r="3.4" fill="#70166a" fill-opacity="0.75"/><circle cx="583.6" cy="623.3" r="3.4" fill="#70166a" fill-opacity="0.75"/><circle cx="581.3" cy="626.7" r="3.4" fill="#70166a" fill-opacity="0.75"/><circle cx="589.6" cy="625.8" r="3.4" fill="#70166a" fill-opacity="0.75"/><circle cx="592.9" cy="647.6" r="3.4" fill="#70166a" fill-opacity="0.75"/><circle cx="589.8" cy="644.2" r="3.4" fill="#70166a" fill-opacity="0.75"/><circle cx="593.3" cy="625.0" r="3.4" fill="#70166a" fill-opacity="0.75"/><circle cx="588.9" cy="626.1" r="3.4" fill="#70166a" fill-opacity="0.75"/><circle cx="597.1" cy="624.8" r="3.4" fill="#70166a" fill-opacity="0.75"/><circle cx="601.6" cy="638.6" r="3.4" fill="#70166a" fill-opacity="0.75"/><circle cx="574.8" cy="640.3" r="3.4" fill="#70166a" fill-opacity="0.75"/><circle cx="528.3" cy="419.2" r="3.4" fill="#5a64f0" fill-opacity="0.75"/><circle cx="552.5" cy="453.3" r="3.4" fill="#5a64f0" fill-opacity="0.75"/><circle cx="555.8" cy="447.5" r="3.4" fill="#5a64f0" fill-opacity="0.75"/><circle cx="558.3" cy="445.8" r="3.4" fill="#5a64f0" fill-opacity="0.75"/><circle cx="535.8" cy="482.5" r="3.4" fill="#5a64f0" fill-opacity="0.75"/><circle cx="526.7" cy="505.8" r="3.4" fill="#5a64f0" fill-opacity="0.75"/><circle cx="538.3" cy="579.2" r="3.4" fill="#5a64f0" fill-opacity="0.75"/><circle cx="553.0" cy="448.0" r="3.4" fill="#5a64f0" fill-opacity="0.75"/><circle cx="551.0" cy="451.0" r="3.4" fill="#5a64f0" fill-opacity="0.75"/><circle cx="556.0" cy="452.0" r="3.4" fill="#5a64f0" fill-opacity="0.75"/><circle cx="590.5" cy="424.1" r="3.4" fill="#5a64f0" fill-opacity="0.75"/><circle cx="584.9" cy="414.0" r="3.4" fill="#5a64f0" fill-opacity="0.75"/><circle cx="577.5" cy="415.4" r="3.4" fill="#5a64f0" fill-opacity="0.75"/><circle cx="579.8" cy="414.1" r="3.4" fill="#5a64f0" fill-opacity="0.75"/><circle cx="548.7" cy="436.0" r="3.4" fill="#5a64f0" fill-opacity="0.75"/><circle cx="597.9" cy="426.0" r="3.4" fill="#5a64f0" fill-opacity="0.75"/><circle cx="583.3" cy="433.1" r="3.4" fill="#5a64f0" fill-opacity="0.75"/><circle cx="571.8" cy="438.2" r="3.4" fill="#5a64f0" fill-opacity="0.75"/><circle cx="591.4" cy="419.6" r="3.4" fill="#5a64f0" fill-opacity="0.75"/><circle cx="580.6" cy="435.5" r="3.4" fill="#5a64f0" fill-opacity="0.75"/><circle cx="560.8" cy="448.1" r="3.4" fill="#5a64f0" fill-opacity="0.75"/><circle cx="594.5" cy="422.5" r="3.4" fill="#5a64f0" fill-opacity="0.75"/><circle cx="592.4" cy="432.6" r="3.4" fill="#5a64f0" fill-opacity="0.75"/><circle cx="573.4" cy="447.0" r="3.4" fill="#5a64f0" fill-opacity="0.75"/><circle cx="577.3" cy="435.2" r="3.4" fill="#5a64f0" fill-opacity="0.75"/><circle cx="590.2" cy="444.9" r="3.4" fill="#5a64f0" fill-opacity="0.75"/><circle cx="609.2" cy="348.3" r="3.4" fill="#7480d8" fill-opacity="0.75"/><circle cx="583.3" cy="363.3" r="3.4" fill="#7480d8" fill-opacity="0.75"/><circle cx="635.8" cy="368.3" r="3.4" fill="#7480d8" fill-opacity="0.75"/><circle cx="632.5" cy="373.3" r="3.4" fill="#7480d8" fill-opacity="0.75"/><circle cx="607.5" cy="377.5" r="3.4" fill="#7480d8" fill-opacity="0.75"/><circle cx="608.3" cy="386.7" r="3.4" fill="#7480d8" fill-opacity="0.75"/><circle cx="625.8" cy="397.5" r="3.4" fill="#7480d8" fill-opacity="0.75"/><circle cx="581.7" cy="402.5" r="3.4" fill="#7480d8" fill-opacity="0.75"/><circle cx="658.3" cy="400.8" r="3.4" fill="#7480d8" fill-opacity="0.75"/><circle cx="613.3" cy="438.3" r="3.4" fill="#7480d8" fill-opacity="0.75"/><circle cx="618.3" cy="450.0" r="3.4" fill="#7480d8" fill-opacity="0.75"/><circle cx="622.5" cy="448.7" r="3.4" fill="#7480d8" fill-opacity="0.75"/><circle cx="620.8" cy="468.3" r="3.4" fill="#7480d8" fill-opacity="0.75"/><circle cx="716.5" cy="333.0" r="3.4" fill="#7480d8" fill-opacity="0.75"/><circle cx="705.5" cy="338.0" r="3.4" fill="#7480d8" fill-opacity="0.75"/><circle cx="679.0" cy="368.0" r="3.4" fill="#7480d8" fill-opacity="0.75"/><circle cx="732.5" cy="401.7" r="3.4" fill="#7480d8" fill-opacity="0.75"/><circle cx="711.0" cy="336.0" r="3.4" fill="#7480d8" fill-opacity="0.75"/><circle cx="608.7" cy="403.2" r="3.4" fill="#7480d8" fill-opacity="0.75"/><circle cx="579.1" cy="433.5" r="3.4" fill="#7480d8" fill-opacity="0.75"/><circle cx="586.9" cy="421.8" r="3.4" fill="#7480d8" fill-opacity="0.75"/><circle cx="585.1" cy="417.8" r="3.4" fill="#7480d8" fill-opacity="0.75"/><circle cx="582.7" cy="439.6" r="3.4" fill="#7480d8" fill-opacity="0.75"/><circle cx="585.8" cy="418.5" r="3.4" fill="#7480d8" fill-opacity="0.75"/><circle cx="595.7" cy="434.5" r="3.4" fill="#7480d8" fill-opacity="0.75"/><circle cx="581.0" cy="419.6" r="3.4" fill="#7480d8" fill-opacity="0.75"/><circle cx="595.5" cy="426.4" r="3.4" fill="#7480d8" fill-opacity="0.75"/><circle cx="603.7" cy="414.4" r="3.4" fill="#7480d8" fill-opacity="0.75"/><circle cx="600.9" cy="415.5" r="3.4" fill="#7480d8" fill-opacity="0.75"/><circle cx="603.6" cy="418.8" r="3.4" fill="#7480d8" fill-opacity="0.75"/><circle cx="635.0" cy="289.2" r="3.4" fill="#957550" fill-opacity="0.75"/><circle cx="550.8" cy="314.2" r="3.4" fill="#957550" fill-opacity="0.75"/><circle cx="563.3" cy="340.8" r="3.4" fill="#957550" fill-opacity="0.75"/><circle cx="588.7" cy="345.0" r="3.4" fill="#957550" fill-opacity="0.75"/><circle cx="590.0" cy="383.3" r="3.4" fill="#957550" fill-opacity="0.75"/><circle cx="541.7" cy="403.0" r="3.4" fill="#957550" fill-opacity="0.75"/><circle cx="645.0" cy="407.5" r="3.4" fill="#957550" fill-opacity="0.75"/><circle cx="660.8" cy="369.2" r="3.4" fill="#957550" fill-opacity="0.75"/><circle cx="688.3" cy="385.8" r="3.4" fill="#957550" fill-opacity="0.75"/><circle cx="742.5" cy="418.3" r="3.4" fill="#957550" fill-opacity="0.75"/><circle cx="715.0" cy="428.3" r="3.4" fill="#957550" fill-opacity="0.75"/><circle cx="732.5" cy="444.2" r="3.4" fill="#957550" fill-opacity="0.75"/><circle cx="721.7" cy="453.3" r="3.4" fill="#957550" fill-opacity="0.75"/><circle cx="739.2" cy="469.2" r="3.4" fill="#957550" fill-opacity="0.75"/><circle cx="749.0" cy="266.7" r="3.4" fill="#957550" fill-opacity="0.75"/><circle cx="745.0" cy="304.6" r="3.4" fill="#957550" fill-opacity="0.75"/><circle cx="783.7" cy="310.5" r="3.4" fill="#957550" fill-opacity="0.75"/><circle cx="767.4" cy="311.0" r="3.4" fill="#957550" fill-opacity="0.75"/><circle cx="688.1" cy="400.7" r="3.4" fill="#957550" fill-opacity="0.75"/><circle cx="700.4" cy="423.7" r="3.4" fill="#957550" fill-opacity="0.75"/><circle cx="690.1" cy="404.1" r="3.4" fill="#957550" fill-opacity="0.75"/><circle cx="713.6" cy="380.2" r="3.4" fill="#957550" fill-opacity="0.75"/><circle cx="675.1" cy="389.1" r="3.4" fill="#957550" fill-opacity="0.75"/><circle cx="694.6" cy="425.4" r="3.4" fill="#957550" fill-opacity="0.75"/><circle cx="700.7" cy="413.1" r="3.4" fill="#957550" fill-opacity="0.75"/><circle cx="693.3" cy="376.4" r="3.4" fill="#957550" fill-opacity="0.75"/><circle cx="668.2" cy="411.2" r="3.4" fill="#957550" fill-opacity="0.75"/><circle cx="698.2" cy="388.0" r="3.4" fill="#957550" fill-opacity="0.75"/><circle cx="709.4" cy="385.6" r="3.4" fill="#957550" fill-opacity="0.75"/><circle cx="709.6" cy="415.5" r="3.4" fill="#957550" fill-opacity="0.75"/><circle cx="493.3" cy="319.7" r="3.4" fill="#a08462" fill-opacity="0.75"/><circle cx="588.3" cy="386.7" r="3.4" fill="#a08462" fill-opacity="0.75"/><circle cx="529.2" cy="425.0" r="3.4" fill="#a08462" fill-opacity="0.75"/><circle cx="529.2" cy="425.8" r="3.4" fill="#a08462" fill-opacity="0.75"/><circle cx="573.3" cy="468.3" r="3.4" fill="#a08462" fill-opacity="0.75"/><circle cx="585.0" cy="477.5" r="3.4" fill="#a08462" fill-opacity="0.75"/><circle cx="642.5" cy="474.2" r="3.4" fill="#a08462" fill-opacity="0.75"/><circle cx="675.8" cy="447.5" r="3.4" fill="#a08462" fill-opacity="0.75"/><circle cx="686.7" cy="440.8" r="3.4" fill="#a08462" fill-opacity="0.75"/><circle cx="704.2" cy="455.0" r="3.4" fill="#a08462" fill-opacity="0.75"/><circle cx="699.2" cy="463.3" r="3.4" fill="#a08462" fill-opacity="0.75"/><circle cx="717.5" cy="465.8" r="3.4" fill="#a08462" fill-opacity="0.75"/><circle cx="612.5" cy="500.8" r="3.4" fill="#a08462" fill-opacity="0.75"/><circle cx="618.3" cy="500.0" r="3.4" fill="#a08462" fill-opacity="0.75"/><circle cx="607.5" cy="507.5" r="3.4" fill="#a08462" fill-opacity="0.75"/><circle cx="635.8" cy="514.2" r="3.4" fill="#a08462" fill-opacity="0.75"/><circle cx="703.3" cy="438.3" r="3.4" fill="#a08462" fill-opacity="0.75"/><circle cx="703.3" cy="437.5" r="3.4" fill="#a08462" fill-opacity="0.75"/><circle cx="719.2" cy="465.8" r="3.4" fill="#a08462" fill-opacity="0.75"/><circle cx="720.8" cy="488.3" r="3.4" fill="#a08462" fill-opacity="0.75"/><circle cx="751.2" cy="266.8" r="3.4" fill="#a08462" fill-opacity="0.75"/><circle cx="730.0" cy="350.0" r="3.4" fill="#a08462" fill-opacity="0.75"/><circle cx="671.8" cy="404.9" r="3.4" fill="#a08462" fill-opacity="0.75"/><circle cx="691.1" cy="405.0" r="3.4" fill="#a08462" fill-opacity="0.75"/><circle cx="691.3" cy="404.0" r="3.4" fill="#a08462" fill-opacity="0.75"/><circle cx="690.7" cy="416.9" r="3.4" fill="#a08462" fill-opacity="0.75"/><circle cx="675.8" cy="407.0" r="3.4" fill="#a08462" fill-opacity="0.75"/><circle cx="683.9" cy="397.1" r="3.4" fill="#a08462" fill-opacity="0.75"/><circle cx="677.7" cy="412.0" r="3.4" fill="#a08462" fill-opacity="0.75"/><circle cx="689.1" cy="403.5" r="3.4" fill="#a08462" fill-opacity="0.75"/><circle cx="725.8" cy="407.0" r="3.4" fill="#c87a30" fill-opacity="0.75"/><circle cx="750.8" cy="436.7" r="3.4" fill="#c87a30" fill-opacity="0.75"/><circle cx="795.8" cy="419.2" r="3.4" fill="#c87a30" fill-opacity="0.75"/><circle cx="810.0" cy="414.2" r="3.4" fill="#c87a30" fill-opacity="0.75"/><circle cx="872.0" cy="282.0" r="3.4" fill="#c87a30" fill-opacity="0.75"/><circle cx="884.0" cy="284.0" r="3.4" fill="#c87a30" fill-opacity="0.75"/><circle cx="864.0" cy="280.0" r="3.4" fill="#c87a30" fill-opacity="0.75"/><circle cx="818.1" cy="398.5" r="3.4" fill="#c87a30" fill-opacity="0.75"/><circle cx="789.6" cy="412.1" r="3.4" fill="#c87a30" fill-opacity="0.75"/><circle cx="817.6" cy="399.5" r="3.4" fill="#c87a30" fill-opacity="0.75"/><circle cx="792.1" cy="401.1" r="3.4" fill="#c87a30" fill-opacity="0.75"/><circle cx="794.1" cy="398.5" r="3.4" fill="#c87a30" fill-opacity="0.75"/><circle cx="816.6" cy="404.1" r="3.4" fill="#c87a30" fill-opacity="0.75"/><circle cx="802.5" cy="403.8" r="3.4" fill="#c87a30" fill-opacity="0.75"/><circle cx="800.4" cy="407.7" r="3.4" fill="#c87a30" fill-opacity="0.75"/><circle cx="809.8" cy="398.0" r="3.4" fill="#c87a30" fill-opacity="0.75"/><circle cx="802.1" cy="420.3" r="3.4" fill="#c87a30" fill-opacity="0.75"/><circle cx="805.2" cy="399.5" r="3.4" fill="#c87a30" fill-opacity="0.75"/><circle cx="821.5" cy="401.1" r="3.4" fill="#c87a30" fill-opacity="0.75"/><circle cx="790.0" cy="406.4" r="3.4" fill="#c87a30" fill-opacity="0.75"/><circle cx="792.0" cy="397.0" r="3.4" fill="#c87a30" fill-opacity="0.75"/><circle cx="804.3" cy="400.0" r="3.4" fill="#c87a30" fill-opacity="0.75"/><circle cx="793.4" cy="396.6" r="3.4" fill="#c87a30" fill-opacity="0.75"/><circle cx="795.1" cy="410.3" r="3.4" fill="#c87a30" fill-opacity="0.75"/><circle cx="793.8" cy="396.4" r="3.4" fill="#c87a30" fill-opacity="0.75"/><circle cx="821.4" cy="396.6" r="3.4" fill="#c87a30" fill-opacity="0.75"/><circle cx="678.3" cy="464.2" r="3.4" fill="#c8822e" fill-opacity="0.75"/><circle cx="661.7" cy="450.0" r="3.4" fill="#c8822e" fill-opacity="0.75"/><circle cx="742.5" cy="418.4" r="3.4" fill="#c8822e" fill-opacity="0.75"/><circle cx="866.0" cy="281.0" r="3.4" fill="#c8822e" fill-opacity="0.75"/><circle cx="888.0" cy="283.0" r="3.4" fill="#c8822e" fill-opacity="0.75"/><circle cx="816.9" cy="399.5" r="3.4" fill="#c8822e" fill-opacity="0.75"/><circle cx="800.5" cy="377.6" r="3.4" fill="#c8822e" fill-opacity="0.75"/><circle cx="806.5" cy="394.4" r="3.4" fill="#c8822e" fill-opacity="0.75"/><circle cx="811.7" cy="389.6" r="3.4" fill="#c8822e" fill-opacity="0.75"/><circle cx="814.0" cy="400.1" r="3.4" fill="#c8822e" fill-opacity="0.75"/><circle cx="791.5" cy="400.4" r="3.4" fill="#c8822e" fill-opacity="0.75"/><circle cx="803.7" cy="384.5" r="3.4" fill="#c8822e" fill-opacity="0.75"/><circle cx="798.8" cy="404.0" r="3.4" fill="#c8822e" fill-opacity="0.75"/><circle cx="811.8" cy="374.7" r="3.4" fill="#c8822e" fill-opacity="0.75"/><circle cx="802.8" cy="387.9" r="3.4" fill="#c8822e" fill-opacity="0.75"/><circle cx="800.2" cy="384.9" r="3.4" fill="#c8822e" fill-opacity="0.75"/><circle cx="787.4" cy="395.9" r="3.4" fill="#c8822e" fill-opacity="0.75"/><circle cx="792.6" cy="386.0" r="3.4" fill="#c8822e" fill-opacity="0.75"/><circle cx="796.0" cy="383.2" r="3.4" fill="#c8822e" fill-opacity="0.75"/><circle cx="809.4" cy="392.1" r="3.4" fill="#c8822e" fill-opacity="0.75"/><circle cx="795.3" cy="381.4" r="3.4" fill="#c8822e" fill-opacity="0.75"/><circle cx="797.3" cy="396.7" r="3.4" fill="#c8822e" fill-opacity="0.75"/><circle cx="803.3" cy="390.9" r="3.4" fill="#c8822e" fill-opacity="0.75"/><circle cx="798.7" cy="386.9" r="3.4" fill="#c8822e" fill-opacity="0.75"/><circle cx="804.2" cy="374.3" r="3.4" fill="#c8822e" fill-opacity="0.75"/><circle cx="751.2" cy="436.0" r="3.4" fill="#c8862c" fill-opacity="0.75"/><circle cx="660.8" cy="450.0" r="3.4" fill="#c8862c" fill-opacity="0.75"/><circle cx="677.5" cy="464.2" r="3.4" fill="#c8862c" fill-opacity="0.75"/><circle cx="787.1" cy="380.7" r="3.4" fill="#c8862c" fill-opacity="0.75"/><circle cx="765.3" cy="397.7" r="3.4" fill="#c8862c" fill-opacity="0.75"/><circle cx="773.2" cy="387.3" r="3.4" fill="#c8862c" fill-opacity="0.75"/><circle cx="765.2" cy="374.5" r="3.4" fill="#c8862c" fill-opacity="0.75"/><circle cx="772.8" cy="396.6" r="3.4" fill="#c8862c" fill-opacity="0.75"/><circle cx="762.0" cy="397.9" r="3.4" fill="#c8862c" fill-opacity="0.75"/><circle cx="759.7" cy="381.1" r="3.4" fill="#c8862c" fill-opacity="0.75"/><circle cx="776.1" cy="387.0" r="3.4" fill="#c8862c" fill-opacity="0.75"/><circle cx="777.9" cy="381.1" r="3.4" fill="#c8862c" fill-opacity="0.75"/><circle cx="760.7" cy="372.1" r="3.4" fill="#c8862c" fill-opacity="0.75"/><circle cx="759.0" cy="378.4" r="3.4" fill="#c8862c" fill-opacity="0.75"/><circle cx="756.7" cy="389.5" r="3.4" fill="#c8862c" fill-opacity="0.75"/><circle cx="764.4" cy="371.1" r="3.4" fill="#c8862c" fill-opacity="0.75"/><circle cx="795.8" cy="380.3" r="3.4" fill="#c8862c" fill-opacity="0.75"/><circle cx="758.4" cy="396.9" r="3.4" fill="#c8862c" fill-opacity="0.75"/><circle cx="782.7" cy="377.8" r="3.4" fill="#c8862c" fill-opacity="0.75"/><circle cx="756.3" cy="379.0" r="3.4" fill="#c8862c" fill-opacity="0.75"/><circle cx="782.3" cy="384.5" r="3.4" fill="#c8862c" fill-opacity="0.75"/><circle cx="762.9" cy="386.8" r="3.4" fill="#c8862c" fill-opacity="0.75"/><circle cx="783.0" cy="375.9" r="3.4" fill="#c8862c" fill-opacity="0.75"/><circle cx="767.2" cy="375.9" r="3.4" fill="#c8862c" fill-opacity="0.75"/><circle cx="792.7" cy="401.5" r="3.4" fill="#c8862c" fill-opacity="0.75"/><circle cx="780.5" cy="385.9" r="3.4" fill="#c8862c" fill-opacity="0.75"/><circle cx="760.0" cy="300.0" r="3.4" fill="#c88a30" fill-opacity="0.75"/><circle cx="830.0" cy="362.0" r="3.4" fill="#c88a30" fill-opacity="0.75"/><circle cx="815.0" cy="347.0" r="3.4" fill="#c88a30" fill-opacity="0.75"/><circle cx="880.0" cy="280.0" r="3.4" fill="#c88a30" fill-opacity="0.75"/><circle cx="870.0" cy="283.0" r="3.4" fill="#c88a30" fill-opacity="0.75"/><circle cx="892.0" cy="284.0" r="3.4" fill="#c88a30" fill-opacity="0.75"/><circle cx="862.0" cy="279.0" r="3.4" fill="#c88a30" fill-opacity="0.75"/><circle cx="898.0" cy="281.0" r="3.4" fill="#c88a30" fill-opacity="0.75"/><circle cx="806.6" cy="350.2" r="3.4" fill="#c88a30" fill-opacity="0.75"/><circle cx="802.8" cy="356.3" r="3.4" fill="#c88a30" fill-opacity="0.75"/><circle cx="786.8" cy="361.4" r="3.4" fill="#c88a30" fill-opacity="0.75"/><circle cx="796.5" cy="371.6" r="3.4" fill="#c88a30" fill-opacity="0.75"/><circle cx="807.0" cy="369.1" r="3.4" fill="#c88a30" fill-opacity="0.75"/><circle cx="790.6" cy="372.4" r="3.4" fill="#c88a30" fill-opacity="0.75"/><circle cx="798.8" cy="376.4" r="3.4" fill="#c88a30" fill-opacity="0.75"/><circle cx="790.8" cy="344.9" r="3.4" fill="#c88a30" fill-opacity="0.75"/><circle cx="795.2" cy="384.2" r="3.4" fill="#c88a30" fill-opacity="0.75"/><circle cx="804.7" cy="365.4" r="3.4" fill="#c88a30" fill-opacity="0.75"/><circle cx="808.8" cy="371.0" r="3.4" fill="#c88a30" fill-opacity="0.75"/><circle cx="804.6" cy="362.9" r="3.4" fill="#c88a30" fill-opacity="0.75"/><circle cx="800.8" cy="368.6" r="3.4" fill="#c88a30" fill-opacity="0.75"/><circle cx="793.6" cy="358.1" r="3.4" fill="#c88a30" fill-opacity="0.75"/><circle cx="801.4" cy="374.7" r="3.4" fill="#c88a30" fill-opacity="0.75"/><circle cx="806.5" cy="371.0" r="3.4" fill="#c88a30" fill-opacity="0.75"/><circle cx="805.0" cy="387.7" r="3.4" fill="#c88a30" fill-opacity="0.75"/><circle cx="802.6" cy="375.3" r="3.4" fill="#c88a30" fill-opacity="0.75"/><circle cx="819.6" cy="367.4" r="3.4" fill="#c88a30" fill-opacity="0.75"/><circle cx="802.6" cy="375.4" r="3.4" fill="#c88a30" fill-opacity="0.75"/><circle cx="816.9" cy="369.5" r="3.4" fill="#c88a30" fill-opacity="0.75"/><circle cx="803.6" cy="367.7" r="3.4" fill="#c88a30" fill-opacity="0.75"/><circle cx="758.2" cy="252.8" r="3.4" fill="#c08a40" fill-opacity="0.75"/><circle cx="793.7" cy="266.8" r="3.4" fill="#c08a40" fill-opacity="0.75"/><circle cx="876.0" cy="283.0" r="3.4" fill="#c08a40" fill-opacity="0.75"/><circle cx="886.0" cy="281.0" r="3.4" fill="#c08a40" fill-opacity="0.75"/><circle cx="868.0" cy="284.0" r="3.4" fill="#c08a40" fill-opacity="0.75"/><circle cx="778.9" cy="386.9" r="3.4" fill="#c08a40" fill-opacity="0.75"/><circle cx="788.5" cy="364.2" r="3.4" fill="#c08a40" fill-opacity="0.75"/><circle cx="789.6" cy="364.2" r="3.4" fill="#c08a40" fill-opacity="0.75"/><circle cx="781.0" cy="378.2" r="3.4" fill="#c08a40" fill-opacity="0.75"/><circle cx="781.8" cy="386.6" r="3.4" fill="#c08a40" fill-opacity="0.75"/><circle cx="776.4" cy="380.2" r="3.4" fill="#c08a40" fill-opacity="0.75"/><circle cx="796.6" cy="389.7" r="3.4" fill="#c08a40" fill-opacity="0.75"/><circle cx="800.3" cy="379.9" r="3.4" fill="#c08a40" fill-opacity="0.75"/><circle cx="791.9" cy="377.6" r="3.4" fill="#c08a40" fill-opacity="0.75"/><circle cx="802.5" cy="372.8" r="3.4" fill="#c08a40" fill-opacity="0.75"/><circle cx="796.3" cy="377.3" r="3.4" fill="#c08a40" fill-opacity="0.75"/><circle cx="793.5" cy="376.0" r="3.4" fill="#c08a40" fill-opacity="0.75"/><circle cx="812.5" cy="372.8" r="3.4" fill="#c08a40" fill-opacity="0.75"/><circle cx="793.6" cy="380.3" r="3.4" fill="#c08a40" fill-opacity="0.75"/><circle cx="797.2" cy="381.7" r="3.4" fill="#c08a40" fill-opacity="0.75"/><circle cx="795.4" cy="385.9" r="3.4" fill="#c08a40" fill-opacity="0.75"/><circle cx="776.1" cy="378.2" r="3.4" fill="#c08a40" fill-opacity="0.75"/><circle cx="778.8" cy="380.0" r="3.4" fill="#c08a40" fill-opacity="0.75"/><circle cx="779.3" cy="370.4" r="3.4" fill="#c08a40" fill-opacity="0.75"/><circle cx="790.5" cy="389.3" r="3.4" fill="#c08a40" fill-opacity="0.75"/><circle cx="796.9" cy="380.5" r="3.4" fill="#c08a40" fill-opacity="0.75"/><circle cx="805.2" cy="370.5" r="3.4" fill="#c08a40" fill-opacity="0.75"/><circle cx="722.5" cy="193.0" r="3.4" fill="#c0ec20" fill-opacity="0.75"/><circle cx="752.0" cy="148.7" r="3.4" fill="#c0ec20" fill-opacity="0.75"/><circle cx="689.5" cy="184.5" r="3.4" fill="#c0ec20" fill-opacity="0.75"/><circle cx="693.8" cy="184.5" r="3.4" fill="#c0ec20" fill-opacity="0.75"/><circle cx="732.2" cy="169.7" r="3.4" fill="#c0ec20" fill-opacity="0.75"/><circle cx="750.4" cy="183.0" r="3.4" fill="#c0ec20" fill-opacity="0.75"/><circle cx="774.5" cy="162.5" r="3.4" fill="#c0ec20" fill-opacity="0.75"/><circle cx="777.9" cy="185.6" r="3.4" fill="#c0ec20" fill-opacity="0.75"/><circle cx="761.5" cy="176.1" r="3.4" fill="#c0ec20" fill-opacity="0.75"/><circle cx="777.4" cy="173.8" r="3.4" fill="#c0ec20" fill-opacity="0.75"/><circle cx="748.4" cy="174.2" r="3.4" fill="#c0ec20" fill-opacity="0.75"/><circle cx="739.4" cy="176.9" r="3.4" fill="#c0ec20" fill-opacity="0.75"/><circle cx="752.0" cy="175.8" r="3.4" fill="#c0ec20" fill-opacity="0.75"/><circle cx="756.7" cy="164.6" r="3.4" fill="#c0ec20" fill-opacity="0.75"/><circle cx="766.3" cy="165.0" r="3.4" fill="#c0ec20" fill-opacity="0.75"/><circle cx="762.0" cy="160.4" r="3.4" fill="#c0ec20" fill-opacity="0.75"/><circle cx="734.5" cy="109.5" r="3.4" fill="#c8f020" fill-opacity="0.75"/><circle cx="800.0" cy="198.7" r="3.4" fill="#c8f020" fill-opacity="0.75"/><circle cx="826.0" cy="208.6" r="3.4" fill="#c8f020" fill-opacity="0.75"/><circle cx="615.8" cy="212.5" r="3.4" fill="#c8f020" fill-opacity="0.75"/><circle cx="710.0" cy="175.0" r="3.4" fill="#c8f020" fill-opacity="0.75"/><circle cx="768.9" cy="163.6" r="3.4" fill="#c8f020" fill-opacity="0.75"/><circle cx="765.6" cy="164.9" r="3.4" fill="#c8f020" fill-opacity="0.75"/><circle cx="743.3" cy="161.2" r="3.4" fill="#c8f020" fill-opacity="0.75"/><circle cx="765.8" cy="175.1" r="3.4" fill="#c8f020" fill-opacity="0.75"/><circle cx="750.5" cy="153.1" r="3.4" fill="#c8f020" fill-opacity="0.75"/><circle cx="756.4" cy="168.4" r="3.4" fill="#c8f020" fill-opacity="0.75"/><circle cx="758.8" cy="163.6" r="3.4" fill="#c8f020" fill-opacity="0.75"/><circle cx="773.7" cy="177.9" r="3.4" fill="#c8f020" fill-opacity="0.75"/><circle cx="772.6" cy="162.6" r="3.4" fill="#c8f020" fill-opacity="0.75"/><circle cx="765.9" cy="168.6" r="3.4" fill="#c8f020" fill-opacity="0.75"/><circle cx="750.9" cy="177.2" r="3.4" fill="#c8f020" fill-opacity="0.75"/><circle cx="766.0" cy="166.2" r="3.4" fill="#c8f020" fill-opacity="0.75"/><circle cx="779.3" cy="176.2" r="3.4" fill="#c8f020" fill-opacity="0.75"/><circle cx="773.7" cy="179.7" r="3.4" fill="#c8f020" fill-opacity="0.75"/><circle cx="772.3" cy="160.0" r="3.4" fill="#c8f020" fill-opacity="0.75"/><circle cx="761.3" cy="178.1" r="3.4" fill="#c8f020" fill-opacity="0.75"/><circle cx="757.5" cy="170.4" r="3.4" fill="#c8f020" fill-opacity="0.75"/><circle cx="769.1" cy="181.6" r="3.4" fill="#c8f020" fill-opacity="0.75"/><circle cx="778.1" cy="177.3" r="3.4" fill="#c8f020" fill-opacity="0.75"/><circle cx="763.3" cy="177.4" r="3.4" fill="#c8f020" fill-opacity="0.75"/><circle cx="770.4" cy="168.8" r="3.4" fill="#c8f020" fill-opacity="0.75"/><circle cx="778.7" cy="174.1" r="3.4" fill="#c8f020" fill-opacity="0.75"/><circle cx="757.6" cy="180.2" r="3.4" fill="#c8f020" fill-opacity="0.75"/><circle cx="762.6" cy="174.9" r="3.4" fill="#c8f020" fill-opacity="0.75"/><circle cx="749.9" cy="169.9" r="3.4" fill="#c8f020" fill-opacity="0.75"/><circle cx="836.0" cy="185.0" r="3.4" fill="#d0f028" fill-opacity="0.75"/><circle cx="842.4" cy="168.7" r="3.4" fill="#d0f028" fill-opacity="0.75"/><circle cx="850.0" cy="220.0" r="3.4" fill="#d0f028" fill-opacity="0.75"/><circle cx="797.7" cy="158.3" r="3.4" fill="#d0f028" fill-opacity="0.75"/><circle cx="788.0" cy="183.2" r="3.4" fill="#d0f028" fill-opacity="0.75"/><circle cx="805.6" cy="168.0" r="3.4" fill="#d0f028" fill-opacity="0.75"/><circle cx="818.2" cy="165.1" r="3.4" fill="#d0f028" fill-opacity="0.75"/><circle cx="812.2" cy="155.2" r="3.4" fill="#d0f028" fill-opacity="0.75"/><circle cx="809.1" cy="162.8" r="3.4" fill="#d0f028" fill-opacity="0.75"/><circle cx="812.1" cy="167.5" r="3.4" fill="#d0f028" fill-opacity="0.75"/><circle cx="793.2" cy="151.3" r="3.4" fill="#d0f028" fill-opacity="0.75"/><circle cx="796.9" cy="172.0" r="3.4" fill="#d0f028" fill-opacity="0.75"/><circle cx="811.3" cy="169.3" r="3.4" fill="#d0f028" fill-opacity="0.75"/><circle cx="786.9" cy="144.5" r="3.4" fill="#d0f028" fill-opacity="0.75"/><circle cx="800.8" cy="163.4" r="3.4" fill="#d0f028" fill-opacity="0.75"/><circle cx="801.0" cy="168.9" r="3.4" fill="#d0f028" fill-opacity="0.75"/><circle cx="805.3" cy="156.6" r="3.4" fill="#d0f028" fill-opacity="0.75"/><circle cx="798.3" cy="167.2" r="3.4" fill="#d0f028" fill-opacity="0.75"/><circle cx="807.8" cy="165.4" r="3.4" fill="#d0f028" fill-opacity="0.75"/><circle cx="829.7" cy="163.9" r="3.4" fill="#d0f028" fill-opacity="0.75"/><circle cx="808.2" cy="158.1" r="3.4" fill="#d0f028" fill-opacity="0.75"/><circle cx="803.4" cy="170.2" r="3.4" fill="#d0f028" fill-opacity="0.75"/><circle cx="812.7" cy="164.8" r="3.4" fill="#d0f028" fill-opacity="0.75"/><circle cx="811.0" cy="166.5" r="3.4" fill="#d0f028" fill-opacity="0.75"/><circle cx="788.2" cy="139.8" r="3.4" fill="#d0f028" fill-opacity="0.75"/><circle cx="830.1" cy="172.6" r="3.4" fill="#d0f028" fill-opacity="0.75"/><circle cx="806.4" cy="152.1" r="3.4" fill="#d0f028" fill-opacity="0.75"/><circle cx="794.2" cy="176.8" r="3.4" fill="#d0f028" fill-opacity="0.75"/><circle cx="779.1" cy="163.4" r="3.4" fill="#d0f028" fill-opacity="0.75"/><circle cx="815.7" cy="167.1" r="3.4" fill="#d0f028" fill-opacity="0.75"/><circle cx="730.0" cy="150.0" r="3.4" fill="#c4f018" fill-opacity="0.75"/><circle cx="790.0" cy="150.0" r="3.4" fill="#c4f018" fill-opacity="0.75"/><circle cx="768.5" cy="160.0" r="3.4" fill="#c4f018" fill-opacity="0.75"/><circle cx="784.9" cy="152.8" r="3.4" fill="#c4f018" fill-opacity="0.75"/><circle cx="747.4" cy="163.2" r="3.4" fill="#c4f018" fill-opacity="0.75"/><circle cx="775.3" cy="160.6" r="3.4" fill="#c4f018" fill-opacity="0.75"/><circle cx="771.5" cy="156.8" r="3.4" fill="#c4f018" fill-opacity="0.75"/><circle cx="749.1" cy="172.2" r="3.4" fill="#c4f018" fill-opacity="0.75"/><circle cx="776.7" cy="173.3" r="3.4" fill="#c4f018" fill-opacity="0.75"/><circle cx="756.6" cy="151.8" r="3.4" fill="#c4f018" fill-opacity="0.75"/><circle cx="749.3" cy="159.2" r="3.4" fill="#c4f018" fill-opacity="0.75"/><circle cx="766.8" cy="165.1" r="3.4" fill="#c4f018" fill-opacity="0.75"/><circle cx="746.7" cy="162.6" r="3.4" fill="#c4f018" fill-opacity="0.75"/><circle cx="761.2" cy="161.7" r="3.4" fill="#c4f018" fill-opacity="0.75"/><circle cx="760.8" cy="159.4" r="3.4" fill="#c4f018" fill-opacity="0.75"/><circle cx="766.9" cy="162.0" r="3.4" fill="#c4f018" fill-opacity="0.75"/><circle cx="763.3" cy="155.5" r="3.4" fill="#c4f018" fill-opacity="0.75"/><circle cx="765.0" cy="160.0" r="3.4" fill="#c4f018" fill-opacity="0.75"/><circle cx="739.8" cy="164.9" r="3.4" fill="#c4f018" fill-opacity="0.75"/><circle cx="758.4" cy="168.4" r="3.4" fill="#c4f018" fill-opacity="0.75"/><circle cx="759.4" cy="160.2" r="3.4" fill="#c4f018" fill-opacity="0.75"/><circle cx="763.1" cy="160.9" r="3.4" fill="#c4f018" fill-opacity="0.75"/><circle cx="756.5" cy="146.7" r="3.4" fill="#c4f018" fill-opacity="0.75"/><circle cx="779.4" cy="148.4" r="3.4" fill="#c4f018" fill-opacity="0.75"/><circle cx="757.6" cy="166.2" r="3.4" fill="#c4f018" fill-opacity="0.75"/><circle cx="764.8" cy="165.5" r="3.4" fill="#c4f018" fill-opacity="0.75"/><circle cx="768.7" cy="171.1" r="3.4" fill="#c4f018" fill-opacity="0.75"/><circle cx="764.0" cy="184.3" r="3.4" fill="#c4f018" fill-opacity="0.75"/><circle cx="750.9" cy="162.8" r="3.4" fill="#c4f018" fill-opacity="0.75"/><circle cx="757.4" cy="156.6" r="3.4" fill="#c4f018" fill-opacity="0.75"/><circle cx="787.4" cy="284.8" r="3.4" fill="#e0b870" fill-opacity="0.75"/><circle cx="777.4" cy="272.3" r="3.4" fill="#e0b870" fill-opacity="0.75"/><circle cx="842.3" cy="280.7" r="3.4" fill="#e0b870" fill-opacity="0.75"/><circle cx="834.3" cy="267.7" r="3.4" fill="#e0b870" fill-opacity="0.75"/><circle cx="845.8" cy="275.3" r="3.4" fill="#e0b870" fill-opacity="0.75"/><circle cx="855.7" cy="278.2" r="3.4" fill="#e0b870" fill-opacity="0.75"/><circle cx="841.8" cy="270.0" r="3.4" fill="#e0b870" fill-opacity="0.75"/><circle cx="841.7" cy="270.9" r="3.4" fill="#e0b870" fill-opacity="0.75"/><circle cx="829.1" cy="272.0" r="3.4" fill="#e0b870" fill-opacity="0.75"/><circle cx="838.6" cy="270.6" r="3.4" fill="#e0b870" fill-opacity="0.75"/><circle cx="836.6" cy="282.1" r="3.4" fill="#e0b870" fill-opacity="0.75"/><circle cx="845.6" cy="277.6" r="3.4" fill="#e0b870" fill-opacity="0.75"/><circle cx="835.1" cy="265.9" r="3.4" fill="#e0b870" fill-opacity="0.75"/><circle cx="837.7" cy="273.5" r="3.4" fill="#e0b870" fill-opacity="0.75"/><circle cx="837.2" cy="270.9" r="3.4" fill="#e0b870" fill-opacity="0.75"/><circle cx="847.7" cy="273.8" r="3.4" fill="#e0b870" fill-opacity="0.75"/><circle cx="832.1" cy="269.4" r="3.4" fill="#e0b870" fill-opacity="0.75"/><circle cx="834.7" cy="273.1" r="3.4" fill="#e0b870" fill-opacity="0.75"/><circle cx="881.0" cy="167.0" r="3.4" fill="#e8dc3c" fill-opacity="0.75"/><circle cx="875.0" cy="183.7" r="3.4" fill="#e8dc3c" fill-opacity="0.75"/><circle cx="863.0" cy="198.2" r="3.4" fill="#e8dc3c" fill-opacity="0.75"/><circle cx="874.2" cy="200.3" r="3.4" fill="#e8dc3c" fill-opacity="0.75"/><circle cx="864.5" cy="193.8" r="3.4" fill="#e8dc3c" fill-opacity="0.75"/><circle cx="870.7" cy="204.8" r="3.4" fill="#e8dc3c" fill-opacity="0.75"/><circle cx="875.0" cy="198.5" r="3.4" fill="#e8dc3c" fill-opacity="0.75"/><circle cx="862.1" cy="214.2" r="3.4" fill="#e8dc3c" fill-opacity="0.75"/><circle cx="871.8" cy="204.1" r="3.4" fill="#e8dc3c" fill-opacity="0.75"/><circle cx="871.8" cy="189.6" r="3.4" fill="#e8dc3c" fill-opacity="0.75"/><circle cx="868.1" cy="202.6" r="3.4" fill="#e8dc3c" fill-opacity="0.75"/><circle cx="876.2" cy="200.6" r="3.4" fill="#e8dc3c" fill-opacity="0.75"/><circle cx="851.3" cy="197.6" r="3.4" fill="#e8dc3c" fill-opacity="0.75"/><circle cx="872.1" cy="212.9" r="3.4" fill="#e8dc3c" fill-opacity="0.75"/><circle cx="874.3" cy="224.9" r="3.4" fill="#e8dc3c" fill-opacity="0.75"/><circle cx="878.5" cy="213.5" r="3.4" fill="#e8dc3c" fill-opacity="0.75"/><circle cx="875.7" cy="186.2" r="3.4" fill="#e8dc3c" fill-opacity="0.75"/><circle cx="875.1" cy="206.0" r="3.4" fill="#e8dc3c" fill-opacity="0.75"/><circle cx="866.8" cy="205.9" r="3.4" fill="#e8dc3c" fill-opacity="0.75"/><circle cx="872.5" cy="195.3" r="3.4" fill="#e8dc3c" fill-opacity="0.75"/><circle cx="869.3" cy="197.4" r="3.4" fill="#e8dc3c" fill-opacity="0.75"/><circle cx="871.4" cy="195.8" r="3.4" fill="#e8dc3c" fill-opacity="0.75"/><circle cx="873.3" cy="180.8" r="3.4" fill="#e8dc3c" fill-opacity="0.75"/><circle cx="868.3" cy="183.2" r="3.4" fill="#e8dc3c" fill-opacity="0.75"/><circle cx="867.1" cy="205.2" r="3.4" fill="#e8dc3c" fill-opacity="0.75"/><circle cx="870.1" cy="198.9" r="3.4" fill="#e8dc3c" fill-opacity="0.75"/><circle cx="870.4" cy="215.7" r="3.4" fill="#e8dc3c" fill-opacity="0.75"/><circle cx="863.4" cy="208.9" r="3.4" fill="#e8dc3c" fill-opacity="0.75"/><circle cx="860.9" cy="195.3" r="3.4" fill="#e8dc3c" fill-opacity="0.75"/><circle cx="871.0" cy="191.5" r="3.4" fill="#e8dc3c" fill-opacity="0.75"/><circle cx="711.7" cy="263.6" r="3.4" fill="#e8d0a0" fill-opacity="0.75"/><circle cx="729.2" cy="289.0" r="3.4" fill="#e8d0a0" fill-opacity="0.75"/><circle cx="723.0" cy="306.0" r="3.4" fill="#e8d0a0" fill-opacity="0.75"/><circle cx="685.7" cy="363.0" r="3.4" fill="#e8d0a0" fill-opacity="0.75"/><circle cx="857.1" cy="233.8" r="3.4" fill="#e8d0a0" fill-opacity="0.75"/><circle cx="843.1" cy="227.4" r="3.4" fill="#e8d0a0" fill-opacity="0.75"/><circle cx="851.2" cy="212.5" r="3.4" fill="#e8d0a0" fill-opacity="0.75"/><circle cx="853.1" cy="221.6" r="3.4" fill="#e8d0a0" fill-opacity="0.75"/><circle cx="868.4" cy="221.0" r="3.4" fill="#e8d0a0" fill-opacity="0.75"/><circle cx="872.0" cy="223.7" r="3.4" fill="#e8d0a0" fill-opacity="0.75"/><circle cx="874.4" cy="232.3" r="3.4" fill="#e8d0a0" fill-opacity="0.75"/><circle cx="859.5" cy="234.4" r="3.4" fill="#e8d0a0" fill-opacity="0.75"/><circle cx="864.0" cy="239.2" r="3.4" fill="#e8d0a0" fill-opacity="0.75"/><circle cx="872.3" cy="225.2" r="3.4" fill="#e8d0a0" fill-opacity="0.75"/><circle cx="842.5" cy="206.6" r="3.4" fill="#e8d0a0" fill-opacity="0.75"/><circle cx="851.1" cy="234.1" r="3.4" fill="#e8d0a0" fill-opacity="0.75"/><circle cx="858.8" cy="228.9" r="3.4" fill="#e8d0a0" fill-opacity="0.75"/><circle cx="851.5" cy="222.9" r="3.4" fill="#e8d0a0" fill-opacity="0.75"/><circle cx="852.2" cy="231.1" r="3.4" fill="#e8d0a0" fill-opacity="0.75"/><circle cx="837.4" cy="233.8" r="3.4" fill="#e8d0a0" fill-opacity="0.75"/><circle cx="840.4" cy="226.7" r="3.4" fill="#e8d0a0" fill-opacity="0.75"/><circle cx="848.7" cy="225.0" r="3.4" fill="#e8d0a0" fill-opacity="0.75"/><circle cx="844.5" cy="218.8" r="3.4" fill="#e8d0a0" fill-opacity="0.75"/><circle cx="852.7" cy="219.3" r="3.4" fill="#e8d0a0" fill-opacity="0.75"/><circle cx="879.6" cy="224.6" r="3.4" fill="#e8d0a0" fill-opacity="0.75"/><circle cx="796.0" cy="257.0" r="3.4" fill="#e8c898" fill-opacity="0.75"/><circle cx="855.4" cy="205.6" r="3.4" fill="#e8c898" fill-opacity="0.75"/><circle cx="851.2" cy="190.3" r="3.4" fill="#e8c898" fill-opacity="0.75"/><circle cx="859.4" cy="212.4" r="3.4" fill="#e8c898" fill-opacity="0.75"/><circle cx="846.9" cy="210.0" r="3.4" fill="#e8c898" fill-opacity="0.75"/><circle cx="849.8" cy="209.7" r="3.4" fill="#e8c898" fill-opacity="0.75"/><circle cx="865.5" cy="213.8" r="3.4" fill="#e8c898" fill-opacity="0.75"/><circle cx="866.3" cy="204.3" r="3.4" fill="#e8c898" fill-opacity="0.75"/><circle cx="870.7" cy="206.4" r="3.4" fill="#e8c898" fill-opacity="0.75"/><circle cx="865.4" cy="215.6" r="3.4" fill="#e8c898" fill-opacity="0.75"/><circle cx="858.9" cy="199.7" r="3.4" fill="#e8c898" fill-opacity="0.75"/><circle cx="868.1" cy="201.0" r="3.4" fill="#e8c898" fill-opacity="0.75"/><circle cx="853.0" cy="201.1" r="3.4" fill="#e8c898" fill-opacity="0.75"/><circle cx="870.3" cy="208.6" r="3.4" fill="#e8c898" fill-opacity="0.75"/><circle cx="839.4" cy="215.8" r="3.4" fill="#e8c898" fill-opacity="0.75"/><circle cx="882.6" cy="224.3" r="3.4" fill="#e8c898" fill-opacity="0.75"/><circle cx="856.2" cy="210.5" r="3.4" fill="#e8c898" fill-opacity="0.75"/><circle cx="867.0" cy="217.1" r="3.4" fill="#e8c898" fill-opacity="0.75"/><circle cx="862.3" cy="201.2" r="3.4" fill="#e8c898" fill-opacity="0.75"/><circle cx="869.4" cy="214.8" r="3.4" fill="#e8c898" fill-opacity="0.75"/><circle cx="848.6" cy="207.0" r="3.4" fill="#e8c898" fill-opacity="0.75"/><circle cx="864.6" cy="209.9" r="3.4" fill="#e8c898" fill-opacity="0.75"/><circle cx="867.1" cy="216.3" r="3.4" fill="#e8c898" fill-opacity="0.75"/><circle cx="867.3" cy="209.0" r="3.4" fill="#e8c898" fill-opacity="0.75"/><circle cx="848.4" cy="214.8" r="3.4" fill="#e8c898" fill-opacity="0.75"/><circle cx="875.9" cy="225.7" r="3.4" fill="#e8c898" fill-opacity="0.75"/><circle cx="861.5" cy="209.6" r="3.4" fill="#e8c898" fill-opacity="0.75"/><circle cx="876.3" cy="221.4" r="3.4" fill="#e8c898" fill-opacity="0.75"/><circle cx="865.3" cy="215.6" r="3.4" fill="#e8c898" fill-opacity="0.75"/><circle cx="854.3" cy="214.6" r="3.4" fill="#e8c898" fill-opacity="0.75"/><circle cx="757.4" cy="334.8" r="3.4" fill="#e0b070" fill-opacity="0.75"/><circle cx="766.2" cy="336.0" r="3.4" fill="#e0b070" fill-opacity="0.75"/><circle cx="838.3" cy="306.7" r="3.4" fill="#e0b070" fill-opacity="0.75"/><circle cx="843.9" cy="304.1" r="3.4" fill="#e0b070" fill-opacity="0.75"/><circle cx="828.0" cy="301.3" r="3.4" fill="#e0b070" fill-opacity="0.75"/><circle cx="847.6" cy="307.4" r="3.4" fill="#e0b070" fill-opacity="0.75"/><circle cx="841.7" cy="311.3" r="3.4" fill="#e0b070" fill-opacity="0.75"/><circle cx="850.4" cy="314.7" r="3.4" fill="#e0b070" fill-opacity="0.75"/><circle cx="838.4" cy="308.0" r="3.4" fill="#e0b070" fill-opacity="0.75"/><circle cx="842.2" cy="300.8" r="3.4" fill="#e0b070" fill-opacity="0.75"/><circle cx="832.9" cy="307.1" r="3.4" fill="#e0b070" fill-opacity="0.75"/><circle cx="837.9" cy="325.1" r="3.4" fill="#e0b070" fill-opacity="0.75"/><circle cx="844.1" cy="306.1" r="3.4" fill="#e0b070" fill-opacity="0.75"/><circle cx="841.7" cy="322.9" r="3.4" fill="#e0b070" fill-opacity="0.75"/><circle cx="837.3" cy="306.6" r="3.4" fill="#e0b070" fill-opacity="0.75"/><circle cx="838.7" cy="306.9" r="3.4" fill="#e0b070" fill-opacity="0.75"/><circle cx="844.6" cy="316.7" r="3.4" fill="#e0b070" fill-opacity="0.75"/><circle cx="833.5" cy="307.7" r="3.4" fill="#e0b070" fill-opacity="0.75"/><circle cx="857.8" cy="303.8" r="3.4" fill="#e0b070" fill-opacity="0.75"/><circle cx="843.4" cy="300.8" r="3.4" fill="#e0b070" fill-opacity="0.75"/><circle cx="823.9" cy="307.0" r="3.4" fill="#e0b070" fill-opacity="0.75"/><circle cx="854.3" cy="304.1" r="3.4" fill="#e0b070" fill-opacity="0.75"/><circle cx="830.1" cy="310.0" r="3.4" fill="#e0b070" fill-opacity="0.75"/><circle cx="845.5" cy="315.9" r="3.4" fill="#e0b070" fill-opacity="0.75"/><circle cx="852.1" cy="305.7" r="3.4" fill="#e0b070" fill-opacity="0.75"/><circle cx="848.1" cy="293.5" r="3.4" fill="#e0b070" fill-opacity="0.75"/><circle cx="853.8" cy="309.4" r="3.4" fill="#e0b070" fill-opacity="0.75"/><circle cx="853.5" cy="316.4" r="3.4" fill="#e0b070" fill-opacity="0.75"/><circle cx="842.6" cy="306.7" r="3.4" fill="#e0b070" fill-opacity="0.75"/><circle cx="905.0" cy="153.0" r="3.4" fill="#f0dcb0" fill-opacity="0.75"/><circle cx="918.0" cy="218.0" r="3.4" fill="#f0dcb0" fill-opacity="0.75"/><circle cx="874.1" cy="182.3" r="3.4" fill="#f0dcb0" fill-opacity="0.75"/><circle cx="881.5" cy="200.1" r="3.4" fill="#f0dcb0" fill-opacity="0.75"/><circle cx="872.0" cy="204.6" r="3.4" fill="#f0dcb0" fill-opacity="0.75"/><circle cx="883.8" cy="202.5" r="3.4" fill="#f0dcb0" fill-opacity="0.75"/><circle cx="875.1" cy="184.7" r="3.4" fill="#f0dcb0" fill-opacity="0.75"/><circle cx="890.6" cy="203.8" r="3.4" fill="#f0dcb0" fill-opacity="0.75"/><circle cx="881.7" cy="195.5" r="3.4" fill="#f0dcb0" fill-opacity="0.75"/><circle cx="880.1" cy="197.8" r="3.4" fill="#f0dcb0" fill-opacity="0.75"/><circle cx="877.7" cy="182.8" r="3.4" fill="#f0dcb0" fill-opacity="0.75"/><circle cx="890.7" cy="186.9" r="3.4" fill="#f0dcb0" fill-opacity="0.75"/><circle cx="879.5" cy="196.4" r="3.4" fill="#f0dcb0" fill-opacity="0.75"/><circle cx="885.4" cy="186.0" r="3.4" fill="#f0dcb0" fill-opacity="0.75"/><circle cx="894.9" cy="204.1" r="3.4" fill="#f0dcb0" fill-opacity="0.75"/><circle cx="890.5" cy="209.0" r="3.4" fill="#f0dcb0" fill-opacity="0.75"/><circle cx="874.9" cy="173.8" r="3.4" fill="#f0dcb0" fill-opacity="0.75"/><circle cx="886.2" cy="209.4" r="3.4" fill="#f0dcb0" fill-opacity="0.75"/><circle cx="894.5" cy="194.6" r="3.4" fill="#f0dcb0" fill-opacity="0.75"/><circle cx="882.0" cy="201.2" r="3.4" fill="#f0dcb0" fill-opacity="0.75"/><circle cx="864.8" cy="193.6" r="3.4" fill="#f0dcb0" fill-opacity="0.75"/><circle cx="876.6" cy="211.6" r="3.4" fill="#f0dcb0" fill-opacity="0.75"/><circle cx="876.4" cy="211.5" r="3.4" fill="#f0dcb0" fill-opacity="0.75"/><circle cx="883.1" cy="185.6" r="3.4" fill="#f0dcb0" fill-opacity="0.75"/><circle cx="905.1" cy="191.2" r="3.4" fill="#f0dcb0" fill-opacity="0.75"/><circle cx="889.2" cy="212.6" r="3.4" fill="#f0dcb0" fill-opacity="0.75"/><circle cx="877.6" cy="189.2" r="3.4" fill="#f0dcb0" fill-opacity="0.75"/><circle cx="893.4" cy="199.5" r="3.4" fill="#f0dcb0" fill-opacity="0.75"/><circle cx="870.7" cy="190.4" r="3.4" fill="#f0dcb0" fill-opacity="0.75"/><circle cx="879.1" cy="206.7" r="3.4" fill="#f0dcb0" fill-opacity="0.75"/><circle cx="811.0" cy="282.3" r="3.4" fill="#d8a868" fill-opacity="0.75"/><circle cx="815.0" cy="347.0" r="3.4" fill="#d8a868" fill-opacity="0.75"/><circle cx="825.7" cy="334.2" r="3.4" fill="#d8a868" fill-opacity="0.75"/><circle cx="841.2" cy="339.2" r="3.4" fill="#d8a868" fill-opacity="0.75"/><circle cx="839.5" cy="338.9" r="3.4" fill="#d8a868" fill-opacity="0.75"/><circle cx="815.1" cy="338.8" r="3.4" fill="#d8a868" fill-opacity="0.75"/><circle cx="830.6" cy="328.0" r="3.4" fill="#d8a868" fill-opacity="0.75"/><circle cx="819.3" cy="316.3" r="3.4" fill="#d8a868" fill-opacity="0.75"/><circle cx="819.1" cy="328.8" r="3.4" fill="#d8a868" fill-opacity="0.75"/><circle cx="818.6" cy="322.5" r="3.4" fill="#d8a868" fill-opacity="0.75"/><circle cx="823.1" cy="334.3" r="3.4" fill="#d8a868" fill-opacity="0.75"/><circle cx="825.6" cy="327.8" r="3.4" fill="#d8a868" fill-opacity="0.75"/><circle cx="838.6" cy="326.4" r="3.4" fill="#d8a868" fill-opacity="0.75"/><circle cx="832.8" cy="320.5" r="3.4" fill="#d8a868" fill-opacity="0.75"/><circle cx="830.6" cy="330.0" r="3.4" fill="#d8a868" fill-opacity="0.75"/><circle cx="829.4" cy="325.3" r="3.4" fill="#d8a868" fill-opacity="0.75"/><circle cx="819.8" cy="326.6" r="3.4" fill="#d8a868" fill-opacity="0.75"/><circle cx="824.3" cy="337.3" r="3.4" fill="#d8a868" fill-opacity="0.75"/><circle cx="835.3" cy="319.4" r="3.4" fill="#d8a868" fill-opacity="0.75"/><circle cx="833.0" cy="325.2" r="3.4" fill="#d8a868" fill-opacity="0.75"/><circle cx="831.7" cy="325.1" r="3.4" fill="#d8a868" fill-opacity="0.75"/><circle cx="816.2" cy="337.1" r="3.4" fill="#d8a868" fill-opacity="0.75"/><circle cx="831.6" cy="319.2" r="3.4" fill="#d8a868" fill-opacity="0.75"/><circle cx="812.9" cy="324.7" r="3.4" fill="#d8a868" fill-opacity="0.75"/><circle cx="818.5" cy="326.1" r="3.4" fill="#d8a868" fill-opacity="0.75"/><circle cx="833.0" cy="340.8" r="3.4" fill="#d8a868" fill-opacity="0.75"/><circle cx="825.1" cy="340.0" r="3.4" fill="#d8a868" fill-opacity="0.75"/><circle cx="837.3" cy="325.5" r="3.4" fill="#d8a868" fill-opacity="0.75"/><circle cx="814.7" cy="335.8" r="3.4" fill="#d8a868" fill-opacity="0.75"/><circle cx="832.9" cy="347.8" r="3.4" fill="#d8a868" fill-opacity="0.75"/><circle cx="919.8" cy="190.4" r="3.4" fill="#f0a050" fill-opacity="0.75"/><circle cx="810.0" cy="414.0" r="3.4" fill="#f0a050" fill-opacity="0.75"/><circle cx="830.0" cy="370.0" r="3.4" fill="#f0a050" fill-opacity="0.75"/><circle cx="850.0" cy="340.0" r="3.4" fill="#f0a050" fill-opacity="0.75"/><circle cx="840.0" cy="380.0" r="3.4" fill="#f0a050" fill-opacity="0.75"/><circle cx="891.5" cy="276.3" r="3.4" fill="#f0a050" fill-opacity="0.75"/><circle cx="893.5" cy="261.6" r="3.4" fill="#f0a050" fill-opacity="0.75"/><circle cx="881.6" cy="267.8" r="3.4" fill="#f0a050" fill-opacity="0.75"/><circle cx="894.0" cy="274.6" r="3.4" fill="#f0a050" fill-opacity="0.75"/><circle cx="855.6" cy="281.0" r="3.4" fill="#f0a050" fill-opacity="0.75"/><circle cx="872.8" cy="276.3" r="3.4" fill="#f0a050" fill-opacity="0.75"/><circle cx="876.2" cy="272.0" r="3.4" fill="#f0a050" fill-opacity="0.75"/><circle cx="885.2" cy="271.6" r="3.4" fill="#f0a050" fill-opacity="0.75"/><circle cx="872.5" cy="281.3" r="3.4" fill="#f0a050" fill-opacity="0.75"/><circle cx="883.3" cy="270.0" r="3.4" fill="#f0a050" fill-opacity="0.75"/><circle cx="885.8" cy="265.8" r="3.4" fill="#f0a050" fill-opacity="0.75"/><circle cx="895.2" cy="271.9" r="3.4" fill="#f0a050" fill-opacity="0.75"/><circle cx="883.1" cy="272.9" r="3.4" fill="#f0a050" fill-opacity="0.75"/><circle cx="872.8" cy="260.7" r="3.4" fill="#f0a050" fill-opacity="0.75"/><circle cx="881.9" cy="273.0" r="3.4" fill="#f0a050" fill-opacity="0.75"/><circle cx="890.9" cy="273.8" r="3.4" fill="#f0a050" fill-opacity="0.75"/><circle cx="871.4" cy="274.4" r="3.4" fill="#f0a050" fill-opacity="0.75"/><circle cx="886.8" cy="278.2" r="3.4" fill="#f0a050" fill-opacity="0.75"/><circle cx="882.8" cy="260.4" r="3.4" fill="#f0a050" fill-opacity="0.75"/><circle cx="889.4" cy="264.3" r="3.4" fill="#f0a050" fill-opacity="0.75"/><circle cx="884.7" cy="257.6" r="3.4" fill="#f0a050" fill-opacity="0.75"/><circle cx="886.3" cy="263.9" r="3.4" fill="#f0a050" fill-opacity="0.75"/><circle cx="888.8" cy="284.3" r="3.4" fill="#f0a050" fill-opacity="0.75"/><circle cx="889.5" cy="260.8" r="3.4" fill="#f0a050" fill-opacity="0.75"/><circle cx="872.6" cy="263.2" r="3.4" fill="#f0a050" fill-opacity="0.75"/><circle cx="885.4" cy="272.9" r="3.4" fill="#f0a050" fill-opacity="0.75"/><circle cx="881.4" cy="272.6" r="3.4" fill="#f0a050" fill-opacity="0.75"/><circle cx="884.8" cy="275.3" r="3.4" fill="#f0a050" fill-opacity="0.75"/><circle cx="893.6" cy="269.7" r="3.4" fill="#f0a050" fill-opacity="0.75"/><circle cx="881.8" cy="255.3" r="3.4" fill="#f0a050" fill-opacity="0.75"/><circle cx="869.5" cy="264.6" r="3.4" fill="#f0a050" fill-opacity="0.75"/><circle cx="870.6" cy="271.9" r="3.4" fill="#f0a050" fill-opacity="0.75"/><circle cx="888.4" cy="266.6" r="3.4" fill="#f0a050" fill-opacity="0.75"/><circle cx="876.2" cy="266.0" r="3.4" fill="#f0a050" fill-opacity="0.75"/><circle cx="881.1" cy="265.7" r="3.4" fill="#f0a050" fill-opacity="0.75"/><circle cx="883.5" cy="272.5" r="3.4" fill="#f0a050" fill-opacity="0.75"/><circle cx="882.8" cy="276.2" r="3.4" fill="#f0a050" fill-opacity="0.75"/><circle cx="880.3" cy="271.2" r="3.4" fill="#f0a050" fill-opacity="0.75"/><circle cx="894.1" cy="269.7" r="3.4" fill="#f0a050" fill-opacity="0.75"/><circle cx="886.4" cy="270.4" r="3.4" fill="#f0a050" fill-opacity="0.75"/><circle cx="876.3" cy="266.3" r="3.4" fill="#f0a050" fill-opacity="0.75"/><circle cx="873.4" cy="270.1" r="3.4" fill="#f0a050" fill-opacity="0.75"/><circle cx="875.2" cy="266.6" r="3.4" fill="#f0a050" fill-opacity="0.75"/><circle cx="880.7" cy="238.9" r="3.4" fill="#f0b878" fill-opacity="0.75"/><circle cx="880.1" cy="242.1" r="3.4" fill="#f0b878" fill-opacity="0.75"/><circle cx="877.9" cy="235.1" r="3.4" fill="#f0b878" fill-opacity="0.75"/><circle cx="872.2" cy="261.1" r="3.4" fill="#f0b878" fill-opacity="0.75"/><circle cx="877.6" cy="248.0" r="3.4" fill="#f0b878" fill-opacity="0.75"/><circle cx="872.8" cy="246.8" r="3.4" fill="#f0b878" fill-opacity="0.75"/><circle cx="861.7" cy="233.2" r="3.4" fill="#f0b878" fill-opacity="0.75"/><circle cx="874.4" cy="246.5" r="3.4" fill="#f0b878" fill-opacity="0.75"/><circle cx="867.7" cy="238.5" r="3.4" fill="#f0b878" fill-opacity="0.75"/><circle cx="868.1" cy="238.4" r="3.4" fill="#f0b878" fill-opacity="0.75"/><circle cx="861.3" cy="228.5" r="3.4" fill="#f0b878" fill-opacity="0.75"/><circle cx="870.3" cy="226.0" r="3.4" fill="#f0b878" fill-opacity="0.75"/><circle cx="863.1" cy="234.6" r="3.4" fill="#f0b878" fill-opacity="0.75"/><circle cx="862.5" cy="241.8" r="3.4" fill="#f0b878" fill-opacity="0.75"/><circle cx="867.3" cy="239.2" r="3.4" fill="#f0b878" fill-opacity="0.75"/><circle cx="862.8" cy="233.9" r="3.4" fill="#f0b878" fill-opacity="0.75"/><circle cx="874.9" cy="242.7" r="3.4" fill="#f0b878" fill-opacity="0.75"/><circle cx="867.1" cy="242.7" r="3.4" fill="#f0b878" fill-opacity="0.75"/><circle cx="872.3" cy="241.1" r="3.4" fill="#f0b878" fill-opacity="0.75"/><circle cx="883.6" cy="236.6" r="3.4" fill="#f0b878" fill-opacity="0.75"/><circle cx="874.1" cy="243.1" r="3.4" fill="#f0b878" fill-opacity="0.75"/><circle cx="868.9" cy="230.4" r="3.4" fill="#f0b878" fill-opacity="0.75"/><circle cx="876.3" cy="241.8" r="3.4" fill="#f0b878" fill-opacity="0.75"/><circle cx="871.1" cy="239.9" r="3.4" fill="#f0b878" fill-opacity="0.75"/><circle cx="870.9" cy="232.6" r="3.4" fill="#f0b878" fill-opacity="0.75"/><circle cx="873.0" cy="225.3" r="3.4" fill="#f0b878" fill-opacity="0.75"/><circle cx="870.5" cy="227.7" r="3.4" fill="#f0b878" fill-opacity="0.75"/><circle cx="867.8" cy="245.4" r="3.4" fill="#f0b878" fill-opacity="0.75"/><circle cx="868.6" cy="235.8" r="3.4" fill="#f0b878" fill-opacity="0.75"/><circle cx="874.7" cy="237.5" r="3.4" fill="#f0b878" fill-opacity="0.75"/><circle cx="920.6" cy="190.0" r="3.4" fill="#f0d8b0" fill-opacity="0.75"/><circle cx="874.3" cy="208.5" r="3.4" fill="#f0d8b0" fill-opacity="0.75"/><circle cx="889.7" cy="216.9" r="3.4" fill="#f0d8b0" fill-opacity="0.75"/><circle cx="881.4" cy="202.1" r="3.4" fill="#f0d8b0" fill-opacity="0.75"/><circle cx="882.5" cy="201.2" r="3.4" fill="#f0d8b0" fill-opacity="0.75"/><circle cx="881.4" cy="202.6" r="3.4" fill="#f0d8b0" fill-opacity="0.75"/><circle cx="893.2" cy="198.1" r="3.4" fill="#f0d8b0" fill-opacity="0.75"/><circle cx="887.3" cy="217.9" r="3.4" fill="#f0d8b0" fill-opacity="0.75"/><circle cx="863.3" cy="209.6" r="3.4" fill="#f0d8b0" fill-opacity="0.75"/><circle cx="889.1" cy="220.6" r="3.4" fill="#f0d8b0" fill-opacity="0.75"/><circle cx="864.2" cy="207.4" r="3.4" fill="#f0d8b0" fill-opacity="0.75"/><circle cx="868.1" cy="203.3" r="3.4" fill="#f0d8b0" fill-opacity="0.75"/><circle cx="872.4" cy="226.2" r="3.4" fill="#f0d8b0" fill-opacity="0.75"/><circle cx="878.6" cy="209.7" r="3.4" fill="#f0d8b0" fill-opacity="0.75"/><circle cx="874.8" cy="216.8" r="3.4" fill="#f0d8b0" fill-opacity="0.75"/><circle cx="883.0" cy="204.1" r="3.4" fill="#f0d8b0" fill-opacity="0.75"/><circle cx="889.2" cy="202.8" r="3.4" fill="#f0d8b0" fill-opacity="0.75"/><circle cx="875.3" cy="215.1" r="3.4" fill="#f0d8b0" fill-opacity="0.75"/><circle cx="891.2" cy="208.7" r="3.4" fill="#f0d8b0" fill-opacity="0.75"/><circle cx="879.8" cy="221.9" r="3.4" fill="#f0d8b0" fill-opacity="0.75"/><circle cx="882.5" cy="220.5" r="3.4" fill="#f0d8b0" fill-opacity="0.75"/><circle cx="885.8" cy="213.6" r="3.4" fill="#f0d8b0" fill-opacity="0.75"/><circle cx="882.5" cy="218.8" r="3.4" fill="#f0d8b0" fill-opacity="0.75"/><circle cx="877.3" cy="224.3" r="3.4" fill="#f0d8b0" fill-opacity="0.75"/><circle cx="861.6" cy="204.1" r="3.4" fill="#f0d8b0" fill-opacity="0.75"/><circle cx="889.0" cy="214.9" r="3.4" fill="#f0d8b0" fill-opacity="0.75"/><circle cx="872.3" cy="214.5" r="3.4" fill="#f0d8b0" fill-opacity="0.75"/><circle cx="886.2" cy="207.0" r="3.4" fill="#f0d8b0" fill-opacity="0.75"/><circle cx="883.6" cy="210.5" r="3.4" fill="#f0d8b0" fill-opacity="0.75"/><circle cx="876.6" cy="210.9" r="3.4" fill="#f0d8b0" fill-opacity="0.75"/><circle cx="885.4" cy="239.5" r="3.4" fill="#e8c080" fill-opacity="0.75"/><circle cx="873.5" cy="253.8" r="3.4" fill="#e8c080" fill-opacity="0.75"/><circle cx="866.7" cy="235.8" r="3.4" fill="#e8c080" fill-opacity="0.75"/><circle cx="881.0" cy="248.5" r="3.4" fill="#e8c080" fill-opacity="0.75"/><circle cx="875.3" cy="249.6" r="3.4" fill="#e8c080" fill-opacity="0.75"/><circle cx="868.7" cy="271.8" r="3.4" fill="#e8c080" fill-opacity="0.75"/><circle cx="868.6" cy="245.0" r="3.4" fill="#e8c080" fill-opacity="0.75"/><circle cx="865.1" cy="245.2" r="3.4" fill="#e8c080" fill-opacity="0.75"/><circle cx="888.7" cy="248.6" r="3.4" fill="#e8c080" fill-opacity="0.75"/><circle cx="881.3" cy="244.6" r="3.4" fill="#e8c080" fill-opacity="0.75"/><circle cx="891.0" cy="249.8" r="3.4" fill="#e8c080" fill-opacity="0.75"/><circle cx="866.5" cy="254.7" r="3.4" fill="#e8c080" fill-opacity="0.75"/><circle cx="873.5" cy="253.3" r="3.4" fill="#e8c080" fill-opacity="0.75"/><circle cx="877.6" cy="250.6" r="3.4" fill="#e8c080" fill-opacity="0.75"/><circle cx="877.6" cy="241.2" r="3.4" fill="#e8c080" fill-opacity="0.75"/><circle cx="864.5" cy="256.3" r="3.4" fill="#e8c080" fill-opacity="0.75"/><circle cx="875.4" cy="250.8" r="3.4" fill="#e8c080" fill-opacity="0.75"/><circle cx="872.8" cy="232.3" r="3.4" fill="#e8c080" fill-opacity="0.75"/><circle cx="866.3" cy="259.7" r="3.4" fill="#e8c080" fill-opacity="0.75"/><circle cx="870.2" cy="245.4" r="3.4" fill="#e8c080" fill-opacity="0.75"/><circle cx="864.7" cy="244.3" r="3.4" fill="#e8c080" fill-opacity="0.75"/><circle cx="873.5" cy="246.7" r="3.4" fill="#e8c080" fill-opacity="0.75"/><circle cx="875.9" cy="243.4" r="3.4" fill="#e8c080" fill-opacity="0.75"/><circle cx="871.9" cy="248.4" r="3.4" fill="#e8c080" fill-opacity="0.75"/><circle cx="879.0" cy="247.3" r="3.4" fill="#e8c080" fill-opacity="0.75"/><circle cx="890.4" cy="250.1" r="3.4" fill="#e8c080" fill-opacity="0.75"/><circle cx="877.7" cy="243.2" r="3.4" fill="#e8c080" fill-opacity="0.75"/><circle cx="884.7" cy="240.3" r="3.4" fill="#e8c080" fill-opacity="0.75"/><circle cx="863.5" cy="240.6" r="3.4" fill="#e8c080" fill-opacity="0.75"/><circle cx="881.4" cy="239.3" r="3.4" fill="#e8c080" fill-opacity="0.75"/><circle cx="863.8" cy="255.3" r="3.4" fill="#e8c080" fill-opacity="0.75"/><circle cx="841.3" cy="253.6" r="3.4" fill="#e8c080" fill-opacity="0.75"/><circle cx="867.7" cy="248.6" r="3.4" fill="#e8c080" fill-opacity="0.75"/><circle cx="843.0" cy="259.5" r="3.4" fill="#e8c080" fill-opacity="0.75"/><circle cx="863.9" cy="263.6" r="3.4" fill="#e8c080" fill-opacity="0.75"/><circle cx="850.8" cy="256.9" r="3.4" fill="#e8c080" fill-opacity="0.75"/><circle cx="856.0" cy="264.8" r="3.4" fill="#e8c080" fill-opacity="0.75"/><circle cx="870.6" cy="254.6" r="3.4" fill="#e8c080" fill-opacity="0.75"/><circle cx="863.8" cy="252.7" r="3.4" fill="#e8c080" fill-opacity="0.75"/><circle cx="858.1" cy="248.0" r="3.4" fill="#e8c080" fill-opacity="0.75"/><circle cx="847.3" cy="258.7" r="3.4" fill="#e8c080" fill-opacity="0.75"/><circle cx="846.3" cy="262.5" r="3.4" fill="#e8c080" fill-opacity="0.75"/><circle cx="849.0" cy="256.0" r="3.4" fill="#e8c080" fill-opacity="0.75"/><circle cx="852.8" cy="252.8" r="3.4" fill="#e8c080" fill-opacity="0.75"/><circle cx="854.5" cy="264.1" r="3.4" fill="#e8c080" fill-opacity="0.75"/><circle cx="878.3" cy="245.9" r="3.4" fill="#e8c080" fill-opacity="0.75"/><circle cx="855.8" cy="254.0" r="3.4" fill="#e8c080" fill-opacity="0.75"/><circle cx="846.1" cy="257.7" r="3.4" fill="#e8c080" fill-opacity="0.75"/><circle cx="846.4" cy="254.8" r="3.4" fill="#e8c080" fill-opacity="0.75"/><circle cx="863.3" cy="239.3" r="3.4" fill="#e8c080" fill-opacity="0.75"/><circle cx="855.4" cy="259.0" r="3.4" fill="#e8c080" fill-opacity="0.75"/><circle cx="845.8" cy="259.6" r="3.4" fill="#e8c080" fill-opacity="0.75"/><circle cx="856.2" cy="252.6" r="3.4" fill="#e8c080" fill-opacity="0.75"/><circle cx="863.1" cy="245.0" r="3.4" fill="#e8c080" fill-opacity="0.75"/><circle cx="858.6" cy="253.6" r="3.4" fill="#e8c080" fill-opacity="0.75"/><circle cx="845.0" cy="254.0" r="3.4" fill="#e8c080" fill-opacity="0.75"/><circle cx="850.6" cy="262.0" r="3.4" fill="#e8c080" fill-opacity="0.75"/><circle cx="841.5" cy="253.9" r="3.4" fill="#e8c080" fill-opacity="0.75"/><circle cx="849.8" cy="268.0" r="3.4" fill="#e8c080" fill-opacity="0.75"/><circle cx="844.5" cy="263.9" r="3.4" fill="#e8c080" fill-opacity="0.75"/><circle cx="843.6" cy="408.4" r="3.4" fill="#f0a860" fill-opacity="0.75"/><circle cx="830.0" cy="395.0" r="3.4" fill="#f0a860" fill-opacity="0.75"/><circle cx="820.0" cy="410.0" r="3.4" fill="#f0a860" fill-opacity="0.75"/><circle cx="812.0" cy="380.0" r="3.4" fill="#f0a860" fill-opacity="0.75"/><circle cx="835.0" cy="360.0" r="3.4" fill="#f0a860" fill-opacity="0.75"/><circle cx="884.4" cy="281.2" r="3.4" fill="#f0a860" fill-opacity="0.75"/><circle cx="897.3" cy="281.4" r="3.4" fill="#f0a860" fill-opacity="0.75"/><circle cx="892.8" cy="262.8" r="3.4" fill="#f0a860" fill-opacity="0.75"/><circle cx="886.0" cy="288.9" r="3.4" fill="#f0a860" fill-opacity="0.75"/><circle cx="900.1" cy="271.4" r="3.4" fill="#f0a860" fill-opacity="0.75"/><circle cx="905.6" cy="272.4" r="3.4" fill="#f0a860" fill-opacity="0.75"/><circle cx="892.4" cy="268.6" r="3.4" fill="#f0a860" fill-opacity="0.75"/><circle cx="907.7" cy="294.0" r="3.4" fill="#f0a860" fill-opacity="0.75"/><circle cx="890.6" cy="280.6" r="3.4" fill="#f0a860" fill-opacity="0.75"/><circle cx="906.1" cy="295.2" r="3.4" fill="#f0a860" fill-opacity="0.75"/><circle cx="879.1" cy="279.4" r="3.4" fill="#f0a860" fill-opacity="0.75"/><circle cx="903.4" cy="266.4" r="3.4" fill="#f0a860" fill-opacity="0.75"/><circle cx="901.5" cy="279.8" r="3.4" fill="#f0a860" fill-opacity="0.75"/><circle cx="904.0" cy="273.6" r="3.4" fill="#f0a860" fill-opacity="0.75"/><circle cx="901.6" cy="273.4" r="3.4" fill="#f0a860" fill-opacity="0.75"/><circle cx="903.1" cy="279.5" r="3.4" fill="#f0a860" fill-opacity="0.75"/><circle cx="895.2" cy="266.9" r="3.4" fill="#f0a860" fill-opacity="0.75"/><circle cx="911.4" cy="287.1" r="3.4" fill="#f0a860" fill-opacity="0.75"/><circle cx="905.3" cy="272.9" r="3.4" fill="#f0a860" fill-opacity="0.75"/><circle cx="895.4" cy="291.6" r="3.4" fill="#f0a860" fill-opacity="0.75"/><circle cx="904.2" cy="271.4" r="3.4" fill="#f0a860" fill-opacity="0.75"/><circle cx="898.6" cy="279.4" r="3.4" fill="#f0a860" fill-opacity="0.75"/><circle cx="896.7" cy="270.7" r="3.4" fill="#f0a860" fill-opacity="0.75"/><circle cx="908.3" cy="283.0" r="3.4" fill="#f0a860" fill-opacity="0.75"/><circle cx="896.7" cy="265.7" r="3.4" fill="#f0a860" fill-opacity="0.75"/><circle cx="893.6" cy="278.2" r="3.4" fill="#f0a860" fill-opacity="0.75"/><circle cx="905.2" cy="275.3" r="3.4" fill="#f0a860" fill-opacity="0.75"/><circle cx="907.2" cy="279.4" r="3.4" fill="#f0a860" fill-opacity="0.75"/><circle cx="892.4" cy="256.0" r="3.4" fill="#f0a860" fill-opacity="0.75"/><circle cx="888.9" cy="266.4" r="3.4" fill="#f0a860" fill-opacity="0.75"/><circle cx="897.1" cy="281.0" r="3.4" fill="#f0a860" fill-opacity="0.75"/><circle cx="909.5" cy="278.3" r="3.4" fill="#f0a860" fill-opacity="0.75"/><circle cx="889.1" cy="297.2" r="3.4" fill="#f0a860" fill-opacity="0.75"/><circle cx="900.9" cy="276.3" r="3.4" fill="#f0a860" fill-opacity="0.75"/><circle cx="896.3" cy="267.6" r="3.4" fill="#f0a860" fill-opacity="0.75"/><circle cx="903.5" cy="281.4" r="3.4" fill="#f0a860" fill-opacity="0.75"/><circle cx="911.1" cy="287.2" r="3.4" fill="#f0a860" fill-opacity="0.75"/><circle cx="905.4" cy="288.5" r="3.4" fill="#f0a860" fill-opacity="0.75"/><circle cx="896.2" cy="274.9" r="3.4" fill="#f0a860" fill-opacity="0.75"/><circle cx="898.1" cy="268.5" r="3.4" fill="#f0a860" fill-opacity="0.75"/><circle cx="897.3" cy="275.8" r="3.4" fill="#f0a860" fill-opacity="0.75"/><circle cx="903.8" cy="278.4" r="3.4" fill="#f0a860" fill-opacity="0.75"/><circle cx="883.2" cy="278.8" r="3.4" fill="#f0a860" fill-opacity="0.75"/><circle cx="909.8" cy="263.8" r="3.4" fill="#f0a860" fill-opacity="0.75"/><circle cx="892.5" cy="278.7" r="3.4" fill="#f0a860" fill-opacity="0.75"/><circle cx="887.9" cy="274.2" r="3.4" fill="#f0a860" fill-opacity="0.75"/><circle cx="899.0" cy="268.0" r="3.4" fill="#f0a860" fill-opacity="0.75"/><circle cx="900.9" cy="281.9" r="3.4" fill="#f0a860" fill-opacity="0.75"/><circle cx="888.4" cy="278.8" r="3.4" fill="#f0a860" fill-opacity="0.75"/><circle cx="845.0" cy="350.0" r="3.4" fill="#f0a860" fill-opacity="0.75"/><circle cx="884.2" cy="270.2" r="3.4" fill="#f0a860" fill-opacity="0.75"/><circle cx="879.1" cy="276.8" r="3.4" fill="#f0a860" fill-opacity="0.75"/><circle cx="873.8" cy="279.5" r="3.4" fill="#f0a860" fill-opacity="0.75"/><circle cx="878.7" cy="263.7" r="3.4" fill="#f0a860" fill-opacity="0.75"/><circle cx="879.8" cy="278.6" r="3.4" fill="#f0a860" fill-opacity="0.75"/><circle cx="882.1" cy="266.5" r="3.4" fill="#f0a860" fill-opacity="0.75"/><circle cx="879.4" cy="282.7" r="3.4" fill="#f0a860" fill-opacity="0.75"/><circle cx="877.6" cy="281.2" r="3.4" fill="#f0a860" fill-opacity="0.75"/><circle cx="886.1" cy="271.4" r="3.4" fill="#f0a860" fill-opacity="0.75"/><circle cx="881.0" cy="269.4" r="3.4" fill="#f0a860" fill-opacity="0.75"/><circle cx="884.3" cy="271.0" r="3.4" fill="#f0a860" fill-opacity="0.75"/><circle cx="871.4" cy="271.6" r="3.4" fill="#f0a860" fill-opacity="0.75"/><circle cx="875.2" cy="274.8" r="3.4" fill="#f0a860" fill-opacity="0.75"/><circle cx="879.5" cy="262.5" r="3.4" fill="#f0a860" fill-opacity="0.75"/><circle cx="870.6" cy="274.7" r="3.4" fill="#f0a860" fill-opacity="0.75"/><circle cx="879.7" cy="272.5" r="3.4" fill="#f0a860" fill-opacity="0.75"/><circle cx="896.9" cy="280.8" r="3.4" fill="#f0a860" fill-opacity="0.75"/><circle cx="875.2" cy="277.7" r="3.4" fill="#f0a860" fill-opacity="0.75"/><circle cx="886.6" cy="274.8" r="3.4" fill="#f0a860" fill-opacity="0.75"/><circle cx="861.9" cy="272.7" r="3.4" fill="#f0a860" fill-opacity="0.75"/><circle cx="876.3" cy="289.0" r="3.4" fill="#f0a860" fill-opacity="0.75"/><circle cx="861.2" cy="284.3" r="3.4" fill="#f0a860" fill-opacity="0.75"/><circle cx="874.7" cy="279.4" r="3.4" fill="#f0a860" fill-opacity="0.75"/><circle cx="873.7" cy="273.4" r="3.4" fill="#f0a860" fill-opacity="0.75"/><circle cx="885.1" cy="272.7" r="3.4" fill="#f0a860" fill-opacity="0.75"/><circle cx="884.5" cy="271.4" r="3.4" fill="#f0a860" fill-opacity="0.75"/><circle cx="872.8" cy="270.3" r="3.4" fill="#f0a860" fill-opacity="0.75"/><circle cx="872.0" cy="271.1" r="3.4" fill="#f0a860" fill-opacity="0.75"/><circle cx="887.0" cy="262.7" r="3.4" fill="#f0a860" fill-opacity="0.75"/><circle cx="886.8" cy="269.9" r="3.4" fill="#f0a860" fill-opacity="0.75"/><circle cx="913.6" cy="278.5" r="3.4" fill="#f0a860" fill-opacity="0.75"/><circle cx="910.7" cy="280.1" r="3.4" fill="#f0a860" fill-opacity="0.75"/><circle cx="894.3" cy="271.1" r="3.4" fill="#f0a860" fill-opacity="0.75"/><circle cx="878.9" cy="265.3" r="3.4" fill="#f0a860" fill-opacity="0.75"/><circle cx="905.0" cy="257.7" r="3.4" fill="#f0a860" fill-opacity="0.75"/><circle cx="883.7" cy="259.8" r="3.4" fill="#f0a860" fill-opacity="0.75"/><circle cx="901.9" cy="279.5" r="3.4" fill="#f0a860" fill-opacity="0.75"/><circle cx="920.9" cy="281.7" r="3.4" fill="#f0a860" fill-opacity="0.75"/><circle cx="888.1" cy="251.7" r="3.4" fill="#f0a860" fill-opacity="0.75"/><circle cx="901.5" cy="278.7" r="3.4" fill="#f0a860" fill-opacity="0.75"/><circle cx="887.3" cy="266.1" r="3.4" fill="#f0a860" fill-opacity="0.75"/><circle cx="896.7" cy="270.6" r="3.4" fill="#f0a860" fill-opacity="0.75"/><circle cx="898.9" cy="274.5" r="3.4" fill="#f0a860" fill-opacity="0.75"/><circle cx="908.9" cy="271.0" r="3.4" fill="#f0a860" fill-opacity="0.75"/><circle cx="906.4" cy="286.4" r="3.4" fill="#f0a860" fill-opacity="0.75"/><circle cx="892.3" cy="262.1" r="3.4" fill="#f0a860" fill-opacity="0.75"/><circle cx="904.6" cy="285.3" r="3.4" fill="#f0a860" fill-opacity="0.75"/><circle cx="901.8" cy="279.3" r="3.4" fill="#f0a860" fill-opacity="0.75"/><circle cx="898.1" cy="277.9" r="3.4" fill="#f0a860" fill-opacity="0.75"/><circle cx="895.5" cy="276.0" r="3.4" fill="#f0a860" fill-opacity="0.75"/><circle cx="903.8" cy="273.8" r="3.4" fill="#f0a860" fill-opacity="0.75"/><circle cx="911.6" cy="279.2" r="3.4" fill="#f0a860" fill-opacity="0.75"/><circle cx="895.9" cy="277.8" r="3.4" fill="#f0a860" fill-opacity="0.75"/><circle cx="887.1" cy="278.6" r="3.4" fill="#f0a860" fill-opacity="0.75"/><circle cx="922.7" cy="275.0" r="3.4" fill="#f0a860" fill-opacity="0.75"/><circle cx="904.8" cy="271.3" r="3.4" fill="#f0a860" fill-opacity="0.75"/><circle cx="907.5" cy="267.2" r="3.4" fill="#f0a860" fill-opacity="0.75"/><circle cx="906.2" cy="268.7" r="3.4" fill="#f0a860" fill-opacity="0.75"/><circle cx="897.5" cy="271.9" r="3.4" fill="#f0a860" fill-opacity="0.75"/><circle cx="860.0" cy="330.0" r="3.4" fill="#f0a860" fill-opacity="0.75"/><circle cx="900.5" cy="263.1" r="3.4" fill="#f0a860" fill-opacity="0.75"/><circle cx="917.6" cy="278.1" r="3.4" fill="#f0a860" fill-opacity="0.75"/><circle cx="887.4" cy="285.6" r="3.4" fill="#f0a860" fill-opacity="0.75"/><circle cx="900.8" cy="278.6" r="3.4" fill="#f0a860" fill-opacity="0.75"/><circle cx="906.7" cy="269.8" r="3.4" fill="#f0a860" fill-opacity="0.75"/><circle cx="877.4" cy="276.2" r="3.4" fill="#f0a860" fill-opacity="0.75"/><circle cx="902.9" cy="285.0" r="3.4" fill="#f0a860" fill-opacity="0.75"/><circle cx="894.9" cy="274.9" r="3.4" fill="#f0a860" fill-opacity="0.75"/><circle cx="904.2" cy="274.5" r="3.4" fill="#f0a860" fill-opacity="0.75"/><circle cx="899.0" cy="279.0" r="3.4" fill="#f0a860" fill-opacity="0.75"/><circle cx="893.0" cy="289.7" r="3.4" fill="#f0a860" fill-opacity="0.75"/><circle cx="893.6" cy="277.3" r="3.4" fill="#f0a860" fill-opacity="0.75"/><circle cx="898.4" cy="271.3" r="3.4" fill="#f0a860" fill-opacity="0.75"/><circle cx="905.3" cy="285.1" r="3.4" fill="#f0a860" fill-opacity="0.75"/><circle cx="912.6" cy="281.6" r="3.4" fill="#f0a860" fill-opacity="0.75"/><circle cx="897.4" cy="283.9" r="3.4" fill="#f0a860" fill-opacity="0.75"/><circle cx="889.4" cy="277.4" r="3.4" fill="#f0a860" fill-opacity="0.75"/><circle cx="905.1" cy="281.5" r="3.4" fill="#f0a860" fill-opacity="0.75"/><circle cx="891.7" cy="265.0" r="3.4" fill="#f0a860" fill-opacity="0.75"/><circle cx="914.2" cy="272.8" r="3.4" fill="#f0a860" fill-opacity="0.75"/><circle cx="887.7" cy="267.0" r="3.4" fill="#f0a860" fill-opacity="0.75"/><circle cx="901.0" cy="286.3" r="3.4" fill="#f0a860" fill-opacity="0.75"/><circle cx="900.8" cy="286.4" r="3.4" fill="#f0a860" fill-opacity="0.75"/><circle cx="902.6" cy="280.6" r="3.4" fill="#f0a860" fill-opacity="0.75"/><circle cx="908.7" cy="273.8" r="3.4" fill="#f0a860" fill-opacity="0.75"/><circle cx="903.1" cy="273.6" r="3.4" fill="#f0a860" fill-opacity="0.75"/><circle cx="895.6" cy="282.0" r="3.4" fill="#f0a860" fill-opacity="0.75"/><circle cx="894.1" cy="277.3" r="3.4" fill="#f0a860" fill-opacity="0.75"/><circle cx="894.4" cy="276.0" r="3.4" fill="#f0a860" fill-opacity="0.75"/></g>
<g font-size="17.5"><rect x="452.0" y="237.2" width="54.0" height="21.5" fill="#fff" stroke="#3ec060" stroke-width="1.3"/><text x="479.0" y="254.0" fill="#3ec060" fill-opacity="0.85" text-anchor="middle">WE−S</text><rect x="495.5" y="256.2" width="56.0" height="21.5" fill="#fff" stroke="#48b840" stroke-width="1.3"/><text x="523.5" y="273.0" fill="#48b840" fill-opacity="0.85" text-anchor="middle">KO−O</text><rect x="424.7" y="238.4" width="69.0" height="21.5" fill="#fff" stroke="#42c25a" stroke-width="1.3"/><text x="459.2" y="255.2" fill="#42c25a" fill-opacity="0.85" text-anchor="middle">WE−O1</text><rect x="432.5" y="256.2" width="69.0" height="21.5" fill="#fff" stroke="#38b065" stroke-width="1.3"/><text x="467.0" y="273.0" fill="#38b065" fill-opacity="0.85" text-anchor="middle">WE−O2</text><rect x="470.6" y="252.6" width="57.4" height="21.5" fill="#fff" stroke="#5ec050" stroke-width="1.3"/><text x="499.3" y="269.3" fill="#5ec050" fill-opacity="0.85" text-anchor="middle">WB−S</text><rect x="391.4" y="143.2" width="66.0" height="21.5" fill="#fff" stroke="#22e285" stroke-width="1.3"/><text x="424.4" y="159.9" fill="#22e285" fill-opacity="0.85" text-anchor="middle">WZ−O2</text><rect x="393.2" y="141.4" width="67.0" height="21.5" fill="#fff" stroke="#2ee890" stroke-width="1.3"/><text x="426.7" y="158.2" fill="#2ee890" fill-opacity="0.85" text-anchor="middle">WZ−O3</text><rect x="354.2" y="158.1" width="54.5" height="21.5" fill="#fff" stroke="#25e070" stroke-width="1.3"/><text x="381.5" y="174.8" fill="#25e070" fill-opacity="0.85" text-anchor="middle">WZ−S</text><rect x="395.4" y="175.7" width="66.6" height="21.5" fill="#fff" stroke="#2ee47c" stroke-width="1.3"/><text x="428.7" y="192.4" fill="#2ee47c" fill-opacity="0.85" text-anchor="middle">WZ−O1</text><rect x="451.0" y="196.2" width="53.0" height="21.5" fill="#fff" stroke="#50cc48" stroke-width="1.3"/><text x="477.5" y="213.0" fill="#50cc48" fill-opacity="0.85" text-anchor="middle">KO−S</text><rect x="425.2" y="322.8" width="60.5" height="21.5" fill="#fff" stroke="#2e9a68" stroke-width="1.3"/><text x="455.5" y="339.5" fill="#2e9a68" fill-opacity="0.85" text-anchor="middle">WB−O</text><rect x="556.7" y="590.8" width="50.6" height="21.5" fill="#fff" stroke="#6a0a4a" stroke-width="1.3"/><text x="582.0" y="607.5" fill="#6a0a4a" fill-opacity="0.85" text-anchor="middle">NA−S</text><rect x="557.4" y="601.2" width="62.7" height="21.5" fill="#fff" stroke="#7a1a5a" stroke-width="1.3"/><text x="588.8" y="618.0" fill="#7a1a5a" fill-opacity="0.85" text-anchor="middle">NA−O1</text><rect x="559.8" y="623.6" width="63.5" height="21.5" fill="#fff" stroke="#7a1a5a" stroke-width="1.3"/><text x="591.5" y="640.4" fill="#7a1a5a" fill-opacity="0.85" text-anchor="middle">NA−O2</text><rect x="549.9" y="421.1" width="51.0" height="21.5" fill="#fff" stroke="#5a6af0" stroke-width="1.3"/><text x="575.4" y="437.9" fill="#5a6af0" fill-opacity="0.85" text-anchor="middle">AN−S</text><rect x="571.0" y="409.4" width="54.0" height="21.5" fill="#fff" stroke="#7880d0" stroke-width="1.3"/><text x="598.0" y="426.2" fill="#7880d0" fill-opacity="0.85" text-anchor="middle">AN−O</text><rect x="668.4" y="390.2" width="54.5" height="21.5" fill="#fff" stroke="#9c7a50" stroke-width="1.3"/><text x="695.6" y="407.0" fill="#9c7a50" fill-opacity="0.85" text-anchor="middle">SU−O</text><rect x="652.8" y="405.2" width="56.0" height="21.5" fill="#fff" stroke="#a08462" stroke-width="1.3"/><text x="680.8" y="422.0" fill="#a08462" fill-opacity="0.85" text-anchor="middle">RU−O</text><rect x="774.8" y="390.2" width="52.3" height="21.5" fill="#fff" stroke="#c87a30" stroke-width="1.3"/><text x="800.9" y="407.0" fill="#c87a30" fill-opacity="0.85" text-anchor="middle">SU−S</text><rect x="776.0" y="377.9" width="52.0" height="21.5" fill="#fff" stroke="#c8822e" stroke-width="1.3"/><text x="802.0" y="394.7" fill="#c8822e" fill-opacity="0.85" text-anchor="middle">RU−S</text><rect x="746.0" y="376.6" width="50.8" height="21.5" fill="#fff" stroke="#c8862c" stroke-width="1.3"/><text x="771.4" y="393.3" fill="#c8862c" fill-opacity="0.85" text-anchor="middle">ST−S</text><rect x="768.4" y="356.2" width="63.3" height="21.5" fill="#fff" stroke="#c88a30" stroke-width="1.3"/><text x="800.0" y="373.0" fill="#c88a30" fill-opacity="0.85" text-anchor="middle">ST−O1</text><rect x="760.0" y="366.9" width="63.0" height="21.5" fill="#fff" stroke="#c08a40" stroke-width="1.3"/><text x="791.5" y="383.7" fill="#c08a40" fill-opacity="0.85" text-anchor="middle">ST−O2</text><rect x="725.5" y="162.1" width="56.0" height="21.5" fill="#fff" stroke="#b0e020" stroke-width="1.3"/><text x="753.5" y="178.8" fill="#b0e020" fill-opacity="0.85" text-anchor="middle">RO−S</text><rect x="774.0" y="155.2" width="67.0" height="21.5" fill="#fff" stroke="#c0e030" stroke-width="1.3"/><text x="807.5" y="171.9" fill="#c0e030" fill-opacity="0.85" text-anchor="middle">RO−O2</text><rect x="727.0" y="150.6" width="67.3" height="21.5" fill="#fff" stroke="#b8e818" stroke-width="1.3"/><text x="760.6" y="167.3" fill="#b8e818" fill-opacity="0.85" text-anchor="middle">RO−O3</text><rect x="848.0" y="187.2" width="50.0" height="21.5" fill="#fff" stroke="#e8d840" stroke-width="1.3"/><text x="873.0" y="204.0" fill="#e8d840" fill-opacity="0.85" text-anchor="middle">AI−O</text><rect x="850.5" y="188.1" width="64.2" height="21.5" fill="#fff" stroke="#f0dcb0" stroke-width="1.3"/><text x="882.6" y="204.8" fill="#f0dcb0" fill-opacity="0.85" text-anchor="middle">BC−O3</text><rect x="830.0" y="199.8" width="64.0" height="21.5" fill="#fff" stroke="#e8c898" stroke-width="1.3"/><text x="862.0" y="216.5" fill="#e8c898" fill-opacity="0.85" text-anchor="middle">BC−O1</text><rect x="846.1" y="200.9" width="63.7" height="21.5" fill="#fff" stroke="#f0d8b0" stroke-width="1.3"/><text x="878.0" y="217.7" fill="#f0d8b0" fill-opacity="0.85" text-anchor="middle">LO−O2</text><rect x="828.5" y="216.9" width="53.0" height="21.5" fill="#fff" stroke="#e8d0a0" stroke-width="1.3"/><text x="855.0" y="233.7" fill="#e8d0a0" fill-opacity="0.85" text-anchor="middle">BC−S</text><rect x="839.0" y="231.8" width="64.0" height="21.5" fill="#fff" stroke="#f0c890" stroke-width="1.3"/><text x="871.0" y="248.5" fill="#f0c890" fill-opacity="0.85" text-anchor="middle">LO−O1</text><rect x="844.7" y="238.2" width="65.0" height="21.5" fill="#fff" stroke="#e8c080" stroke-width="1.3"/><text x="877.2" y="255.0" fill="#e8c080" fill-opacity="0.85" text-anchor="middle">LO−O3</text><rect x="823.0" y="261.2" width="50.0" height="21.5" fill="#fff" stroke="#e0b870" stroke-width="1.3"/><text x="848.0" y="278.0" fill="#e0b870" fill-opacity="0.85" text-anchor="middle">AI−S</text><rect x="845.0" y="261.2" width="62.0" height="21.5" fill="#fff" stroke="#f0a860" stroke-width="1.3"/><text x="876.0" y="278.0" fill="#f0a860" fill-opacity="0.85" text-anchor="middle">EL−O1</text><rect x="822.6" y="244.8" width="63.3" height="21.5" fill="#fff" stroke="#e8c080" stroke-width="1.3"/><text x="854.3" y="261.5" fill="#e8c080" fill-opacity="0.85" text-anchor="middle">LO−O4</text><rect x="874.7" y="272.2" width="50.0" height="21.5" fill="#fff" stroke="#f0a860" stroke-width="1.3"/><text x="899.7" y="289.0" fill="#f0a860" fill-opacity="0.85" text-anchor="middle">EL−S</text><rect x="868.7" y="259.8" width="62.0" height="21.5" fill="#fff" stroke="#f0a860" stroke-width="1.3"/><text x="899.7" y="276.5" fill="#f0a860" fill-opacity="0.85" text-anchor="middle">EL−O2</text><rect x="868.7" y="265.8" width="62.0" height="21.5" fill="#fff" stroke="#f0a860" stroke-width="1.3"/><text x="899.7" y="282.5" fill="#f0a860" fill-opacity="0.85" text-anchor="middle">EL−O3</text><rect x="811.7" y="297.1" width="65.6" height="21.5" fill="#fff" stroke="#e0b070" stroke-width="1.3"/><text x="844.5" y="313.9" fill="#e0b070" fill-opacity="0.85" text-anchor="middle">BC−O2</text><rect x="795.2" y="317.9" width="65.1" height="21.5" fill="#fff" stroke="#d8a868" stroke-width="1.3"/><text x="827.7" y="334.6" fill="#d8a868" fill-opacity="0.85" text-anchor="middle">BC−O4</text></g>
<text x="1134" y="67.8" font-size="43" font-weight="bold">A</text>
<rect x="29.3" y="553.3" width="299.5" height="190.7" fill="#fff" stroke="#000" stroke-width="1.3"/>
<line x1="40.4" y1="738.0" x2="40.4" y2="699.1" stroke="#7f7f7f" stroke-width="2.3"/><line x1="44.3" y1="738.0" x2="44.3" y2="680.2" stroke="#7f7f7f" stroke-width="2.3"/><line x1="48.2" y1="738.0" x2="48.2" y2="663.3" stroke="#7f7f7f" stroke-width="2.3"/><line x1="52.1" y1="738.0" x2="52.1" y2="651.2" stroke="#7f7f7f" stroke-width="2.3"/><line x1="56.0" y1="738.0" x2="56.0" y2="641.5" stroke="#7f7f7f" stroke-width="2.3"/><line x1="59.9" y1="738.0" x2="59.9" y2="634.4" stroke="#7f7f7f" stroke-width="2.3"/><line x1="63.8" y1="738.0" x2="63.8" y2="628.3" stroke="#7f7f7f" stroke-width="2.3"/><line x1="67.7" y1="738.0" x2="67.7" y2="623.5" stroke="#7f7f7f" stroke-width="2.3"/><line x1="71.6" y1="738.0" x2="71.6" y2="619.2" stroke="#7f7f7f" stroke-width="2.3"/><line x1="75.5" y1="738.0" x2="75.5" y2="615.5" stroke="#7f7f7f" stroke-width="2.3"/><line x1="79.4" y1="738.0" x2="79.4" y2="612.3" stroke="#7f7f7f" stroke-width="2.3"/><line x1="83.3" y1="738.0" x2="83.3" y2="609.4" stroke="#7f7f7f" stroke-width="2.3"/><line x1="87.2" y1="738.0" x2="87.2" y2="606.8" stroke="#7f7f7f" stroke-width="2.3"/><line x1="91.1" y1="738.0" x2="91.1" y2="604.3" stroke="#dedede" stroke-width="2.3"/><line x1="95.0" y1="738.0" x2="95.0" y2="602.0" stroke="#dedede" stroke-width="2.3"/><line x1="98.9" y1="738.0" x2="98.9" y2="600.0" stroke="#dedede" stroke-width="2.3"/><line x1="102.8" y1="738.0" x2="102.8" y2="598.2" stroke="#dedede" stroke-width="2.3"/><line x1="106.7" y1="738.0" x2="106.7" y2="596.5" stroke="#dedede" stroke-width="2.3"/><line x1="110.6" y1="738.0" x2="110.6" y2="595.1" stroke="#dedede" stroke-width="2.3"/><line x1="114.5" y1="738.0" x2="114.5" y2="593.8" stroke="#dedede" stroke-width="2.3"/><line x1="118.4" y1="738.0" x2="118.4" y2="592.6" stroke="#dedede" stroke-width="2.3"/><line x1="122.3" y1="738.0" x2="122.3" y2="591.6" stroke="#dedede" stroke-width="2.3"/><line x1="126.2" y1="738.0" x2="126.2" y2="590.6" stroke="#dedede" stroke-width="2.3"/><line x1="130.1" y1="738.0" x2="130.1" y2="589.8" stroke="#dedede" stroke-width="2.3"/><line x1="134.0" y1="738.0" x2="134.0" y2="589.1" stroke="#dedede" stroke-width="2.3"/><line x1="137.9" y1="738.0" x2="137.9" y2="588.4" stroke="#dedede" stroke-width="2.3"/><line x1="141.8" y1="738.0" x2="141.8" y2="587.8" stroke="#dedede" stroke-width="2.3"/><line x1="145.7" y1="738.0" x2="145.7" y2="587.3" stroke="#dedede" stroke-width="2.3"/><line x1="149.6" y1="738.0" x2="149.6" y2="586.8" stroke="#dedede" stroke-width="2.3"/><line x1="153.5" y1="738.0" x2="153.5" y2="586.3" stroke="#dedede" stroke-width="2.3"/><line x1="157.4" y1="738.0" x2="157.4" y2="586.0" stroke="#dedede" stroke-width="2.3"/><line x1="161.3" y1="738.0" x2="161.3" y2="585.6" stroke="#dedede" stroke-width="2.3"/><line x1="165.2" y1="738.0" x2="165.2" y2="585.3" stroke="#dedede" stroke-width="2.3"/><line x1="169.1" y1="738.0" x2="169.1" y2="585.0" stroke="#dedede" stroke-width="2.3"/><line x1="173.0" y1="738.0" x2="173.0" y2="584.8" stroke="#dedede" stroke-width="2.3"/><line x1="176.9" y1="738.0" x2="176.9" y2="584.6" stroke="#dedede" stroke-width="2.3"/><line x1="180.8" y1="738.0" x2="180.8" y2="584.4" stroke="#dedede" stroke-width="2.3"/><line x1="184.7" y1="738.0" x2="184.7" y2="584.2" stroke="#dedede" stroke-width="2.3"/><line x1="188.6" y1="738.0" x2="188.6" y2="584.0" stroke="#dedede" stroke-width="2.3"/><line x1="192.5" y1="738.0" x2="192.5" y2="583.9" stroke="#dedede" stroke-width="2.3"/><line x1="196.4" y1="738.0" x2="196.4" y2="583.8" stroke="#dedede" stroke-width="2.3"/><line x1="200.3" y1="738.0" x2="200.3" y2="583.7" stroke="#dedede" stroke-width="2.3"/><line x1="204.2" y1="738.0" x2="204.2" y2="583.6" stroke="#dedede" stroke-width="2.3"/><line x1="208.1" y1="738.0" x2="208.1" y2="583.5" stroke="#dedede" stroke-width="2.3"/><line x1="212.0" y1="738.0" x2="212.0" y2="583.4" stroke="#dedede" stroke-width="2.3"/><line x1="215.9" y1="738.0" x2="215.9" y2="583.3" stroke="#dedede" stroke-width="2.3"/><line x1="219.8" y1="738.0" x2="219.8" y2="583.3" stroke="#dedede" stroke-width="2.3"/><line x1="223.7" y1="738.0" x2="223.7" y2="583.2" stroke="#dedede" stroke-width="2.3"/><line x1="227.6" y1="738.0" x2="227.6" y2="583.1" stroke="#dedede" stroke-width="2.3"/><line x1="231.5" y1="738.0" x2="231.5" y2="583.1" stroke="#dedede" stroke-width="2.3"/><line x1="235.4" y1="738.0" x2="235.4" y2="583.1" stroke="#dedede" stroke-width="2.3"/><line x1="239.3" y1="738.0" x2="239.3" y2="583.0" stroke="#dedede" stroke-width="2.3"/><line x1="243.2" y1="738.0" x2="243.2" y2="583.0" stroke="#dedede" stroke-width="2.3"/><line x1="247.1" y1="738.0" x2="247.1" y2="583.0" stroke="#dedede" stroke-width="2.3"/><line x1="251.0" y1="738.0" x2="251.0" y2="582.9" stroke="#dedede" stroke-width="2.3"/><line x1="254.9" y1="738.0" x2="254.9" y2="582.9" stroke="#dedede" stroke-width="2.3"/><line x1="258.8" y1="738.0" x2="258.8" y2="582.9" stroke="#dedede" stroke-width="2.3"/><line x1="262.7" y1="738.0" x2="262.7" y2="582.9" stroke="#dedede" stroke-width="2.3"/><line x1="266.6" y1="738.0" x2="266.6" y2="582.8" stroke="#dedede" stroke-width="2.3"/><line x1="270.5" y1="738.0" x2="270.5" y2="582.8" stroke="#dedede" stroke-width="2.3"/><line x1="274.4" y1="738.0" x2="274.4" y2="582.8" stroke="#dedede" stroke-width="2.3"/><line x1="278.3" y1="738.0" x2="278.3" y2="582.8" stroke="#dedede" stroke-width="2.3"/><line x1="282.2" y1="738.0" x2="282.2" y2="582.8" stroke="#dedede" stroke-width="2.3"/><line x1="286.1" y1="738.0" x2="286.1" y2="582.8" stroke="#dedede" stroke-width="2.3"/><line x1="290.0" y1="738.0" x2="290.0" y2="582.8" stroke="#dedede" stroke-width="2.3"/><line x1="293.9" y1="738.0" x2="293.9" y2="582.8" stroke="#dedede" stroke-width="2.3"/><line x1="297.8" y1="738.0" x2="297.8" y2="582.8" stroke="#dedede" stroke-width="2.3"/><line x1="301.7" y1="738.0" x2="301.7" y2="582.8" stroke="#dedede" stroke-width="2.3"/><line x1="305.6" y1="738.0" x2="305.6" y2="582.7" stroke="#dedede" stroke-width="2.3"/><line x1="309.5" y1="738.0" x2="309.5" y2="582.7" stroke="#dedede" stroke-width="2.3"/><line x1="313.4" y1="738.0" x2="313.4" y2="582.7" stroke="#dedede" stroke-width="2.3"/><line x1="317.3" y1="738.0" x2="317.3" y2="582.7" stroke="#dedede" stroke-width="2.3"/>
<text x="44.3" y="575.7" font-size="19.6">PCA eigenvalues</text>
<rect x="873.3" y="553.3" width="299.2" height="190.2" fill="#fff" stroke="#000" stroke-width="1.3"/>
<rect x="884.6" y="571.2" width="17.9" height="172.3" fill="#808080" stroke="#000" stroke-width="1"/><rect x="906.2" y="659.0" width="17.9" height="84.5" fill="#808080" stroke="#000" stroke-width="1"/><rect x="927.8" y="687.1" width="17.9" height="56.4" fill="#dcdcdc" stroke="#000" stroke-width="1"/><rect x="949.4" y="699.3" width="17.9" height="44.2" fill="#ffffff" stroke="#000" stroke-width="1"/><rect x="970.9" y="711.7" width="17.9" height="31.8" fill="#ffffff" stroke="#000" stroke-width="1"/><rect x="992.5" y="716.3" width="17.9" height="27.2" fill="#ffffff" stroke="#000" stroke-width="1"/><rect x="1014.1" y="720.2" width="17.9" height="23.3" fill="#ffffff" stroke="#000" stroke-width="1"/><rect x="1035.6" y="729.6" width="17.9" height="13.9" fill="#ffffff" stroke="#000" stroke-width="1"/><rect x="1057.2" y="734.1" width="17.9" height="9.4" fill="#ffffff" stroke="#000" stroke-width="1"/><rect x="1078.8" y="740.1" width="17.9" height="3.4" fill="#ffffff" stroke="#000" stroke-width="1"/><rect x="1100.3" y="740.9" width="17.9" height="2.6" fill="#ffffff" stroke="#000" stroke-width="1"/><rect x="1121.9" y="741.2" width="17.9" height="2.3" fill="#ffffff" stroke="#000" stroke-width="1"/><rect x="1143.5" y="742.0" width="17.9" height="1.5" fill="#ffffff" stroke="#000" stroke-width="1"/>
<text x="1004.6" y="575.7" font-size="19.6">DA eigenvalues</text>
<rect x="5.3" y="2.7" width="1191.2" height="756" fill="none" stroke="#222" stroke-width="1.5"/>
</g>
<g id="B">
<circle cx="136.9" cy="1330.5" r="10.2" fill="#30c050"/><circle cx="136.9" cy="1320.2" r="10.2" fill="#8a9a80"/><circle cx="136.9" cy="1310.0" r="10.2" fill="#58a888"/><circle cx="136.9" cy="1299.7" r="10.2" fill="#3cb060"/><circle cx="136.9" cy="1289.4" r="10.2" fill="#38b058"/><circle cx="136.9" cy="1279.1" r="10.2" fill="#2ecc60"/><circle cx="161.2" cy="1330.5" r="10.2" fill="#30c048"/><circle cx="161.2" cy="1320.2" r="10.2" fill="#40b850"/><circle cx="161.2" cy="1310.0" r="10.2" fill="#55c045"/><circle cx="161.2" cy="1299.7" r="10.2" fill="#40b850"/><circle cx="161.2" cy="1289.4" r="10.2" fill="#3aa860"/><circle cx="161.2" cy="1279.1" r="10.2" fill="#30c048"/><circle cx="161.2" cy="1268.8" r="10.2" fill="#40b850"/><circle cx="161.2" cy="1258.6" r="10.2" fill="#3aa860"/><circle cx="161.2" cy="1248.3" r="10.2" fill="#40b850"/><circle cx="161.2" cy="1238.0" r="10.2" fill="#3aa860"/><circle cx="161.2" cy="1227.7" r="10.2" fill="#40b850"/><circle cx="161.2" cy="1217.4" r="10.2" fill="#40b850"/><circle cx="161.2" cy="1207.2" r="10.2" fill="#30c048"/><circle cx="161.2" cy="1196.9" r="10.2" fill="#4a8a60"/><circle cx="161.2" cy="1186.6" r="10.2" fill="#40b850"/><circle cx="161.2" cy="1176.3" r="10.2" fill="#40b850"/><circle cx="161.2" cy="1166.0" r="10.2" fill="#55c045"/><circle cx="161.2" cy="1155.8" r="10.2" fill="#2ec858"/><circle cx="161.2" cy="1145.5" r="10.2" fill="#55c045"/><circle cx="161.2" cy="1135.2" r="10.2" fill="#30c048"/><circle cx="161.2" cy="1124.9" r="10.2" fill="#2ec858"/><circle cx="161.2" cy="1114.6" r="10.2" fill="#40b850"/><circle cx="161.2" cy="1104.4" r="10.2" fill="#4a8a60"/><circle cx="161.2" cy="1094.1" r="10.2" fill="#30c048"/><circle cx="161.2" cy="1083.8" r="10.2" fill="#40b850"/><circle cx="161.2" cy="1073.5" r="10.2" fill="#40b850"/><circle cx="161.2" cy="1063.2" r="10.2" fill="#30c048"/><circle cx="161.2" cy="1053.0" r="10.2" fill="#4a8a60"/><circle cx="161.2" cy="1042.7" r="10.2" fill="#40b850"/><circle cx="161.2" cy="1032.4" r="10.2" fill="#55c045"/><circle cx="161.2" cy="1022.1" r="10.2" fill="#55c045"/><circle cx="161.2" cy="1011.8" r="10.2" fill="#30c048"/><circle cx="161.2" cy="1001.6" r="10.2" fill="#3aa860"/><circle cx="161.2" cy="991.3" r="10.2" fill="#40b850"/><circle cx="161.2" cy="981.0" r="10.2" fill="#40b850"/><circle cx="161.2" cy="970.7" r="10.2" fill="#40b850"/><circle cx="161.2" cy="960.4" r="10.2" fill="#40d050"/><circle cx="161.2" cy="950.2" r="10.2" fill="#30c048"/><circle cx="161.2" cy="939.9" r="10.2" fill="#30c048"/><circle cx="161.2" cy="929.6" r="10.2" fill="#55c045"/><circle cx="161.2" cy="919.3" r="10.2" fill="#3aa860"/><circle cx="161.2" cy="909.0" r="10.2" fill="#30c048"/><circle cx="161.2" cy="898.8" r="10.2" fill="#40d050"/><circle cx="161.2" cy="888.5" r="10.2" fill="#40d050"/><circle cx="161.2" cy="878.2" r="10.2" fill="#40b850"/><circle cx="161.2" cy="867.9" r="10.2" fill="#55c045"/><circle cx="161.2" cy="857.6" r="10.2" fill="#3aa860"/><circle cx="161.2" cy="847.4" r="10.2" fill="#70c038"/><circle cx="161.2" cy="837.1" r="10.2" fill="#40d050"/><circle cx="161.2" cy="826.8" r="10.2" fill="#3a9060"/><circle cx="185.5" cy="1330.5" r="10.2" fill="#30d060"/><circle cx="185.5" cy="1320.2" r="10.2" fill="#44a858"/><circle cx="185.5" cy="1310.0" r="10.2" fill="#50c050"/><circle cx="185.5" cy="1299.7" r="10.2" fill="#2e9a50"/><circle cx="185.5" cy="1289.4" r="10.2" fill="#44a858"/><circle cx="185.5" cy="1279.1" r="10.2" fill="#40c848"/><circle cx="185.5" cy="1268.8" r="10.2" fill="#44a858"/><circle cx="185.5" cy="1258.6" r="10.2" fill="#5a7a62"/><circle cx="185.5" cy="1248.3" r="10.2" fill="#2e9a50"/><circle cx="185.5" cy="1238.0" r="10.2" fill="#40c848"/><circle cx="185.5" cy="1227.7" r="10.2" fill="#38b860"/><circle cx="185.5" cy="1217.4" r="10.2" fill="#3a9a68"/><circle cx="185.5" cy="1207.2" r="10.2" fill="#a0d030"/><circle cx="185.5" cy="1196.9" r="10.2" fill="#40c848"/><circle cx="185.5" cy="1186.6" r="10.2" fill="#40c848"/><circle cx="185.5" cy="1176.3" r="10.2" fill="#50c050"/><circle cx="185.5" cy="1166.0" r="10.2" fill="#38b860"/><circle cx="185.5" cy="1155.8" r="10.2" fill="#30d060"/><circle cx="185.5" cy="1145.5" r="10.2" fill="#50c050"/><circle cx="185.5" cy="1135.2" r="10.2" fill="#5a7a62"/><circle cx="185.5" cy="1124.9" r="10.2" fill="#44a858"/><circle cx="185.5" cy="1114.6" r="10.2" fill="#a0d030"/><circle cx="185.5" cy="1104.4" r="10.2" fill="#5a7a62"/><circle cx="185.5" cy="1094.1" r="10.2" fill="#30d060"/><circle cx="185.5" cy="1083.8" r="10.2" fill="#38b860"/><circle cx="185.5" cy="1073.5" r="10.2" fill="#3a9a68"/><circle cx="185.5" cy="1063.2" r="10.2" fill="#50c050"/><circle cx="185.5" cy="1053.0" r="10.2" fill="#5a7a62"/><circle cx="185.5" cy="1042.7" r="10.2" fill="#44a858"/><circle cx="185.5" cy="1032.4" r="10.2" fill="#50c050"/><circle cx="185.5" cy="1022.1" r="10.2" fill="#44a858"/><circle cx="185.5" cy="1011.8" r="10.2" fill="#44a858"/><circle cx="185.5" cy="1001.6" r="10.2" fill="#44a858"/><circle cx="185.5" cy="991.3" r="10.2" fill="#2e9a50"/><circle cx="185.5" cy="981.0" r="10.2" fill="#44a858"/><circle cx="185.5" cy="970.7" r="10.2" fill="#3a9a68"/><circle cx="185.5" cy="960.4" r="10.2" fill="#50c050"/><circle cx="185.5" cy="950.2" r="10.2" fill="#38b860"/><circle cx="185.5" cy="939.9" r="10.2" fill="#44a858"/><circle cx="185.5" cy="929.6" r="10.2" fill="#507a68"/><circle cx="209.8" cy="1330.5" r="10.2" fill="#28c880"/><circle cx="209.8" cy="1320.2" r="10.2" fill="#40c070"/><circle cx="209.8" cy="1310.0" r="10.2" fill="#30d060"/><circle cx="209.8" cy="1299.7" r="10.2" fill="#40c070"/><circle cx="209.8" cy="1289.4" r="10.2" fill="#22d868"/><circle cx="209.8" cy="1279.1" r="10.2" fill="#18e070"/><circle cx="209.8" cy="1268.8" r="10.2" fill="#18e070"/><circle cx="209.8" cy="1258.6" r="10.2" fill="#40c070"/><circle cx="209.8" cy="1248.3" r="10.2" fill="#10e858"/><circle cx="209.8" cy="1238.0" r="10.2" fill="#22d868"/><circle cx="209.8" cy="1227.7" r="10.2" fill="#22d868"/><circle cx="209.8" cy="1217.4" r="10.2" fill="#22d868"/><circle cx="209.8" cy="1207.2" r="10.2" fill="#22d868"/><circle cx="209.8" cy="1196.9" r="10.2" fill="#18e070"/><circle cx="209.8" cy="1186.6" r="10.2" fill="#28c880"/><circle cx="209.8" cy="1176.3" r="10.2" fill="#22d868"/><circle cx="209.8" cy="1166.0" r="10.2" fill="#22d868"/><circle cx="209.8" cy="1155.8" r="10.2" fill="#18e070"/><circle cx="209.8" cy="1145.5" r="10.2" fill="#18e070"/><circle cx="209.8" cy="1135.2" r="10.2" fill="#28c880"/><circle cx="209.8" cy="1124.9" r="10.2" fill="#10e858"/><circle cx="209.8" cy="1114.6" r="10.2" fill="#30d060"/><circle cx="209.8" cy="1104.4" r="10.2" fill="#18e070"/><circle cx="209.8" cy="1094.1" r="10.2" fill="#28c880"/><circle cx="209.8" cy="1083.8" r="10.2" fill="#28c880"/><circle cx="209.8" cy="1073.5" r="10.2" fill="#22d868"/><circle cx="209.8" cy="1063.2" r="10.2" fill="#40c070"/><circle cx="209.8" cy="1053.0" r="10.2" fill="#30d060"/><circle cx="209.8" cy="1042.7" r="10.2" fill="#40c070"/><circle cx="209.8" cy="1032.4" r="10.2" fill="#30d060"/><circle cx="209.8" cy="1022.1" r="10.2" fill="#18e070"/><circle cx="209.8" cy="1011.8" r="10.2" fill="#18e070"/><circle cx="209.8" cy="1001.6" r="10.2" fill="#22d868"/><circle cx="209.8" cy="991.3" r="10.2" fill="#28c880"/><circle cx="209.8" cy="981.0" r="10.2" fill="#22d868"/><circle cx="209.8" cy="970.7" r="10.2" fill="#22d868"/><circle cx="209.8" cy="960.4" r="10.2" fill="#22d868"/><circle cx="209.8" cy="950.2" r="10.2" fill="#22d868"/><circle cx="209.8" cy="939.9" r="10.2" fill="#18e070"/><circle cx="209.8" cy="929.6" r="10.2" fill="#22d868"/><circle cx="209.8" cy="919.3" r="10.2" fill="#22d868"/><circle cx="209.8" cy="909.0" r="10.2" fill="#22d868"/><circle cx="209.8" cy="898.8" r="10.2" fill="#22d868"/><circle cx="209.8" cy="888.5" r="10.2" fill="#18e070"/><circle cx="209.8" cy="878.2" r="10.2" fill="#22d868"/><circle cx="209.8" cy="867.9" r="10.2" fill="#40c070"/><circle cx="209.8" cy="857.6" r="10.2" fill="#28c880"/><circle cx="209.8" cy="847.4" r="10.2" fill="#22d868"/><circle cx="209.8" cy="837.1" r="10.2" fill="#22d868"/><circle cx="209.8" cy="826.8" r="10.2" fill="#18e070"/><circle cx="234.0" cy="1330.5" r="10.2" fill="#40e080"/><circle cx="234.0" cy="1320.2" r="10.2" fill="#30d070"/><circle cx="234.0" cy="1310.0" r="10.2" fill="#50b070"/><circle cx="234.0" cy="1299.7" r="10.2" fill="#20e070"/><circle cx="234.0" cy="1289.4" r="10.2" fill="#40e080"/><circle cx="234.0" cy="1279.1" r="10.2" fill="#40e080"/><circle cx="234.0" cy="1268.8" r="10.2" fill="#30d070"/><circle cx="234.0" cy="1258.6" r="10.2" fill="#30d070"/><circle cx="234.0" cy="1248.3" r="10.2" fill="#40e080"/><circle cx="234.0" cy="1238.0" r="10.2" fill="#30d070"/><circle cx="234.0" cy="1227.7" r="10.2" fill="#38c070"/><circle cx="234.0" cy="1217.4" r="10.2" fill="#30d070"/><circle cx="234.0" cy="1207.2" r="10.2" fill="#30d070"/><circle cx="234.0" cy="1196.9" r="10.2" fill="#20e070"/><circle cx="234.0" cy="1186.6" r="10.2" fill="#40e080"/><circle cx="234.0" cy="1176.3" r="10.2" fill="#30d070"/><circle cx="234.0" cy="1166.0" r="10.2" fill="#28c878"/><circle cx="234.0" cy="1155.8" r="10.2" fill="#30d070"/><circle cx="234.0" cy="1145.5" r="10.2" fill="#40e080"/><circle cx="234.0" cy="1135.2" r="10.2" fill="#20e070"/><circle cx="234.0" cy="1124.9" r="10.2" fill="#50b070"/><circle cx="234.0" cy="1114.6" r="10.2" fill="#38c070"/><circle cx="234.0" cy="1104.4" r="10.2" fill="#30d070"/><circle cx="234.0" cy="1094.1" r="10.2" fill="#40e080"/><circle cx="234.0" cy="1083.8" r="10.2" fill="#30d070"/><circle cx="234.0" cy="1073.5" r="10.2" fill="#38c070"/><circle cx="234.0" cy="1063.2" r="10.2" fill="#40e080"/><circle cx="234.0" cy="1053.0" r="10.2" fill="#38c070"/><circle cx="234.0" cy="1042.7" r="10.2" fill="#40e080"/><circle cx="234.0" cy="1032.4" r="10.2" fill="#30d070"/><circle cx="234.0" cy="1022.1" r="10.2" fill="#38c070"/><circle cx="234.0" cy="1011.8" r="10.2" fill="#20e070"/><circle cx="234.0" cy="1001.6" r="10.2" fill="#50b070"/><circle cx="234.0" cy="991.3" r="10.2" fill="#38c070"/><circle cx="234.0" cy="981.0" r="10.2" fill="#38c070"/><circle cx="234.0" cy="970.7" r="10.2" fill="#38c070"/><circle cx="234.0" cy="960.4" r="10.2" fill="#30d070"/><circle cx="234.0" cy="950.2" r="10.2" fill="#40e080"/><circle cx="234.0" cy="939.9" r="10.2" fill="#40e080"/><circle cx="234.0" cy="929.6" r="10.2" fill="#30d070"/><circle cx="234.0" cy="919.3" r="10.2" fill="#30d070"/><circle cx="234.0" cy="909.0" r="10.2" fill="#30d070"/><circle cx="234.0" cy="898.8" r="10.2" fill="#30d070"/><circle cx="234.0" cy="888.5" r="10.2" fill="#38c070"/><circle cx="234.0" cy="878.2" r="10.2" fill="#20e070"/><circle cx="234.0" cy="867.9" r="10.2" fill="#40e080"/><circle cx="234.0" cy="857.6" r="10.2" fill="#20e070"/><circle cx="234.0" cy="847.4" r="10.2" fill="#20e070"/><circle cx="234.0" cy="837.1" r="10.2" fill="#20e070"/><circle cx="234.0" cy="826.8" r="10.2" fill="#40e080"/><circle cx="258.3" cy="1330.5" r="10.2" fill="#28d870"/><circle cx="258.3" cy="1320.2" r="10.2" fill="#28d870"/><circle cx="258.3" cy="1310.0" r="10.2" fill="#28d870"/><circle cx="258.3" cy="1299.7" r="10.2" fill="#28d870"/><circle cx="258.3" cy="1289.4" r="10.2" fill="#20c060"/><circle cx="258.3" cy="1279.1" r="10.2" fill="#30e060"/><circle cx="258.3" cy="1268.8" r="10.2" fill="#50e070"/><circle cx="258.3" cy="1258.6" r="10.2" fill="#40d880"/><circle cx="258.3" cy="1248.3" r="10.2" fill="#20c060"/><circle cx="258.3" cy="1238.0" r="10.2" fill="#20c060"/><circle cx="258.3" cy="1227.7" r="10.2" fill="#28d870"/><circle cx="258.3" cy="1217.4" r="10.2" fill="#20c060"/><circle cx="258.3" cy="1207.2" r="10.2" fill="#30e060"/><circle cx="258.3" cy="1196.9" r="10.2" fill="#20c060"/><circle cx="258.3" cy="1186.6" r="10.2" fill="#20c060"/><circle cx="258.3" cy="1176.3" r="10.2" fill="#40d880"/><circle cx="258.3" cy="1166.0" r="10.2" fill="#28d870"/><circle cx="258.3" cy="1155.8" r="10.2" fill="#20c060"/><circle cx="258.3" cy="1145.5" r="10.2" fill="#28d870"/><circle cx="258.3" cy="1135.2" r="10.2" fill="#50e070"/><circle cx="258.3" cy="1124.9" r="10.2" fill="#30e060"/><circle cx="258.3" cy="1114.6" r="10.2" fill="#28d870"/><circle cx="258.3" cy="1104.4" r="10.2" fill="#40d880"/><circle cx="258.3" cy="1094.1" r="10.2" fill="#30e060"/><circle cx="258.3" cy="1083.8" r="10.2" fill="#20c060"/><circle cx="258.3" cy="1073.5" r="10.2" fill="#28d870"/><circle cx="258.3" cy="1063.2" r="10.2" fill="#28d870"/><circle cx="258.3" cy="1053.0" r="10.2" fill="#28d870"/><circle cx="258.3" cy="1042.7" r="10.2" fill="#10c858"/><circle cx="282.6" cy="1330.5" r="10.2" fill="#40c870"/><circle cx="282.6" cy="1320.2" r="10.2" fill="#30d878"/><circle cx="282.6" cy="1310.0" r="10.2" fill="#60e060"/><circle cx="282.6" cy="1299.7" r="10.2" fill="#30c060"/><circle cx="282.6" cy="1289.4" r="10.2" fill="#40c870"/><circle cx="282.6" cy="1279.1" r="10.2" fill="#30d878"/><circle cx="282.6" cy="1268.8" r="10.2" fill="#20e080"/><circle cx="282.6" cy="1258.6" r="10.2" fill="#30d878"/><circle cx="282.6" cy="1248.3" r="10.2" fill="#30d878"/><circle cx="282.6" cy="1238.0" r="10.2" fill="#30c060"/><circle cx="282.6" cy="1227.7" r="10.2" fill="#40c870"/><circle cx="282.6" cy="1217.4" r="10.2" fill="#20e080"/><circle cx="282.6" cy="1207.2" r="10.2" fill="#30c060"/><circle cx="282.6" cy="1196.9" r="10.2" fill="#20e080"/><circle cx="282.6" cy="1186.6" r="10.2" fill="#60e060"/><circle cx="282.6" cy="1176.3" r="10.2" fill="#60e060"/><circle cx="282.6" cy="1166.0" r="10.2" fill="#30d878"/><circle cx="282.6" cy="1155.8" r="10.2" fill="#30d878"/><circle cx="282.6" cy="1145.5" r="10.2" fill="#30d878"/><circle cx="282.6" cy="1135.2" r="10.2" fill="#30d878"/><circle cx="282.6" cy="1124.9" r="10.2" fill="#20e080"/><circle cx="282.6" cy="1114.6" r="10.2" fill="#30d878"/><circle cx="282.6" cy="1104.4" r="10.2" fill="#20e080"/><circle cx="282.6" cy="1094.1" r="10.2" fill="#30d878"/><circle cx="282.6" cy="1083.8" r="10.2" fill="#30c060"/><circle cx="282.6" cy="1073.5" r="10.2" fill="#30d878"/><circle cx="282.6" cy="1063.2" r="10.2" fill="#20e080"/><circle cx="282.6" cy="1053.0" r="10.2" fill="#20e080"/><circle cx="282.6" cy="1042.7" r="10.2" fill="#60e060"/><circle cx="282.6" cy="1032.4" r="10.2" fill="#20e080"/><circle cx="282.6" cy="1022.1" r="10.2" fill="#18d888"/><circle cx="306.9" cy="1330.5" r="10.2" fill="#60c030"/><circle cx="306.9" cy="1320.2" r="10.2" fill="#60c030"/><circle cx="306.9" cy="1310.0" r="10.2" fill="#60c030"/><circle cx="306.9" cy="1299.7" r="10.2" fill="#40c040"/><circle cx="306.9" cy="1289.4" r="10.2" fill="#60c030"/><circle cx="306.9" cy="1279.1" r="10.2" fill="#40c040"/><circle cx="306.9" cy="1268.8" r="10.2" fill="#40c040"/><circle cx="306.9" cy="1258.6" r="10.2" fill="#50a848"/><circle cx="306.9" cy="1248.3" r="10.2" fill="#40c040"/><circle cx="306.9" cy="1238.0" r="10.2" fill="#60c030"/><circle cx="306.9" cy="1227.7" r="10.2" fill="#50a848"/><circle cx="306.9" cy="1217.4" r="10.2" fill="#60c030"/><circle cx="306.9" cy="1207.2" r="10.2" fill="#30b048"/><circle cx="306.9" cy="1196.9" r="10.2" fill="#60c030"/><circle cx="306.9" cy="1186.6" r="10.2" fill="#60c030"/><circle cx="306.9" cy="1176.3" r="10.2" fill="#50a848"/><circle cx="306.9" cy="1166.0" r="10.2" fill="#40c040"/><circle cx="306.9" cy="1155.8" r="10.2" fill="#28c040"/><circle cx="306.9" cy="1145.5" r="10.2" fill="#30b048"/><circle cx="306.9" cy="1135.2" r="10.2" fill="#30b048"/><circle cx="306.9" cy="1124.9" r="10.2" fill="#50a848"/><circle cx="306.9" cy="1114.6" r="10.2" fill="#60c030"/><circle cx="306.9" cy="1104.4" r="10.2" fill="#28c040"/><circle cx="306.9" cy="1094.1" r="10.2" fill="#50a848"/><circle cx="306.9" cy="1083.8" r="10.2" fill="#80a050"/><circle cx="306.9" cy="1073.5" r="10.2" fill="#60c030"/><circle cx="306.9" cy="1063.2" r="10.2" fill="#28c040"/><circle cx="306.9" cy="1053.0" r="10.2" fill="#60c030"/><circle cx="306.9" cy="1042.7" r="10.2" fill="#60c030"/><circle cx="306.9" cy="1032.4" r="10.2" fill="#28c040"/><circle cx="306.9" cy="1022.1" r="10.2" fill="#60c030"/><circle cx="306.9" cy="1011.8" r="10.2" fill="#70c030"/><circle cx="331.2" cy="1330.5" r="10.2" fill="#80c820"/><circle cx="331.2" cy="1320.2" r="10.2" fill="#706a30"/><circle cx="331.2" cy="1310.0" r="10.2" fill="#309a40"/><circle cx="331.2" cy="1299.7" r="10.2" fill="#8a9a40"/><circle cx="331.2" cy="1289.4" r="10.2" fill="#706a30"/><circle cx="331.2" cy="1279.1" r="10.2" fill="#60b030"/><circle cx="331.2" cy="1268.8" r="10.2" fill="#309a40"/><circle cx="331.2" cy="1258.6" r="10.2" fill="#706a30"/><circle cx="331.2" cy="1248.3" r="10.2" fill="#50c040"/><circle cx="331.2" cy="1238.0" r="10.2" fill="#40b040"/><circle cx="331.2" cy="1227.7" r="10.2" fill="#40b040"/><circle cx="331.2" cy="1217.4" r="10.2" fill="#80c820"/><circle cx="331.2" cy="1207.2" r="10.2" fill="#40b040"/><circle cx="331.2" cy="1196.9" r="10.2" fill="#60b030"/><circle cx="331.2" cy="1186.6" r="10.2" fill="#40b040"/><circle cx="331.2" cy="1176.3" r="10.2" fill="#309a40"/><circle cx="331.2" cy="1166.0" r="10.2" fill="#50c040"/><circle cx="331.2" cy="1155.8" r="10.2" fill="#8a9a40"/><circle cx="331.2" cy="1145.5" r="10.2" fill="#40b040"/><circle cx="331.2" cy="1135.2" r="10.2" fill="#50c040"/><circle cx="331.2" cy="1124.9" r="10.2" fill="#309a40"/><circle cx="331.2" cy="1114.6" r="10.2" fill="#40b040"/><circle cx="331.2" cy="1104.4" r="10.2" fill="#8a9a40"/><circle cx="331.2" cy="1094.1" r="10.2" fill="#a0d030"/><circle cx="331.2" cy="1083.8" r="10.2" fill="#28904a"/><circle cx="355.5" cy="1330.5" r="10.2" fill="#4a8a60"/><circle cx="355.5" cy="1320.2" r="10.2" fill="#60c040"/><circle cx="355.5" cy="1310.0" r="10.2" fill="#309a40"/><circle cx="355.5" cy="1299.7" r="10.2" fill="#4a8a60"/><circle cx="355.5" cy="1289.4" r="10.2" fill="#80a040"/><circle cx="355.5" cy="1279.1" r="10.2" fill="#40b050"/><circle cx="355.5" cy="1268.8" r="10.2" fill="#60c040"/><circle cx="355.5" cy="1258.6" r="10.2" fill="#309a40"/><circle cx="355.5" cy="1248.3" r="10.2" fill="#60c040"/><circle cx="355.5" cy="1238.0" r="10.2" fill="#40b050"/><circle cx="355.5" cy="1227.7" r="10.2" fill="#60c040"/><circle cx="355.5" cy="1217.4" r="10.2" fill="#50d050"/><circle cx="355.5" cy="1207.2" r="10.2" fill="#40b050"/><circle cx="355.5" cy="1196.9" r="10.2" fill="#309a40"/><circle cx="355.5" cy="1186.6" r="10.2" fill="#60c040"/><circle cx="355.5" cy="1176.3" r="10.2" fill="#40b050"/><circle cx="355.5" cy="1166.0" r="10.2" fill="#60c040"/><circle cx="355.5" cy="1155.8" r="10.2" fill="#309a40"/><circle cx="355.5" cy="1145.5" r="10.2" fill="#309a40"/><circle cx="355.5" cy="1135.2" r="10.2" fill="#40b050"/><circle cx="355.5" cy="1124.9" r="10.2" fill="#88a030"/><circle cx="379.8" cy="1330.5" r="10.2" fill="#308a50"/><circle cx="379.8" cy="1320.2" r="10.2" fill="#405a70"/><circle cx="379.8" cy="1310.0" r="10.2" fill="#3a9a60"/><circle cx="379.8" cy="1299.7" r="10.2" fill="#3a9a60"/><circle cx="379.8" cy="1289.4" r="10.2" fill="#3a9a60"/><circle cx="379.8" cy="1279.1" r="10.2" fill="#308a50"/><circle cx="379.8" cy="1268.8" r="10.2" fill="#3a9a60"/><circle cx="379.8" cy="1258.6" r="10.2" fill="#3a9a60"/><circle cx="379.8" cy="1248.3" r="10.2" fill="#4a8a70"/><circle cx="379.8" cy="1238.0" r="10.2" fill="#607a70"/><circle cx="379.8" cy="1227.7" r="10.2" fill="#308a50"/><circle cx="379.8" cy="1217.4" r="10.2" fill="#3a9a60"/><circle cx="379.8" cy="1207.2" r="10.2" fill="#3a9a60"/><circle cx="379.8" cy="1196.9" r="10.2" fill="#607a70"/><circle cx="379.8" cy="1186.6" r="10.2" fill="#30c050"/><circle cx="379.8" cy="1176.3" r="10.2" fill="#308a50"/><circle cx="379.8" cy="1166.0" r="10.2" fill="#3a9a60"/><circle cx="379.8" cy="1155.8" r="10.2" fill="#3a9a60"/><circle cx="379.8" cy="1145.5" r="10.2" fill="#308a50"/><circle cx="379.8" cy="1135.2" r="10.2" fill="#20a040"/><circle cx="404.0" cy="1330.5" r="10.2" fill="#780a48"/><circle cx="404.0" cy="1320.2" r="10.2" fill="#4a8a50"/><circle cx="404.0" cy="1310.0" r="10.2" fill="#6a0040"/><circle cx="404.0" cy="1299.7" r="10.2" fill="#802050"/><circle cx="404.0" cy="1289.4" r="10.2" fill="#780a48"/><circle cx="404.0" cy="1279.1" r="10.2" fill="#8a4050"/><circle cx="404.0" cy="1268.8" r="10.2" fill="#780a48"/><circle cx="404.0" cy="1258.6" r="10.2" fill="#8a4050"/><circle cx="404.0" cy="1248.3" r="10.2" fill="#780a48"/><circle cx="404.0" cy="1238.0" r="10.2" fill="#780a48"/><circle cx="404.0" cy="1227.7" r="10.2" fill="#6a0040"/><circle cx="404.0" cy="1217.4" r="10.2" fill="#4a8a50"/><circle cx="404.0" cy="1207.2" r="10.2" fill="#780a48"/><circle cx="404.0" cy="1196.9" r="10.2" fill="#780a48"/><circle cx="404.0" cy="1186.6" r="10.2" fill="#6a0040"/><circle cx="404.0" cy="1176.3" r="10.2" fill="#780a48"/><circle cx="404.0" cy="1166.0" r="10.2" fill="#780a48"/><circle cx="404.0" cy="1155.8" r="10.2" fill="#780a48"/><circle cx="404.0" cy="1145.5" r="10.2" fill="#780a48"/><circle cx="404.0" cy="1135.2" r="10.2" fill="#780a48"/><circle cx="404.0" cy="1124.9" r="10.2" fill="#780a48"/><circle cx="404.0" cy="1114.6" r="10.2" fill="#780a48"/><circle cx="404.0" cy="1104.4" r="10.2" fill="#802050"/><circle cx="404.0" cy="1094.1" r="10.2" fill="#780a48"/><circle cx="404.0" cy="1083.8" r="10.2" fill="#6a0040"/><circle cx="404.0" cy="1073.5" r="10.2" fill="#780a48"/><circle cx="404.0" cy="1063.2" r="10.2" fill="#780a48"/><circle cx="404.0" cy="1053.0" r="10.2" fill="#780a48"/><circle cx="404.0" cy="1042.7" r="10.2" fill="#780a48"/><circle cx="404.0" cy="1032.4" r="10.2" fill="#680038"/><circle cx="428.3" cy="1330.5" r="10.2" fill="#802858"/><circle cx="428.3" cy="1320.2" r="10.2" fill="#802858"/><circle cx="428.3" cy="1310.0" r="10.2" fill="#780a48"/><circle cx="428.3" cy="1299.7" r="10.2" fill="#780a48"/><circle cx="428.3" cy="1289.4" r="10.2" fill="#6a2040"/><circle cx="428.3" cy="1279.1" r="10.2" fill="#780a48"/><circle cx="428.3" cy="1268.8" r="10.2" fill="#802858"/><circle cx="428.3" cy="1258.6" r="10.2" fill="#780a48"/><circle cx="428.3" cy="1248.3" r="10.2" fill="#780a48"/><circle cx="428.3" cy="1238.0" r="10.2" fill="#802858"/><circle cx="428.3" cy="1227.7" r="10.2" fill="#780a48"/><circle cx="428.3" cy="1217.4" r="10.2" fill="#780a48"/><circle cx="428.3" cy="1207.2" r="10.2" fill="#802858"/><circle cx="428.3" cy="1196.9" r="10.2" fill="#4a8a50"/><circle cx="428.3" cy="1186.6" r="10.2" fill="#780a48"/><circle cx="428.3" cy="1176.3" r="10.2" fill="#802858"/><circle cx="428.3" cy="1166.0" r="10.2" fill="#802858"/><circle cx="428.3" cy="1155.8" r="10.2" fill="#802858"/><circle cx="428.3" cy="1145.5" r="10.2" fill="#780a48"/><circle cx="428.3" cy="1135.2" r="10.2" fill="#6a0a40"/><circle cx="452.6" cy="1330.5" r="10.2" fill="#780a48"/><circle cx="452.6" cy="1320.2" r="10.2" fill="#780a48"/><circle cx="452.6" cy="1310.0" r="10.2" fill="#780a48"/><circle cx="452.6" cy="1299.7" r="10.2" fill="#802858"/><circle cx="452.6" cy="1289.4" r="10.2" fill="#780a48"/><circle cx="452.6" cy="1279.1" r="10.2" fill="#780a48"/><circle cx="452.6" cy="1268.8" r="10.2" fill="#780a48"/><circle cx="452.6" cy="1258.6" r="10.2" fill="#6a0040"/><circle cx="452.6" cy="1248.3" r="10.2" fill="#6a0040"/><circle cx="452.6" cy="1238.0" r="10.2" fill="#802858"/><circle cx="452.6" cy="1227.7" r="10.2" fill="#780a48"/><circle cx="452.6" cy="1217.4" r="10.2" fill="#780a48"/><circle cx="452.6" cy="1207.2" r="10.2" fill="#780a48"/><circle cx="452.6" cy="1196.9" r="10.2" fill="#780a48"/><circle cx="452.6" cy="1186.6" r="10.2" fill="#780a48"/><circle cx="452.6" cy="1176.3" r="10.2" fill="#780a48"/><circle cx="452.6" cy="1166.0" r="10.2" fill="#780a48"/><circle cx="452.6" cy="1155.8" r="10.2" fill="#8a3060"/><circle cx="452.6" cy="1145.5" r="10.2" fill="#8a3060"/><circle cx="452.6" cy="1135.2" r="10.2" fill="#802858"/><circle cx="452.6" cy="1124.9" r="10.2" fill="#780a48"/><circle cx="452.6" cy="1114.6" r="10.2" fill="#8a3060"/><circle cx="452.6" cy="1104.4" r="10.2" fill="#780a48"/><circle cx="452.6" cy="1094.1" r="10.2" fill="#780a48"/><circle cx="452.6" cy="1083.8" r="10.2" fill="#780a48"/><circle cx="452.6" cy="1073.5" r="10.2" fill="#780a48"/><circle cx="452.6" cy="1063.2" r="10.2" fill="#780a48"/><circle cx="452.6" cy="1053.0" r="10.2" fill="#802858"/><circle cx="452.6" cy="1042.7" r="10.2" fill="#780a48"/><circle cx="452.6" cy="1032.4" r="10.2" fill="#802858"/><circle cx="452.6" cy="1022.1" r="10.2" fill="#780a48"/><circle cx="452.6" cy="1011.8" r="10.2" fill="#780a48"/><circle cx="452.6" cy="1001.6" r="10.2" fill="#780a48"/><circle cx="452.6" cy="991.3" r="10.2" fill="#780a48"/><circle cx="452.6" cy="981.0" r="10.2" fill="#780a48"/><circle cx="452.6" cy="970.7" r="10.2" fill="#780a48"/><circle cx="476.9" cy="1330.5" r="10.2" fill="#d07820"/><circle cx="476.9" cy="1320.2" r="10.2" fill="#d07820"/><circle cx="476.9" cy="1310.0" r="10.2" fill="#d07820"/><circle cx="476.9" cy="1299.7" r="10.2" fill="#d07820"/><circle cx="476.9" cy="1289.4" r="10.2" fill="#c88030"/><circle cx="476.9" cy="1279.1" r="10.2" fill="#c88030"/><circle cx="476.9" cy="1268.8" r="10.2" fill="#c88030"/><circle cx="476.9" cy="1258.6" r="10.2" fill="#c8802a"/><circle cx="476.9" cy="1248.3" r="10.2" fill="#d07820"/><circle cx="476.9" cy="1238.0" r="10.2" fill="#d07820"/><circle cx="476.9" cy="1227.7" r="10.2" fill="#b87040"/><circle cx="476.9" cy="1217.4" r="10.2" fill="#d07820"/><circle cx="476.9" cy="1207.2" r="10.2" fill="#c88030"/><circle cx="476.9" cy="1196.9" r="10.2" fill="#c88030"/><circle cx="476.9" cy="1186.6" r="10.2" fill="#d07820"/><circle cx="476.9" cy="1176.3" r="10.2" fill="#c88030"/><circle cx="476.9" cy="1166.0" r="10.2" fill="#c8802a"/><circle cx="476.9" cy="1155.8" r="10.2" fill="#c88030"/><circle cx="476.9" cy="1145.5" r="10.2" fill="#c88030"/><circle cx="476.9" cy="1135.2" r="10.2" fill="#c88030"/><circle cx="476.9" cy="1124.9" r="10.2" fill="#d07820"/><circle cx="476.9" cy="1114.6" r="10.2" fill="#d07820"/><circle cx="476.9" cy="1104.4" r="10.2" fill="#d07820"/><circle cx="476.9" cy="1094.1" r="10.2" fill="#c88030"/><circle cx="476.9" cy="1083.8" r="10.2" fill="#c88030"/><circle cx="476.9" cy="1073.5" r="10.2" fill="#d07820"/><circle cx="501.2" cy="1330.5" r="10.2" fill="#b09080"/><circle cx="501.2" cy="1320.2" r="10.2" fill="#707050"/><circle cx="501.2" cy="1310.0" r="10.2" fill="#a07040"/><circle cx="501.2" cy="1299.7" r="10.2" fill="#a07040"/><circle cx="501.2" cy="1289.4" r="10.2" fill="#b07030"/><circle cx="501.2" cy="1279.1" r="10.2" fill="#b07030"/><circle cx="501.2" cy="1268.8" r="10.2" fill="#b07030"/><circle cx="501.2" cy="1258.6" r="10.2" fill="#c08030"/><circle cx="501.2" cy="1248.3" r="10.2" fill="#b07030"/><circle cx="501.2" cy="1238.0" r="10.2" fill="#707050"/><circle cx="501.2" cy="1227.7" r="10.2" fill="#6a9a50"/><circle cx="501.2" cy="1217.4" r="10.2" fill="#b09080"/><circle cx="501.2" cy="1207.2" r="10.2" fill="#b09080"/><circle cx="501.2" cy="1196.9" r="10.2" fill="#a07040"/><circle cx="501.2" cy="1186.6" r="10.2" fill="#8a5a40"/><circle cx="501.2" cy="1176.3" r="10.2" fill="#b07030"/><circle cx="501.2" cy="1166.0" r="10.2" fill="#a07040"/><circle cx="501.2" cy="1155.8" r="10.2" fill="#a07040"/><circle cx="501.2" cy="1145.5" r="10.2" fill="#6a9a50"/><circle cx="501.2" cy="1135.2" r="10.2" fill="#6a9a50"/><circle cx="501.2" cy="1124.9" r="10.2" fill="#b09080"/><circle cx="501.2" cy="1114.6" r="10.2" fill="#b07030"/><circle cx="501.2" cy="1104.4" r="10.2" fill="#a07040"/><circle cx="501.2" cy="1094.1" r="10.2" fill="#c08030"/><circle cx="501.2" cy="1083.8" r="10.2" fill="#b07030"/><circle cx="501.2" cy="1073.5" r="10.2" fill="#c08030"/><circle cx="501.2" cy="1063.2" r="10.2" fill="#a07040"/><circle cx="501.2" cy="1053.0" r="10.2" fill="#b07030"/><circle cx="501.2" cy="1042.7" r="10.2" fill="#a07040"/><circle cx="501.2" cy="1032.4" r="10.2" fill="#a86830"/><circle cx="525.5" cy="1330.5" r="10.2" fill="#d07820"/><circle cx="525.5" cy="1320.2" r="10.2" fill="#d07820"/><circle cx="525.5" cy="1310.0" r="10.2" fill="#d07820"/><circle cx="525.5" cy="1299.7" r="10.2" fill="#c88030"/><circle cx="525.5" cy="1289.4" r="10.2" fill="#c88030"/><circle cx="525.5" cy="1279.1" r="10.2" fill="#c88030"/><circle cx="525.5" cy="1268.8" r="10.2" fill="#c88030"/><circle cx="525.5" cy="1258.6" r="10.2" fill="#d07820"/><circle cx="525.5" cy="1248.3" r="10.2" fill="#d07820"/><circle cx="525.5" cy="1238.0" r="10.2" fill="#d07820"/><circle cx="525.5" cy="1227.7" r="10.2" fill="#c88030"/><circle cx="525.5" cy="1217.4" r="10.2" fill="#d07820"/><circle cx="525.5" cy="1207.2" r="10.2" fill="#c88030"/><circle cx="525.5" cy="1196.9" r="10.2" fill="#d07820"/><circle cx="525.5" cy="1186.6" r="10.2" fill="#d07820"/><circle cx="525.5" cy="1176.3" r="10.2" fill="#d07820"/><circle cx="525.5" cy="1166.0" r="10.2" fill="#c88030"/><circle cx="525.5" cy="1155.8" r="10.2" fill="#c88030"/><circle cx="525.5" cy="1145.5" r="10.2" fill="#c88030"/><circle cx="525.5" cy="1135.2" r="10.2" fill="#d07820"/><circle cx="525.5" cy="1124.9" r="10.2" fill="#d07820"/><circle cx="525.5" cy="1114.6" r="10.2" fill="#d07820"/><circle cx="525.5" cy="1104.4" r="10.2" fill="#d07820"/><circle cx="525.5" cy="1094.1" r="10.2" fill="#d07820"/><circle cx="525.5" cy="1083.8" r="10.2" fill="#d88030"/><circle cx="549.7" cy="1330.5" r="10.2" fill="#b06030"/><circle cx="549.7" cy="1320.2" r="10.2" fill="#5a9a50"/><circle cx="549.7" cy="1310.0" r="10.2" fill="#c09060"/><circle cx="549.7" cy="1299.7" r="10.2" fill="#b06030"/><circle cx="549.7" cy="1289.4" r="10.2" fill="#6a8a50"/><circle cx="549.7" cy="1279.1" r="10.2" fill="#a06830"/><circle cx="549.7" cy="1268.8" r="10.2" fill="#5a9a50"/><circle cx="549.7" cy="1258.6" r="10.2" fill="#6a8a50"/><circle cx="549.7" cy="1248.3" r="10.2" fill="#c08050"/><circle cx="549.7" cy="1238.0" r="10.2" fill="#b06030"/><circle cx="549.7" cy="1227.7" r="10.2" fill="#c09060"/><circle cx="549.7" cy="1217.4" r="10.2" fill="#b06030"/><circle cx="549.7" cy="1207.2" r="10.2" fill="#7a5040"/><circle cx="549.7" cy="1196.9" r="10.2" fill="#b06030"/><circle cx="549.7" cy="1186.6" r="10.2" fill="#7a5040"/><circle cx="549.7" cy="1176.3" r="10.2" fill="#c09060"/><circle cx="549.7" cy="1166.0" r="10.2" fill="#b06030"/><circle cx="549.7" cy="1155.8" r="10.2" fill="#a06830"/><circle cx="549.7" cy="1145.5" r="10.2" fill="#6a8a50"/><circle cx="549.7" cy="1135.2" r="10.2" fill="#c09060"/><circle cx="549.7" cy="1124.9" r="10.2" fill="#a06830"/><circle cx="549.7" cy="1114.6" r="10.2" fill="#b06030"/><circle cx="549.7" cy="1104.4" r="10.2" fill="#c09060"/><circle cx="549.7" cy="1094.1" r="10.2" fill="#6a8a50"/><circle cx="549.7" cy="1083.8" r="10.2" fill="#b06030"/><circle cx="549.7" cy="1073.5" r="10.2" fill="#b06030"/><circle cx="549.7" cy="1063.2" r="10.2" fill="#6a8a50"/><circle cx="549.7" cy="1053.0" r="10.2" fill="#6a8a50"/><circle cx="549.7" cy="1042.7" r="10.2" fill="#c08050"/><circle cx="549.7" cy="1032.4" r="10.2" fill="#b06820"/><circle cx="574.0" cy="1330.5" r="10.2" fill="#6a68e0"/><circle cx="574.0" cy="1320.2" r="10.2" fill="#6a68e0"/><circle cx="574.0" cy="1310.0" r="10.2" fill="#6060e8"/><circle cx="574.0" cy="1299.7" r="10.2" fill="#6a68e0"/><circle cx="574.0" cy="1289.4" r="10.2" fill="#6060e8"/><circle cx="574.0" cy="1279.1" r="10.2" fill="#6060e8"/><circle cx="574.0" cy="1268.8" r="10.2" fill="#6a68e0"/><circle cx="574.0" cy="1258.6" r="10.2" fill="#7878d0"/><circle cx="574.0" cy="1248.3" r="10.2" fill="#6060e8"/><circle cx="574.0" cy="1238.0" r="10.2" fill="#7878d0"/><circle cx="574.0" cy="1227.7" r="10.2" fill="#6a68e0"/><circle cx="574.0" cy="1217.4" r="10.2" fill="#6a68e0"/><circle cx="574.0" cy="1207.2" r="10.2" fill="#6a68e0"/><circle cx="574.0" cy="1196.9" r="10.2" fill="#a09090"/><circle cx="574.0" cy="1186.6" r="10.2" fill="#6060e8"/><circle cx="574.0" cy="1176.3" r="10.2" fill="#6a68e0"/><circle cx="574.0" cy="1166.0" r="10.2" fill="#6a68e0"/><circle cx="574.0" cy="1155.8" r="10.2" fill="#6a68e0"/><circle cx="574.0" cy="1145.5" r="10.2" fill="#6a68e0"/><circle cx="574.0" cy="1135.2" r="10.2" fill="#6a68e0"/><circle cx="574.0" cy="1124.9" r="10.2" fill="#6060e8"/><circle cx="574.0" cy="1114.6" r="10.2" fill="#6a68e0"/><circle cx="574.0" cy="1104.4" r="10.2" fill="#7878d0"/><circle cx="574.0" cy="1094.1" r="10.2" fill="#6a68e0"/><circle cx="574.0" cy="1083.8" r="10.2" fill="#6a68e0"/><circle cx="574.0" cy="1073.5" r="10.2" fill="#6a68e0"/><circle cx="598.3" cy="1330.5" r="10.2" fill="#7880c0"/><circle cx="598.3" cy="1320.2" r="10.2" fill="#7070c0"/><circle cx="598.3" cy="1310.0" r="10.2" fill="#908080"/><circle cx="598.3" cy="1299.7" r="10.2" fill="#5a4ad0"/><circle cx="598.3" cy="1289.4" r="10.2" fill="#8070a0"/><circle cx="598.3" cy="1279.1" r="10.2" fill="#6a60d0"/><circle cx="598.3" cy="1268.8" r="10.2" fill="#5a4ad0"/><circle cx="598.3" cy="1258.6" r="10.2" fill="#908080"/><circle cx="598.3" cy="1248.3" r="10.2" fill="#7070c0"/><circle cx="598.3" cy="1238.0" r="10.2" fill="#6a60d0"/><circle cx="598.3" cy="1227.7" r="10.2" fill="#7880c0"/><circle cx="598.3" cy="1217.4" r="10.2" fill="#6a60d0"/><circle cx="598.3" cy="1207.2" r="10.2" fill="#7070c0"/><circle cx="598.3" cy="1196.9" r="10.2" fill="#8070a0"/><circle cx="598.3" cy="1186.6" r="10.2" fill="#6a60d0"/><circle cx="598.3" cy="1176.3" r="10.2" fill="#7070c0"/><circle cx="598.3" cy="1166.0" r="10.2" fill="#7880c0"/><circle cx="598.3" cy="1155.8" r="10.2" fill="#908080"/><circle cx="598.3" cy="1145.5" r="10.2" fill="#7880c0"/><circle cx="598.3" cy="1135.2" r="10.2" fill="#7070c0"/><circle cx="598.3" cy="1124.9" r="10.2" fill="#7070c0"/><circle cx="598.3" cy="1114.6" r="10.2" fill="#7070c0"/><circle cx="598.3" cy="1104.4" r="10.2" fill="#6a60d0"/><circle cx="598.3" cy="1094.1" r="10.2" fill="#6a2a70"/><circle cx="598.3" cy="1083.8" r="10.2" fill="#7880c0"/><circle cx="598.3" cy="1073.5" r="10.2" fill="#6a60d0"/><circle cx="598.3" cy="1063.2" r="10.2" fill="#7070c0"/><circle cx="598.3" cy="1053.0" r="10.2" fill="#6a60d0"/><circle cx="598.3" cy="1042.7" r="10.2" fill="#7070c0"/><circle cx="598.3" cy="1032.4" r="10.2" fill="#7a88c0"/><circle cx="622.6" cy="1330.5" r="10.2" fill="#c08020"/><circle cx="622.6" cy="1320.2" r="10.2" fill="#c08020"/><circle cx="622.6" cy="1310.0" r="10.2" fill="#d07020"/><circle cx="622.6" cy="1299.7" r="10.2" fill="#c08020"/><circle cx="622.6" cy="1289.4" r="10.2" fill="#c08020"/><circle cx="622.6" cy="1279.1" r="10.2" fill="#d07020"/><circle cx="622.6" cy="1268.8" r="10.2" fill="#c0b050"/><circle cx="622.6" cy="1258.6" r="10.2" fill="#c08020"/><circle cx="622.6" cy="1248.3" r="10.2" fill="#c08020"/><circle cx="622.6" cy="1238.0" r="10.2" fill="#c08020"/><circle cx="622.6" cy="1227.7" r="10.2" fill="#c08020"/><circle cx="622.6" cy="1217.4" r="10.2" fill="#c08020"/><circle cx="622.6" cy="1207.2" r="10.2" fill="#c08020"/><circle cx="622.6" cy="1196.9" r="10.2" fill="#c08020"/><circle cx="622.6" cy="1186.6" r="10.2" fill="#c08020"/><circle cx="622.6" cy="1176.3" r="10.2" fill="#b87818"/><circle cx="622.6" cy="1166.0" r="10.2" fill="#d07020"/><circle cx="622.6" cy="1155.8" r="10.2" fill="#b87818"/><circle cx="622.6" cy="1145.5" r="10.2" fill="#c08020"/><circle cx="622.6" cy="1135.2" r="10.2" fill="#c08020"/><circle cx="622.6" cy="1124.9" r="10.2" fill="#c08020"/><circle cx="622.6" cy="1114.6" r="10.2" fill="#c08020"/><circle cx="622.6" cy="1104.4" r="10.2" fill="#c08020"/><circle cx="622.6" cy="1094.1" r="10.2" fill="#c08020"/><circle cx="622.6" cy="1083.8" r="10.2" fill="#c08020"/><circle cx="622.6" cy="1073.5" r="10.2" fill="#b87818"/><circle cx="646.9" cy="1330.5" r="10.2" fill="#c08030"/><circle cx="646.9" cy="1320.2" r="10.2" fill="#c08030"/><circle cx="646.9" cy="1310.0" r="10.2" fill="#c08030"/><circle cx="646.9" cy="1299.7" r="10.2" fill="#b88028"/><circle cx="646.9" cy="1289.4" r="10.2" fill="#c08030"/><circle cx="646.9" cy="1279.1" r="10.2" fill="#c08030"/><circle cx="646.9" cy="1268.8" r="10.2" fill="#c08030"/><circle cx="646.9" cy="1258.6" r="10.2" fill="#c08030"/><circle cx="646.9" cy="1248.3" r="10.2" fill="#c08030"/><circle cx="646.9" cy="1238.0" r="10.2" fill="#b88028"/><circle cx="646.9" cy="1227.7" r="10.2" fill="#b88028"/><circle cx="646.9" cy="1217.4" r="10.2" fill="#b88028"/><circle cx="646.9" cy="1207.2" r="10.2" fill="#c08030"/><circle cx="646.9" cy="1196.9" r="10.2" fill="#c08030"/><circle cx="646.9" cy="1186.6" r="10.2" fill="#c08030"/><circle cx="646.9" cy="1176.3" r="10.2" fill="#b88028"/><circle cx="646.9" cy="1166.0" r="10.2" fill="#c08030"/><circle cx="646.9" cy="1155.8" r="10.2" fill="#c08030"/><circle cx="646.9" cy="1145.5" r="10.2" fill="#c08030"/><circle cx="646.9" cy="1135.2" r="10.2" fill="#c08030"/><circle cx="646.9" cy="1124.9" r="10.2" fill="#b88028"/><circle cx="646.9" cy="1114.6" r="10.2" fill="#b88028"/><circle cx="646.9" cy="1104.4" r="10.2" fill="#b88028"/><circle cx="646.9" cy="1094.1" r="10.2" fill="#f0a060"/><circle cx="646.9" cy="1083.8" r="10.2" fill="#c08030"/><circle cx="646.9" cy="1073.5" r="10.2" fill="#c08030"/><circle cx="646.9" cy="1063.2" r="10.2" fill="#c08030"/><circle cx="646.9" cy="1053.0" r="10.2" fill="#c08030"/><circle cx="646.9" cy="1042.7" r="10.2" fill="#c08030"/><circle cx="646.9" cy="1032.4" r="10.2" fill="#b88028"/><circle cx="671.2" cy="1330.5" r="10.2" fill="#d07020"/><circle cx="671.2" cy="1320.2" r="10.2" fill="#d07020"/><circle cx="671.2" cy="1310.0" r="10.2" fill="#c0b050"/><circle cx="671.2" cy="1299.7" r="10.2" fill="#c08030"/><circle cx="671.2" cy="1289.4" r="10.2" fill="#c08030"/><circle cx="671.2" cy="1279.1" r="10.2" fill="#c08030"/><circle cx="671.2" cy="1268.8" r="10.2" fill="#c0b050"/><circle cx="671.2" cy="1258.6" r="10.2" fill="#c08030"/><circle cx="671.2" cy="1248.3" r="10.2" fill="#b88030"/><circle cx="671.2" cy="1238.0" r="10.2" fill="#d07020"/><circle cx="671.2" cy="1227.7" r="10.2" fill="#c08030"/><circle cx="671.2" cy="1217.4" r="10.2" fill="#c08030"/><circle cx="671.2" cy="1207.2" r="10.2" fill="#c08030"/><circle cx="671.2" cy="1196.9" r="10.2" fill="#d07020"/><circle cx="671.2" cy="1186.6" r="10.2" fill="#d07020"/><circle cx="671.2" cy="1176.3" r="10.2" fill="#c08030"/><circle cx="671.2" cy="1166.0" r="10.2" fill="#c08030"/><circle cx="671.2" cy="1155.8" r="10.2" fill="#c08030"/><circle cx="671.2" cy="1145.5" r="10.2" fill="#c0b050"/><circle cx="671.2" cy="1135.2" r="10.2" fill="#c08030"/><circle cx="671.2" cy="1124.9" r="10.2" fill="#c08030"/><circle cx="671.2" cy="1114.6" r="10.2" fill="#c08030"/><circle cx="671.2" cy="1104.4" r="10.2" fill="#c08030"/><circle cx="671.2" cy="1094.1" r="10.2" fill="#c08030"/><circle cx="671.2" cy="1083.8" r="10.2" fill="#d07020"/><circle cx="671.2" cy="1073.5" r="10.2" fill="#b88030"/><circle cx="671.2" cy="1063.2" r="10.2" fill="#c08030"/><circle cx="695.5" cy="1330.5" r="10.2" fill="#a8c030"/><circle cx="695.5" cy="1320.2" r="10.2" fill="#b8d810"/><circle cx="695.5" cy="1310.0" r="10.2" fill="#b8d810"/><circle cx="695.5" cy="1299.7" r="10.2" fill="#b8d810"/><circle cx="695.5" cy="1289.4" r="10.2" fill="#a8c030"/><circle cx="695.5" cy="1279.1" r="10.2" fill="#a8d020"/><circle cx="695.5" cy="1268.8" r="10.2" fill="#b8d810"/><circle cx="695.5" cy="1258.6" r="10.2" fill="#b8d810"/><circle cx="695.5" cy="1248.3" r="10.2" fill="#b8d810"/><circle cx="695.5" cy="1238.0" r="10.2" fill="#a8d020"/><circle cx="695.5" cy="1227.7" r="10.2" fill="#b8d810"/><circle cx="695.5" cy="1217.4" r="10.2" fill="#b8d810"/><circle cx="695.5" cy="1207.2" r="10.2" fill="#a8d020"/><circle cx="695.5" cy="1196.9" r="10.2" fill="#a8c030"/><circle cx="695.5" cy="1186.6" r="10.2" fill="#b8d810"/><circle cx="695.5" cy="1176.3" r="10.2" fill="#b8d810"/><circle cx="719.7" cy="1330.5" r="10.2" fill="#b8d810"/><circle cx="719.7" cy="1320.2" r="10.2" fill="#b8d810"/><circle cx="719.7" cy="1310.0" r="10.2" fill="#b8d810"/><circle cx="719.7" cy="1299.7" r="10.2" fill="#b8d810"/><circle cx="719.7" cy="1289.4" r="10.2" fill="#b8d810"/><circle cx="719.7" cy="1279.1" r="10.2" fill="#b8d810"/><circle cx="719.7" cy="1268.8" r="10.2" fill="#b8d810"/><circle cx="719.7" cy="1258.6" r="10.2" fill="#b8d810"/><circle cx="719.7" cy="1248.3" r="10.2" fill="#f0c040"/><circle cx="719.7" cy="1238.0" r="10.2" fill="#b8d810"/><circle cx="719.7" cy="1227.7" r="10.2" fill="#b8d810"/><circle cx="719.7" cy="1217.4" r="10.2" fill="#b8d810"/><circle cx="719.7" cy="1207.2" r="10.2" fill="#b8d810"/><circle cx="719.7" cy="1196.9" r="10.2" fill="#b8d810"/><circle cx="719.7" cy="1186.6" r="10.2" fill="#b8d810"/><circle cx="719.7" cy="1176.3" r="10.2" fill="#f0c040"/><circle cx="719.7" cy="1166.0" r="10.2" fill="#b8d810"/><circle cx="719.7" cy="1155.8" r="10.2" fill="#b8d810"/><circle cx="719.7" cy="1145.5" r="10.2" fill="#b8d810"/><circle cx="719.7" cy="1135.2" r="10.2" fill="#b8d810"/><circle cx="719.7" cy="1124.9" r="10.2" fill="#b8d810"/><circle cx="719.7" cy="1114.6" r="10.2" fill="#f0c040"/><circle cx="719.7" cy="1104.4" r="10.2" fill="#b8d810"/><circle cx="719.7" cy="1094.1" r="10.2" fill="#b8d810"/><circle cx="719.7" cy="1083.8" r="10.2" fill="#b8d810"/><circle cx="719.7" cy="1073.5" r="10.2" fill="#d89050"/><circle cx="719.7" cy="1063.2" r="10.2" fill="#b8d810"/><circle cx="719.7" cy="1053.0" r="10.2" fill="#b8d810"/><circle cx="719.7" cy="1042.7" r="10.2" fill="#b8d810"/><circle cx="719.7" cy="1032.4" r="10.2" fill="#b8e010"/><circle cx="744.0" cy="1330.5" r="10.2" fill="#e0b868"/><circle cx="744.0" cy="1320.2" r="10.2" fill="#e0b868"/><circle cx="744.0" cy="1310.0" r="10.2" fill="#e0d040"/><circle cx="744.0" cy="1299.7" r="10.2" fill="#a8e020"/><circle cx="744.0" cy="1289.4" r="10.2" fill="#e0b868"/><circle cx="744.0" cy="1279.1" r="10.2" fill="#b8d810"/><circle cx="744.0" cy="1268.8" r="10.2" fill="#b8d810"/><circle cx="744.0" cy="1258.6" r="10.2" fill="#e0b868"/><circle cx="744.0" cy="1248.3" r="10.2" fill="#e0d040"/><circle cx="744.0" cy="1238.0" r="10.2" fill="#b8d810"/><circle cx="744.0" cy="1227.7" r="10.2" fill="#e0d040"/><circle cx="744.0" cy="1217.4" r="10.2" fill="#b8d810"/><circle cx="744.0" cy="1207.2" r="10.2" fill="#b8d810"/><circle cx="744.0" cy="1196.9" r="10.2" fill="#b8d810"/><circle cx="744.0" cy="1186.6" r="10.2" fill="#b8d810"/><circle cx="744.0" cy="1176.3" r="10.2" fill="#b8d810"/><circle cx="744.0" cy="1166.0" r="10.2" fill="#b8d810"/><circle cx="744.0" cy="1155.8" r="10.2" fill="#b8d810"/><circle cx="744.0" cy="1145.5" r="10.2" fill="#a8e020"/><circle cx="744.0" cy="1135.2" r="10.2" fill="#b8d810"/><circle cx="744.0" cy="1124.9" r="10.2" fill="#a8e020"/><circle cx="744.0" cy="1114.6" r="10.2" fill="#b8d810"/><circle cx="744.0" cy="1104.4" r="10.2" fill="#b8d810"/><circle cx="744.0" cy="1094.1" r="10.2" fill="#e0d040"/><circle cx="744.0" cy="1083.8" r="10.2" fill="#e0d040"/><circle cx="744.0" cy="1073.5" r="10.2" fill="#b8d810"/><circle cx="744.0" cy="1063.2" r="10.2" fill="#b8d810"/><circle cx="744.0" cy="1053.0" r="10.2" fill="#b8d810"/><circle cx="744.0" cy="1042.7" r="10.2" fill="#e0d040"/><circle cx="744.0" cy="1032.4" r="10.2" fill="#e0d040"/><circle cx="768.3" cy="1330.5" r="10.2" fill="#b8d810"/><circle cx="768.3" cy="1320.2" r="10.2" fill="#b8d810"/><circle cx="768.3" cy="1310.0" r="10.2" fill="#b8d810"/><circle cx="768.3" cy="1299.7" r="10.2" fill="#b8d810"/><circle cx="768.3" cy="1289.4" r="10.2" fill="#b8d810"/><circle cx="768.3" cy="1279.1" r="10.2" fill="#b8d810"/><circle cx="768.3" cy="1268.8" r="10.2" fill="#b8d810"/><circle cx="768.3" cy="1258.6" r="10.2" fill="#b8d810"/><circle cx="768.3" cy="1248.3" r="10.2" fill="#b8d810"/><circle cx="768.3" cy="1238.0" r="10.2" fill="#b8d810"/><circle cx="768.3" cy="1227.7" r="10.2" fill="#b8d810"/><circle cx="768.3" cy="1217.4" r="10.2" fill="#b8d810"/><circle cx="768.3" cy="1207.2" r="10.2" fill="#b8d810"/><circle cx="768.3" cy="1196.9" r="10.2" fill="#b8d810"/><circle cx="768.3" cy="1186.6" r="10.2" fill="#b8d810"/><circle cx="768.3" cy="1176.3" r="10.2" fill="#b8d810"/><circle cx="768.3" cy="1166.0" r="10.2" fill="#c8c830"/><circle cx="768.3" cy="1155.8" r="10.2" fill="#b8d810"/><circle cx="768.3" cy="1145.5" r="10.2" fill="#b8d810"/><circle cx="768.3" cy="1135.2" r="10.2" fill="#b8d810"/><circle cx="768.3" cy="1124.9" r="10.2" fill="#b8d810"/><circle cx="768.3" cy="1114.6" r="10.2" fill="#b8d810"/><circle cx="768.3" cy="1104.4" r="10.2" fill="#b8d810"/><circle cx="768.3" cy="1094.1" r="10.2" fill="#b8d810"/><circle cx="768.3" cy="1083.8" r="10.2" fill="#b8d810"/><circle cx="768.3" cy="1073.5" r="10.2" fill="#b8d810"/><circle cx="768.3" cy="1063.2" r="10.2" fill="#70c030"/><circle cx="768.3" cy="1053.0" r="10.2" fill="#b8d810"/><circle cx="768.3" cy="1042.7" r="10.2" fill="#b8d810"/><circle cx="768.3" cy="1032.4" r="10.2" fill="#b8d810"/><circle cx="792.6" cy="1330.5" r="10.2" fill="#a09090"/><circle cx="792.6" cy="1320.2" r="10.2" fill="#d8c070"/><circle cx="792.6" cy="1310.0" r="10.2" fill="#e0b060"/><circle cx="792.6" cy="1299.7" r="10.2" fill="#d07020"/><circle cx="792.6" cy="1289.4" r="10.2" fill="#e0b060"/><circle cx="792.6" cy="1279.1" r="10.2" fill="#e0b060"/><circle cx="792.6" cy="1268.8" r="10.2" fill="#d8c070"/><circle cx="792.6" cy="1258.6" r="10.2" fill="#e0b060"/><circle cx="792.6" cy="1248.3" r="10.2" fill="#c8b068"/><circle cx="792.6" cy="1238.0" r="10.2" fill="#e0a850"/><circle cx="792.6" cy="1227.7" r="10.2" fill="#c8b068"/><circle cx="792.6" cy="1217.4" r="10.2" fill="#e0a850"/><circle cx="792.6" cy="1207.2" r="10.2" fill="#e0a850"/><circle cx="792.6" cy="1196.9" r="10.2" fill="#e0b060"/><circle cx="792.6" cy="1186.6" r="10.2" fill="#e0b060"/><circle cx="792.6" cy="1176.3" r="10.2" fill="#e0b060"/><circle cx="792.6" cy="1166.0" r="10.2" fill="#c8b068"/><circle cx="792.6" cy="1155.8" r="10.2" fill="#e0b868"/><circle cx="816.9" cy="1330.5" r="10.2" fill="#e0b060"/><circle cx="816.9" cy="1320.2" r="10.2" fill="#e0b060"/><circle cx="816.9" cy="1310.0" r="10.2" fill="#e0b060"/><circle cx="816.9" cy="1299.7" r="10.2" fill="#e0d030"/><circle cx="816.9" cy="1289.4" r="10.2" fill="#e0d030"/><circle cx="816.9" cy="1279.1" r="10.2" fill="#e0d030"/><circle cx="816.9" cy="1268.8" r="10.2" fill="#e0d030"/><circle cx="816.9" cy="1258.6" r="10.2" fill="#e0b060"/><circle cx="816.9" cy="1248.3" r="10.2" fill="#d07070"/><circle cx="816.9" cy="1238.0" r="10.2" fill="#e0b060"/><circle cx="816.9" cy="1227.7" r="10.2" fill="#e0d030"/><circle cx="816.9" cy="1217.4" r="10.2" fill="#e0d030"/><circle cx="816.9" cy="1207.2" r="10.2" fill="#e0d030"/><circle cx="816.9" cy="1196.9" r="10.2" fill="#e0d030"/><circle cx="816.9" cy="1186.6" r="10.2" fill="#e8cc30"/><circle cx="816.9" cy="1176.3" r="10.2" fill="#e0d030"/><circle cx="816.9" cy="1166.0" r="10.2" fill="#e0d030"/><circle cx="816.9" cy="1155.8" r="10.2" fill="#e0d030"/><circle cx="816.9" cy="1145.5" r="10.2" fill="#e0d030"/><circle cx="816.9" cy="1135.2" r="10.2" fill="#e0d030"/><circle cx="816.9" cy="1124.9" r="10.2" fill="#e8cc30"/><circle cx="816.9" cy="1114.6" r="10.2" fill="#e8cc30"/><circle cx="816.9" cy="1104.4" r="10.2" fill="#e0d030"/><circle cx="816.9" cy="1094.1" r="10.2" fill="#e0d030"/><circle cx="816.9" cy="1083.8" r="10.2" fill="#e8cc30"/><circle cx="816.9" cy="1073.5" r="10.2" fill="#e0d030"/><circle cx="816.9" cy="1063.2" r="10.2" fill="#e0d030"/><circle cx="816.9" cy="1053.0" r="10.2" fill="#e0d030"/><circle cx="816.9" cy="1042.7" r="10.2" fill="#e8cc30"/><circle cx="816.9" cy="1032.4" r="10.2" fill="#e0d030"/><circle cx="841.2" cy="1330.5" r="10.2" fill="#e0c890"/><circle cx="841.2" cy="1320.2" r="10.2" fill="#e0c890"/><circle cx="841.2" cy="1310.0" r="10.2" fill="#e0c890"/><circle cx="841.2" cy="1299.7" r="10.2" fill="#a0a0b0"/><circle cx="841.2" cy="1289.4" r="10.2" fill="#d8c080"/><circle cx="841.2" cy="1279.1" r="10.2" fill="#e0c890"/><circle cx="841.2" cy="1268.8" r="10.2" fill="#e0c890"/><circle cx="841.2" cy="1258.6" r="10.2" fill="#e0b878"/><circle cx="841.2" cy="1248.3" r="10.2" fill="#d8c080"/><circle cx="841.2" cy="1238.0" r="10.2" fill="#e0c890"/><circle cx="841.2" cy="1227.7" r="10.2" fill="#b0a090"/><circle cx="841.2" cy="1217.4" r="10.2" fill="#d8c080"/><circle cx="841.2" cy="1207.2" r="10.2" fill="#e0b878"/><circle cx="841.2" cy="1196.9" r="10.2" fill="#e0c890"/><circle cx="841.2" cy="1186.6" r="10.2" fill="#d8c080"/><circle cx="841.2" cy="1176.3" r="10.2" fill="#b0a090"/><circle cx="841.2" cy="1166.0" r="10.2" fill="#a0a0b0"/><circle cx="841.2" cy="1155.8" r="10.2" fill="#e0b878"/><circle cx="841.2" cy="1145.5" r="10.2" fill="#e0c890"/><circle cx="841.2" cy="1135.2" r="10.2" fill="#e0c890"/><circle cx="841.2" cy="1124.9" r="10.2" fill="#e0c890"/><circle cx="841.2" cy="1114.6" r="10.2" fill="#e0c890"/><circle cx="841.2" cy="1104.4" r="10.2" fill="#e0b878"/><circle cx="841.2" cy="1094.1" r="10.2" fill="#d8c080"/><circle cx="841.2" cy="1083.8" r="10.2" fill="#e0b878"/><circle cx="865.4" cy="1330.5" r="10.2" fill="#e0c898"/><circle cx="865.4" cy="1320.2" r="10.2" fill="#a0b0c0"/><circle cx="865.4" cy="1310.0" r="10.2" fill="#e0c898"/><circle cx="865.4" cy="1299.7" r="10.2" fill="#f0a860"/><circle cx="865.4" cy="1289.4" r="10.2" fill="#d8c890"/><circle cx="865.4" cy="1279.1" r="10.2" fill="#f0c080"/><circle cx="865.4" cy="1268.8" r="10.2" fill="#a0b0c0"/><circle cx="865.4" cy="1258.6" r="10.2" fill="#d8c890"/><circle cx="865.4" cy="1248.3" r="10.2" fill="#d8c890"/><circle cx="865.4" cy="1238.0" r="10.2" fill="#a0b0c0"/><circle cx="865.4" cy="1227.7" r="10.2" fill="#e0c898"/><circle cx="865.4" cy="1217.4" r="10.2" fill="#e0c898"/><circle cx="865.4" cy="1207.2" r="10.2" fill="#e0c898"/><circle cx="865.4" cy="1196.9" r="10.2" fill="#e0c898"/><circle cx="865.4" cy="1186.6" r="10.2" fill="#f0c890"/><circle cx="865.4" cy="1176.3" r="10.2" fill="#d8c890"/><circle cx="865.4" cy="1166.0" r="10.2" fill="#e0c898"/><circle cx="865.4" cy="1155.8" r="10.2" fill="#e0c898"/><circle cx="865.4" cy="1145.5" r="10.2" fill="#e0c898"/><circle cx="865.4" cy="1135.2" r="10.2" fill="#d8c890"/><circle cx="865.4" cy="1124.9" r="10.2" fill="#e0c898"/><circle cx="865.4" cy="1114.6" r="10.2" fill="#c8c0b0"/><circle cx="865.4" cy="1104.4" r="10.2" fill="#e0c898"/><circle cx="865.4" cy="1094.1" r="10.2" fill="#d8c890"/><circle cx="865.4" cy="1083.8" r="10.2" fill="#e0c898"/><circle cx="865.4" cy="1073.5" r="10.2" fill="#e0c898"/><circle cx="865.4" cy="1063.2" r="10.2" fill="#a0b0c0"/><circle cx="865.4" cy="1053.0" r="10.2" fill="#e0c898"/><circle cx="865.4" cy="1042.7" r="10.2" fill="#e0c898"/><circle cx="865.4" cy="1032.4" r="10.2" fill="#d8c890"/><circle cx="889.7" cy="1330.5" r="10.2" fill="#d89850"/><circle cx="889.7" cy="1320.2" r="10.2" fill="#d89850"/><circle cx="889.7" cy="1310.0" r="10.2" fill="#d89850"/><circle cx="889.7" cy="1299.7" r="10.2" fill="#d89850"/><circle cx="889.7" cy="1289.4" r="10.2" fill="#d89850"/><circle cx="889.7" cy="1279.1" r="10.2" fill="#d89850"/><circle cx="889.7" cy="1268.8" r="10.2" fill="#d08838"/><circle cx="889.7" cy="1258.6" r="10.2" fill="#d89850"/><circle cx="889.7" cy="1248.3" r="10.2" fill="#d89850"/><circle cx="889.7" cy="1238.0" r="10.2" fill="#d89850"/><circle cx="889.7" cy="1227.7" r="10.2" fill="#d89850"/><circle cx="889.7" cy="1217.4" r="10.2" fill="#d08838"/><circle cx="889.7" cy="1207.2" r="10.2" fill="#d8c898"/><circle cx="889.7" cy="1196.9" r="10.2" fill="#d89850"/><circle cx="889.7" cy="1186.6" r="10.2" fill="#d89850"/><circle cx="889.7" cy="1176.3" r="10.2" fill="#e0b060"/><circle cx="889.7" cy="1166.0" r="10.2" fill="#d89850"/><circle cx="889.7" cy="1155.8" r="10.2" fill="#d89850"/><circle cx="889.7" cy="1145.5" r="10.2" fill="#d08838"/><circle cx="889.7" cy="1135.2" r="10.2" fill="#d89850"/><circle cx="889.7" cy="1124.9" r="10.2" fill="#e0b060"/><circle cx="889.7" cy="1114.6" r="10.2" fill="#d89850"/><circle cx="889.7" cy="1104.4" r="10.2" fill="#d08838"/><circle cx="889.7" cy="1094.1" r="10.2" fill="#d89850"/><circle cx="889.7" cy="1083.8" r="10.2" fill="#d89850"/><circle cx="889.7" cy="1073.5" r="10.2" fill="#d89850"/><circle cx="889.7" cy="1063.2" r="10.2" fill="#d89850"/><circle cx="889.7" cy="1053.0" r="10.2" fill="#d89850"/><circle cx="889.7" cy="1042.7" r="10.2" fill="#d08838"/><circle cx="914.0" cy="1330.5" r="10.2" fill="#e8cc98"/><circle cx="914.0" cy="1320.2" r="10.2" fill="#e8cc98"/><circle cx="914.0" cy="1310.0" r="10.2" fill="#e8cc98"/><circle cx="914.0" cy="1299.7" r="10.2" fill="#e8cc98"/><circle cx="914.0" cy="1289.4" r="10.2" fill="#e8cc98"/><circle cx="914.0" cy="1279.1" r="10.2" fill="#e8cc98"/><circle cx="914.0" cy="1268.8" r="10.2" fill="#e8cc98"/><circle cx="914.0" cy="1258.6" r="10.2" fill="#d8b878"/><circle cx="914.0" cy="1248.3" r="10.2" fill="#e8cc98"/><circle cx="914.0" cy="1238.0" r="10.2" fill="#e8cc98"/><circle cx="914.0" cy="1227.7" r="10.2" fill="#e8cc98"/><circle cx="914.0" cy="1217.4" r="10.2" fill="#d8b878"/><circle cx="914.0" cy="1207.2" r="10.2" fill="#e8cc98"/><circle cx="914.0" cy="1196.9" r="10.2" fill="#e8cc98"/><circle cx="914.0" cy="1186.6" r="10.2" fill="#d8b878"/><circle cx="914.0" cy="1176.3" r="10.2" fill="#d8b878"/><circle cx="914.0" cy="1166.0" r="10.2" fill="#e8cc98"/><circle cx="914.0" cy="1155.8" r="10.2" fill="#e8cc98"/><circle cx="914.0" cy="1145.5" r="10.2" fill="#d8b878"/><circle cx="914.0" cy="1135.2" r="10.2" fill="#e8cc98"/><circle cx="914.0" cy="1124.9" r="10.2" fill="#d8b878"/><circle cx="914.0" cy="1114.6" r="10.2" fill="#e8cc98"/><circle cx="914.0" cy="1104.4" r="10.2" fill="#e8cc98"/><circle cx="914.0" cy="1094.1" r="10.2" fill="#e8cc98"/><circle cx="914.0" cy="1083.8" r="10.2" fill="#e8cc98"/><circle cx="914.0" cy="1073.5" r="10.2" fill="#e8cc98"/><circle cx="914.0" cy="1063.2" r="10.2" fill="#e8cc98"/><circle cx="914.0" cy="1053.0" r="10.2" fill="#e8cc98"/><circle cx="914.0" cy="1042.7" r="10.2" fill="#e8cc98"/><circle cx="914.0" cy="1032.4" r="10.2" fill="#e8cc98"/><circle cx="938.3" cy="1330.5" r="10.2" fill="#d09040"/><circle cx="938.3" cy="1320.2" r="10.2" fill="#d09040"/><circle cx="938.3" cy="1310.0" r="10.2" fill="#c87830"/><circle cx="938.3" cy="1299.7" r="10.2" fill="#d09040"/><circle cx="938.3" cy="1289.4" r="10.2" fill="#d09040"/><circle cx="938.3" cy="1279.1" r="10.2" fill="#d09040"/><circle cx="938.3" cy="1268.8" r="10.2" fill="#d08838"/><circle cx="938.3" cy="1258.6" r="10.2" fill="#f0c890"/><circle cx="938.3" cy="1248.3" r="10.2" fill="#d09040"/><circle cx="938.3" cy="1238.0" r="10.2" fill="#c87830"/><circle cx="938.3" cy="1227.7" r="10.2" fill="#d08838"/><circle cx="938.3" cy="1217.4" r="10.2" fill="#d09040"/><circle cx="938.3" cy="1207.2" r="10.2" fill="#c0a040"/><circle cx="938.3" cy="1196.9" r="10.2" fill="#d09040"/><circle cx="938.3" cy="1186.6" r="10.2" fill="#c87830"/><circle cx="938.3" cy="1176.3" r="10.2" fill="#c87830"/><circle cx="938.3" cy="1166.0" r="10.2" fill="#d08838"/><circle cx="938.3" cy="1155.8" r="10.2" fill="#d09040"/><circle cx="938.3" cy="1145.5" r="10.2" fill="#c87830"/><circle cx="938.3" cy="1135.2" r="10.2" fill="#c87830"/><circle cx="938.3" cy="1124.9" r="10.2" fill="#a07070"/><circle cx="938.3" cy="1114.6" r="10.2" fill="#d08838"/><circle cx="938.3" cy="1104.4" r="10.2" fill="#c87830"/><circle cx="938.3" cy="1094.1" r="10.2" fill="#c87830"/><circle cx="938.3" cy="1083.8" r="10.2" fill="#d09040"/><circle cx="938.3" cy="1073.5" r="10.2" fill="#d08838"/><circle cx="938.3" cy="1063.2" r="10.2" fill="#f0c890"/><circle cx="938.3" cy="1053.0" r="10.2" fill="#d08838"/><circle cx="938.3" cy="1042.7" r="10.2" fill="#d08838"/><circle cx="938.3" cy="1032.4" r="10.2" fill="#905048"/><circle cx="962.6" cy="1330.5" r="10.2" fill="#e0b050"/><circle cx="962.6" cy="1320.2" r="10.2" fill="#e8a850"/><circle cx="962.6" cy="1310.0" r="10.2" fill="#e0b050"/><circle cx="962.6" cy="1299.7" r="10.2" fill="#e8a850"/><circle cx="962.6" cy="1289.4" r="10.2" fill="#e8a850"/><circle cx="962.6" cy="1279.1" r="10.2" fill="#e0b050"/><circle cx="962.6" cy="1268.8" r="10.2" fill="#e8a850"/><circle cx="962.6" cy="1258.6" r="10.2" fill="#e0b050"/><circle cx="962.6" cy="1248.3" r="10.2" fill="#e0b050"/><circle cx="962.6" cy="1238.0" r="10.2" fill="#e8a850"/><circle cx="962.6" cy="1227.7" r="10.2" fill="#d09030"/><circle cx="962.6" cy="1217.4" r="10.2" fill="#e8a850"/><circle cx="962.6" cy="1207.2" r="10.2" fill="#f0a860"/><circle cx="962.6" cy="1196.9" r="10.2" fill="#f0a860"/><circle cx="962.6" cy="1186.6" r="10.2" fill="#e0b050"/><circle cx="962.6" cy="1176.3" r="10.2" fill="#e8a850"/><circle cx="962.6" cy="1166.0" r="10.2" fill="#e0b050"/><circle cx="962.6" cy="1155.8" r="10.2" fill="#e0b050"/><circle cx="962.6" cy="1145.5" r="10.2" fill="#d8b060"/><circle cx="962.6" cy="1135.2" r="10.2" fill="#e8a850"/><circle cx="962.6" cy="1124.9" r="10.2" fill="#d8b060"/><circle cx="962.6" cy="1114.6" r="10.2" fill="#b09080"/><circle cx="962.6" cy="1104.4" r="10.2" fill="#f0a860"/><circle cx="962.6" cy="1094.1" r="10.2" fill="#d8b060"/><circle cx="962.6" cy="1083.8" r="10.2" fill="#e8a850"/><circle cx="962.6" cy="1073.5" r="10.2" fill="#b09080"/><circle cx="962.6" cy="1063.2" r="10.2" fill="#e0b050"/><circle cx="962.6" cy="1053.0" r="10.2" fill="#d8b060"/><circle cx="962.6" cy="1042.7" r="10.2" fill="#d8b060"/><circle cx="962.6" cy="1032.4" r="10.2" fill="#e8a850"/><circle cx="962.6" cy="1022.1" r="10.2" fill="#f0a860"/><circle cx="962.6" cy="1011.8" r="10.2" fill="#d8b060"/><circle cx="962.6" cy="1001.6" r="10.2" fill="#e8a850"/><circle cx="962.6" cy="991.3" r="10.2" fill="#e0b050"/><circle cx="962.6" cy="981.0" r="10.2" fill="#f0a860"/><circle cx="962.6" cy="970.7" r="10.2" fill="#e8a850"/><circle cx="962.6" cy="960.4" r="10.2" fill="#d8b060"/><circle cx="962.6" cy="950.2" r="10.2" fill="#e8a850"/><circle cx="962.6" cy="939.9" r="10.2" fill="#d8b060"/><circle cx="962.6" cy="929.6" r="10.2" fill="#e8a850"/><circle cx="962.6" cy="919.3" r="10.2" fill="#e0b050"/><circle cx="962.6" cy="909.0" r="10.2" fill="#d8b060"/><circle cx="962.6" cy="898.8" r="10.2" fill="#e8a850"/><circle cx="962.6" cy="888.5" r="10.2" fill="#e8a850"/><circle cx="962.6" cy="878.2" r="10.2" fill="#e0b050"/><circle cx="962.6" cy="867.9" r="10.2" fill="#e8a850"/><circle cx="962.6" cy="857.6" r="10.2" fill="#e8a850"/><circle cx="962.6" cy="847.4" r="10.2" fill="#f0a050"/><circle cx="986.9" cy="1330.5" r="10.2" fill="#f0a860"/><circle cx="986.9" cy="1320.2" r="10.2" fill="#e0b868"/><circle cx="986.9" cy="1310.0" r="10.2" fill="#d8c070"/><circle cx="986.9" cy="1299.7" r="10.2" fill="#e0b868"/><circle cx="986.9" cy="1289.4" r="10.2" fill="#f0a860"/><circle cx="986.9" cy="1279.1" r="10.2" fill="#d8c070"/><circle cx="986.9" cy="1268.8" r="10.2" fill="#f0a860"/><circle cx="986.9" cy="1258.6" r="10.2" fill="#f0a860"/><circle cx="986.9" cy="1248.3" r="10.2" fill="#d8c070"/><circle cx="986.9" cy="1238.0" r="10.2" fill="#f0a860"/><circle cx="986.9" cy="1227.7" r="10.2" fill="#d8c070"/><circle cx="986.9" cy="1217.4" r="10.2" fill="#f0a860"/><circle cx="986.9" cy="1207.2" r="10.2" fill="#f0a860"/><circle cx="986.9" cy="1196.9" r="10.2" fill="#e0b868"/><circle cx="986.9" cy="1186.6" r="10.2" fill="#f0a860"/><circle cx="986.9" cy="1176.3" r="10.2" fill="#e0b868"/><circle cx="986.9" cy="1166.0" r="10.2" fill="#d8c070"/><circle cx="986.9" cy="1155.8" r="10.2" fill="#f0a860"/><circle cx="986.9" cy="1145.5" r="10.2" fill="#d8c070"/><circle cx="986.9" cy="1135.2" r="10.2" fill="#f0a860"/><circle cx="986.9" cy="1124.9" r="10.2" fill="#e0b868"/><circle cx="986.9" cy="1114.6" r="10.2" fill="#f0a860"/><circle cx="986.9" cy="1104.4" r="10.2" fill="#f0a860"/><circle cx="986.9" cy="1094.1" r="10.2" fill="#d8c070"/><circle cx="986.9" cy="1083.8" r="10.2" fill="#f0a860"/><circle cx="986.9" cy="1073.5" r="10.2" fill="#f0a860"/><circle cx="986.9" cy="1063.2" r="10.2" fill="#d8c070"/><circle cx="986.9" cy="1053.0" r="10.2" fill="#f0a860"/><circle cx="986.9" cy="1042.7" r="10.2" fill="#d8c070"/><circle cx="986.9" cy="1032.4" r="10.2" fill="#d8c070"/><circle cx="1011.2" cy="1330.5" r="10.2" fill="#e8dc90"/><circle cx="1011.2" cy="1320.2" r="10.2" fill="#e8b060"/><circle cx="1011.2" cy="1310.0" r="10.2" fill="#d8c070"/><circle cx="1011.2" cy="1299.7" r="10.2" fill="#d8c070"/><circle cx="1011.2" cy="1289.4" r="10.2" fill="#e0c890"/><circle cx="1011.2" cy="1279.1" r="10.2" fill="#e0c890"/><circle cx="1011.2" cy="1268.8" r="10.2" fill="#e0c890"/><circle cx="1011.2" cy="1258.6" r="10.2" fill="#e0c890"/><circle cx="1011.2" cy="1248.3" r="10.2" fill="#d8c070"/><circle cx="1011.2" cy="1238.0" r="10.2" fill="#e0c890"/><circle cx="1011.2" cy="1227.7" r="10.2" fill="#d8c070"/><circle cx="1011.2" cy="1217.4" r="10.2" fill="#e8b060"/><circle cx="1011.2" cy="1207.2" r="10.2" fill="#e0c890"/><circle cx="1011.2" cy="1196.9" r="10.2" fill="#e0c890"/><circle cx="1011.2" cy="1186.6" r="10.2" fill="#d8c070"/><circle cx="1011.2" cy="1176.3" r="10.2" fill="#e0c890"/><circle cx="1011.2" cy="1166.0" r="10.2" fill="#e0c890"/><circle cx="1011.2" cy="1155.8" r="10.2" fill="#e0c890"/><circle cx="1011.2" cy="1145.5" r="10.2" fill="#e0c890"/><circle cx="1011.2" cy="1135.2" r="10.2" fill="#e0c890"/><circle cx="1011.2" cy="1124.9" r="10.2" fill="#e0c890"/><circle cx="1011.2" cy="1114.6" r="10.2" fill="#d8c070"/><circle cx="1011.2" cy="1104.4" r="10.2" fill="#d8c070"/><circle cx="1011.2" cy="1094.1" r="10.2" fill="#e0c890"/><circle cx="1011.2" cy="1083.8" r="10.2" fill="#d8c070"/><circle cx="1011.2" cy="1073.5" r="10.2" fill="#e0c890"/><circle cx="1011.2" cy="1063.2" r="10.2" fill="#e0c890"/><circle cx="1011.2" cy="1053.0" r="10.2" fill="#e8b060"/><circle cx="1011.2" cy="1042.7" r="10.2" fill="#e0c890"/><circle cx="1011.2" cy="1032.4" r="10.2" fill="#e0c890"/><circle cx="1035.4" cy="1330.5" r="10.2" fill="#e0b060"/><circle cx="1035.4" cy="1320.2" r="10.2" fill="#e0b060"/><circle cx="1035.4" cy="1310.0" r="10.2" fill="#e0b060"/><circle cx="1035.4" cy="1299.7" r="10.2" fill="#e0b060"/><circle cx="1035.4" cy="1289.4" r="10.2" fill="#e0b060"/><circle cx="1035.4" cy="1279.1" r="10.2" fill="#e0b060"/><circle cx="1035.4" cy="1268.8" r="10.2" fill="#e0b060"/><circle cx="1035.4" cy="1258.6" r="10.2" fill="#e0b060"/><circle cx="1035.4" cy="1248.3" r="10.2" fill="#e0b060"/><circle cx="1035.4" cy="1238.0" r="10.2" fill="#e0b060"/><circle cx="1035.4" cy="1227.7" r="10.2" fill="#e0b060"/><circle cx="1035.4" cy="1217.4" r="10.2" fill="#e0b060"/><circle cx="1035.4" cy="1207.2" r="10.2" fill="#e8b870"/><circle cx="1035.4" cy="1196.9" r="10.2" fill="#e0b060"/><circle cx="1035.4" cy="1186.6" r="10.2" fill="#e0b060"/><circle cx="1035.4" cy="1176.3" r="10.2" fill="#e8b870"/><circle cx="1035.4" cy="1166.0" r="10.2" fill="#e0b060"/><circle cx="1035.4" cy="1155.8" r="10.2" fill="#e0b060"/><circle cx="1035.4" cy="1145.5" r="10.2" fill="#e0b060"/><circle cx="1035.4" cy="1135.2" r="10.2" fill="#e0b060"/><circle cx="1035.4" cy="1124.9" r="10.2" fill="#e0b060"/><circle cx="1035.4" cy="1114.6" r="10.2" fill="#e0b060"/><circle cx="1035.4" cy="1104.4" r="10.2" fill="#e0b060"/><circle cx="1035.4" cy="1094.1" r="10.2" fill="#e0b060"/><circle cx="1035.4" cy="1083.8" r="10.2" fill="#e8b870"/><circle cx="1035.4" cy="1073.5" r="10.2" fill="#e0b060"/><circle cx="1035.4" cy="1063.2" r="10.2" fill="#e0b060"/><circle cx="1035.4" cy="1053.0" r="10.2" fill="#e0b060"/><circle cx="1035.4" cy="1042.7" r="10.2" fill="#e0b060"/><circle cx="1035.4" cy="1032.4" r="10.2" fill="#e0b060"/><circle cx="1059.7" cy="1330.5" r="10.2" fill="#a0a090"/><circle cx="1059.7" cy="1320.2" r="10.2" fill="#a0a090"/><circle cx="1059.7" cy="1310.0" r="10.2" fill="#a8a088"/><circle cx="1059.7" cy="1299.7" r="10.2" fill="#c0a860"/><circle cx="1059.7" cy="1289.4" r="10.2" fill="#e0b060"/><circle cx="1059.7" cy="1279.1" r="10.2" fill="#d8a850"/><circle cx="1059.7" cy="1268.8" r="10.2" fill="#e0b060"/><circle cx="1059.7" cy="1258.6" r="10.2" fill="#e0b060"/><circle cx="1059.7" cy="1248.3" r="10.2" fill="#e0b060"/><circle cx="1059.7" cy="1238.0" r="10.2" fill="#e0b060"/><circle cx="1059.7" cy="1227.7" r="10.2" fill="#e0b060"/><circle cx="1059.7" cy="1217.4" r="10.2" fill="#e0b060"/><circle cx="1059.7" cy="1207.2" r="10.2" fill="#e0b060"/><circle cx="1059.7" cy="1196.9" r="10.2" fill="#e0b060"/><circle cx="1059.7" cy="1186.6" r="10.2" fill="#e0b060"/><circle cx="1059.7" cy="1176.3" r="10.2" fill="#e0b060"/><circle cx="1059.7" cy="1166.0" r="10.2" fill="#e0b060"/><circle cx="1059.7" cy="1155.8" r="10.2" fill="#e0b060"/><circle cx="1059.7" cy="1145.5" r="10.2" fill="#e0b060"/><circle cx="1059.7" cy="1135.2" r="10.2" fill="#e0b060"/><circle cx="1059.7" cy="1124.9" r="10.2" fill="#d0a040"/><circle cx="1059.7" cy="1114.6" r="10.2" fill="#e0b060"/><circle cx="1059.7" cy="1104.4" r="10.2" fill="#e0b060"/><circle cx="1059.7" cy="1094.1" r="10.2" fill="#e0b060"/><circle cx="1059.7" cy="1083.8" r="10.2" fill="#e0b060"/><circle cx="1059.7" cy="1073.5" r="10.2" fill="#e0b060"/><circle cx="1059.7" cy="1063.2" r="10.2" fill="#e0b060"/><circle cx="1059.7" cy="1053.0" r="10.2" fill="#e0b060"/><circle cx="1059.7" cy="1042.7" r="10.2" fill="#e0b060"/><circle cx="1059.7" cy="1032.4" r="10.2" fill="#e0b060"/><circle cx="1084.0" cy="1330.5" r="10.2" fill="#f0a860"/><circle cx="1084.0" cy="1320.2" r="10.2" fill="#f0a860"/><circle cx="1084.0" cy="1310.0" r="10.2" fill="#f0a860"/><circle cx="1084.0" cy="1299.7" r="10.2" fill="#c8a040"/><circle cx="1084.0" cy="1289.4" r="10.2" fill="#f0a860"/><circle cx="1084.0" cy="1279.1" r="10.2" fill="#f0a860"/><circle cx="1084.0" cy="1268.8" r="10.2" fill="#f0a860"/><circle cx="1084.0" cy="1258.6" r="10.2" fill="#f0a860"/><circle cx="1084.0" cy="1248.3" r="10.2" fill="#f0a860"/><circle cx="1084.0" cy="1238.0" r="10.2" fill="#f0a860"/><circle cx="1084.0" cy="1227.7" r="10.2" fill="#f0a860"/><circle cx="1084.0" cy="1217.4" r="10.2" fill="#f0a860"/><circle cx="1084.0" cy="1207.2" r="10.2" fill="#d8a070"/><circle cx="1084.0" cy="1196.9" r="10.2" fill="#f0a860"/><circle cx="1084.0" cy="1186.6" r="10.2" fill="#f0a860"/><circle cx="1084.0" cy="1176.3" r="10.2" fill="#f0a860"/><circle cx="1084.0" cy="1166.0" r="10.2" fill="#f0a860"/><circle cx="1084.0" cy="1155.8" r="10.2" fill="#c8a040"/><circle cx="1084.0" cy="1145.5" r="10.2" fill="#f0a860"/><circle cx="1084.0" cy="1135.2" r="10.2" fill="#f0a860"/><circle cx="1084.0" cy="1124.9" r="10.2" fill="#d87070"/><circle cx="1084.0" cy="1114.6" r="10.2" fill="#f0a860"/><circle cx="1084.0" cy="1104.4" r="10.2" fill="#f0a860"/><circle cx="1084.0" cy="1094.1" r="10.2" fill="#f0a860"/><circle cx="1084.0" cy="1083.8" r="10.2" fill="#f0a860"/><circle cx="1084.0" cy="1073.5" r="10.2" fill="#f0a860"/><circle cx="1084.0" cy="1063.2" r="10.2" fill="#f0a860"/><circle cx="1084.0" cy="1053.0" r="10.2" fill="#f0a860"/><circle cx="1084.0" cy="1042.7" r="10.2" fill="#f0a860"/><circle cx="1084.0" cy="1032.4" r="10.2" fill="#f0a860"/><circle cx="1084.0" cy="1022.1" r="10.2" fill="#f0a860"/><circle cx="1084.0" cy="1011.8" r="10.2" fill="#f0a860"/><circle cx="1084.0" cy="1001.6" r="10.2" fill="#f0a860"/><circle cx="1084.0" cy="991.3" r="10.2" fill="#f0a860"/><circle cx="1084.0" cy="981.0" r="10.2" fill="#f0a860"/><circle cx="1084.0" cy="970.7" r="10.2" fill="#f0a860"/><circle cx="1084.0" cy="960.4" r="10.2" fill="#f0a860"/><circle cx="1084.0" cy="950.2" r="10.2" fill="#f0a860"/><circle cx="1084.0" cy="939.9" r="10.2" fill="#f0a860"/><circle cx="1084.0" cy="929.6" r="10.2" fill="#f0a860"/><circle cx="1084.0" cy="919.3" r="10.2" fill="#f0a860"/><circle cx="1084.0" cy="909.0" r="10.2" fill="#f0a860"/><circle cx="1084.0" cy="898.8" r="10.2" fill="#f0a860"/><circle cx="1084.0" cy="888.5" r="10.2" fill="#f0a860"/><circle cx="1084.0" cy="878.2" r="10.2" fill="#f0a860"/><circle cx="1084.0" cy="867.9" r="10.2" fill="#f0a860"/><circle cx="1084.0" cy="857.6" r="10.2" fill="#f0a860"/><circle cx="1084.0" cy="847.4" r="10.2" fill="#f0a860"/><circle cx="1084.0" cy="837.1" r="10.2" fill="#f0a860"/><circle cx="1084.0" cy="826.8" r="10.2" fill="#f0a860"/><circle cx="1084.0" cy="816.5" r="10.2" fill="#e0a050"/><circle cx="1084.0" cy="806.2" r="10.2" fill="#f0a860"/><circle cx="1084.0" cy="796.0" r="10.2" fill="#f0a860"/><circle cx="1084.0" cy="785.7" r="10.2" fill="#f0a860"/><circle cx="1108.3" cy="1330.5" r="10.2" fill="#f0a860"/><circle cx="1108.3" cy="1320.2" r="10.2" fill="#f0a860"/><circle cx="1108.3" cy="1310.0" r="10.2" fill="#f0a860"/><circle cx="1108.3" cy="1299.7" r="10.2" fill="#f0a860"/><circle cx="1108.3" cy="1289.4" r="10.2" fill="#f0a860"/><circle cx="1108.3" cy="1279.1" r="10.2" fill="#f0a860"/><circle cx="1108.3" cy="1268.8" r="10.2" fill="#f0a860"/><circle cx="1108.3" cy="1258.6" r="10.2" fill="#f0a860"/><circle cx="1108.3" cy="1248.3" r="10.2" fill="#f0a860"/><circle cx="1108.3" cy="1238.0" r="10.2" fill="#f0a860"/><circle cx="1108.3" cy="1227.7" r="10.2" fill="#f0a860"/><circle cx="1108.3" cy="1217.4" r="10.2" fill="#f0a860"/><circle cx="1108.3" cy="1207.2" r="10.2" fill="#f0a860"/><circle cx="1108.3" cy="1196.9" r="10.2" fill="#f0a860"/><circle cx="1108.3" cy="1186.6" r="10.2" fill="#f0a860"/><circle cx="1108.3" cy="1176.3" r="10.2" fill="#f0a860"/><circle cx="1108.3" cy="1166.0" r="10.2" fill="#f0a860"/><circle cx="1108.3" cy="1155.8" r="10.2" fill="#f0a860"/><circle cx="1108.3" cy="1145.5" r="10.2" fill="#f0a860"/><circle cx="1108.3" cy="1135.2" r="10.2" fill="#f0a860"/><circle cx="1108.3" cy="1124.9" r="10.2" fill="#f0a860"/><circle cx="1108.3" cy="1114.6" r="10.2" fill="#f0a860"/><circle cx="1108.3" cy="1104.4" r="10.2" fill="#f0a860"/><circle cx="1108.3" cy="1094.1" r="10.2" fill="#f0a860"/><circle cx="1108.3" cy="1083.8" r="10.2" fill="#f0a860"/><circle cx="1108.3" cy="1073.5" r="10.2" fill="#f0a860"/><circle cx="1108.3" cy="1063.2" r="10.2" fill="#f0a860"/><circle cx="1108.3" cy="1053.0" r="10.2" fill="#f0a860"/><circle cx="1108.3" cy="1042.7" r="10.2" fill="#f0a860"/><circle cx="1108.3" cy="1032.4" r="10.2" fill="#f0a860"/><circle cx="1132.6" cy="1330.5" r="10.2" fill="#f0a860"/><circle cx="1132.6" cy="1320.2" r="10.2" fill="#f0a860"/><circle cx="1132.6" cy="1310.0" r="10.2" fill="#f0a860"/><circle cx="1132.6" cy="1299.7" r="10.2" fill="#f0a860"/><circle cx="1132.6" cy="1289.4" r="10.2" fill="#f0a860"/><circle cx="1132.6" cy="1279.1" r="10.2" fill="#f0a860"/><circle cx="1132.6" cy="1268.8" r="10.2" fill="#f0a860"/><circle cx="1132.6" cy="1258.6" r="10.2" fill="#f0a860"/><circle cx="1132.6" cy="1248.3" r="10.2" fill="#f0a860"/><circle cx="1132.6" cy="1238.0" r="10.2" fill="#d8b870"/><circle cx="1132.6" cy="1227.7" r="10.2" fill="#f0a860"/><circle cx="1132.6" cy="1217.4" r="10.2" fill="#f0a860"/><circle cx="1132.6" cy="1207.2" r="10.2" fill="#f0a860"/><circle cx="1132.6" cy="1196.9" r="10.2" fill="#f0a860"/><circle cx="1132.6" cy="1186.6" r="10.2" fill="#f0a860"/><circle cx="1132.6" cy="1176.3" r="10.2" fill="#f0a860"/><circle cx="1132.6" cy="1166.0" r="10.2" fill="#f0a860"/><circle cx="1132.6" cy="1155.8" r="10.2" fill="#f0a860"/><circle cx="1132.6" cy="1145.5" r="10.2" fill="#f0a860"/><circle cx="1132.6" cy="1135.2" r="10.2" fill="#e0c898"/><circle cx="1132.6" cy="1124.9" r="10.2" fill="#f0a860"/><circle cx="1132.6" cy="1114.6" r="10.2" fill="#f0a860"/><circle cx="1132.6" cy="1104.4" r="10.2" fill="#f0a860"/><circle cx="1132.6" cy="1094.1" r="10.2" fill="#f0a860"/><circle cx="1132.6" cy="1083.8" r="10.2" fill="#f0a860"/><circle cx="1132.6" cy="1073.5" r="10.2" fill="#f0a860"/><circle cx="1132.6" cy="1063.2" r="10.2" fill="#f0a860"/><circle cx="1132.6" cy="1053.0" r="10.2" fill="#f0a860"/><circle cx="1132.6" cy="1042.7" r="10.2" fill="#f0a860"/><circle cx="1132.6" cy="1032.4" r="10.2" fill="#e0a060"/><circle cx="1156.9" cy="1330.5" r="10.2" fill="#f0a860"/><circle cx="1156.9" cy="1320.2" r="10.2" fill="#d07020"/><circle cx="1156.9" cy="1310.0" r="10.2" fill="#f0a860"/><circle cx="1156.9" cy="1299.7" r="10.2" fill="#f0a860"/><circle cx="1156.9" cy="1289.4" r="10.2" fill="#f0a860"/><circle cx="1156.9" cy="1279.1" r="10.2" fill="#f0a860"/><circle cx="1156.9" cy="1268.8" r="10.2" fill="#f0a860"/><circle cx="1156.9" cy="1258.6" r="10.2" fill="#f0a860"/><circle cx="1156.9" cy="1248.3" r="10.2" fill="#f0a860"/><circle cx="1156.9" cy="1238.0" r="10.2" fill="#f0a860"/><circle cx="1156.9" cy="1227.7" r="10.2" fill="#f0a860"/><circle cx="1156.9" cy="1217.4" r="10.2" fill="#f0a860"/><circle cx="1156.9" cy="1207.2" r="10.2" fill="#f0a860"/><circle cx="1156.9" cy="1196.9" r="10.2" fill="#f0a860"/><circle cx="1156.9" cy="1186.6" r="10.2" fill="#f0a860"/><circle cx="1156.9" cy="1176.3" r="10.2" fill="#f0a860"/><circle cx="1156.9" cy="1166.0" r="10.2" fill="#f0a860"/><circle cx="1156.9" cy="1155.8" r="10.2" fill="#f0a860"/><circle cx="1156.9" cy="1145.5" r="10.2" fill="#f0a860"/><circle cx="1156.9" cy="1135.2" r="10.2" fill="#f0a860"/><circle cx="1156.9" cy="1124.9" r="10.2" fill="#f0a860"/><circle cx="1156.9" cy="1114.6" r="10.2" fill="#f0a860"/><circle cx="1156.9" cy="1104.4" r="10.2" fill="#f0a860"/><circle cx="1156.9" cy="1094.1" r="10.2" fill="#f0a860"/><circle cx="1156.9" cy="1083.8" r="10.2" fill="#f0a860"/><circle cx="1156.9" cy="1073.5" r="10.2" fill="#f0a860"/><circle cx="1156.9" cy="1063.2" r="10.2" fill="#f0a860"/><circle cx="1156.9" cy="1053.0" r="10.2" fill="#f0a860"/><circle cx="1156.9" cy="1042.7" r="10.2" fill="#f0a860"/><circle cx="1156.9" cy="1032.4" r="10.2" fill="#e0c898"/>
<rect x="96" y="763.5" width="1101.3" height="588.5" fill="none" stroke="#222" stroke-width="1.5"/>
<line x1="84" y1="1340.0" x2="96" y2="1340.0" stroke="#222" stroke-width="1.3"/>
<text transform="translate(69 1340.6) rotate(-90)" font-size="26.5" text-anchor="middle">0</text>
<line x1="84" y1="1237.2" x2="96" y2="1237.2" stroke="#222" stroke-width="1.3"/>
<text transform="translate(69 1237.8) rotate(-90)" font-size="26.5" text-anchor="middle">10</text>
<line x1="84" y1="1134.4" x2="96" y2="1134.4" stroke="#222" stroke-width="1.3"/>
<text transform="translate(69 1135.0) rotate(-90)" font-size="26.5" text-anchor="middle">20</text>
<line x1="84" y1="1031.6" x2="96" y2="1031.6" stroke="#222" stroke-width="1.3"/>
<text transform="translate(69 1032.2) rotate(-90)" font-size="26.5" text-anchor="middle">30</text>
<line x1="84" y1="928.8" x2="96" y2="928.8" stroke="#222" stroke-width="1.3"/>
<text transform="translate(69 929.4) rotate(-90)" font-size="26.5" text-anchor="middle">40</text>
<line x1="84" y1="826.0" x2="96" y2="826.0" stroke="#222" stroke-width="1.3"/>
<text transform="translate(69 826.6) rotate(-90)" font-size="26.5" text-anchor="middle">50</text>
<text transform="translate(24.1 1057) rotate(-90)" font-size="28.8" text-anchor="middle">Number of Individuals</text>
<line x1="136.9" y1="1352" x2="136.9" y2="1364" stroke="#222" stroke-width="1.3"/>
<text transform="translate(140.0 1438.6) rotate(-90)" font-size="19.4" font-weight="bold">WE-S</text>
<line x1="161.2" y1="1352" x2="161.2" y2="1364" stroke="#222" stroke-width="1.3"/>
<text transform="translate(164.5 1438.6) rotate(-90)" font-size="19.4" font-weight="bold">WE-O1</text>
<line x1="185.5" y1="1352" x2="185.5" y2="1364" stroke="#222" stroke-width="1.3"/>
<text transform="translate(189.0 1438.6) rotate(-90)" font-size="19.4" font-weight="bold">WE-O2</text>
<line x1="209.8" y1="1352" x2="209.8" y2="1364" stroke="#222" stroke-width="1.3"/>
<text transform="translate(213.5 1438.6) rotate(-90)" font-size="19.4" font-weight="bold">WZ-S</text>
<line x1="234.0" y1="1352" x2="234.0" y2="1364" stroke="#222" stroke-width="1.3"/>
<text transform="translate(238.0 1438.6) rotate(-90)" font-size="19.4" font-weight="bold">WZ-O1</text>
<line x1="258.3" y1="1352" x2="258.3" y2="1364" stroke="#222" stroke-width="1.3"/>
<text transform="translate(262.5 1438.6) rotate(-90)" font-size="19.4" font-weight="bold">WZ-O2</text>
<line x1="282.6" y1="1352" x2="282.6" y2="1364" stroke="#222" stroke-width="1.3"/>
<text transform="translate(287.0 1438.6) rotate(-90)" font-size="19.4" font-weight="bold">WZ-O3</text>
<line x1="306.9" y1="1352" x2="306.9" y2="1364" stroke="#222" stroke-width="1.3"/>
<text transform="translate(311.5 1438.6) rotate(-90)" font-size="19.4" font-weight="bold">KO-S</text>
<line x1="331.2" y1="1352" x2="331.2" y2="1364" stroke="#222" stroke-width="1.3"/>
<text transform="translate(336.0 1438.6) rotate(-90)" font-size="19.4" font-weight="bold">KO-O</text>
<line x1="355.5" y1="1352" x2="355.5" y2="1364" stroke="#222" stroke-width="1.3"/>
<text transform="translate(360.5 1438.6) rotate(-90)" font-size="19.4" font-weight="bold">WB-S</text>
<line x1="379.8" y1="1352" x2="379.8" y2="1364" stroke="#222" stroke-width="1.3"/>
<text transform="translate(385.1 1438.6) rotate(-90)" font-size="19.4" font-weight="bold">WB-O</text>
<line x1="404.0" y1="1352" x2="404.0" y2="1364" stroke="#222" stroke-width="1.3"/>
<text transform="translate(409.6 1438.6) rotate(-90)" font-size="19.4" font-weight="bold">NA-S</text>
<line x1="428.3" y1="1352" x2="428.3" y2="1364" stroke="#222" stroke-width="1.3"/>
<text transform="translate(434.1 1438.6) rotate(-90)" font-size="19.4" font-weight="bold">NA-O1</text>
<line x1="452.6" y1="1352" x2="452.6" y2="1364" stroke="#222" stroke-width="1.3"/>
<text transform="translate(458.6 1438.6) rotate(-90)" font-size="19.4" font-weight="bold">NA-O2</text>
<line x1="476.9" y1="1352" x2="476.9" y2="1364" stroke="#222" stroke-width="1.3"/>
<text transform="translate(483.1 1438.6) rotate(-90)" font-size="19.4" font-weight="bold">SU-S</text>
<line x1="501.2" y1="1352" x2="501.2" y2="1364" stroke="#222" stroke-width="1.3"/>
<text transform="translate(507.6 1438.6) rotate(-90)" font-size="19.4" font-weight="bold">SU-O</text>
<line x1="525.5" y1="1352" x2="525.5" y2="1364" stroke="#222" stroke-width="1.3"/>
<text transform="translate(532.1 1438.6) rotate(-90)" font-size="19.4" font-weight="bold">RU-S</text>
<line x1="549.7" y1="1352" x2="549.7" y2="1364" stroke="#222" stroke-width="1.3"/>
<text transform="translate(556.6 1438.6) rotate(-90)" font-size="19.4" font-weight="bold">RU-O</text>
<line x1="574.0" y1="1352" x2="574.0" y2="1364" stroke="#222" stroke-width="1.3"/>
<text transform="translate(581.1 1438.6) rotate(-90)" font-size="19.4" font-weight="bold">AN-S</text>
<line x1="598.3" y1="1352" x2="598.3" y2="1364" stroke="#222" stroke-width="1.3"/>
<text transform="translate(605.6 1438.6) rotate(-90)" font-size="19.4" font-weight="bold">AN-O</text>
<line x1="622.6" y1="1352" x2="622.6" y2="1364" stroke="#222" stroke-width="1.3"/>
<text transform="translate(630.1 1438.6) rotate(-90)" font-size="19.4" font-weight="bold">ST-S</text>
<line x1="646.9" y1="1352" x2="646.9" y2="1364" stroke="#222" stroke-width="1.3"/>
<text transform="translate(654.6 1438.6) rotate(-90)" font-size="19.4" font-weight="bold">ST-O1</text>
<line x1="671.2" y1="1352" x2="671.2" y2="1364" stroke="#222" stroke-width="1.3"/>
<text transform="translate(679.1 1438.6) rotate(-90)" font-size="19.4" font-weight="bold">ST-O2</text>
<line x1="695.5" y1="1352" x2="695.5" y2="1364" stroke="#222" stroke-width="1.3"/>
<text transform="translate(703.6 1438.6) rotate(-90)" font-size="19.4" font-weight="bold">RO-S</text>
<line x1="719.7" y1="1352" x2="719.7" y2="1364" stroke="#222" stroke-width="1.3"/>
<text transform="translate(728.1 1438.6) rotate(-90)" font-size="19.4" font-weight="bold">RO-O1</text>
<line x1="744.0" y1="1352" x2="744.0" y2="1364" stroke="#222" stroke-width="1.3"/>
<text transform="translate(752.6 1438.6) rotate(-90)" font-size="19.4" font-weight="bold">RO-O2</text>
<line x1="768.3" y1="1352" x2="768.3" y2="1364" stroke="#222" stroke-width="1.3"/>
<text transform="translate(777.1 1438.6) rotate(-90)" font-size="19.4" font-weight="bold">RO-O3</text>
<line x1="792.6" y1="1352" x2="792.6" y2="1364" stroke="#222" stroke-width="1.3"/>
<text transform="translate(801.6 1438.6) rotate(-90)" font-size="19.4" font-weight="bold">AI-S</text>
<line x1="816.9" y1="1352" x2="816.9" y2="1364" stroke="#222" stroke-width="1.3"/>
<text transform="translate(826.1 1438.6) rotate(-90)" font-size="19.4" font-weight="bold">AI-O</text>
<line x1="841.2" y1="1352" x2="841.2" y2="1364" stroke="#222" stroke-width="1.3"/>
<text transform="translate(850.6 1438.6) rotate(-90)" font-size="19.4" font-weight="bold">BC-S</text>
<line x1="865.4" y1="1352" x2="865.4" y2="1364" stroke="#222" stroke-width="1.3"/>
<text transform="translate(875.1 1438.6) rotate(-90)" font-size="19.4" font-weight="bold">BC-O1</text>
<line x1="889.7" y1="1352" x2="889.7" y2="1364" stroke="#222" stroke-width="1.3"/>
<text transform="translate(899.7 1438.6) rotate(-90)" font-size="19.4" font-weight="bold">BC-O2</text>
<line x1="914.0" y1="1352" x2="914.0" y2="1364" stroke="#222" stroke-width="1.3"/>
<text transform="translate(924.2 1438.6) rotate(-90)" font-size="19.4" font-weight="bold">BC-O3</text>
<line x1="938.3" y1="1352" x2="938.3" y2="1364" stroke="#222" stroke-width="1.3"/>
<text transform="translate(948.7 1438.6) rotate(-90)" font-size="19.4" font-weight="bold">BC-O4</text>
<line x1="962.6" y1="1352" x2="962.6" y2="1364" stroke="#222" stroke-width="1.3"/>
<text transform="translate(973.2 1438.6) rotate(-90)" font-size="19.4" font-weight="bold">LO-S</text>
<line x1="986.9" y1="1352" x2="986.9" y2="1364" stroke="#222" stroke-width="1.3"/>
<text transform="translate(997.7 1438.6) rotate(-90)" font-size="19.4" font-weight="bold">LO-O1</text>
<line x1="1011.2" y1="1352" x2="1011.2" y2="1364" stroke="#222" stroke-width="1.3"/>
<text transform="translate(1022.2 1438.6) rotate(-90)" font-size="19.4" font-weight="bold">LO-O2</text>
<line x1="1035.4" y1="1352" x2="1035.4" y2="1364" stroke="#222" stroke-width="1.3"/>
<text transform="translate(1046.7 1438.6) rotate(-90)" font-size="19.4" font-weight="bold">LO-O3</text>
<line x1="1059.7" y1="1352" x2="1059.7" y2="1364" stroke="#222" stroke-width="1.3"/>
<text transform="translate(1071.2 1438.6) rotate(-90)" font-size="19.4" font-weight="bold">LO-O4</text>
<line x1="1084.0" y1="1352" x2="1084.0" y2="1364" stroke="#222" stroke-width="1.3"/>
<text transform="translate(1095.7 1438.6) rotate(-90)" font-size="19.4" font-weight="bold">EL-S</text>
<line x1="1108.3" y1="1352" x2="1108.3" y2="1364" stroke="#222" stroke-width="1.3"/>
<text transform="translate(1120.2 1438.6) rotate(-90)" font-size="19.4" font-weight="bold">EL-O1</text>
<line x1="1132.6" y1="1352" x2="1132.6" y2="1364" stroke="#222" stroke-width="1.3"/>
<text transform="translate(1144.7 1438.6) rotate(-90)" font-size="19.4" font-weight="bold">EL-O2</text>
<line x1="1156.9" y1="1352" x2="1156.9" y2="1364" stroke="#222" stroke-width="1.3"/>
<text transform="translate(1169.2 1438.6) rotate(-90)" font-size="19.4" font-weight="bold">EL-O3</text>
<text x="1129.8" y="827.2" font-size="43" font-weight="bold">B</text>
</g>
</svg></body></html>
